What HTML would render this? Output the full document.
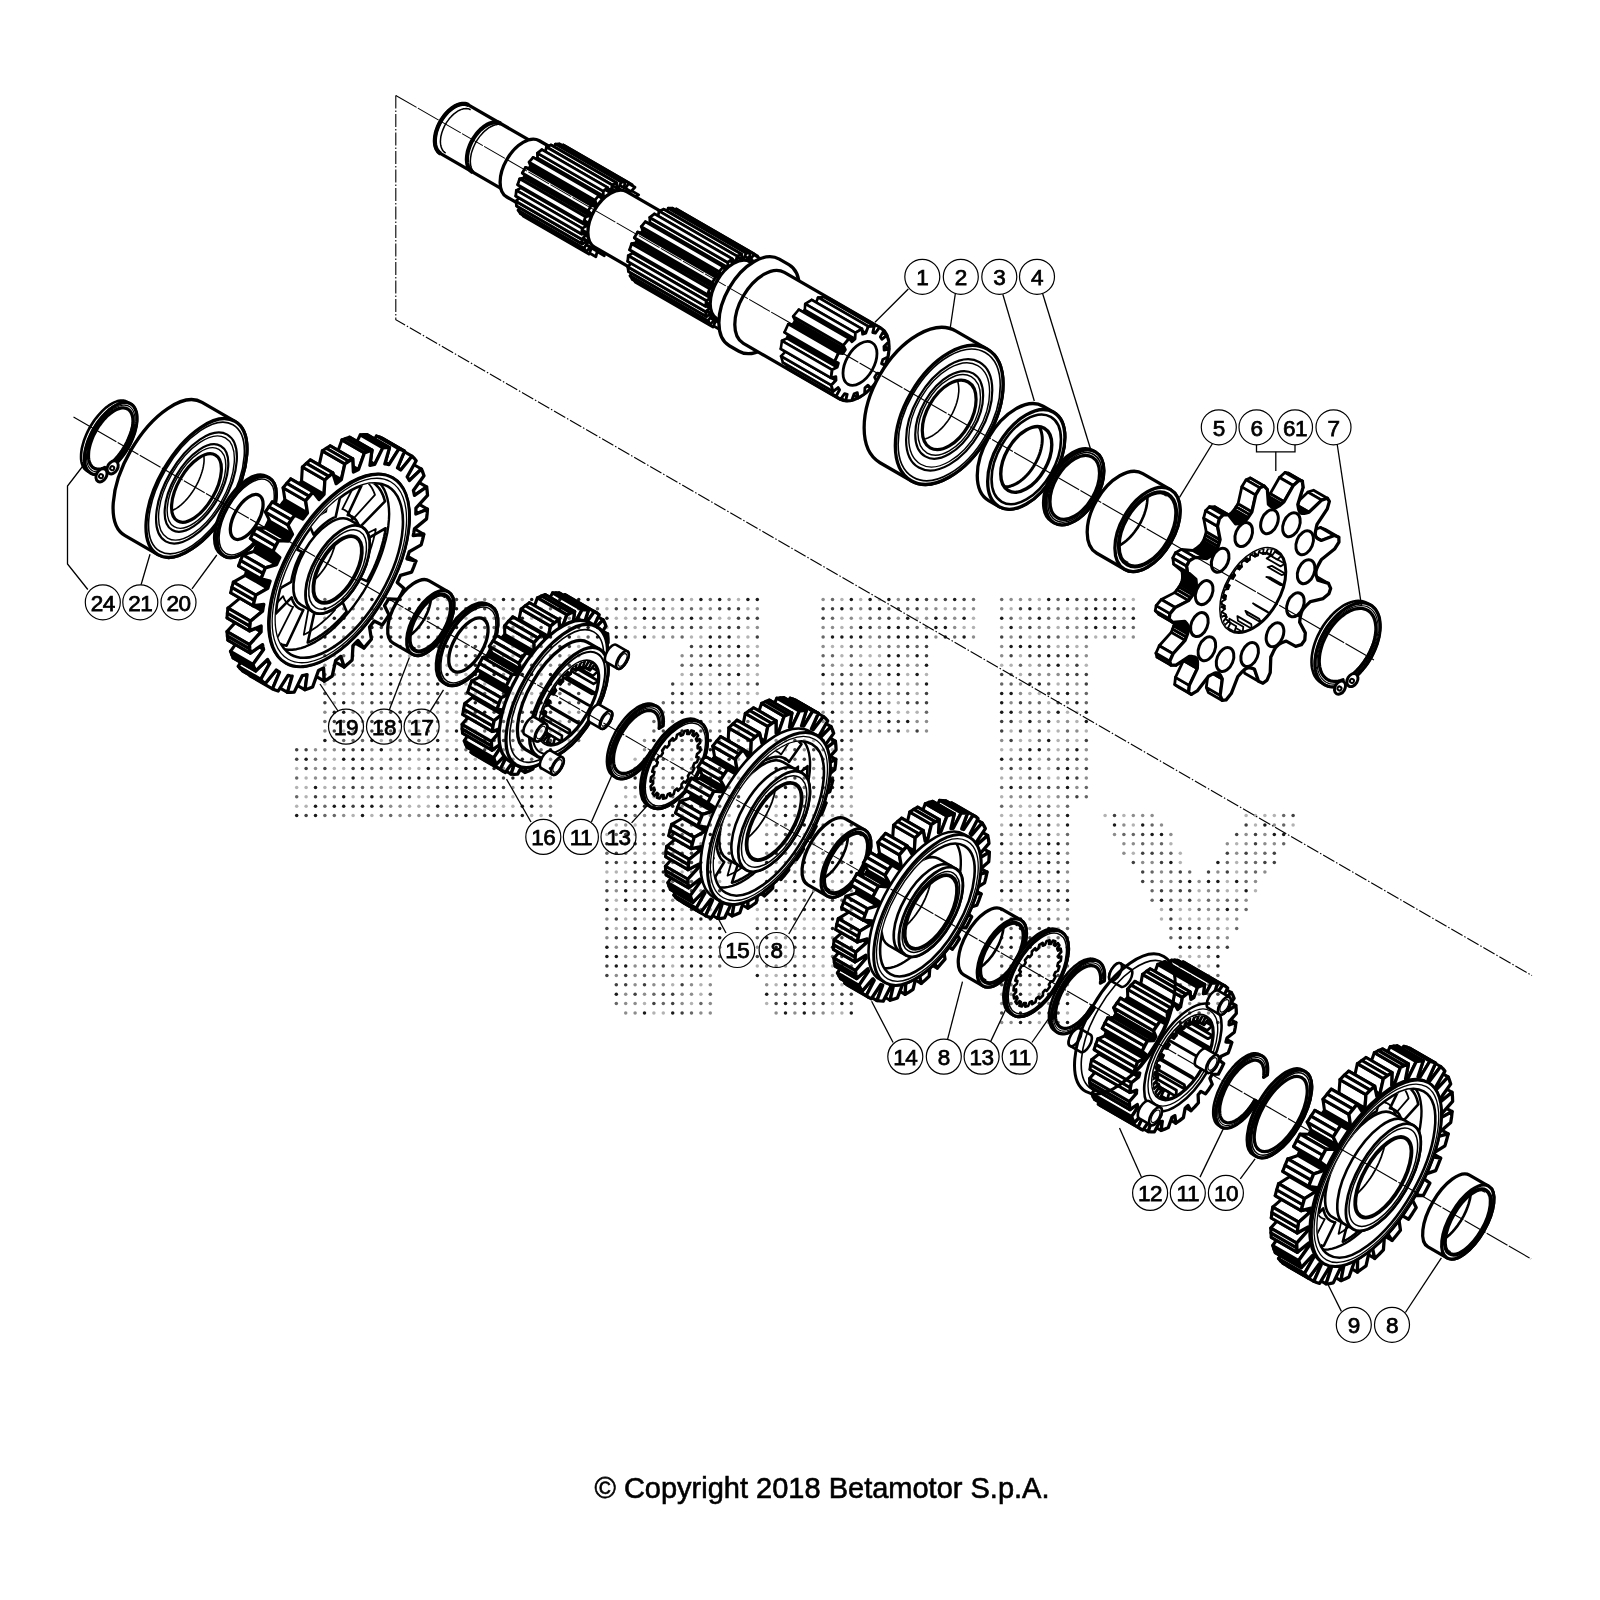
<!DOCTYPE html>
<html><head><meta charset="utf-8"><style>
html,body{margin:0;padding:0;background:#fff;}
svg{display:block;}
</style></head><body>
<svg width="1600" height="1600" viewBox="0 0 1600 1600" font-family="Liberation Sans, sans-serif">
<rect width="1600" height="1600" fill="#fff"/>
<path d="M395.8,95.4 L395.8,319.7 L1532,975.5" fill="none" stroke="#000" stroke-width="1.1" stroke-dasharray="13,2,1.5,2"/>
<g transform="translate(395.8,95.4) rotate(30)">
<path d="M68.0,-28.0 L147.0,-28.0 A16.2,28.0 0 0 1 147.0,28.0 L68.0,28.0 A16.2,28.0 0 0 1 68.0,-28.0 Z" fill="#fff" stroke="#000" stroke-width="3.3"/>
<path d="M68.0,28.0 L66.7,27.9 L65.5,27.7 L64.2,27.2 L63.0,26.6 L61.8,25.9 L60.6,24.9 L59.5,23.9 L58.5,22.7 L57.5,21.3 L56.5,19.8 L55.7,18.2 L54.9,16.5 L54.2,14.6 L53.5,12.7 L53.0,10.7 L52.6,8.7 L52.2,6.5 L52.0,4.4 L51.8,2.2 L51.8,0.0 L51.8,-2.2 L52.0,-4.4 L52.2,-6.5 L52.6,-8.7 L53.0,-10.7 L53.5,-12.7 L54.2,-14.6 L54.9,-16.5 L55.7,-18.2 L56.5,-19.8 L57.5,-21.3 L58.5,-22.7 L59.5,-23.9 L60.6,-24.9 L61.8,-25.9 L63.0,-26.6 L64.2,-27.2 L65.5,-27.7 L66.7,-27.9 L68.0,-28.0" fill="none" stroke="#000" stroke-width="4.2" stroke-linejoin="round"/>
<path d="M72.0,25.0 L70.9,24.9 L69.7,24.7 L68.6,24.3 L67.5,23.8 L66.5,23.1 L65.4,22.3 L64.4,21.3 L63.5,20.2 L62.6,19.0 L61.7,17.7 L61.0,16.2 L60.3,14.7 L59.6,13.1 L59.1,11.3 L58.6,9.6 L58.2,7.7 L57.9,5.8 L57.7,3.9 L57.5,2.0 L57.5,0.0 L57.5,-2.0 L57.7,-3.9 L57.9,-5.8 L58.2,-7.7 L58.6,-9.6 L59.1,-11.3 L59.6,-13.1 L60.3,-14.7 L61.0,-16.2 L61.7,-17.7 L62.6,-19.0 L63.5,-20.2 L64.4,-21.3 L65.4,-22.3 L66.5,-23.1 L67.5,-23.8 L68.6,-24.3 L69.7,-24.7 L70.9,-24.9 L72.0,-25.0" fill="none" stroke="#000" stroke-width="1.5" stroke-linejoin="round"/>
<path d="M105.0,28.0 L103.7,27.9 L102.5,27.7 L101.2,27.2 L100.0,26.6 L98.8,25.9 L97.6,24.9 L96.5,23.9 L95.5,22.7 L94.5,21.3 L93.5,19.8 L92.7,18.2 L91.9,16.5 L91.2,14.6 L90.5,12.7 L90.0,10.7 L89.6,8.7 L89.2,6.5 L89.0,4.4 L88.8,2.2 L88.8,0.0 L88.8,-2.2 L89.0,-4.4 L89.2,-6.5 L89.6,-8.7 L90.0,-10.7 L90.5,-12.7 L91.2,-14.6 L91.9,-16.5 L92.7,-18.2 L93.5,-19.8 L94.5,-21.3 L95.5,-22.7 L96.5,-23.9 L97.6,-24.9 L98.8,-25.9 L100.0,-26.6 L101.2,-27.2 L102.5,-27.7 L103.7,-27.9 L105.0,-28.0" fill="none" stroke="#000" stroke-width="4.2" stroke-linejoin="round"/>
<path d="M109.0,28.0 L107.7,27.9 L106.5,27.7 L105.2,27.2 L104.0,26.6 L102.8,25.9 L101.6,24.9 L100.5,23.9 L99.5,22.7 L98.5,21.3 L97.5,19.8 L96.7,18.2 L95.9,16.5 L95.2,14.6 L94.5,12.7 L94.0,10.7 L93.6,8.7 L93.2,6.5 L93.0,4.4 L92.8,2.2 L92.8,0.0 L92.8,-2.2 L93.0,-4.4 L93.2,-6.5 L93.6,-8.7 L94.0,-10.7 L94.5,-12.7 L95.2,-14.6 L95.9,-16.5 L96.7,-18.2 L97.5,-19.8 L98.5,-21.3 L99.5,-22.7 L100.5,-23.9 L101.6,-24.9 L102.8,-25.9 L104.0,-26.6 L105.2,-27.2 L106.5,-27.7 L107.7,-27.9 L109.0,-28.0" fill="none" stroke="#000" stroke-width="1.5" stroke-linejoin="round"/>
<path d="M147.0,-32.5 L180.0,-32.5 A18.8,32.5 0 0 1 180.0,32.5 L147.0,32.5 A18.8,32.5 0 0 1 147.0,-32.5 Z" fill="#fff" stroke="#000" stroke-width="3.3"/>
<path d="M194.1,15.0 L190.6,14.1 L266.6,14.1 L270.1,15.0 Z" fill="#fff" stroke="#000" stroke-width="2.8" stroke-linejoin="round"/>
<path d="M190.3,-15.2 L193.8,-16.4 L269.8,-16.4 L266.3,-15.2 Z" fill="#fff" stroke="#000" stroke-width="2.8" stroke-linejoin="round"/>
<path d="M190.4,26.1 L187.1,23.3 L263.1,23.3 L266.4,26.1 Z" fill="#fff" stroke="#000" stroke-width="2.8" stroke-linejoin="round"/>
<path d="M186.7,-24.2 L189.8,-27.2 L265.8,-27.2 L262.7,-24.2 Z" fill="#fff" stroke="#000" stroke-width="2.8" stroke-linejoin="round"/>
<path d="M184.8,34.6 L182.2,30.2 L258.2,30.2 L260.8,34.6 Z" fill="#fff" stroke="#000" stroke-width="2.8" stroke-linejoin="round"/>
<path d="M181.6,-30.8 L184.1,-35.3 L260.1,-35.3 L257.6,-30.8 Z" fill="#fff" stroke="#000" stroke-width="2.8" stroke-linejoin="round"/>
<path d="M178.0,39.7 L176.3,34.2 L252.3,34.2 L254.0,39.7 Z" fill="#fff" stroke="#000" stroke-width="2.8" stroke-linejoin="round"/>
<path d="M175.6,-34.4 L177.1,-40.0 L253.1,-40.0 L251.6,-34.4 Z" fill="#fff" stroke="#000" stroke-width="2.8" stroke-linejoin="round"/>
<path d="M169.7,-40.8 L173.4,-40.9 L249.4,-40.9 L245.7,-40.8 Z" fill="#fff" stroke="#000" stroke-width="2.8" stroke-linejoin="round"/>
<path d="M170.6,40.9 L170.0,34.8 L246.0,34.8 L246.6,40.9 Z" fill="#fff" stroke="#000" stroke-width="2.8" stroke-linejoin="round"/>
<path d="M169.3,-34.7 L169.7,-40.8 L245.7,-40.8 L245.3,-34.7 Z" fill="#fff" stroke="#000" stroke-width="2.8" stroke-linejoin="round"/>
<path d="M170.0,34.8 L168.4,34.4 L244.4,34.4 L246.0,34.8 Z" fill="#000" stroke="#000" stroke-width="2.8" stroke-linejoin="round"/>
<path d="M167.7,-34.2 L169.3,-34.7 L245.3,-34.7 L243.7,-34.2 Z" fill="#000" stroke="#000" stroke-width="2.8" stroke-linejoin="round"/>
<path d="M168.4,34.4 L166.9,40.0 L242.9,40.0 L244.4,34.4 Z" fill="#fff" stroke="#000" stroke-width="2.8" stroke-linejoin="round"/>
<path d="M166.0,-39.7 L167.7,-34.2 L243.7,-34.2 L242.0,-39.7 Z" fill="#fff" stroke="#000" stroke-width="2.8" stroke-linejoin="round"/>
<path d="M166.9,40.0 L163.3,38.2 L239.3,38.2 L242.9,40.0 Z" fill="#fff" stroke="#000" stroke-width="2.8" stroke-linejoin="round"/>
<path d="M162.5,-37.6 L166.0,-39.7 L242.0,-39.7 L238.5,-37.6 Z" fill="#fff" stroke="#000" stroke-width="2.8" stroke-linejoin="round"/>
<path d="M163.3,38.2 L163.8,32.0 L239.8,32.0 L239.3,38.2 Z" fill="#fff" stroke="#000" stroke-width="2.8" stroke-linejoin="round"/>
<path d="M163.8,32.0 L162.4,30.8 L238.4,30.8 L239.8,32.0 Z" fill="#000" stroke="#000" stroke-width="2.8" stroke-linejoin="round"/>
<path d="M163.2,-31.5 L162.5,-37.6 L238.5,-37.6 L239.2,-31.5 Z" fill="#fff" stroke="#000" stroke-width="2.8" stroke-linejoin="round"/>
<path d="M161.8,-30.2 L163.2,-31.5 L239.2,-31.5 L237.8,-30.2 Z" fill="#000" stroke="#000" stroke-width="2.8" stroke-linejoin="round"/>
<path d="M162.4,30.8 L159.9,35.3 L235.9,35.3 L238.4,30.8 Z" fill="#fff" stroke="#000" stroke-width="2.8" stroke-linejoin="round"/>
<path d="M159.2,-34.6 L161.8,-30.2 L237.8,-30.2 L235.2,-34.6 Z" fill="#fff" stroke="#000" stroke-width="2.8" stroke-linejoin="round"/>
<path d="M159.9,35.3 L156.9,31.6 L232.9,31.6 L235.9,35.3 Z" fill="#fff" stroke="#000" stroke-width="2.8" stroke-linejoin="round"/>
<path d="M158.5,26.1 L157.3,24.2 L233.3,24.2 L234.5,26.1 Z" fill="#000" stroke="#000" stroke-width="2.8" stroke-linejoin="round"/>
<path d="M156.2,-30.7 L159.2,-34.6 L235.2,-34.6 L232.2,-30.7 Z" fill="#fff" stroke="#000" stroke-width="2.8" stroke-linejoin="round"/>
<path d="M156.9,31.6 L158.5,26.1 L234.5,26.1 L232.9,31.6 Z" fill="#fff" stroke="#000" stroke-width="2.8" stroke-linejoin="round"/>
<path d="M156.9,-23.3 L158.0,-25.3 L234.0,-25.3 L232.9,-23.3 Z" fill="#000" stroke="#000" stroke-width="2.8" stroke-linejoin="round"/>
<path d="M158.0,-25.3 L156.2,-30.7 L232.2,-30.7 L234.0,-25.3 Z" fill="#fff" stroke="#000" stroke-width="2.8" stroke-linejoin="round"/>
<path d="M157.3,24.2 L154.2,27.2 L230.2,27.2 L233.3,24.2 Z" fill="#fff" stroke="#000" stroke-width="2.8" stroke-linejoin="round"/>
<path d="M153.6,-26.1 L156.9,-23.3 L232.9,-23.3 L229.6,-26.1 Z" fill="#fff" stroke="#000" stroke-width="2.8" stroke-linejoin="round"/>
<path d="M154.5,17.6 L153.7,15.2 L229.7,15.2 L230.5,17.6 Z" fill="#000" stroke="#000" stroke-width="2.8" stroke-linejoin="round"/>
<path d="M153.4,-14.1 L154.1,-16.6 L230.1,-16.6 L229.4,-14.1 Z" fill="#000" stroke="#000" stroke-width="2.8" stroke-linejoin="round"/>
<path d="M151.9,22.0 L154.5,17.6 L230.5,17.6 L227.9,22.0 Z" fill="#fff" stroke="#000" stroke-width="2.8" stroke-linejoin="round"/>
<path d="M154.2,27.2 L151.9,22.0 L227.9,22.0 L230.2,27.2 Z" fill="#fff" stroke="#000" stroke-width="2.8" stroke-linejoin="round"/>
<path d="M154.1,-16.6 L151.5,-20.8 L227.5,-20.8 L230.1,-16.6 Z" fill="#fff" stroke="#000" stroke-width="2.8" stroke-linejoin="round"/>
<path d="M151.5,-20.8 L153.6,-26.1 L229.6,-26.1 L227.5,-20.8 Z" fill="#fff" stroke="#000" stroke-width="2.8" stroke-linejoin="round"/>
<path d="M152.2,7.4 L151.9,4.7 L227.9,4.7 L228.2,7.4 Z" fill="#000" stroke="#000" stroke-width="2.8" stroke-linejoin="round"/>
<path d="M153.7,15.2 L150.2,16.4 L226.2,16.4 L229.7,15.2 Z" fill="#fff" stroke="#000" stroke-width="2.8" stroke-linejoin="round"/>
<path d="M151.8,-3.5 L152.0,-6.2 L228.0,-6.2 L227.8,-3.5 Z" fill="#000" stroke="#000" stroke-width="2.8" stroke-linejoin="round"/>
<path d="M149.9,-15.0 L153.4,-14.1 L229.4,-14.1 L225.9,-15.0 Z" fill="#fff" stroke="#000" stroke-width="2.8" stroke-linejoin="round"/>
<path d="M149.0,10.3 L152.2,7.4 L228.2,7.4 L225.0,10.3 Z" fill="#fff" stroke="#000" stroke-width="2.8" stroke-linejoin="round"/>
<path d="M152.0,-6.2 L148.8,-8.9 L224.8,-8.9 L228.0,-6.2 Z" fill="#fff" stroke="#000" stroke-width="2.8" stroke-linejoin="round"/>
<path d="M151.9,4.7 L148.3,3.9 L224.3,3.9 L227.9,4.7 Z" fill="#fff" stroke="#000" stroke-width="2.8" stroke-linejoin="round"/>
<path d="M148.3,-2.5 L151.8,-3.5 L227.8,-3.5 L224.3,-2.5 Z" fill="#fff" stroke="#000" stroke-width="2.8" stroke-linejoin="round"/>
<path d="M150.2,16.4 L149.0,10.3 L225.0,10.3 L226.2,16.4 Z" fill="#fff" stroke="#000" stroke-width="2.8" stroke-linejoin="round"/>
<path d="M148.8,-8.9 L149.9,-15.0 L225.9,-15.0 L224.8,-8.9 Z" fill="#fff" stroke="#000" stroke-width="2.8" stroke-linejoin="round"/>
<path d="M148.3,3.9 L148.3,-2.5 L224.3,-2.5 L224.3,3.9 Z" fill="#fff" stroke="#000" stroke-width="2.8" stroke-linejoin="round"/>
<path d="M248.0,-32.0 L305.0,-32.0 A18.6,32.0 0 0 1 305.0,32.0 L248.0,32.0 A18.6,32.0 0 0 1 248.0,-32.0 Z" fill="#fff" stroke="#000" stroke-width="3.3"/>
<path d="M324.7,15.4 L321.1,14.5 L411.1,14.5 L414.7,15.4 Z" fill="#fff" stroke="#000" stroke-width="2.8" stroke-linejoin="round"/>
<path d="M320.8,-15.7 L324.3,-16.8 L414.3,-16.8 L410.8,-15.7 Z" fill="#fff" stroke="#000" stroke-width="2.8" stroke-linejoin="round"/>
<path d="M320.8,26.7 L317.6,24.0 L407.6,24.0 L410.8,26.7 Z" fill="#fff" stroke="#000" stroke-width="2.8" stroke-linejoin="round"/>
<path d="M317.1,-24.9 L320.2,-27.8 L410.2,-27.8 L407.1,-24.9 Z" fill="#fff" stroke="#000" stroke-width="2.8" stroke-linejoin="round"/>
<path d="M315.1,35.4 L312.5,31.1 L402.5,31.1 L405.1,35.4 Z" fill="#fff" stroke="#000" stroke-width="2.8" stroke-linejoin="round"/>
<path d="M311.9,-31.7 L314.4,-36.2 L404.4,-36.2 L401.9,-31.7 Z" fill="#fff" stroke="#000" stroke-width="2.8" stroke-linejoin="round"/>
<path d="M308.1,40.7 L306.4,35.2 L396.4,35.2 L398.1,40.7 Z" fill="#fff" stroke="#000" stroke-width="2.8" stroke-linejoin="round"/>
<path d="M305.7,-35.4 L307.3,-41.0 L397.3,-41.0 L395.7,-35.4 Z" fill="#fff" stroke="#000" stroke-width="2.8" stroke-linejoin="round"/>
<path d="M299.7,-41.8 L303.5,-41.9 L393.5,-41.9 L389.7,-41.8 Z" fill="#fff" stroke="#000" stroke-width="2.8" stroke-linejoin="round"/>
<path d="M300.5,41.9 L299.9,35.8 L389.9,35.8 L390.5,41.9 Z" fill="#fff" stroke="#000" stroke-width="2.8" stroke-linejoin="round"/>
<path d="M299.2,-35.7 L299.7,-41.8 L389.7,-41.8 L389.2,-35.7 Z" fill="#fff" stroke="#000" stroke-width="2.8" stroke-linejoin="round"/>
<path d="M299.9,35.8 L298.3,35.4 L388.3,35.4 L389.9,35.8 Z" fill="#000" stroke="#000" stroke-width="2.8" stroke-linejoin="round"/>
<path d="M297.6,-35.2 L299.2,-35.7 L389.2,-35.7 L387.6,-35.2 Z" fill="#000" stroke="#000" stroke-width="2.8" stroke-linejoin="round"/>
<path d="M298.3,35.4 L296.7,41.0 L386.7,41.0 L388.3,35.4 Z" fill="#fff" stroke="#000" stroke-width="2.8" stroke-linejoin="round"/>
<path d="M295.9,-40.7 L297.6,-35.2 L387.6,-35.2 L385.9,-40.7 Z" fill="#fff" stroke="#000" stroke-width="2.8" stroke-linejoin="round"/>
<path d="M296.7,41.0 L293.1,39.1 L383.1,39.1 L386.7,41.0 Z" fill="#fff" stroke="#000" stroke-width="2.8" stroke-linejoin="round"/>
<path d="M292.3,-38.5 L295.9,-40.7 L385.9,-40.7 L382.3,-38.5 Z" fill="#fff" stroke="#000" stroke-width="2.8" stroke-linejoin="round"/>
<path d="M293.1,39.1 L293.6,33.0 L383.6,33.0 L383.1,39.1 Z" fill="#fff" stroke="#000" stroke-width="2.8" stroke-linejoin="round"/>
<path d="M293.6,33.0 L292.1,31.7 L382.1,31.7 L383.6,33.0 Z" fill="#000" stroke="#000" stroke-width="2.8" stroke-linejoin="round"/>
<path d="M292.9,-32.4 L292.3,-38.5 L382.3,-38.5 L382.9,-32.4 Z" fill="#fff" stroke="#000" stroke-width="2.8" stroke-linejoin="round"/>
<path d="M291.5,-31.1 L292.9,-32.4 L382.9,-32.4 L381.5,-31.1 Z" fill="#000" stroke="#000" stroke-width="2.8" stroke-linejoin="round"/>
<path d="M292.1,31.7 L289.6,36.2 L379.6,36.2 L382.1,31.7 Z" fill="#fff" stroke="#000" stroke-width="2.8" stroke-linejoin="round"/>
<path d="M288.9,-35.4 L291.5,-31.1 L381.5,-31.1 L378.9,-35.4 Z" fill="#fff" stroke="#000" stroke-width="2.8" stroke-linejoin="round"/>
<path d="M289.6,36.2 L286.5,32.4 L376.5,32.4 L379.6,36.2 Z" fill="#fff" stroke="#000" stroke-width="2.8" stroke-linejoin="round"/>
<path d="M288.1,26.9 L286.9,24.9 L376.9,24.9 L378.1,26.9 Z" fill="#000" stroke="#000" stroke-width="2.8" stroke-linejoin="round"/>
<path d="M285.9,-31.4 L288.9,-35.4 L378.9,-35.4 L375.9,-31.4 Z" fill="#fff" stroke="#000" stroke-width="2.8" stroke-linejoin="round"/>
<path d="M286.5,32.4 L288.1,26.9 L378.1,26.9 L376.5,32.4 Z" fill="#fff" stroke="#000" stroke-width="2.8" stroke-linejoin="round"/>
<path d="M286.4,-24.0 L287.6,-26.0 L377.6,-26.0 L376.4,-24.0 Z" fill="#000" stroke="#000" stroke-width="2.8" stroke-linejoin="round"/>
<path d="M287.6,-26.0 L285.9,-31.4 L375.9,-31.4 L377.6,-26.0 Z" fill="#fff" stroke="#000" stroke-width="2.8" stroke-linejoin="round"/>
<path d="M286.9,24.9 L283.8,27.8 L373.8,27.8 L376.9,24.9 Z" fill="#fff" stroke="#000" stroke-width="2.8" stroke-linejoin="round"/>
<path d="M283.2,-26.7 L286.4,-24.0 L376.4,-24.0 L373.2,-26.7 Z" fill="#fff" stroke="#000" stroke-width="2.8" stroke-linejoin="round"/>
<path d="M284.0,18.1 L283.2,15.7 L373.2,15.7 L374.0,18.1 Z" fill="#000" stroke="#000" stroke-width="2.8" stroke-linejoin="round"/>
<path d="M282.9,-14.5 L283.6,-17.0 L373.6,-17.0 L372.9,-14.5 Z" fill="#000" stroke="#000" stroke-width="2.8" stroke-linejoin="round"/>
<path d="M281.5,22.6 L284.0,18.1 L374.0,18.1 L371.5,22.6 Z" fill="#fff" stroke="#000" stroke-width="2.8" stroke-linejoin="round"/>
<path d="M283.8,27.8 L281.5,22.6 L371.5,22.6 L373.8,27.8 Z" fill="#fff" stroke="#000" stroke-width="2.8" stroke-linejoin="round"/>
<path d="M283.6,-17.0 L281.0,-21.3 L371.0,-21.3 L373.6,-17.0 Z" fill="#fff" stroke="#000" stroke-width="2.8" stroke-linejoin="round"/>
<path d="M281.0,-21.3 L283.2,-26.7 L373.2,-26.7 L371.0,-21.3 Z" fill="#fff" stroke="#000" stroke-width="2.8" stroke-linejoin="round"/>
<path d="M281.6,7.7 L281.3,4.9 L371.3,4.9 L371.6,7.7 Z" fill="#000" stroke="#000" stroke-width="2.8" stroke-linejoin="round"/>
<path d="M283.2,15.7 L279.7,16.8 L369.7,16.8 L373.2,15.7 Z" fill="#fff" stroke="#000" stroke-width="2.8" stroke-linejoin="round"/>
<path d="M281.2,-3.6 L281.5,-6.4 L371.5,-6.4 L371.2,-3.6 Z" fill="#000" stroke="#000" stroke-width="2.8" stroke-linejoin="round"/>
<path d="M279.3,-15.4 L282.9,-14.5 L372.9,-14.5 L369.3,-15.4 Z" fill="#fff" stroke="#000" stroke-width="2.8" stroke-linejoin="round"/>
<path d="M278.4,10.5 L281.6,7.7 L371.6,7.7 L368.4,10.5 Z" fill="#fff" stroke="#000" stroke-width="2.8" stroke-linejoin="round"/>
<path d="M281.5,-6.4 L278.2,-9.1 L368.2,-9.1 L371.5,-6.4 Z" fill="#fff" stroke="#000" stroke-width="2.8" stroke-linejoin="round"/>
<path d="M281.3,4.9 L277.8,4.0 L367.8,4.0 L371.3,4.9 Z" fill="#fff" stroke="#000" stroke-width="2.8" stroke-linejoin="round"/>
<path d="M277.7,-2.5 L281.2,-3.6 L371.2,-3.6 L367.7,-2.5 Z" fill="#fff" stroke="#000" stroke-width="2.8" stroke-linejoin="round"/>
<path d="M279.7,16.8 L278.4,10.5 L368.4,10.5 L369.7,16.8 Z" fill="#fff" stroke="#000" stroke-width="2.8" stroke-linejoin="round"/>
<path d="M278.2,-9.1 L279.3,-15.4 L369.3,-15.4 L368.2,-9.1 Z" fill="#fff" stroke="#000" stroke-width="2.8" stroke-linejoin="round"/>
<path d="M277.8,4.0 L277.7,-2.5 L367.7,-2.5 L367.8,4.0 Z" fill="#fff" stroke="#000" stroke-width="2.8" stroke-linejoin="round"/>
<path d="M390.0,-33.0 L418.0,-33.0 A19.1,33.0 0 0 1 418.0,33.0 L390.0,33.0 A19.1,33.0 0 0 1 390.0,-33.0 Z" fill="#fff" stroke="#000" stroke-width="3.3"/>
<path d="M414.0,-50.0 L425.0,-50.0 A29.0,50.0 0 0 1 425.0,50.0 L414.0,50.0 A29.0,50.0 0 0 1 414.0,-50.0 Z" fill="#fff" stroke="#000" stroke-width="3.3"/>
<path d="M425.0,-41.0 L536.0,-41.0 A23.8,41.0 0 0 1 536.0,41.0 L425.0,41.0 A23.8,41.0 0 0 1 425.0,-41.0 Z" fill="#fff" stroke="#000" stroke-width="3.3"/>
<path d="M496.8,-10.5 L500.9,-10.9 L558.9,-10.9 L554.8,-10.5 Z" fill="#fff" stroke="#000" stroke-width="2.6" stroke-linejoin="round"/>
<path d="M499.9,16.1 L495.8,14.8 L553.8,14.8 L557.9,16.1 Z" fill="#fff" stroke="#000" stroke-width="2.6" stroke-linejoin="round"/>
<path d="M492.3,-23.5 L495.9,-27.0 L553.9,-27.0 L550.3,-23.5 Z" fill="#fff" stroke="#000" stroke-width="2.6" stroke-linejoin="round"/>
<path d="M493.6,30.9 L490.3,26.6 L548.3,26.6 L551.6,30.9 Z" fill="#fff" stroke="#000" stroke-width="2.6" stroke-linejoin="round"/>
<path d="M484.9,-31.8 L487.3,-37.7 L545.3,-37.7 L542.9,-31.8 Z" fill="#fff" stroke="#000" stroke-width="2.6" stroke-linejoin="round"/>
<path d="M484.3,39.5 L482.4,33.1 L540.4,33.1 L542.3,39.5 Z" fill="#fff" stroke="#000" stroke-width="2.6" stroke-linejoin="round"/>
<path d="M476.2,-33.9 L476.9,-41.0 L534.9,-41.0 L534.2,-33.9 Z" fill="#fff" stroke="#000" stroke-width="2.6" stroke-linejoin="round"/>
<path d="M479.1,41.0 L473.8,40.3 L531.8,40.3 L537.1,41.0 Z" fill="#fff" stroke="#000" stroke-width="2.6" stroke-linejoin="round"/>
<path d="M473.6,-33.1 L476.2,-33.9 L534.2,-33.9 L531.6,-33.1 Z" fill="#000" stroke="#000" stroke-width="2.6" stroke-linejoin="round"/>
<path d="M473.8,40.3 L473.6,33.1 L531.6,33.1 L531.8,40.3 Z" fill="#fff" stroke="#000" stroke-width="2.6" stroke-linejoin="round"/>
<path d="M471.7,-39.5 L473.6,-33.1 L531.6,-33.1 L529.7,-39.5 Z" fill="#fff" stroke="#000" stroke-width="2.6" stroke-linejoin="round"/>
<path d="M473.6,33.1 L471.1,31.8 L529.1,31.8 L531.6,33.1 Z" fill="#000" stroke="#000" stroke-width="2.6" stroke-linejoin="round"/>
<path d="M471.1,31.8 L468.7,37.7 L526.7,37.7 L529.1,31.8 Z" fill="#fff" stroke="#000" stroke-width="2.6" stroke-linejoin="round"/>
<path d="M466.7,-36.1 L471.7,-39.5 L529.7,-39.5 L524.7,-36.1 Z" fill="#fff" stroke="#000" stroke-width="2.6" stroke-linejoin="round"/>
<path d="M467.9,-29.2 L466.7,-36.1 L524.7,-36.1 L525.9,-29.2 Z" fill="#fff" stroke="#000" stroke-width="2.6" stroke-linejoin="round"/>
<path d="M465.7,-26.6 L467.9,-29.2 L525.9,-29.2 L523.7,-26.6 Z" fill="#000" stroke="#000" stroke-width="2.6" stroke-linejoin="round"/>
<path d="M468.7,37.7 L464.0,33.2 L522.0,33.2 L526.7,37.7 Z" fill="#fff" stroke="#000" stroke-width="2.6" stroke-linejoin="round"/>
<path d="M464.0,33.2 L465.7,26.6 L523.7,26.6 L522.0,33.2 Z" fill="#fff" stroke="#000" stroke-width="2.6" stroke-linejoin="round"/>
<path d="M465.7,26.6 L463.7,23.5 L521.7,23.5 L523.7,26.6 Z" fill="#000" stroke="#000" stroke-width="2.6" stroke-linejoin="round"/>
<path d="M462.4,-30.9 L465.7,-26.6 L523.7,-26.6 L520.4,-30.9 Z" fill="#fff" stroke="#000" stroke-width="2.6" stroke-linejoin="round"/>
<path d="M463.7,23.5 L460.1,27.0 L518.1,27.0 L521.7,23.5 Z" fill="#fff" stroke="#000" stroke-width="2.6" stroke-linejoin="round"/>
<path d="M460.2,-14.8 L461.5,-18.7 L519.5,-18.7 L518.2,-14.8 Z" fill="#000" stroke="#000" stroke-width="2.6" stroke-linejoin="round"/>
<path d="M458.8,-24.1 L462.4,-30.9 L520.4,-30.9 L516.8,-24.1 Z" fill="#fff" stroke="#000" stroke-width="2.6" stroke-linejoin="round"/>
<path d="M461.5,-18.7 L458.8,-24.1 L516.8,-24.1 L519.5,-18.7 Z" fill="#fff" stroke="#000" stroke-width="2.6" stroke-linejoin="round"/>
<path d="M460.2,14.8 L459.2,10.5 L517.2,10.5 L518.2,14.8 Z" fill="#000" stroke="#000" stroke-width="2.6" stroke-linejoin="round"/>
<path d="M457.1,19.4 L460.2,14.8 L518.2,14.8 L515.1,19.4 Z" fill="#fff" stroke="#000" stroke-width="2.6" stroke-linejoin="round"/>
<path d="M460.1,27.0 L457.1,19.4 L515.1,19.4 L518.1,27.0 Z" fill="#fff" stroke="#000" stroke-width="2.6" stroke-linejoin="round"/>
<path d="M458.3,0.0 L458.5,-4.6 L516.5,-4.6 L516.3,0.0 Z" fill="#000" stroke="#000" stroke-width="2.6" stroke-linejoin="round"/>
<path d="M456.1,-16.1 L460.2,-14.8 L518.2,-14.8 L514.1,-16.1 Z" fill="#fff" stroke="#000" stroke-width="2.6" stroke-linejoin="round"/>
<path d="M459.2,10.5 L455.1,10.9 L513.1,10.9 L517.2,10.5 Z" fill="#fff" stroke="#000" stroke-width="2.6" stroke-linejoin="round"/>
<path d="M458.5,-4.6 L454.6,-7.3 L512.6,-7.3 L516.5,-4.6 Z" fill="#fff" stroke="#000" stroke-width="2.6" stroke-linejoin="round"/>
<path d="M454.2,1.8 L458.3,0.0 L516.3,0.0 L512.2,1.8 Z" fill="#fff" stroke="#000" stroke-width="2.6" stroke-linejoin="round"/>
<path d="M454.6,-7.3 L456.1,-16.1 L514.1,-16.1 L512.6,-7.3 Z" fill="#fff" stroke="#000" stroke-width="2.6" stroke-linejoin="round"/>
<path d="M455.1,10.9 L454.2,1.8 L512.2,1.8 L513.1,10.9 Z" fill="#fff" stroke="#000" stroke-width="2.6" stroke-linejoin="round"/>
<path d="M555.7,0.0 L555.5,4.6 L559.4,7.3 L557.9,16.1 L553.8,14.8 L552.5,18.7 L555.2,24.1 L551.6,30.9 L548.3,26.6 L546.1,29.2 L547.3,36.1 L542.3,39.5 L540.4,33.1 L537.8,33.9 L537.1,41.0 L531.8,40.3 L531.6,33.1 L529.1,31.8 L526.7,37.7 L522.0,33.2 L523.7,26.6 L521.7,23.5 L518.1,27.0 L515.1,19.4 L518.2,14.8 L517.2,10.5 L513.1,10.9 L512.2,1.8 L516.3,0.0 L516.5,-4.6 L512.6,-7.3 L514.1,-16.1 L518.2,-14.8 L519.5,-18.7 L516.8,-24.1 L520.4,-30.9 L523.7,-26.6 L525.9,-29.2 L524.7,-36.1 L529.7,-39.5 L531.6,-33.1 L534.2,-33.9 L534.9,-41.0 L540.2,-40.3 L540.4,-33.1 L542.9,-31.8 L545.3,-37.7 L550.0,-33.2 L548.3,-26.6 L550.3,-23.5 L553.9,-27.0 L556.9,-19.4 L553.8,-14.8 L554.8,-10.5 L558.9,-10.9 L559.8,-1.8 Z" fill="#fff" stroke="#000" stroke-width="2.8" stroke-linejoin="round"/>
<ellipse cx="536.0" cy="0.0" rx="13.9" ry="24.0" fill="#fff" stroke="#000" stroke-width="2.8"/>
<path d="M603.0,-76.0 L639.0,-76.0 A44.1,76.0 0 0 1 639.0,76.0 L603.0,76.0 A44.1,76.0 0 0 1 603.0,-76.0 Z" fill="#fff" stroke="#000" stroke-width="3.3"/>
<ellipse cx="639.0" cy="0.0" rx="44.1" ry="76.0" fill="#fff" stroke="#000" stroke-width="3.3"/>
<ellipse cx="639.0" cy="0.0" rx="41.8" ry="72.0" fill="none" stroke="#000" stroke-width="1.6"/>
<ellipse cx="639.0" cy="0.0" rx="35.3" ry="60.8" fill="none" stroke="#000" stroke-width="2.2"/>
<ellipse cx="639.0" cy="0.0" rx="33.1" ry="57.0" fill="none" stroke="#000" stroke-width="1.4"/>
<ellipse cx="639.0" cy="0.0" rx="27.8" ry="47.9" fill="none" stroke="#000" stroke-width="2.2"/>
<ellipse cx="639.0" cy="0.0" rx="25.6" ry="44.1" fill="none" stroke="#000" stroke-width="1.4"/>
<ellipse cx="639.0" cy="0.0" rx="22.0" ry="38.0" fill="#fff" stroke="#000" stroke-width="3.2"/>
<clipPath id="c1"><ellipse cx="639.0" cy="0" rx="22.0" ry="38.0"/></clipPath><g clip-path="url(#c1)"><path d="M619.0,-38.0 L620.7,-37.9 L622.4,-37.5 L624.1,-37.0 L625.8,-36.1 L627.4,-35.1 L629.0,-33.9 L630.5,-32.4 L632.0,-30.7 L633.3,-28.9 L634.6,-26.9 L635.8,-24.7 L636.8,-22.3 L637.8,-19.9 L638.6,-17.3 L639.4,-14.5 L640.0,-11.7 L640.4,-8.9 L640.8,-5.9 L641.0,-3.0 L641.0,0.0 L641.0,3.0 L640.8,5.9 L640.4,8.9 L640.0,11.7 L639.4,14.5 L638.6,17.3 L637.8,19.9 L636.8,22.3 L635.8,24.7 L634.6,26.9 L633.3,28.9 L632.0,30.7 L630.5,32.4 L629.0,33.9 L627.4,35.1 L625.8,36.1 L624.1,37.0 L622.4,37.5 L620.7,37.9 L619.0,38.0" fill="none" stroke="#000" stroke-width="1.6" stroke-linejoin="round"/></g>
<path d="M716.0,-54.5 L728.0,-54.5 A31.6,54.5 0 0 1 728.0,54.5 L716.0,54.5 A31.6,54.5 0 0 1 716.0,-54.5 Z" fill="#fff" stroke="#000" stroke-width="3.3"/>
<ellipse cx="728.0" cy="0.0" rx="31.6" ry="54.5" fill="#fff" stroke="#000" stroke-width="3.3"/>
<ellipse cx="728.0" cy="0.0" rx="28.4" ry="49.0" fill="none" stroke="#000" stroke-width="2.6"/>
<ellipse cx="728.0" cy="0.0" rx="20.9" ry="36.0" fill="#fff" stroke="#000" stroke-width="3.4"/>
<clipPath id="c2"><ellipse cx="728.0" cy="0" rx="20.9" ry="36.0"/></clipPath><g clip-path="url(#c2)"><path d="M717.0,-36.0 L718.6,-35.9 L720.3,-35.6 L721.9,-35.0 L723.5,-34.2 L725.0,-33.3 L726.5,-32.1 L727.9,-30.7 L729.3,-29.1 L730.6,-27.4 L731.8,-25.5 L732.9,-23.4 L733.9,-21.2 L734.8,-18.8 L735.6,-16.3 L736.3,-13.8 L736.9,-11.1 L737.3,-8.4 L737.6,-5.6 L737.8,-2.8 L737.9,0.0 L737.8,2.8 L737.6,5.6 L737.3,8.4 L736.9,11.1 L736.3,13.8 L735.6,16.3 L734.8,18.8 L733.9,21.2 L732.9,23.4 L731.8,25.5 L730.6,27.4 L729.3,29.1 L727.9,30.7 L726.5,32.1 L725.0,33.3 L723.5,34.2 L721.9,35.0 L720.3,35.6 L718.6,35.9 L717.0,36.0" fill="none" stroke="#000" stroke-width="3.0" stroke-linejoin="round"/></g>
<path d="M781.5,-41.0 L784.0,-41.0 A23.8,41.0 0 0 1 784.0,41.0 L781.5,41.0 A23.8,41.0 0 0 1 781.5,-41.0 Z" fill="#fff" stroke="#000" stroke-width="3.3"/>
<ellipse cx="784.0" cy="0.0" rx="23.8" ry="41.0" fill="#fff" stroke="#000" stroke-width="3.3"/>
<ellipse cx="784.0" cy="0.0" rx="22.0" ry="38.0" fill="none" stroke="#000" stroke-width="1.4849999999999999"/>
<ellipse cx="784.0" cy="0.0" rx="20.3" ry="35.0" fill="#fff" stroke="#000" stroke-width="3.3"/>
<path d="M836.0,-46.0 L868.0,-46.0 A26.7,46.0 0 0 1 868.0,46.0 L836.0,46.0 A26.7,46.0 0 0 1 836.0,-46.0 Z" fill="#fff" stroke="#000" stroke-width="3.3"/>
<ellipse cx="868.0" cy="0.0" rx="26.7" ry="46.0" fill="#fff" stroke="#000" stroke-width="3.3"/>
<ellipse cx="868.0" cy="0.0" rx="23.5" ry="40.5" fill="#fff" stroke="#000" stroke-width="3.9599999999999995"/>
<clipPath id="c3"><ellipse cx="868.0" cy="0" rx="22.6" ry="39.0"/></clipPath><g clip-path="url(#c3)"><path d="M836.0,-39.0 L837.8,-38.9 L839.5,-38.5 L841.3,-37.9 L843.0,-37.1 L844.7,-36.0 L846.3,-34.7 L847.8,-33.3 L849.3,-31.6 L850.7,-29.7 L852.0,-27.6 L853.2,-25.3 L854.3,-22.9 L855.3,-20.4 L856.2,-17.7 L856.9,-14.9 L857.5,-12.1 L858.0,-9.1 L858.3,-6.1 L858.6,-3.1 L858.6,0.0 L858.6,3.1 L858.3,6.1 L858.0,9.1 L857.5,12.1 L856.9,14.9 L856.2,17.7 L855.3,20.4 L854.3,22.9 L853.2,25.3 L852.0,27.6 L850.7,29.7 L849.3,31.6 L847.8,33.3 L846.3,34.7 L844.7,36.0 L843.0,37.1 L841.3,37.9 L839.5,38.5 L837.8,38.9 L836.0,39.0" fill="none" stroke="#000" stroke-width="2.64" stroke-linejoin="round"/><line x1="836.0" y1="-39.0" x2="868.0" y2="-39.0" stroke="#000" stroke-width="2.64"/><line x1="836.0" y1="39.0" x2="868.0" y2="39.0" stroke="#000" stroke-width="2.64"/></g>
<path d="M1024.9,-41.2 L1035.7,-43.7 L1051.7,-43.7 L1040.9,-41.2 Z" fill="#fff" stroke="#000" stroke-width="2.8" stroke-linejoin="round"/>
<path d="M1016.8,-88.1 L1021.6,-88.9 L1037.6,-88.9 L1032.8,-88.1 Z" fill="#fff" stroke="#000" stroke-width="2.8" stroke-linejoin="round"/>
<path d="M1024.1,76.0 L1014.4,67.5 L1030.4,67.5 L1040.1,76.0 Z" fill="#fff" stroke="#000" stroke-width="2.8" stroke-linejoin="round"/>
<path d="M1008.0,-77.3 L1016.8,-88.1 L1032.8,-88.1 L1024.0,-77.3 Z" fill="#fff" stroke="#000" stroke-width="2.8" stroke-linejoin="round"/>
<path d="M1005.9,-77.1 L1008.0,-77.3 L1024.0,-77.3 L1021.9,-77.1 Z" fill="#fff" stroke="#000" stroke-width="2.8" stroke-linejoin="round"/>
<path d="M1002.2,110.8 L997.9,107.4 L1013.9,107.4 L1018.2,110.8 Z" fill="#fff" stroke="#000" stroke-width="2.8" stroke-linejoin="round"/>
<path d="M997.9,107.4 L991.6,92.2 L1007.6,92.2 L1013.9,107.4 Z" fill="#fff" stroke="#000" stroke-width="2.8" stroke-linejoin="round"/>
<path d="M991.6,92.2 L989.6,90.8 L1005.6,90.8 L1007.6,92.2 Z" fill="#fff" stroke="#000" stroke-width="2.8" stroke-linejoin="round"/>
<path d="M988.2,-112.4 L992.2,-116.9 L1008.2,-116.9 L1004.2,-112.4 Z" fill="#fff" stroke="#000" stroke-width="2.8" stroke-linejoin="round"/>
<path d="M989.6,90.8 L987.7,89.7 L1003.7,89.7 L1005.6,90.8 Z" fill="#fff" stroke="#000" stroke-width="2.8" stroke-linejoin="round"/>
<path d="M987.7,89.7 L985.9,89.1 L1001.9,89.1 L1003.7,89.7 Z" fill="#fff" stroke="#000" stroke-width="2.8" stroke-linejoin="round"/>
<path d="M983.3,-95.7 L988.2,-112.4 L1004.2,-112.4 L999.3,-95.7 Z" fill="#fff" stroke="#000" stroke-width="2.8" stroke-linejoin="round"/>
<path d="M981.4,-93.8 L983.3,-95.7 L999.3,-95.7 L997.4,-93.8 Z" fill="#fff" stroke="#000" stroke-width="2.8" stroke-linejoin="round"/>
<path d="M979.7,-92.2 L981.4,-93.8 L997.4,-93.8 L995.7,-92.2 Z" fill="#fff" stroke="#000" stroke-width="2.8" stroke-linejoin="round"/>
<path d="M978.0,-91.2 L979.7,-92.2 L995.7,-92.2 L994.0,-91.2 Z" fill="#fff" stroke="#000" stroke-width="2.8" stroke-linejoin="round"/>
<path d="M976.4,-90.9 L978.0,-91.2 L994.0,-91.2 L992.4,-90.9 Z" fill="#000" stroke="#000" stroke-width="2.8" stroke-linejoin="round"/>
<path d="M973.2,-92.7 L974.8,-91.4 L990.8,-91.4 L989.2,-92.7 Z" fill="#fff" stroke="#000" stroke-width="2.8" stroke-linejoin="round"/>
<path d="M971.5,-94.6 L973.2,-92.7 L989.2,-92.7 L987.5,-94.6 Z" fill="#fff" stroke="#000" stroke-width="2.8" stroke-linejoin="round"/>
<path d="M972.5,121.0 L969.1,120.7 L985.1,120.7 L988.5,121.0 Z" fill="#fff" stroke="#000" stroke-width="2.8" stroke-linejoin="round"/>
<path d="M969.7,-96.7 L971.5,-94.6 L987.5,-94.6 L985.7,-96.7 Z" fill="#fff" stroke="#000" stroke-width="2.8" stroke-linejoin="round"/>
<path d="M965.7,-114.1 L969.7,-96.7 L985.7,-96.7 L981.7,-114.1 Z" fill="#fff" stroke="#000" stroke-width="2.8" stroke-linejoin="round"/>
<path d="M969.1,120.7 L966.2,114.2 L982.2,114.2 L985.1,120.7 Z" fill="#fff" stroke="#000" stroke-width="2.8" stroke-linejoin="round"/>
<path d="M966.2,114.2 L964.7,95.7 L980.7,95.7 L982.2,114.2 Z" fill="#fff" stroke="#000" stroke-width="2.8" stroke-linejoin="round"/>
<path d="M964.7,95.7 L963.3,92.9 L979.3,92.9 L980.7,95.7 Z" fill="#fff" stroke="#000" stroke-width="2.8" stroke-linejoin="round"/>
<path d="M962.0,-119.2 L965.7,-114.1 L981.7,-114.1 L978.0,-119.2 Z" fill="#fff" stroke="#000" stroke-width="2.8" stroke-linejoin="round"/>
<path d="M963.3,92.9 L961.9,90.4 L977.9,90.4 L979.3,92.9 Z" fill="#fff" stroke="#000" stroke-width="2.8" stroke-linejoin="round"/>
<path d="M961.9,90.4 L960.5,88.5 L976.5,88.5 L977.9,90.4 Z" fill="#fff" stroke="#000" stroke-width="2.8" stroke-linejoin="round"/>
<path d="M958.6,-118.1 L962.0,-119.2 L978.0,-119.2 L974.6,-118.1 Z" fill="#fff" stroke="#000" stroke-width="2.8" stroke-linejoin="round"/>
<path d="M960.5,88.5 L959.1,87.3 L975.1,87.3 L976.5,88.5 Z" fill="#000" stroke="#000" stroke-width="2.8" stroke-linejoin="round"/>
<path d="M959.1,87.3 L957.5,86.9 L973.5,86.9 L975.1,87.3 Z" fill="#000" stroke="#000" stroke-width="2.8" stroke-linejoin="round"/>
<path d="M956.3,-110.9 L958.6,-118.1 L974.6,-118.1 L972.3,-110.9 Z" fill="#fff" stroke="#000" stroke-width="2.8" stroke-linejoin="round"/>
<path d="M957.5,86.9 L955.7,87.2 L971.7,87.2 L973.5,86.9 Z" fill="#fff" stroke="#000" stroke-width="2.8" stroke-linejoin="round"/>
<path d="M956.4,-92.2 L956.3,-110.9 L972.3,-110.9 L972.4,-92.2 Z" fill="#fff" stroke="#000" stroke-width="2.8" stroke-linejoin="round"/>
<path d="M955.3,-89.0 L956.4,-92.2 L972.4,-92.2 L971.3,-89.0 Z" fill="#fff" stroke="#000" stroke-width="2.8" stroke-linejoin="round"/>
<path d="M955.7,87.2 L953.8,88.0 L969.8,88.0 L971.7,87.2 Z" fill="#fff" stroke="#000" stroke-width="2.8" stroke-linejoin="round"/>
<path d="M954.2,-86.2 L955.3,-89.0 L971.3,-89.0 L970.2,-86.2 Z" fill="#fff" stroke="#000" stroke-width="2.8" stroke-linejoin="round"/>
<path d="M952.9,-83.9 L954.2,-86.2 L970.2,-86.2 L968.9,-83.9 Z" fill="#fff" stroke="#000" stroke-width="2.8" stroke-linejoin="round"/>
<path d="M953.8,88.0 L951.7,89.1 L967.7,89.1 L969.8,88.0 Z" fill="#fff" stroke="#000" stroke-width="2.8" stroke-linejoin="round"/>
<path d="M951.6,-82.4 L952.9,-83.9 L968.9,-83.9 L967.6,-82.4 Z" fill="#000" stroke="#000" stroke-width="2.8" stroke-linejoin="round"/>
<path d="M950.0,-81.6 L951.6,-82.4 L967.6,-82.4 L966.0,-81.6 Z" fill="#000" stroke="#000" stroke-width="2.8" stroke-linejoin="round"/>
<path d="M948.3,-81.5 L950.0,-81.6 L966.0,-81.6 L964.3,-81.5 Z" fill="#fff" stroke="#000" stroke-width="2.8" stroke-linejoin="round"/>
<path d="M951.7,89.1 L944.6,103.3 L960.6,103.3 L967.7,89.1 Z" fill="#fff" stroke="#000" stroke-width="2.8" stroke-linejoin="round"/>
<path d="M946.3,-81.8 L948.3,-81.5 L964.3,-81.5 L962.3,-81.8 Z" fill="#fff" stroke="#000" stroke-width="2.8" stroke-linejoin="round"/>
<path d="M944.2,-82.2 L946.3,-81.8 L962.3,-81.8 L960.2,-82.2 Z" fill="#fff" stroke="#000" stroke-width="2.8" stroke-linejoin="round"/>
<path d="M944.6,103.3 L940.1,105.9 L956.1,105.9 L960.6,103.3 Z" fill="#fff" stroke="#000" stroke-width="2.8" stroke-linejoin="round"/>
<path d="M935.9,-94.4 L944.2,-82.2 L960.2,-82.2 L951.9,-94.4 Z" fill="#fff" stroke="#000" stroke-width="2.8" stroke-linejoin="round"/>
<path d="M940.0,77.3 L939.5,73.7 L955.5,73.7 L956.0,77.3 Z" fill="#fff" stroke="#000" stroke-width="2.8" stroke-linejoin="round"/>
<path d="M939.5,73.7 L938.9,70.4 L954.9,70.4 L955.5,73.7 Z" fill="#fff" stroke="#000" stroke-width="2.8" stroke-linejoin="round"/>
<path d="M940.1,105.9 L937.2,103.0 L953.2,103.0 L956.1,105.9 Z" fill="#fff" stroke="#000" stroke-width="2.8" stroke-linejoin="round"/>
<path d="M938.9,70.4 L938.2,67.6 L954.2,67.6 L954.9,70.4 Z" fill="#fff" stroke="#000" stroke-width="2.8" stroke-linejoin="round"/>
<path d="M936.3,94.9 L940.0,77.3 L956.0,77.3 L952.3,94.9 Z" fill="#fff" stroke="#000" stroke-width="2.8" stroke-linejoin="round"/>
<path d="M938.2,67.6 L937.3,65.3 L953.3,65.3 L954.2,67.6 Z" fill="#000" stroke="#000" stroke-width="2.8" stroke-linejoin="round"/>
<path d="M937.2,103.0 L936.3,94.9 L952.3,94.9 L953.2,103.0 Z" fill="#fff" stroke="#000" stroke-width="2.8" stroke-linejoin="round"/>
<path d="M937.3,65.3 L935.9,63.7 L951.9,63.7 L953.3,65.3 Z" fill="#000" stroke="#000" stroke-width="2.8" stroke-linejoin="round"/>
<path d="M935.9,63.7 L934.3,62.6 L950.3,62.6 L951.9,63.7 Z" fill="#fff" stroke="#000" stroke-width="2.8" stroke-linejoin="round"/>
<path d="M931.2,-95.9 L935.9,-94.4 L951.9,-94.4 L947.2,-95.9 Z" fill="#fff" stroke="#000" stroke-width="2.8" stroke-linejoin="round"/>
<path d="M933.4,-63.8 L933.6,-67.5 L949.6,-67.5 L949.4,-63.8 Z" fill="#fff" stroke="#000" stroke-width="2.8" stroke-linejoin="round"/>
<path d="M934.3,62.6 L932.4,61.7 L948.4,61.7 L950.3,62.6 Z" fill="#fff" stroke="#000" stroke-width="2.8" stroke-linejoin="round"/>
<path d="M933.2,-60.4 L933.4,-63.8 L949.4,-63.8 L949.2,-60.4 Z" fill="#fff" stroke="#000" stroke-width="2.8" stroke-linejoin="round"/>
<path d="M932.7,-57.5 L933.2,-60.4 L949.2,-60.4 L948.7,-57.5 Z" fill="#fff" stroke="#000" stroke-width="2.8" stroke-linejoin="round"/>
<path d="M932.0,-55.0 L932.7,-57.5 L948.7,-57.5 L948.0,-55.0 Z" fill="#000" stroke="#000" stroke-width="2.8" stroke-linejoin="round"/>
<path d="M930.8,-53.1 L932.0,-55.0 L948.0,-55.0 L946.8,-53.1 Z" fill="#000" stroke="#000" stroke-width="2.8" stroke-linejoin="round"/>
<path d="M932.4,61.7 L930.3,61.0 L946.3,61.0 L948.4,61.7 Z" fill="#fff" stroke="#000" stroke-width="2.8" stroke-linejoin="round"/>
<path d="M933.6,-67.5 L928.4,-84.0 L944.4,-84.0 L949.6,-67.5 Z" fill="#fff" stroke="#000" stroke-width="2.8" stroke-linejoin="round"/>
<path d="M929.3,-51.5 L930.8,-53.1 L946.8,-53.1 L945.3,-51.5 Z" fill="#fff" stroke="#000" stroke-width="2.8" stroke-linejoin="round"/>
<path d="M928.6,-92.2 L931.2,-95.9 L947.2,-95.9 L944.6,-92.2 Z" fill="#fff" stroke="#000" stroke-width="2.8" stroke-linejoin="round"/>
<path d="M928.4,-84.0 L928.6,-92.2 L944.6,-92.2 L944.4,-84.0 Z" fill="#fff" stroke="#000" stroke-width="2.8" stroke-linejoin="round"/>
<path d="M927.4,-50.2 L929.3,-51.5 L945.3,-51.5 L943.4,-50.2 Z" fill="#fff" stroke="#000" stroke-width="2.8" stroke-linejoin="round"/>
<path d="M925.4,-48.9 L927.4,-50.2 L943.4,-50.2 L941.4,-48.9 Z" fill="#fff" stroke="#000" stroke-width="2.8" stroke-linejoin="round"/>
<path d="M930.3,61.0 L920.2,67.9 L936.2,67.9 L946.3,61.0 Z" fill="#fff" stroke="#000" stroke-width="2.8" stroke-linejoin="round"/>
<path d="M924.0,34.2 L924.1,31.2 L940.1,31.2 L940.0,34.2 Z" fill="#fff" stroke="#000" stroke-width="2.8" stroke-linejoin="round"/>
<path d="M924.1,31.2 L923.9,28.4 L939.9,28.4 L940.1,31.2 Z" fill="#000" stroke="#000" stroke-width="2.8" stroke-linejoin="round"/>
<path d="M923.6,37.6 L924.0,34.2 L940.0,34.2 L939.6,37.6 Z" fill="#fff" stroke="#000" stroke-width="2.8" stroke-linejoin="round"/>
<path d="M923.9,28.4 L923.1,25.9 L939.1,25.9 L939.9,28.4 Z" fill="#000" stroke="#000" stroke-width="2.8" stroke-linejoin="round"/>
<path d="M923.1,41.2 L923.6,37.6 L939.6,37.6 L939.1,41.2 Z" fill="#fff" stroke="#000" stroke-width="2.8" stroke-linejoin="round"/>
<path d="M923.1,25.9 L922.0,23.6 L938.0,23.6 L939.1,25.9 Z" fill="#fff" stroke="#000" stroke-width="2.8" stroke-linejoin="round"/>
<path d="M921.9,-15.0 L922.0,-17.8 L938.0,-17.8 L937.9,-15.0 Z" fill="#000" stroke="#000" stroke-width="2.8" stroke-linejoin="round"/>
<path d="M922.0,-17.8 L921.6,-20.8 L937.6,-20.8 L938.0,-17.8 Z" fill="#fff" stroke="#000" stroke-width="2.8" stroke-linejoin="round"/>
<path d="M921.4,-12.4 L921.9,-15.0 L937.9,-15.0 L937.4,-12.4 Z" fill="#000" stroke="#000" stroke-width="2.8" stroke-linejoin="round"/>
<path d="M922.0,23.6 L920.5,21.3 L936.5,21.3 L938.0,23.6 Z" fill="#fff" stroke="#000" stroke-width="2.8" stroke-linejoin="round"/>
<path d="M921.6,-20.8 L920.9,-24.0 L936.9,-24.0 L937.6,-20.8 Z" fill="#fff" stroke="#000" stroke-width="2.8" stroke-linejoin="round"/>
<path d="M920.5,-9.8 L921.4,-12.4 L937.4,-12.4 L936.5,-9.8 Z" fill="#fff" stroke="#000" stroke-width="2.8" stroke-linejoin="round"/>
<path d="M920.9,-24.0 L920.0,-27.4 L936.0,-27.4 L936.9,-24.0 Z" fill="#fff" stroke="#000" stroke-width="2.8" stroke-linejoin="round"/>
<path d="M914.8,-53.1 L925.4,-48.9 L941.4,-48.9 L930.8,-53.1 Z" fill="#fff" stroke="#000" stroke-width="2.8" stroke-linejoin="round"/>
<path d="M919.2,-7.1 L920.5,-9.8 L936.5,-9.8 L935.2,-7.1 Z" fill="#fff" stroke="#000" stroke-width="2.8" stroke-linejoin="round"/>
<path d="M920.5,21.3 L918.8,19.0 L934.8,19.0 L936.5,21.3 Z" fill="#fff" stroke="#000" stroke-width="2.8" stroke-linejoin="round"/>
<path d="M915.0,53.8 L923.1,41.2 L939.1,41.2 L931.0,53.8 Z" fill="#fff" stroke="#000" stroke-width="2.8" stroke-linejoin="round"/>
<path d="M917.8,-4.4 L919.2,-7.1 L935.2,-7.1 L933.8,-4.4 Z" fill="#fff" stroke="#000" stroke-width="2.8" stroke-linejoin="round"/>
<path d="M920.2,67.9 L915.4,66.6 L931.4,66.6 L936.2,67.9 Z" fill="#fff" stroke="#000" stroke-width="2.8" stroke-linejoin="round"/>
<path d="M920.0,-27.4 L911.0,-37.8 L927.0,-37.8 L936.0,-27.4 Z" fill="#fff" stroke="#000" stroke-width="2.8" stroke-linejoin="round"/>
<path d="M915.4,66.6 L913.6,61.7 L929.6,61.7 L931.4,66.6 Z" fill="#fff" stroke="#000" stroke-width="2.8" stroke-linejoin="round"/>
<path d="M913.6,61.7 L915.0,53.8 L931.0,53.8 L929.6,61.7 Z" fill="#fff" stroke="#000" stroke-width="2.8" stroke-linejoin="round"/>
<path d="M918.8,19.0 L908.0,17.0 L924.0,17.0 L934.8,19.0 Z" fill="#fff" stroke="#000" stroke-width="2.8" stroke-linejoin="round"/>
<path d="M907.3,0.4 L917.8,-4.4 L933.8,-4.4 L923.3,0.4 Z" fill="#fff" stroke="#000" stroke-width="2.8" stroke-linejoin="round"/>
<path d="M910.3,-50.6 L914.8,-53.1 L930.8,-53.1 L926.3,-50.6 Z" fill="#fff" stroke="#000" stroke-width="2.8" stroke-linejoin="round"/>
<path d="M911.0,-37.8 L908.9,-45.3 L924.9,-45.3 L927.0,-37.8 Z" fill="#fff" stroke="#000" stroke-width="2.8" stroke-linejoin="round"/>
<path d="M908.9,-45.3 L910.3,-50.6 L926.3,-50.6 L924.9,-45.3 Z" fill="#fff" stroke="#000" stroke-width="2.8" stroke-linejoin="round"/>
<path d="M908.0,17.0 L904.2,12.1 L920.2,12.1 L924.0,17.0 Z" fill="#fff" stroke="#000" stroke-width="2.8" stroke-linejoin="round"/>
<path d="M903.9,6.2 L907.3,0.4 L923.3,0.4 L919.9,6.2 Z" fill="#fff" stroke="#000" stroke-width="2.8" stroke-linejoin="round"/>
<path d="M904.2,12.1 L903.9,6.2 L919.9,6.2 L920.2,12.1 Z" fill="#fff" stroke="#000" stroke-width="2.8" stroke-linejoin="round"/>
<path d="M1030.4,67.5 L1028.3,68.0 L1026.3,68.5 L1024.6,69.3 L1023.2,70.8 L1022.1,72.8 L1021.2,75.5 L1020.5,78.7 L1019.8,82.2 L1022.6,100.3 L1021.3,108.3 L1018.2,110.8 L1013.9,107.4 L1007.6,92.2 L1005.6,90.8 L1003.7,89.7 L1001.9,89.1 L1000.3,89.2 L998.8,90.2 L997.3,91.9 L995.8,94.2 L994.3,96.7 L991.8,115.0 L988.5,121.0 L985.1,120.7 L982.2,114.2 L980.7,95.7 L979.3,92.9 L977.9,90.4 L976.5,88.5 L975.1,87.3 L973.5,86.9 L971.7,87.2 L969.8,88.0 L967.7,89.1 L960.6,103.3 L956.1,105.9 L953.2,103.0 L952.3,94.9 L956.0,77.3 L955.5,73.7 L954.9,70.4 L954.2,67.6 L953.3,65.3 L951.9,63.7 L950.3,62.6 L948.4,61.7 L946.3,61.0 L936.2,67.9 L931.4,66.6 L929.6,61.7 L931.0,53.8 L939.1,41.2 L939.6,37.6 L940.0,34.2 L940.1,31.2 L939.9,28.4 L939.1,25.9 L938.0,23.6 L936.5,21.3 L934.8,19.0 L924.0,17.0 L920.2,12.1 L919.9,6.2 L923.3,0.4 L933.8,-4.4 L935.2,-7.1 L936.5,-9.8 L937.4,-12.4 L937.9,-15.0 L938.0,-17.8 L937.6,-20.8 L936.9,-24.0 L936.0,-27.4 L927.0,-37.8 L924.9,-45.3 L926.3,-50.6 L930.8,-53.1 L941.4,-48.9 L943.4,-50.2 L945.3,-51.5 L946.8,-53.1 L948.0,-55.0 L948.7,-57.5 L949.2,-60.4 L949.4,-63.8 L949.6,-67.5 L944.4,-84.0 L944.6,-92.2 L947.2,-95.9 L951.9,-94.4 L960.2,-82.2 L962.3,-81.8 L964.3,-81.5 L966.0,-81.6 L967.6,-82.4 L968.9,-83.9 L970.2,-86.2 L971.3,-89.0 L972.4,-92.2 L972.3,-110.9 L974.6,-118.1 L978.0,-119.2 L981.7,-114.1 L985.7,-96.7 L987.5,-94.6 L989.2,-92.7 L990.8,-91.4 L992.4,-90.9 L994.0,-91.2 L995.7,-92.2 L997.4,-93.8 L999.3,-95.7 L1004.2,-112.4 L1008.2,-116.9 L1011.5,-115.2 L1013.4,-107.7 L1012.3,-89.1 L1013.3,-85.8 L1014.3,-82.8 L1015.3,-80.3 L1016.6,-78.6 L1018.1,-77.6 L1019.9,-77.1 L1021.9,-77.1 L1024.0,-77.3 L1032.8,-88.1 L1037.6,-88.9 L1040.1,-84.8 L1039.8,-76.5 L1033.7,-61.0 L1033.7,-57.3 L1033.8,-53.9 L1034.1,-50.8 L1034.7,-48.3 L1035.8,-46.1 L1037.2,-44.4 L1039.0,-42.8 L1040.9,-41.2 L1051.7,-43.7 L1056.1,-40.5 L1057.2,-35.0 L1054.7,-27.9 L1045.2,-19.0 L1044.2,-15.7 L1043.3,-12.6 L1042.7,-9.7 L1042.6,-6.9 L1043.0,-4.2 L1043.8,-1.4 L1044.9,1.4 L1046.2,4.4 L1056.4,10.7 L1059.5,17.1 L1058.9,22.9 L1054.8,27.2 L1044.0,27.4 L1042.2,29.5 L1040.6,31.6 L1039.3,33.7 L1038.5,36.1 L1038.0,38.8 L1038.0,41.8 L1038.3,45.2 L1038.6,48.9 L1045.9,62.7 L1046.9,70.8 L1044.9,75.5 L1040.1,76.0 Z" fill="#fff" stroke="#000" stroke-width="3.3" stroke-linejoin="round"/>
<ellipse cx="1031.1" cy="27.5" rx="8.1" ry="12.5" fill="#fff" stroke="#000" stroke-width="3" transform="rotate(-8 1031.1 27.5)"/>
<ellipse cx="1019.0" cy="57.3" rx="8.1" ry="12.5" fill="#fff" stroke="#000" stroke-width="3" transform="rotate(-8 1019.0 57.3)"/>
<ellipse cx="1000.2" cy="73.9" rx="8.1" ry="12.5" fill="#fff" stroke="#000" stroke-width="3" transform="rotate(-8 1000.2 73.9)"/>
<ellipse cx="979.1" cy="73.7" rx="8.1" ry="12.5" fill="#fff" stroke="#000" stroke-width="3" transform="rotate(-8 979.1 73.7)"/>
<ellipse cx="960.5" cy="56.5" rx="8.1" ry="12.5" fill="#fff" stroke="#000" stroke-width="3" transform="rotate(-8 960.5 56.5)"/>
<ellipse cx="948.7" cy="26.4" rx="8.1" ry="12.5" fill="#fff" stroke="#000" stroke-width="3" transform="rotate(-8 948.7 26.4)"/>
<ellipse cx="946.3" cy="-9.7" rx="8.1" ry="12.5" fill="#fff" stroke="#000" stroke-width="3" transform="rotate(-8 946.3 -9.7)"/>
<ellipse cx="953.9" cy="-43.6" rx="8.1" ry="12.5" fill="#fff" stroke="#000" stroke-width="3" transform="rotate(-8 953.9 -43.6)"/>
<ellipse cx="969.8" cy="-67.6" rx="8.1" ry="12.5" fill="#fff" stroke="#000" stroke-width="3" transform="rotate(-8 969.8 -67.6)"/>
<ellipse cx="990.3" cy="-76.0" rx="8.1" ry="12.5" fill="#fff" stroke="#000" stroke-width="3" transform="rotate(-8 990.3 -76.0)"/>
<ellipse cx="1010.8" cy="-67.0" rx="8.1" ry="12.5" fill="#fff" stroke="#000" stroke-width="3" transform="rotate(-8 1010.8 -67.0)"/>
<ellipse cx="1026.5" cy="-42.7" rx="8.1" ry="12.5" fill="#fff" stroke="#000" stroke-width="3" transform="rotate(-8 1026.5 -42.7)"/>
<ellipse cx="1033.8" cy="-8.6" rx="8.1" ry="12.5" fill="#fff" stroke="#000" stroke-width="3" transform="rotate(-8 1033.8 -8.6)"/>
<ellipse cx="990.0" cy="0.0" rx="26.7" ry="46.0" fill="#fff" stroke="#000" stroke-width="3.0"/>
<clipPath id="c4"><ellipse cx="990.0" cy="0" rx="26.7" ry="46.0"/></clipPath><g clip-path="url(#c4)"><path d="M999.8,11.7 L996.3,11.3 L1012.3,11.3 L1015.8,11.7 Z" fill="#fff" stroke="#000" stroke-width="1.8" stroke-linejoin="round"/>
<path d="M994.7,-18.2 L998.1,-19.7 L1014.1,-19.7 L1010.7,-18.2 Z" fill="#fff" stroke="#000" stroke-width="1.8" stroke-linejoin="round"/>
<path d="M996.8,23.8 L993.5,21.6 L1009.5,21.6 L1012.8,23.8 Z" fill="#fff" stroke="#000" stroke-width="1.8" stroke-linejoin="round"/>
<path d="M990.9,-27.5 L993.9,-30.6 L1009.9,-30.6 L1006.9,-27.5 Z" fill="#fff" stroke="#000" stroke-width="1.8" stroke-linejoin="round"/>
<path d="M992.0,33.9 L989.2,30.2 L1005.2,30.2 L1008.0,33.9 Z" fill="#fff" stroke="#000" stroke-width="1.8" stroke-linejoin="round"/>
<path d="M985.7,-34.5 L988.1,-39.0 L1004.1,-39.0 L1001.7,-34.5 Z" fill="#fff" stroke="#000" stroke-width="1.8" stroke-linejoin="round"/>
<path d="M985.8,41.3 L983.6,36.4 L999.6,36.4 L1001.8,41.3 Z" fill="#fff" stroke="#000" stroke-width="1.8" stroke-linejoin="round"/>
<path d="M979.6,-38.8 L981.2,-44.3 L997.2,-44.3 L995.6,-38.8 Z" fill="#fff" stroke="#000" stroke-width="1.8" stroke-linejoin="round"/>
<path d="M978.5,45.3 L977.3,39.6 L993.3,39.6 L994.5,45.3 Z" fill="#fff" stroke="#000" stroke-width="1.8" stroke-linejoin="round"/>
<path d="M973.0,-40.0 L973.6,-46.0 L989.6,-46.0 L989.0,-40.0 Z" fill="#fff" stroke="#000" stroke-width="1.8" stroke-linejoin="round"/>
<path d="M974.4,46.0 L971.0,45.7 L987.0,45.7 L990.4,46.0 Z" fill="#fff" stroke="#000" stroke-width="1.8" stroke-linejoin="round"/>
<path d="M970.7,-39.6 L973.0,-40.0 L989.0,-40.0 L986.7,-39.6 Z" fill="#000" stroke="#000" stroke-width="1.8" stroke-linejoin="round"/>
<path d="M971.0,45.7 L970.7,39.6 L986.7,39.6 L987.0,45.7 Z" fill="#fff" stroke="#000" stroke-width="1.8" stroke-linejoin="round"/>
<path d="M969.5,-45.3 L970.7,-39.6 L986.7,-39.6 L985.5,-45.3 Z" fill="#fff" stroke="#000" stroke-width="1.8" stroke-linejoin="round"/>
<path d="M970.7,39.6 L968.4,38.8 L984.4,38.8 L986.7,39.6 Z" fill="#000" stroke="#000" stroke-width="1.8" stroke-linejoin="round"/>
<path d="M966.1,-43.9 L969.5,-45.3 L985.5,-45.3 L982.1,-43.9 Z" fill="#fff" stroke="#000" stroke-width="1.8" stroke-linejoin="round"/>
<path d="M968.4,38.8 L966.8,44.3 L982.8,44.3 L984.4,38.8 Z" fill="#fff" stroke="#000" stroke-width="1.8" stroke-linejoin="round"/>
<path d="M966.5,-37.9 L966.1,-43.9 L982.1,-43.9 L982.5,-37.9 Z" fill="#fff" stroke="#000" stroke-width="1.8" stroke-linejoin="round"/>
<path d="M964.4,-36.4 L966.5,-37.9 L982.5,-37.9 L980.4,-36.4 Z" fill="#000" stroke="#000" stroke-width="1.8" stroke-linejoin="round"/>
<path d="M966.8,44.3 L963.6,42.4 L979.6,42.4 L982.8,44.3 Z" fill="#fff" stroke="#000" stroke-width="1.8" stroke-linejoin="round"/>
<path d="M963.6,42.4 L964.4,36.4 L980.4,36.4 L979.6,42.4 Z" fill="#fff" stroke="#000" stroke-width="1.8" stroke-linejoin="round"/>
<path d="M964.4,36.4 L962.3,34.5 L978.3,34.5 L980.4,36.4 Z" fill="#000" stroke="#000" stroke-width="1.8" stroke-linejoin="round"/>
<path d="M962.2,-41.3 L964.4,-36.4 L980.4,-36.4 L978.2,-41.3 Z" fill="#fff" stroke="#000" stroke-width="1.8" stroke-linejoin="round"/>
<path d="M962.3,34.5 L959.9,39.0 L975.9,39.0 L978.3,34.5 Z" fill="#fff" stroke="#000" stroke-width="1.8" stroke-linejoin="round"/>
<path d="M959.3,-38.3 L962.2,-41.3 L978.2,-41.3 L975.3,-38.3 Z" fill="#fff" stroke="#000" stroke-width="1.8" stroke-linejoin="round"/>
<path d="M960.6,-32.7 L959.3,-38.3 L975.3,-38.3 L976.6,-32.7 Z" fill="#fff" stroke="#000" stroke-width="1.8" stroke-linejoin="round"/>
<path d="M958.8,-30.2 L960.6,-32.7 L976.6,-32.7 L974.8,-30.2 Z" fill="#000" stroke="#000" stroke-width="1.8" stroke-linejoin="round"/>
<path d="M959.9,39.0 L957.1,35.6 L973.1,35.6 L975.9,39.0 Z" fill="#fff" stroke="#000" stroke-width="1.8" stroke-linejoin="round"/>
<path d="M958.8,30.2 L957.1,27.5 L973.1,27.5 L974.8,30.2 Z" fill="#000" stroke="#000" stroke-width="1.8" stroke-linejoin="round"/>
<path d="M957.1,35.6 L958.8,30.2 L974.8,30.2 L973.1,35.6 Z" fill="#fff" stroke="#000" stroke-width="1.8" stroke-linejoin="round"/>
<path d="M956.0,-33.9 L958.8,-30.2 L974.8,-30.2 L972.0,-33.9 Z" fill="#fff" stroke="#000" stroke-width="1.8" stroke-linejoin="round"/>
<path d="M957.1,27.5 L954.1,30.6 L970.1,30.6 L973.1,27.5 Z" fill="#fff" stroke="#000" stroke-width="1.8" stroke-linejoin="round"/>
<path d="M954.5,-21.6 L955.8,-24.9 L971.8,-24.9 L970.5,-21.6 Z" fill="#000" stroke="#000" stroke-width="1.8" stroke-linejoin="round"/>
<path d="M953.6,-29.6 L956.0,-33.9 L972.0,-33.9 L969.6,-29.6 Z" fill="#fff" stroke="#000" stroke-width="1.8" stroke-linejoin="round"/>
<path d="M955.8,-24.9 L953.6,-29.6 L969.6,-29.6 L971.8,-24.9 Z" fill="#fff" stroke="#000" stroke-width="1.8" stroke-linejoin="round"/>
<path d="M954.5,21.6 L953.3,18.2 L969.3,18.2 L970.5,21.6 Z" fill="#000" stroke="#000" stroke-width="1.8" stroke-linejoin="round"/>
<path d="M952.0,26.0 L954.5,21.6 L970.5,21.6 L968.0,26.0 Z" fill="#fff" stroke="#000" stroke-width="1.8" stroke-linejoin="round"/>
<path d="M954.1,30.6 L952.0,26.0 L968.0,26.0 L970.1,30.6 Z" fill="#fff" stroke="#000" stroke-width="1.8" stroke-linejoin="round"/>
<path d="M951.2,-23.8 L954.5,-21.6 L970.5,-21.6 L967.2,-23.8 Z" fill="#fff" stroke="#000" stroke-width="1.8" stroke-linejoin="round"/>
<path d="M951.7,-11.3 L952.5,-15.0 L968.5,-15.0 L967.7,-11.3 Z" fill="#000" stroke="#000" stroke-width="1.8" stroke-linejoin="round"/>
<path d="M953.3,18.2 L949.9,19.7 L965.9,19.7 L969.3,18.2 Z" fill="#fff" stroke="#000" stroke-width="1.8" stroke-linejoin="round"/>
<path d="M951.7,11.3 L951.2,7.4 L967.2,7.4 L967.7,11.3 Z" fill="#000" stroke="#000" stroke-width="1.8" stroke-linejoin="round"/>
<path d="M952.5,-15.0 L949.6,-18.5 L965.6,-18.5 L968.5,-15.0 Z" fill="#fff" stroke="#000" stroke-width="1.8" stroke-linejoin="round"/>
<path d="M950.8,0.0 L950.9,-4.0 L966.9,-4.0 L966.8,0.0 Z" fill="#000" stroke="#000" stroke-width="1.8" stroke-linejoin="round"/>
<path d="M949.6,-18.5 L951.2,-23.8 L967.2,-23.8 L965.6,-18.5 Z" fill="#fff" stroke="#000" stroke-width="1.8" stroke-linejoin="round"/>
<path d="M948.6,14.2 L951.7,11.3 L967.7,11.3 L964.6,14.2 Z" fill="#fff" stroke="#000" stroke-width="1.8" stroke-linejoin="round"/>
<path d="M948.2,-11.7 L951.7,-11.3 L967.7,-11.3 L964.2,-11.7 Z" fill="#fff" stroke="#000" stroke-width="1.8" stroke-linejoin="round"/>
<path d="M951.2,7.4 L947.6,7.2 L963.6,7.2 L967.2,7.4 Z" fill="#fff" stroke="#000" stroke-width="1.8" stroke-linejoin="round"/>
<path d="M949.9,19.7 L948.6,14.2 L964.6,14.2 L965.9,19.7 Z" fill="#fff" stroke="#000" stroke-width="1.8" stroke-linejoin="round"/>
<path d="M950.9,-4.0 L947.5,-5.9 L963.5,-5.9 L966.9,-4.0 Z" fill="#fff" stroke="#000" stroke-width="1.8" stroke-linejoin="round"/>
<path d="M947.3,1.3 L950.8,0.0 L966.8,0.0 L963.3,1.3 Z" fill="#fff" stroke="#000" stroke-width="1.8" stroke-linejoin="round"/>
<path d="M947.5,-5.9 L948.2,-11.7 L964.2,-11.7 L963.5,-5.9 Z" fill="#fff" stroke="#000" stroke-width="1.8" stroke-linejoin="round"/>
<path d="M947.6,7.2 L947.3,1.3 L963.3,1.3 L963.6,7.2 Z" fill="#fff" stroke="#000" stroke-width="1.8" stroke-linejoin="round"/></g>
<path d="M1110.5,37.4 L1108.7,39.5 L1106.8,41.3 L1104.8,42.8 L1102.7,44.0 L1100.6,45.0 L1098.5,45.6 L1096.3,45.9 L1094.1,46.0 L1091.9,45.7 L1089.8,45.1 L1087.7,44.2 L1085.6,43.1 L1083.6,41.6 L1081.7,39.8 L1079.8,37.8 L1078.1,35.6 L1076.5,33.1 L1075.0,30.4 L1073.6,27.4 L1072.4,24.3 L1071.3,21.1 L1070.4,17.7 L1069.6,14.1 L1069.0,10.5 L1068.6,6.8 L1068.4,3.1 L1068.3,-0.7 L1068.4,-4.4 L1068.7,-8.1 L1069.2,-11.8 L1069.9,-15.4 L1070.7,-18.9 L1071.6,-22.2 L1072.8,-25.5 L1074.1,-28.5 L1075.5,-31.4 L1077.0,-34.0 L1078.7,-36.4 L1080.5,-38.6 L1082.4,-40.5 L1084.3,-42.1 L1086.3,-43.5 L1088.4,-44.6 L1090.6,-45.4 L1092.7,-45.8 L1094.9,-46.0 L1097.1,-45.9 L1099.2,-45.4 L1101.4,-44.7 L1103.5,-43.6 L1105.5,-42.3 L1107.5,-40.7 L1109.4,-38.8 L1111.1,-36.6 L1112.8,-34.2 L1114.4,-31.6 L1115.8,-28.8 L1117.1,-25.7 L1118.3,-22.5 L1119.2,-19.2 L1120.1,-15.7 L1120.7,-12.1 L1121.2,-8.5 L1121.5,-4.8 L1121.7,-1.0 L1121.6,2.7 L1121.4,6.5 L1121.0,10.2 L1120.4,13.8 L1119.7,17.3 L1118.8,20.8 L1117.7,24.0 L1121.7,24.0 L1122.8,20.8 L1123.7,17.3 L1124.4,13.8 L1125.0,10.2 L1125.4,6.5 L1125.6,2.7 L1125.7,-1.0 L1125.5,-4.8 L1125.2,-8.5 L1124.7,-12.1 L1124.1,-15.7 L1123.2,-19.2 L1122.3,-22.5 L1121.1,-25.7 L1119.8,-28.8 L1118.4,-31.6 L1116.8,-34.2 L1115.1,-36.6 L1113.4,-38.8 L1111.5,-40.7 L1109.5,-42.3 L1107.5,-43.6 L1105.4,-44.7 L1103.2,-45.4 L1101.1,-45.9 L1098.9,-46.0 L1096.7,-45.8 L1094.6,-45.4 L1092.4,-44.6 L1090.3,-43.5 L1088.3,-42.1 L1086.4,-40.5 L1084.5,-38.6 L1082.7,-36.4 L1081.0,-34.0 L1079.5,-31.4 L1078.1,-28.5 L1076.8,-25.5 L1075.6,-22.2 L1074.7,-18.9 L1073.9,-15.4 L1073.2,-11.8 L1072.7,-8.1 L1072.4,-4.4 L1072.3,-0.7 L1072.4,3.1 L1072.6,6.8 L1073.0,10.5 L1073.6,14.1 L1074.4,17.7 L1075.3,21.1 L1076.4,24.3 L1077.6,27.4 L1079.0,30.4 L1080.5,33.1 L1082.1,35.6 L1083.8,37.8 L1085.7,39.8 L1087.6,41.6 L1089.6,43.1 L1091.7,44.2 L1093.8,45.1 L1095.9,45.7 L1098.1,46.0 L1100.3,45.9 L1102.5,45.6 L1104.6,45.0 L1106.7,44.0 L1108.8,42.8 L1110.8,41.3 L1112.7,39.5 L1114.5,37.4 Z" fill="#fff" stroke="#000" stroke-width="2.64" stroke-linejoin="round"/>
<path d="M1114.5,37.4 L1112.7,39.5 L1110.8,41.3 L1108.8,42.8 L1106.7,44.0 L1104.6,45.0 L1102.5,45.6 L1100.3,45.9 L1098.1,46.0 L1095.9,45.7 L1093.8,45.1 L1091.7,44.2 L1089.6,43.1 L1087.6,41.6 L1085.7,39.8 L1083.8,37.8 L1082.1,35.6 L1080.5,33.1 L1079.0,30.4 L1077.6,27.4 L1076.4,24.3 L1075.3,21.1 L1074.4,17.7 L1073.6,14.1 L1073.0,10.5 L1072.6,6.8 L1072.4,3.1 L1072.3,-0.7 L1072.4,-4.4 L1072.7,-8.1 L1073.2,-11.8 L1073.9,-15.4 L1074.7,-18.9 L1075.6,-22.2 L1076.8,-25.5 L1078.1,-28.5 L1079.5,-31.4 L1081.0,-34.0 L1082.7,-36.4 L1084.5,-38.6 L1086.4,-40.5 L1088.3,-42.1 L1090.3,-43.5 L1092.4,-44.6 L1094.6,-45.4 L1096.7,-45.8 L1098.9,-46.0 L1101.1,-45.9 L1103.2,-45.4 L1105.4,-44.7 L1107.5,-43.6 L1109.5,-42.3 L1111.5,-40.7 L1113.4,-38.8 L1115.1,-36.6 L1116.8,-34.2 L1118.4,-31.6 L1119.8,-28.8 L1121.1,-25.7 L1122.3,-22.5 L1123.2,-19.2 L1124.1,-15.7 L1124.7,-12.1 L1125.2,-8.5 L1125.5,-4.8 L1125.7,-1.0 L1125.6,2.7 L1125.4,6.5 L1125.0,10.2 L1124.4,13.8 L1123.7,17.3 L1122.8,20.8 L1121.7,24.0 L1118.8,20.9 L1119.7,18.1 L1120.5,15.1 L1121.1,12.0 L1121.6,8.9 L1122.0,5.6 L1122.2,2.4 L1122.2,-0.9 L1122.1,-4.1 L1121.8,-7.4 L1121.4,-10.6 L1120.8,-13.7 L1120.1,-16.7 L1119.2,-19.6 L1118.2,-22.4 L1117.1,-25.0 L1115.9,-27.5 L1114.5,-29.8 L1113.0,-31.8 L1111.5,-33.7 L1109.8,-35.4 L1108.1,-36.8 L1106.4,-37.9 L1104.5,-38.8 L1102.7,-39.5 L1100.8,-39.9 L1098.9,-40.0 L1097.0,-39.9 L1095.1,-39.4 L1093.3,-38.8 L1091.5,-37.8 L1089.7,-36.6 L1088.0,-35.2 L1086.4,-33.6 L1084.8,-31.7 L1083.4,-29.6 L1082.0,-27.3 L1080.8,-24.8 L1079.7,-22.1 L1078.7,-19.3 L1077.8,-16.4 L1077.1,-13.4 L1076.6,-10.3 L1076.2,-7.1 L1075.9,-3.8 L1075.8,-0.6 L1075.9,2.7 L1076.1,5.9 L1076.4,9.1 L1076.9,12.3 L1077.6,15.4 L1078.4,18.3 L1079.3,21.2 L1080.4,23.9 L1081.6,26.4 L1082.9,28.8 L1084.3,30.9 L1085.8,32.9 L1087.4,34.6 L1089.1,36.2 L1090.8,37.4 L1092.6,38.5 L1094.5,39.2 L1096.3,39.7 L1098.2,40.0 L1100.1,40.0 L1102.0,39.7 L1103.9,39.1 L1105.7,38.3 L1107.5,37.2 L1109.2,35.9 L1110.9,34.3 L1112.5,32.5 Z" fill="#fff" stroke="#000" stroke-width="3.3" stroke-linejoin="round"/>
<path d="M1111.8,36.9 L1110.1,38.5 L1108.3,39.9 L1106.4,41.0 L1104.5,41.9 L1102.6,42.6 L1100.6,42.9 L1098.6,43.0 L1096.6,42.8 L1094.7,42.3 L1092.7,41.6 L1090.8,40.6 L1089.0,39.4 L1087.2,37.9 L1085.5,36.2 L1083.9,34.2 L1082.3,32.0 L1080.9,29.6 L1079.6,27.1 L1078.4,24.3 L1077.4,21.4 L1076.5,18.4 L1075.7,15.3 L1075.1,12.0 L1074.6,8.7 L1074.3,5.3 L1074.1,1.9 L1074.1,-1.5 L1074.2,-4.9 L1074.5,-8.3 L1075.0,-11.6 L1075.6,-14.8 L1076.4,-18.0 L1077.3,-21.0 L1078.3,-24.0 L1079.5,-26.7 L1080.8,-29.3 L1082.2,-31.7 L1083.7,-33.9 L1085.3,-35.9 L1087.0,-37.7 L1088.8,-39.2 L1090.6,-40.5 L1092.5,-41.5 L1094.4,-42.3 L1096.4,-42.8 L1098.4,-43.0 L1100.3,-42.9 L1102.3,-42.6 L1104.3,-42.0 L1106.2,-41.2 L1108.1,-40.1 L1109.9,-38.7 L1111.6,-37.1 L1113.3,-35.2 L1114.9,-33.2 L1116.3,-30.9 L1117.7,-28.4 L1119.0,-25.8 L1120.1,-23.0 L1121.1,-20.0 L1121.9,-16.9 L1122.6,-13.7 L1123.2,-10.4 L1123.6,-7.1 L1123.8,-3.7 L1123.9,-0.3 L1123.9,3.1 L1123.7,6.5 L1123.3,9.9 L1122.7,13.2 L1122.1,16.4 L1121.2,19.5" fill="none" stroke="#000" stroke-width="1.1549999999999998" stroke-linejoin="round"/>
<ellipse cx="1113.8" cy="40.8" rx="5" ry="7" fill="#fff" stroke="#000" stroke-width="2.9699999999999998"/>
<circle cx="1113.8" cy="41.8" r="2" fill="none" stroke="#000" stroke-width="1.9799999999999998"/>
<ellipse cx="1120.8" cy="28.0" rx="5" ry="7" fill="#fff" stroke="#000" stroke-width="2.9699999999999998"/>
<circle cx="1120.8" cy="29.0" r="2" fill="none" stroke="#000" stroke-width="1.9799999999999998"/>
</g>
<g transform="translate(73.5,417) rotate(30)">
<path d="M50.0,33.1 L48.6,34.8 L47.2,36.3 L45.8,37.5 L44.3,38.5 L42.7,39.3 L41.1,39.8 L39.6,40.0 L38.0,39.9 L36.4,39.6 L34.8,39.1 L33.3,38.3 L31.8,37.2 L30.3,35.9 L28.9,34.3 L27.6,32.6 L26.4,30.6 L25.2,28.4 L24.1,26.0 L23.1,23.5 L22.3,20.8 L21.5,17.9 L20.8,15.0 L20.3,11.9 L19.9,8.8 L19.6,5.6 L19.4,2.4 L19.4,-0.8 L19.5,-4.1 L19.7,-7.3 L20.1,-10.4 L20.6,-13.5 L21.2,-16.5 L21.9,-19.4 L22.7,-22.2 L23.6,-24.8 L24.7,-27.3 L25.8,-29.5 L27.0,-31.6 L28.3,-33.5 L29.7,-35.2 L31.1,-36.6 L32.6,-37.8 L34.1,-38.7 L35.6,-39.4 L37.2,-39.8 L38.8,-40.0 L40.4,-39.9 L42.0,-39.5 L43.5,-38.9 L45.0,-38.1 L46.5,-36.9 L48.0,-35.6 L49.4,-34.0 L50.7,-32.1 L51.9,-30.1 L53.1,-27.9 L54.1,-25.5 L55.1,-22.9 L55.9,-20.2 L56.7,-17.3 L57.3,-14.3 L57.8,-11.3 L58.2,-8.1 L58.5,-4.9 L58.6,-1.7 L58.6,1.6 L58.5,4.8 L58.2,8.0 L57.8,11.1 L57.3,14.2 L56.7,17.2 L56.0,20.0 L60.0,20.0 L60.7,17.2 L61.3,14.2 L61.8,11.1 L62.2,8.0 L62.5,4.8 L62.6,1.6 L62.6,-1.7 L62.5,-4.9 L62.2,-8.1 L61.8,-11.3 L61.3,-14.3 L60.7,-17.3 L59.9,-20.2 L59.1,-22.9 L58.1,-25.5 L57.1,-27.9 L55.9,-30.1 L54.7,-32.1 L53.4,-34.0 L52.0,-35.6 L50.5,-36.9 L49.0,-38.1 L47.5,-38.9 L46.0,-39.5 L44.4,-39.9 L42.8,-40.0 L41.2,-39.8 L39.6,-39.4 L38.1,-38.7 L36.6,-37.8 L35.1,-36.6 L33.7,-35.2 L32.3,-33.5 L31.0,-31.6 L29.8,-29.5 L28.7,-27.3 L27.6,-24.8 L26.7,-22.2 L25.9,-19.4 L25.2,-16.5 L24.6,-13.5 L24.1,-10.4 L23.7,-7.3 L23.5,-4.1 L23.4,-0.8 L23.4,2.4 L23.6,5.6 L23.9,8.8 L24.3,11.9 L24.8,15.0 L25.5,17.9 L26.3,20.8 L27.1,23.5 L28.1,26.0 L29.2,28.4 L30.4,30.6 L31.6,32.6 L32.9,34.3 L34.3,35.9 L35.8,37.2 L37.3,38.3 L38.8,39.1 L40.4,39.6 L42.0,39.9 L43.6,40.0 L45.1,39.8 L46.7,39.3 L48.3,38.5 L49.8,37.5 L51.2,36.3 L52.6,34.8 L54.0,33.1 Z" fill="#fff" stroke="#000" stroke-width="2.64" stroke-linejoin="round"/>
<path d="M54.0,33.1 L52.6,34.8 L51.2,36.3 L49.8,37.5 L48.3,38.5 L46.7,39.3 L45.1,39.8 L43.6,40.0 L42.0,39.9 L40.4,39.6 L38.8,39.1 L37.3,38.3 L35.8,37.2 L34.3,35.9 L32.9,34.3 L31.6,32.6 L30.4,30.6 L29.2,28.4 L28.1,26.0 L27.1,23.5 L26.3,20.8 L25.5,17.9 L24.8,15.0 L24.3,11.9 L23.9,8.8 L23.6,5.6 L23.4,2.4 L23.4,-0.8 L23.5,-4.1 L23.7,-7.3 L24.1,-10.4 L24.6,-13.5 L25.2,-16.5 L25.9,-19.4 L26.7,-22.2 L27.6,-24.8 L28.7,-27.3 L29.8,-29.5 L31.0,-31.6 L32.3,-33.5 L33.7,-35.2 L35.1,-36.6 L36.6,-37.8 L38.1,-38.7 L39.6,-39.4 L41.2,-39.8 L42.8,-40.0 L44.4,-39.9 L46.0,-39.5 L47.5,-38.9 L49.0,-38.1 L50.5,-36.9 L52.0,-35.6 L53.4,-34.0 L54.7,-32.1 L55.9,-30.1 L57.1,-27.9 L58.1,-25.5 L59.1,-22.9 L59.9,-20.2 L60.7,-17.3 L61.3,-14.3 L61.8,-11.3 L62.2,-8.1 L62.5,-4.9 L62.6,-1.7 L62.6,1.6 L62.5,4.8 L62.2,8.0 L61.8,11.1 L61.3,14.2 L60.7,17.2 L60.0,20.0 L57.4,17.0 L58.0,14.6 L58.6,12.1 L59.0,9.5 L59.3,6.8 L59.5,4.1 L59.6,1.3 L59.6,-1.4 L59.5,-4.2 L59.3,-6.9 L59.0,-9.6 L58.6,-12.2 L58.0,-14.7 L57.4,-17.1 L56.7,-19.5 L55.8,-21.6 L54.9,-23.7 L54.0,-25.6 L52.9,-27.3 L51.8,-28.9 L50.6,-30.2 L49.4,-31.4 L48.1,-32.3 L46.8,-33.1 L45.5,-33.6 L44.2,-33.9 L42.8,-34.0 L41.5,-33.9 L40.1,-33.5 L38.8,-32.9 L37.5,-32.1 L36.3,-31.1 L35.1,-29.9 L33.9,-28.5 L32.8,-26.9 L31.8,-25.1 L30.8,-23.2 L29.9,-21.1 L29.1,-18.9 L28.4,-16.5 L27.8,-14.0 L27.3,-11.5 L26.9,-8.9 L26.6,-6.2 L26.4,-3.5 L26.3,-0.7 L26.4,2.0 L26.5,4.8 L26.7,7.5 L27.1,10.2 L27.6,12.7 L28.1,15.3 L28.8,17.7 L29.5,20.0 L30.3,22.1 L31.3,24.1 L32.3,26.0 L33.3,27.7 L34.5,29.2 L35.6,30.5 L36.9,31.6 L38.2,32.5 L39.5,33.2 L40.8,33.7 L42.1,34.0 L43.5,34.0 L44.8,33.8 L46.2,33.4 L47.5,32.8 L48.8,31.9 L50.0,30.9 L51.2,29.6 L52.3,28.1 Z" fill="#fff" stroke="#000" stroke-width="3.3" stroke-linejoin="round"/>
<path d="M51.9,32.2 L50.7,33.5 L49.4,34.7 L48.0,35.6 L46.6,36.3 L45.2,36.7 L43.8,37.0 L42.4,37.0 L40.9,36.8 L39.5,36.3 L38.1,35.6 L36.8,34.7 L35.4,33.6 L34.2,32.3 L33.0,30.8 L31.8,29.1 L30.7,27.2 L29.7,25.1 L28.8,22.9 L27.9,20.6 L27.2,18.1 L26.5,15.5 L26.0,12.8 L25.5,10.0 L25.2,7.2 L25.0,4.3 L24.9,1.4 L24.9,-1.5 L25.0,-4.4 L25.2,-7.3 L25.6,-10.1 L26.0,-12.9 L26.6,-15.6 L27.2,-18.2 L28.0,-20.7 L28.8,-23.0 L29.7,-25.2 L30.7,-27.3 L31.8,-29.2 L33.0,-30.9 L34.2,-32.4 L35.5,-33.7 L36.8,-34.8 L38.2,-35.7 L39.6,-36.3 L41.0,-36.8 L42.4,-37.0 L43.8,-37.0 L45.3,-36.7 L46.7,-36.2 L48.1,-35.5 L49.4,-34.6 L50.7,-33.5 L52.0,-32.1 L53.2,-30.6 L54.3,-28.9 L55.4,-26.9 L56.4,-24.9 L57.3,-22.6 L58.2,-20.3 L58.9,-17.8 L59.5,-15.1 L60.1,-12.4 L60.5,-9.7 L60.8,-6.8 L61.0,-3.9 L61.1,-1.0 L61.1,1.9 L61.0,4.8 L60.7,7.7 L60.4,10.5 L59.9,13.2 L59.4,15.9" fill="none" stroke="#000" stroke-width="1.1549999999999998" stroke-linejoin="round"/>
<ellipse cx="53.4" cy="36.5" rx="5" ry="7" fill="#fff" stroke="#000" stroke-width="2.9699999999999998"/>
<circle cx="53.4" cy="37.5" r="2" fill="none" stroke="#000" stroke-width="1.9799999999999998"/>
<ellipse cx="59.1" cy="24.0" rx="5" ry="7" fill="#fff" stroke="#000" stroke-width="2.9699999999999998"/>
<circle cx="59.1" cy="25.0" r="2" fill="none" stroke="#000" stroke-width="1.9799999999999998"/>
<path d="M104.0,-77.0 L142.0,-77.0 A37.7,77.0 0 0 1 142.0,77.0 L104.0,77.0 A37.7,77.0 0 0 1 104.0,-77.0 Z" fill="#fff" stroke="#000" stroke-width="3.3"/>
<ellipse cx="142.0" cy="0.0" rx="37.7" ry="77.0" fill="#fff" stroke="#000" stroke-width="3.3"/>
<ellipse cx="142.0" cy="0.0" rx="35.8" ry="73.0" fill="none" stroke="#000" stroke-width="1.6"/>
<ellipse cx="142.0" cy="0.0" rx="30.2" ry="61.6" fill="none" stroke="#000" stroke-width="2.2"/>
<ellipse cx="142.0" cy="0.0" rx="28.3" ry="57.8" fill="none" stroke="#000" stroke-width="1.4"/>
<ellipse cx="142.0" cy="0.0" rx="23.8" ry="48.5" fill="none" stroke="#000" stroke-width="2.2"/>
<ellipse cx="142.0" cy="0.0" rx="21.9" ry="44.7" fill="none" stroke="#000" stroke-width="1.4"/>
<ellipse cx="142.0" cy="0.0" rx="18.6" ry="38.0" fill="#fff" stroke="#000" stroke-width="3.2"/>
<clipPath id="c5"><ellipse cx="142.0" cy="0" rx="18.6" ry="38.0"/></clipPath><g clip-path="url(#c5)"><path d="M122.0,-38.0 L123.5,-37.9 L124.9,-37.5 L126.3,-37.0 L127.8,-36.1 L129.1,-35.1 L130.5,-33.9 L131.7,-32.4 L132.9,-30.7 L134.1,-28.9 L135.2,-26.9 L136.2,-24.7 L137.1,-22.3 L137.9,-19.9 L138.6,-17.3 L139.2,-14.5 L139.7,-11.7 L140.1,-8.9 L140.4,-5.9 L140.6,-3.0 L140.6,0.0 L140.6,3.0 L140.4,5.9 L140.1,8.9 L139.7,11.7 L139.2,14.5 L138.6,17.3 L137.9,19.9 L137.1,22.3 L136.2,24.7 L135.2,26.9 L134.1,28.9 L132.9,30.7 L131.7,32.4 L130.5,33.9 L129.1,35.1 L127.8,36.1 L126.3,37.0 L124.9,37.5 L123.5,37.9 L122.0,38.0" fill="none" stroke="#000" stroke-width="1.6" stroke-linejoin="round"/></g>
<path d="M197.0,-45.0 L200.0,-45.0 A22.1,45.0 0 0 1 200.0,45.0 L197.0,45.0 A22.1,45.0 0 0 1 197.0,-45.0 Z" fill="#fff" stroke="#000" stroke-width="3.3"/>
<ellipse cx="200.0" cy="0.0" rx="22.1" ry="45.0" fill="#fff" stroke="#000" stroke-width="3.3"/>
<ellipse cx="200.0" cy="0.0" rx="20.6" ry="42.0" fill="none" stroke="#000" stroke-width="1.4849999999999999"/>
<ellipse cx="200.0" cy="0.0" rx="12.2" ry="25.0" fill="#fff" stroke="#000" stroke-width="3.3"/>
<path d="M333.7,-43.9 L342.6,-46.4 L368.6,-46.4 L359.7,-43.9 Z" fill="#fff" stroke="#000" stroke-width="3.1" stroke-linejoin="round"/>
<path d="M341.0,54.9 L332.1,51.2 L358.1,51.2 L367.0,54.9 Z" fill="#fff" stroke="#000" stroke-width="3.1" stroke-linejoin="round"/>
<path d="M327.5,-67.2 L336.0,-73.6 L362.0,-73.6 L353.5,-67.2 Z" fill="#fff" stroke="#000" stroke-width="3.1" stroke-linejoin="round"/>
<path d="M333.5,81.2 L325.2,73.6 L351.2,73.6 L359.5,81.2 Z" fill="#fff" stroke="#000" stroke-width="3.1" stroke-linejoin="round"/>
<path d="M319.0,-87.1 L326.6,-97.2 L352.6,-97.2 L345.0,-87.1 Z" fill="#fff" stroke="#000" stroke-width="3.1" stroke-linejoin="round"/>
<path d="M323.3,103.4 L316.1,92.3 L342.1,92.3 L349.3,103.4 Z" fill="#fff" stroke="#000" stroke-width="3.1" stroke-linejoin="round"/>
<path d="M308.5,-102.6 L314.8,-116.0 L340.8,-116.0 L334.5,-102.6 Z" fill="#fff" stroke="#000" stroke-width="3.1" stroke-linejoin="round"/>
<path d="M310.9,120.5 L305.1,106.3 L331.1,106.3 L336.9,120.5 Z" fill="#fff" stroke="#000" stroke-width="3.1" stroke-linejoin="round"/>
<path d="M296.6,-113.0 L301.3,-128.9 L327.3,-128.9 L322.6,-113.0 Z" fill="#fff" stroke="#000" stroke-width="3.1" stroke-linejoin="round"/>
<path d="M297.0,131.5 L292.9,115.0 L318.9,115.0 L323.0,131.5 Z" fill="#fff" stroke="#000" stroke-width="3.1" stroke-linejoin="round"/>
<path d="M283.9,-117.7 L286.7,-135.3 L312.7,-135.3 L309.9,-117.7 Z" fill="#fff" stroke="#000" stroke-width="3.1" stroke-linejoin="round"/>
<path d="M282.2,135.9 L280.0,118.0 L306.0,118.0 L308.2,135.9 Z" fill="#fff" stroke="#000" stroke-width="3.1" stroke-linejoin="round"/>
<path d="M280.0,118.0 L278.1,117.9 L304.1,117.9 L306.0,118.0 Z" fill="#000" stroke="#000" stroke-width="3.1" stroke-linejoin="round"/>
<path d="M277.8,-135.9 L280.0,-118.0 L306.0,-118.0 L303.8,-135.9 Z" fill="#fff" stroke="#000" stroke-width="3.1" stroke-linejoin="round"/>
<path d="M278.1,117.9 L276.1,117.7 L302.1,117.7 L304.1,117.9 Z" fill="#000" stroke="#000" stroke-width="3.1" stroke-linejoin="round"/>
<path d="M274.8,-135.6 L277.8,-135.9 L303.8,-135.9 L300.8,-135.6 Z" fill="#fff" stroke="#000" stroke-width="3.1" stroke-linejoin="round"/>
<path d="M276.1,117.7 L273.3,135.3 L299.3,135.3 L302.1,117.7 Z" fill="#fff" stroke="#000" stroke-width="3.1" stroke-linejoin="round"/>
<path d="M271.8,-135.0 L274.8,-135.6 L300.8,-135.6 L297.8,-135.0 Z" fill="#fff" stroke="#000" stroke-width="3.1" stroke-linejoin="round"/>
<path d="M273.3,135.3 L270.3,134.6 L296.3,134.6 L299.3,135.3 Z" fill="#fff" stroke="#000" stroke-width="3.1" stroke-linejoin="round"/>
<path d="M271.0,-116.5 L271.8,-135.0 L297.8,-135.0 L297.0,-116.5 Z" fill="#fff" stroke="#000" stroke-width="3.1" stroke-linejoin="round"/>
<path d="M269.0,-115.9 L271.0,-116.5 L297.0,-116.5 L295.0,-115.9 Z" fill="#000" stroke="#000" stroke-width="3.1" stroke-linejoin="round"/>
<path d="M270.3,134.6 L267.4,133.5 L293.4,133.5 L296.3,134.6 Z" fill="#fff" stroke="#000" stroke-width="3.1" stroke-linejoin="round"/>
<path d="M267.1,-115.0 L269.0,-115.9 L295.0,-115.9 L293.1,-115.0 Z" fill="#000" stroke="#000" stroke-width="3.1" stroke-linejoin="round"/>
<path d="M267.4,133.5 L267.1,115.0 L293.1,115.0 L293.4,133.5 Z" fill="#fff" stroke="#000" stroke-width="3.1" stroke-linejoin="round"/>
<path d="M267.1,115.0 L265.2,114.1 L291.2,114.1 L293.1,115.0 Z" fill="#000" stroke="#000" stroke-width="3.1" stroke-linejoin="round"/>
<path d="M263.0,-131.5 L267.1,-115.0 L293.1,-115.0 L289.0,-131.5 Z" fill="#fff" stroke="#000" stroke-width="3.1" stroke-linejoin="round"/>
<path d="M265.2,114.1 L263.4,113.0 L289.4,113.0 L291.2,114.1 Z" fill="#000" stroke="#000" stroke-width="3.1" stroke-linejoin="round"/>
<path d="M260.1,-129.8 L263.0,-131.5 L289.0,-131.5 L286.1,-129.8 Z" fill="#fff" stroke="#000" stroke-width="3.1" stroke-linejoin="round"/>
<path d="M263.4,113.0 L258.7,128.9 L284.7,128.9 L289.4,113.0 Z" fill="#fff" stroke="#000" stroke-width="3.1" stroke-linejoin="round"/>
<path d="M257.3,-127.9 L260.1,-129.8 L286.1,-129.8 L283.3,-127.9 Z" fill="#fff" stroke="#000" stroke-width="3.1" stroke-linejoin="round"/>
<path d="M258.5,-109.5 L257.3,-127.9 L283.3,-127.9 L284.5,-109.5 Z" fill="#fff" stroke="#000" stroke-width="3.1" stroke-linejoin="round"/>
<path d="M256.7,-108.0 L258.5,-109.5 L284.5,-109.5 L282.7,-108.0 Z" fill="#000" stroke="#000" stroke-width="3.1" stroke-linejoin="round"/>
<path d="M258.7,128.9 L255.9,126.8 L281.9,126.8 L284.7,128.9 Z" fill="#fff" stroke="#000" stroke-width="3.1" stroke-linejoin="round"/>
<path d="M254.9,-106.3 L256.7,-108.0 L282.7,-108.0 L280.9,-106.3 Z" fill="#000" stroke="#000" stroke-width="3.1" stroke-linejoin="round"/>
<path d="M255.9,126.8 L253.1,124.4 L279.1,124.4 L281.9,126.8 Z" fill="#fff" stroke="#000" stroke-width="3.1" stroke-linejoin="round"/>
<path d="M254.9,106.3 L253.2,104.5 L279.2,104.5 L280.9,106.3 Z" fill="#000" stroke="#000" stroke-width="3.1" stroke-linejoin="round"/>
<path d="M253.1,124.4 L254.9,106.3 L280.9,106.3 L279.1,124.4 Z" fill="#fff" stroke="#000" stroke-width="3.1" stroke-linejoin="round"/>
<path d="M253.2,104.5 L251.5,102.6 L277.5,102.6 L279.2,104.5 Z" fill="#000" stroke="#000" stroke-width="3.1" stroke-linejoin="round"/>
<path d="M249.1,-120.5 L254.9,-106.3 L280.9,-106.3 L275.1,-120.5 Z" fill="#fff" stroke="#000" stroke-width="3.1" stroke-linejoin="round"/>
<path d="M251.5,102.6 L245.2,116.0 L271.2,116.0 L277.5,102.6 Z" fill="#fff" stroke="#000" stroke-width="3.1" stroke-linejoin="round"/>
<path d="M246.5,-117.5 L249.1,-120.5 L275.1,-120.5 L272.5,-117.5 Z" fill="#fff" stroke="#000" stroke-width="3.1" stroke-linejoin="round"/>
<path d="M245.5,-94.7 L247.1,-97.0 L273.1,-97.0 L271.5,-94.7 Z" fill="#000" stroke="#000" stroke-width="3.1" stroke-linejoin="round"/>
<path d="M247.1,-97.0 L243.9,-114.3 L269.9,-114.3 L273.1,-97.0 Z" fill="#fff" stroke="#000" stroke-width="3.1" stroke-linejoin="round"/>
<path d="M243.9,-114.3 L246.5,-117.5 L272.5,-117.5 L269.9,-114.3 Z" fill="#fff" stroke="#000" stroke-width="3.1" stroke-linejoin="round"/>
<path d="M243.9,-92.3 L245.5,-94.7 L271.5,-94.7 L269.9,-92.3 Z" fill="#000" stroke="#000" stroke-width="3.1" stroke-linejoin="round"/>
<path d="M245.2,116.0 L242.7,112.7 L268.7,112.7 L271.2,116.0 Z" fill="#fff" stroke="#000" stroke-width="3.1" stroke-linejoin="round"/>
<path d="M243.9,92.3 L242.4,89.7 L268.4,89.7 L269.9,92.3 Z" fill="#000" stroke="#000" stroke-width="3.1" stroke-linejoin="round"/>
<path d="M240.2,109.1 L243.9,92.3 L269.9,92.3 L266.2,109.1 Z" fill="#fff" stroke="#000" stroke-width="3.1" stroke-linejoin="round"/>
<path d="M242.4,89.7 L241.0,87.1 L267.0,87.1 L268.4,89.7 Z" fill="#000" stroke="#000" stroke-width="3.1" stroke-linejoin="round"/>
<path d="M242.7,112.7 L240.2,109.1 L266.2,109.1 L268.7,112.7 Z" fill="#fff" stroke="#000" stroke-width="3.1" stroke-linejoin="round"/>
<path d="M236.7,-103.4 L243.9,-92.3 L269.9,-92.3 L262.7,-103.4 Z" fill="#fff" stroke="#000" stroke-width="3.1" stroke-linejoin="round"/>
<path d="M241.0,87.1 L233.4,97.2 L259.4,97.2 L267.0,87.1 Z" fill="#fff" stroke="#000" stroke-width="3.1" stroke-linejoin="round"/>
<path d="M236.0,-76.6 L237.3,-79.6 L263.3,-79.6 L262.0,-76.6 Z" fill="#000" stroke="#000" stroke-width="3.1" stroke-linejoin="round"/>
<path d="M234.5,-99.3 L236.7,-103.4 L262.7,-103.4 L260.5,-99.3 Z" fill="#fff" stroke="#000" stroke-width="3.1" stroke-linejoin="round"/>
<path d="M234.8,-73.6 L236.0,-76.6 L262.0,-76.6 L260.8,-73.6 Z" fill="#000" stroke="#000" stroke-width="3.1" stroke-linejoin="round"/>
<path d="M237.3,-79.6 L232.4,-95.1 L258.4,-95.1 L263.3,-79.6 Z" fill="#fff" stroke="#000" stroke-width="3.1" stroke-linejoin="round"/>
<path d="M234.8,73.6 L233.6,70.4 L259.6,70.4 L260.8,73.6 Z" fill="#000" stroke="#000" stroke-width="3.1" stroke-linejoin="round"/>
<path d="M232.4,-95.1 L234.5,-99.3 L260.5,-99.3 L258.4,-95.1 Z" fill="#fff" stroke="#000" stroke-width="3.1" stroke-linejoin="round"/>
<path d="M233.6,70.4 L232.5,67.2 L258.5,67.2 L259.6,70.4 Z" fill="#000" stroke="#000" stroke-width="3.1" stroke-linejoin="round"/>
<path d="M233.4,97.2 L231.3,92.9 L257.3,92.9 L259.4,97.2 Z" fill="#fff" stroke="#000" stroke-width="3.1" stroke-linejoin="round"/>
<path d="M229.3,88.3 L234.8,73.6 L260.8,73.6 L255.3,88.3 Z" fill="#fff" stroke="#000" stroke-width="3.1" stroke-linejoin="round"/>
<path d="M226.5,-81.2 L234.8,-73.6 L260.8,-73.6 L252.5,-81.2 Z" fill="#fff" stroke="#000" stroke-width="3.1" stroke-linejoin="round"/>
<path d="M231.3,92.9 L229.3,88.3 L255.3,88.3 L257.3,92.9 Z" fill="#fff" stroke="#000" stroke-width="3.1" stroke-linejoin="round"/>
<path d="M228.8,-54.7 L229.7,-58.2 L255.7,-58.2 L254.8,-54.7 Z" fill="#000" stroke="#000" stroke-width="3.1" stroke-linejoin="round"/>
<path d="M227.9,-51.2 L228.8,-54.7 L254.8,-54.7 L253.9,-51.2 Z" fill="#000" stroke="#000" stroke-width="3.1" stroke-linejoin="round"/>
<path d="M232.5,67.2 L224.0,73.6 L250.0,73.6 L258.5,67.2 Z" fill="#fff" stroke="#000" stroke-width="3.1" stroke-linejoin="round"/>
<path d="M227.9,51.2 L227.1,47.6 L253.1,47.6 L253.9,51.2 Z" fill="#000" stroke="#000" stroke-width="3.1" stroke-linejoin="round"/>
<path d="M227.1,47.6 L226.3,43.9 L252.3,43.9 L253.1,47.6 Z" fill="#000" stroke="#000" stroke-width="3.1" stroke-linejoin="round"/>
<path d="M229.7,-58.2 L223.2,-71.1 L249.2,-71.1 L255.7,-58.2 Z" fill="#fff" stroke="#000" stroke-width="3.1" stroke-linejoin="round"/>
<path d="M224.8,-76.2 L226.5,-81.2 L252.5,-81.2 L250.8,-76.2 Z" fill="#fff" stroke="#000" stroke-width="3.1" stroke-linejoin="round"/>
<path d="M221.0,63.1 L227.9,51.2 L253.9,51.2 L247.0,63.1 Z" fill="#fff" stroke="#000" stroke-width="3.1" stroke-linejoin="round"/>
<path d="M224.1,-30.1 L224.6,-33.9 L250.6,-33.9 L250.1,-30.1 Z" fill="#000" stroke="#000" stroke-width="3.1" stroke-linejoin="round"/>
<path d="M223.2,-71.1 L224.8,-76.2 L250.8,-76.2 L249.2,-71.1 Z" fill="#fff" stroke="#000" stroke-width="3.1" stroke-linejoin="round"/>
<path d="M223.6,-26.3 L224.1,-30.1 L250.1,-30.1 L249.6,-26.3 Z" fill="#000" stroke="#000" stroke-width="3.1" stroke-linejoin="round"/>
<path d="M219.0,-54.9 L227.9,-51.2 L253.9,-51.2 L245.0,-54.9 Z" fill="#fff" stroke="#000" stroke-width="3.1" stroke-linejoin="round"/>
<path d="M223.6,26.3 L223.2,22.4 L249.2,22.4 L249.6,26.3 Z" fill="#000" stroke="#000" stroke-width="3.1" stroke-linejoin="round"/>
<path d="M224.0,73.6 L222.4,68.4 L248.4,68.4 L250.0,73.6 Z" fill="#fff" stroke="#000" stroke-width="3.1" stroke-linejoin="round"/>
<path d="M223.2,22.4 L222.9,18.5 L248.9,18.5 L249.2,22.4 Z" fill="#000" stroke="#000" stroke-width="3.1" stroke-linejoin="round"/>
<path d="M222.2,-4.0 L222.3,-7.9 L248.3,-7.9 L248.2,-4.0 Z" fill="#000" stroke="#000" stroke-width="3.1" stroke-linejoin="round"/>
<path d="M222.2,0.0 L222.2,-4.0 L248.2,-4.0 L248.2,0.0 Z" fill="#000" stroke="#000" stroke-width="3.1" stroke-linejoin="round"/>
<path d="M226.3,43.9 L217.4,46.4 L243.4,46.4 L252.3,43.9 Z" fill="#fff" stroke="#000" stroke-width="3.1" stroke-linejoin="round"/>
<path d="M222.4,68.4 L221.0,63.1 L247.0,63.1 L248.4,68.4 Z" fill="#fff" stroke="#000" stroke-width="3.1" stroke-linejoin="round"/>
<path d="M224.6,-33.9 L216.9,-43.5 L242.9,-43.5 L250.6,-33.9 Z" fill="#fff" stroke="#000" stroke-width="3.1" stroke-linejoin="round"/>
<path d="M215.6,34.7 L223.6,26.3 L249.6,26.3 L241.6,34.7 Z" fill="#fff" stroke="#000" stroke-width="3.1" stroke-linejoin="round"/>
<path d="M214.6,-25.8 L223.6,-26.3 L249.6,-26.3 L240.6,-25.8 Z" fill="#fff" stroke="#000" stroke-width="3.1" stroke-linejoin="round"/>
<path d="M217.9,-49.2 L219.0,-54.9 L245.0,-54.9 L243.9,-49.2 Z" fill="#fff" stroke="#000" stroke-width="3.1" stroke-linejoin="round"/>
<path d="M222.9,18.5 L213.9,16.7 L239.9,16.7 L248.9,18.5 Z" fill="#fff" stroke="#000" stroke-width="3.1" stroke-linejoin="round"/>
<path d="M222.3,-7.9 L213.7,-13.7 L239.7,-13.7 L248.3,-7.9 Z" fill="#fff" stroke="#000" stroke-width="3.1" stroke-linejoin="round"/>
<path d="M213.4,4.6 L222.2,0.0 L248.2,0.0 L239.4,4.6 Z" fill="#fff" stroke="#000" stroke-width="3.1" stroke-linejoin="round"/>
<path d="M216.9,-43.5 L217.9,-49.2 L243.9,-49.2 L242.9,-43.5 Z" fill="#fff" stroke="#000" stroke-width="3.1" stroke-linejoin="round"/>
<path d="M217.4,46.4 L216.4,40.6 L242.4,40.6 L243.4,46.4 Z" fill="#fff" stroke="#000" stroke-width="3.1" stroke-linejoin="round"/>
<path d="M216.4,40.6 L215.6,34.7 L241.6,34.7 L242.4,40.6 Z" fill="#fff" stroke="#000" stroke-width="3.1" stroke-linejoin="round"/>
<path d="M214.1,-19.8 L214.6,-25.8 L240.6,-25.8 L240.1,-19.8 Z" fill="#fff" stroke="#000" stroke-width="3.1" stroke-linejoin="round"/>
<path d="M213.7,-13.7 L214.1,-19.8 L240.1,-19.8 L239.7,-13.7 Z" fill="#fff" stroke="#000" stroke-width="3.1" stroke-linejoin="round"/>
<path d="M213.9,16.7 L213.6,10.7 L239.6,10.7 L239.9,16.7 Z" fill="#fff" stroke="#000" stroke-width="3.1" stroke-linejoin="round"/>
<path d="M213.6,10.7 L213.4,4.6 L239.4,4.6 L239.6,10.7 Z" fill="#fff" stroke="#000" stroke-width="3.1" stroke-linejoin="round"/>
<path d="M363.8,0.0 L363.8,4.0 L363.7,7.9 L372.3,13.7 L371.9,19.8 L371.4,25.8 L362.4,26.3 L361.9,30.1 L361.4,33.9 L369.1,43.5 L368.1,49.2 L367.0,54.9 L358.1,51.2 L357.2,54.7 L356.3,58.2 L362.8,71.1 L361.2,76.2 L359.5,81.2 L351.2,73.6 L350.0,76.6 L348.7,79.6 L353.6,95.1 L351.5,99.3 L349.3,103.4 L342.1,92.3 L340.5,94.7 L338.9,97.0 L342.1,114.3 L339.5,117.5 L336.9,120.5 L331.1,106.3 L329.3,108.0 L327.5,109.5 L328.7,127.9 L325.9,129.8 L323.0,131.5 L318.9,115.0 L317.0,115.9 L315.0,116.5 L314.2,135.0 L311.2,135.6 L308.2,135.9 L306.0,118.0 L304.1,117.9 L302.1,117.7 L299.3,135.3 L296.3,134.6 L293.4,133.5 L293.1,115.0 L291.2,114.1 L289.4,113.0 L284.7,128.9 L281.9,126.8 L279.1,124.4 L280.9,106.3 L279.2,104.5 L277.5,102.6 L271.2,116.0 L268.7,112.7 L266.2,109.1 L269.9,92.3 L268.4,89.7 L267.0,87.1 L259.4,97.2 L257.3,92.9 L255.3,88.3 L260.8,73.6 L259.6,70.4 L258.5,67.2 L250.0,73.6 L248.4,68.4 L247.0,63.1 L253.9,51.2 L253.1,47.6 L252.3,43.9 L243.4,46.4 L242.4,40.6 L241.6,34.7 L249.6,26.3 L249.2,22.4 L248.9,18.5 L239.9,16.7 L239.6,10.7 L239.4,4.6 L248.2,0.0 L248.2,-4.0 L248.3,-7.9 L239.7,-13.7 L240.1,-19.8 L240.6,-25.8 L249.6,-26.3 L250.1,-30.1 L250.6,-33.9 L242.9,-43.5 L243.9,-49.2 L245.0,-54.9 L253.9,-51.2 L254.8,-54.7 L255.7,-58.2 L249.2,-71.1 L250.8,-76.2 L252.5,-81.2 L260.8,-73.6 L262.0,-76.6 L263.3,-79.6 L258.4,-95.1 L260.5,-99.3 L262.7,-103.4 L269.9,-92.3 L271.5,-94.7 L273.1,-97.0 L269.9,-114.3 L272.5,-117.5 L275.1,-120.5 L280.9,-106.3 L282.7,-108.0 L284.5,-109.5 L283.3,-127.9 L286.1,-129.8 L289.0,-131.5 L293.1,-115.0 L295.0,-115.9 L297.0,-116.5 L297.8,-135.0 L300.8,-135.6 L303.8,-135.9 L306.0,-118.0 L307.9,-117.9 L309.9,-117.7 L312.7,-135.3 L315.7,-134.6 L318.6,-133.5 L318.9,-115.0 L320.8,-114.1 L322.6,-113.0 L327.3,-128.9 L330.1,-126.8 L332.9,-124.4 L331.1,-106.3 L332.8,-104.5 L334.5,-102.6 L340.8,-116.0 L343.3,-112.7 L345.8,-109.1 L342.1,-92.3 L343.6,-89.7 L345.0,-87.1 L352.6,-97.2 L354.7,-92.9 L356.7,-88.3 L351.2,-73.6 L352.4,-70.4 L353.5,-67.2 L362.0,-73.6 L363.6,-68.4 L365.0,-63.1 L358.1,-51.2 L358.9,-47.6 L359.7,-43.9 L368.6,-46.4 L369.6,-40.6 L370.4,-34.7 L362.4,-26.3 L362.8,-22.4 L363.1,-18.5 L372.1,-16.7 L372.4,-10.7 L372.6,-4.6 Z" fill="#fff" stroke="#000" stroke-width="3.3" stroke-linejoin="round"/>
<path d="M306.0,-107.0 L307.0,-107.0 A52.4,107.0 0 0 1 307.0,107.0 L306.0,107.0 A52.4,107.0 0 0 1 306.0,-107.0 Z" fill="#fff" stroke="#000" stroke-width="2.6"/>
<ellipse cx="307.0" cy="0.0" rx="52.4" ry="107.0" fill="#fff" stroke="#000" stroke-width="3.0"/>
<ellipse cx="307.0" cy="0.0" rx="50.2" ry="102.5" fill="none" stroke="#000" stroke-width="1.3"/>
<ellipse cx="307.0" cy="0.0" rx="47.5" ry="97.0" fill="#fff" stroke="#000" stroke-width="2.6"/>
<clipPath id="c6"><ellipse cx="307.0" cy="0" rx="47.5" ry="97.0"/></clipPath><g clip-path="url(#c6)"><path d="M291.0,-97.0 L294.7,-96.7 L298.4,-95.8 L302.1,-94.3 L305.7,-92.3 L309.2,-89.6 L312.6,-86.4 L315.8,-82.7 L318.9,-78.5 L321.9,-73.8 L324.6,-68.6 L327.1,-63.0 L329.5,-57.0 L331.5,-50.7 L333.3,-44.0 L334.9,-37.1 L336.2,-30.0 L337.2,-22.6 L337.9,-15.2 L338.4,-7.6 L338.5,0.0 L338.4,7.6 L337.9,15.2 L337.2,22.6 L336.2,30.0 L334.9,37.1 L333.3,44.0 L331.5,50.7 L329.5,57.0 L327.1,63.0 L324.6,68.6 L321.9,73.8 L318.9,78.5 L315.8,82.7 L312.6,86.4 L309.2,89.6 L305.7,92.3 L302.1,94.3 L298.4,95.8 L294.7,96.7 L291.0,97.0" fill="none" stroke="#000" stroke-width="2.4" stroke-linejoin="round"/><path d="M333.8,31.9 L332.9,36.6 L331.9,41.1 L330.7,45.6 L329.5,49.9 L328.1,54.1 L326.6,58.1 L325.0,61.9 L323.3,65.6 L321.5,69.1 L319.6,72.3 L317.7,75.4 L315.6,78.2 L305.0,44.6 L306.2,43.0 L307.3,41.2 L308.4,39.4 L309.4,37.4 L310.4,35.3 L311.3,33.1 L312.1,30.8 L312.9,28.4 L313.6,26.0 L314.3,23.4 L314.9,20.8 L315.4,18.2 Z" fill="#fff" stroke="#000" stroke-width="2.6" stroke-linejoin="round"/><path d="M322.9,36.3 L322.1,39.9 L321.2,43.5 L320.2,47.0 L319.1,50.4 L318.0,53.7 L316.8,56.8 L315.6,59.9 L314.2,62.9 L312.8,65.7 L311.4,68.4 L309.9,71.0 L308.3,73.4 L297.9,44.4 L298.9,42.9 L299.8,41.4 L300.6,39.7 L301.5,38.0 L302.3,36.2 L303.0,34.4 L303.8,32.4 L304.4,30.4 L305.1,28.4 L305.7,26.3 L306.2,24.1 L306.7,21.9 Z" fill="none" stroke="#000" stroke-width="1.8" stroke-linejoin="round"/><path d="M298.9,91.6 L296.4,92.3 L294.0,92.8 L291.5,93.0 L289.0,92.9 L286.6,92.6 L284.1,91.9 L281.7,91.1 L279.3,89.9 L277.0,88.5 L274.6,86.8 L272.4,84.9 L270.1,82.7 L279.1,47.1 L280.4,48.4 L281.7,49.5 L283.0,50.4 L284.3,51.2 L285.7,51.9 L287.1,52.4 L288.5,52.8 L289.9,53.0 L291.3,53.0 L292.7,52.9 L294.1,52.6 L295.5,52.2 Z" fill="#fff" stroke="#000" stroke-width="2.6" stroke-linejoin="round"/><path d="M287.1,90.4 L285.1,90.8 L283.1,91.0 L281.2,91.0 L279.2,90.8 L277.2,90.5 L275.3,90.0 L273.4,89.3 L271.4,88.4 L269.5,87.4 L267.7,86.2 L265.8,84.8 L264.0,83.3 L271.1,50.3 L272.2,51.2 L273.3,52.1 L274.5,52.8 L275.6,53.4 L276.8,54.0 L277.9,54.4 L279.1,54.7 L280.3,54.9 L281.5,55.0 L282.7,55.0 L283.9,54.9 L285.1,54.6 Z" fill="none" stroke="#000" stroke-width="1.8" stroke-linejoin="round"/><path d="M256.1,59.7 L254.5,55.8 L253.1,51.7 L251.8,47.4 L250.6,43.0 L249.5,38.5 L248.6,33.9 L247.7,29.1 L247.0,24.3 L246.4,19.4 L246.0,14.5 L245.7,9.5 L245.5,4.5 L265.1,2.5 L265.2,5.4 L265.3,8.2 L265.6,11.1 L265.9,13.8 L266.3,16.6 L266.8,19.3 L267.4,21.9 L268.0,24.5 L268.7,27.0 L269.4,29.4 L270.2,31.8 L271.1,34.0 Z" fill="#fff" stroke="#000" stroke-width="2.6" stroke-linejoin="round"/><path d="M246.2,54.1 L245.0,50.9 L244.0,47.5 L243.0,44.0 L242.1,40.5 L241.2,36.8 L240.5,33.1 L239.8,29.4 L239.2,25.5 L238.7,21.7 L238.3,17.7 L237.9,13.8 L237.7,9.8 L255.2,5.9 L255.4,8.3 L255.6,10.7 L255.8,13.1 L256.1,15.4 L256.5,17.7 L256.9,20.0 L257.4,22.3 L257.9,24.5 L258.4,26.6 L259.0,28.7 L259.7,30.7 L260.3,32.7 Z" fill="none" stroke="#000" stroke-width="1.8" stroke-linejoin="round"/><path d="M248.2,-31.9 L249.1,-36.6 L250.1,-41.1 L251.3,-45.6 L252.5,-49.9 L253.9,-54.1 L255.4,-58.1 L257.0,-61.9 L258.7,-65.6 L260.5,-69.1 L262.4,-72.3 L264.3,-75.4 L266.4,-78.2 L277.0,-44.6 L275.8,-43.0 L274.7,-41.2 L273.6,-39.4 L272.6,-37.4 L271.6,-35.3 L270.7,-33.1 L269.9,-30.8 L269.1,-28.4 L268.4,-26.0 L267.7,-23.4 L267.1,-20.8 L266.6,-18.2 Z" fill="#fff" stroke="#000" stroke-width="2.6" stroke-linejoin="round"/><path d="M241.1,-36.3 L241.9,-39.9 L242.8,-43.5 L243.8,-47.0 L244.9,-50.4 L246.0,-53.7 L247.2,-56.8 L248.4,-59.9 L249.8,-62.9 L251.2,-65.7 L252.6,-68.4 L254.1,-71.0 L255.7,-73.4 L266.1,-44.4 L265.1,-42.9 L264.2,-41.4 L263.4,-39.7 L262.5,-38.0 L261.7,-36.2 L261.0,-34.4 L260.2,-32.4 L259.6,-30.4 L258.9,-28.4 L258.3,-26.3 L257.8,-24.1 L257.3,-21.9 Z" fill="none" stroke="#000" stroke-width="1.8" stroke-linejoin="round"/><path d="M283.1,-91.6 L285.6,-92.3 L288.0,-92.8 L290.5,-93.0 L293.0,-92.9 L295.4,-92.6 L297.9,-91.9 L300.3,-91.1 L302.7,-89.9 L305.0,-88.5 L307.4,-86.8 L309.6,-84.9 L311.9,-82.7 L302.9,-47.1 L301.6,-48.4 L300.3,-49.5 L299.0,-50.4 L297.7,-51.2 L296.3,-51.9 L294.9,-52.4 L293.5,-52.8 L292.1,-53.0 L290.7,-53.0 L289.3,-52.9 L287.9,-52.6 L286.5,-52.2 Z" fill="#fff" stroke="#000" stroke-width="2.6" stroke-linejoin="round"/><path d="M276.9,-90.4 L278.9,-90.8 L280.9,-91.0 L282.8,-91.0 L284.8,-90.8 L286.8,-90.5 L288.7,-90.0 L290.6,-89.3 L292.6,-88.4 L294.5,-87.4 L296.3,-86.2 L298.2,-84.8 L300.0,-83.3 L292.9,-50.3 L291.8,-51.2 L290.7,-52.1 L289.5,-52.8 L288.4,-53.4 L287.2,-54.0 L286.1,-54.4 L284.9,-54.7 L283.7,-54.9 L282.5,-55.0 L281.3,-55.0 L280.1,-54.9 L278.9,-54.6 Z" fill="none" stroke="#000" stroke-width="1.8" stroke-linejoin="round"/><path d="M325.9,-59.7 L327.5,-55.8 L328.9,-51.7 L330.2,-47.4 L331.4,-43.0 L332.5,-38.5 L333.4,-33.9 L334.3,-29.1 L335.0,-24.3 L335.6,-19.4 L336.0,-14.5 L336.3,-9.5 L336.5,-4.5 L316.9,-2.5 L316.8,-5.4 L316.7,-8.2 L316.4,-11.1 L316.1,-13.8 L315.7,-16.6 L315.2,-19.3 L314.6,-21.9 L314.0,-24.5 L313.3,-27.0 L312.6,-29.4 L311.8,-31.8 L310.9,-34.0 Z" fill="#fff" stroke="#000" stroke-width="2.6" stroke-linejoin="round"/><path d="M317.8,-54.1 L319.0,-50.9 L320.0,-47.5 L321.0,-44.0 L321.9,-40.5 L322.8,-36.8 L323.5,-33.1 L324.2,-29.4 L324.8,-25.5 L325.3,-21.7 L325.7,-17.7 L326.1,-13.8 L326.3,-9.8 L308.8,-5.9 L308.6,-8.3 L308.4,-10.7 L308.2,-13.1 L307.9,-15.4 L307.5,-17.7 L307.1,-20.0 L306.6,-22.3 L306.1,-24.5 L305.6,-26.6 L305.0,-28.7 L304.3,-30.7 L303.7,-32.7 Z" fill="none" stroke="#000" stroke-width="1.8" stroke-linejoin="round"/><path d="M291.0,-49.0 L305.0,-49.0 A24.0,49.0 0 0 1 305.0,49.0 L291.0,49.0 A24.0,49.0 0 0 1 291.0,-49.0 Z" fill="#fff" stroke="#000" stroke-width="2.6"/></g>
<ellipse cx="305.0" cy="0.0" rx="24.0" ry="49.0" fill="#fff" stroke="#000" stroke-width="2.8"/>
<ellipse cx="305.0" cy="0.0" rx="21.6" ry="44.0" fill="none" stroke="#000" stroke-width="1.5"/>
<ellipse cx="305.0" cy="0.0" rx="18.1" ry="37.0" fill="#fff" stroke="#000" stroke-width="3.8"/>
<clipPath id="c7"><ellipse cx="305.0" cy="0" rx="18.1" ry="37.0"/></clipPath><g clip-path="url(#c7)"><path d="M275.0,-37.0 L276.4,-36.9 L277.8,-36.5 L279.2,-36.0 L280.6,-35.2 L281.9,-34.2 L283.2,-33.0 L284.5,-31.5 L285.7,-29.9 L286.8,-28.1 L287.8,-26.2 L288.8,-24.0 L289.7,-21.7 L290.5,-19.3 L291.2,-16.8 L291.7,-14.2 L292.2,-11.4 L292.6,-8.6 L292.9,-5.8 L293.1,-2.9 L293.1,0.0 L293.1,2.9 L292.9,5.8 L292.6,8.6 L292.2,11.4 L291.7,14.2 L291.2,16.8 L290.5,19.3 L289.7,21.7 L288.8,24.0 L287.8,26.2 L286.8,28.1 L285.7,29.9 L284.5,31.5 L283.2,33.0 L281.9,34.2 L280.6,35.2 L279.2,36.0 L277.8,36.5 L276.4,36.9 L275.0,37.0" fill="none" stroke="#000" stroke-width="1.8" stroke-linejoin="round"/></g>
<path d="M390.0,-36.0 L412.0,-36.0 A17.6,36.0 0 0 1 412.0,36.0 L390.0,36.0 A17.6,36.0 0 0 1 390.0,-36.0 Z" fill="#fff" stroke="#000" stroke-width="3.3"/>
<ellipse cx="412.0" cy="0.0" rx="17.6" ry="36.0" fill="#fff" stroke="#000" stroke-width="3.3"/>
<ellipse cx="412.0" cy="0.0" rx="15.4" ry="31.5" fill="#fff" stroke="#000" stroke-width="3.9599999999999995"/>
<clipPath id="c8"><ellipse cx="412.0" cy="0" rx="14.7" ry="30.0"/></clipPath><g clip-path="url(#c8)"><path d="M390.0,-30.0 L391.2,-29.9 L392.3,-29.6 L393.4,-29.2 L394.5,-28.5 L395.6,-27.7 L396.7,-26.7 L397.7,-25.6 L398.6,-24.3 L399.5,-22.8 L400.4,-21.2 L401.2,-19.5 L401.9,-17.6 L402.5,-15.7 L403.1,-13.6 L403.6,-11.5 L404.0,-9.3 L404.3,-7.0 L404.5,-4.7 L404.7,-2.4 L404.7,0.0 L404.7,2.4 L404.5,4.7 L404.3,7.0 L404.0,9.3 L403.6,11.5 L403.1,13.6 L402.5,15.7 L401.9,17.6 L401.2,19.5 L400.4,21.2 L399.5,22.8 L398.6,24.3 L397.7,25.6 L396.7,26.7 L395.6,27.7 L394.5,28.5 L393.4,29.2 L392.3,29.6 L391.2,29.9 L390.0,30.0" fill="none" stroke="#000" stroke-width="2.64" stroke-linejoin="round"/><line x1="390.0" y1="-30.0" x2="412.0" y2="-30.0" stroke="#000" stroke-width="2.64"/><line x1="390.0" y1="30.0" x2="412.0" y2="30.0" stroke="#000" stroke-width="2.64"/></g>
<path d="M453.0,-45.0 L456.0,-45.0 A22.1,45.0 0 0 1 456.0,45.0 L453.0,45.0 A22.1,45.0 0 0 1 453.0,-45.0 Z" fill="#fff" stroke="#000" stroke-width="3.3"/>
<ellipse cx="456.0" cy="0.0" rx="22.1" ry="45.0" fill="#fff" stroke="#000" stroke-width="3.3"/>
<ellipse cx="456.0" cy="0.0" rx="20.6" ry="42.0" fill="none" stroke="#000" stroke-width="1.4849999999999999"/>
<ellipse cx="456.0" cy="0.0" rx="14.7" ry="30.0" fill="#fff" stroke="#000" stroke-width="3.3"/>
<path d="M547.4,-38.9 L552.9,-41.5 L586.9,-41.5 L581.4,-38.9 Z" fill="#fff" stroke="#000" stroke-width="3.1" stroke-linejoin="round"/>
<path d="M551.7,46.6 L546.3,43.3 L580.3,43.3 L585.7,46.6 Z" fill="#fff" stroke="#000" stroke-width="3.1" stroke-linejoin="round"/>
<path d="M541.2,-57.1 L546.2,-63.0 L580.2,-63.0 L575.2,-57.1 Z" fill="#fff" stroke="#000" stroke-width="3.1" stroke-linejoin="round"/>
<path d="M544.3,67.1 L539.6,60.5 L573.6,60.5 L578.3,67.1 Z" fill="#fff" stroke="#000" stroke-width="3.1" stroke-linejoin="round"/>
<path d="M533.0,-70.5 L537.0,-79.3 L571.0,-79.3 L567.0,-70.5 Z" fill="#fff" stroke="#000" stroke-width="3.1" stroke-linejoin="round"/>
<path d="M534.7,82.1 L531.0,72.8 L565.0,72.8 L568.7,82.1 Z" fill="#fff" stroke="#000" stroke-width="3.1" stroke-linejoin="round"/>
<path d="M523.4,-78.3 L526.1,-89.2 L560.1,-89.2 L557.4,-78.3 Z" fill="#fff" stroke="#000" stroke-width="3.1" stroke-linejoin="round"/>
<path d="M523.5,90.5 L521.1,79.2 L555.1,79.2 L557.5,90.5 Z" fill="#fff" stroke="#000" stroke-width="3.1" stroke-linejoin="round"/>
<path d="M514.3,-91.9 L517.3,-92.0 L551.3,-92.0 L548.3,-91.9 Z" fill="#fff" stroke="#000" stroke-width="3.1" stroke-linejoin="round"/>
<path d="M513.1,-79.7 L514.3,-91.9 L548.3,-91.9 L547.1,-79.7 Z" fill="#fff" stroke="#000" stroke-width="3.1" stroke-linejoin="round"/>
<path d="M514.7,92.0 L511.8,91.5 L545.8,91.5 L548.7,92.0 Z" fill="#fff" stroke="#000" stroke-width="3.1" stroke-linejoin="round"/>
<path d="M512.0,-79.5 L513.1,-79.7 L547.1,-79.7 L546.0,-79.5 Z" fill="#000" stroke="#000" stroke-width="3.1" stroke-linejoin="round"/>
<path d="M510.9,-79.2 L512.0,-79.5 L546.0,-79.5 L544.9,-79.2 Z" fill="#000" stroke="#000" stroke-width="3.1" stroke-linejoin="round"/>
<path d="M511.8,91.5 L510.9,79.2 L544.9,79.2 L545.8,91.5 Z" fill="#fff" stroke="#000" stroke-width="3.1" stroke-linejoin="round"/>
<path d="M510.9,79.2 L509.8,78.8 L543.8,78.8 L544.9,79.2 Z" fill="#000" stroke="#000" stroke-width="3.1" stroke-linejoin="round"/>
<path d="M508.5,-90.5 L510.9,-79.2 L544.9,-79.2 L542.5,-90.5 Z" fill="#fff" stroke="#000" stroke-width="3.1" stroke-linejoin="round"/>
<path d="M509.8,78.8 L508.6,78.3 L542.6,78.3 L543.8,78.8 Z" fill="#000" stroke="#000" stroke-width="3.1" stroke-linejoin="round"/>
<path d="M508.6,78.3 L505.9,89.2 L539.9,89.2 L542.6,78.3 Z" fill="#fff" stroke="#000" stroke-width="3.1" stroke-linejoin="round"/>
<path d="M505.6,-89.0 L508.5,-90.5 L542.5,-90.5 L539.6,-89.0 Z" fill="#fff" stroke="#000" stroke-width="3.1" stroke-linejoin="round"/>
<path d="M505.9,89.2 L503.1,87.4 L537.1,87.4 L539.9,89.2 Z" fill="#fff" stroke="#000" stroke-width="3.1" stroke-linejoin="round"/>
<path d="M502.8,-87.2 L505.6,-89.0 L539.6,-89.0 L536.8,-87.2 Z" fill="#fff" stroke="#000" stroke-width="3.1" stroke-linejoin="round"/>
<path d="M503.1,-74.7 L502.8,-87.2 L536.8,-87.2 L537.1,-74.7 Z" fill="#fff" stroke="#000" stroke-width="3.1" stroke-linejoin="round"/>
<path d="M502.1,-73.8 L503.1,-74.7 L537.1,-74.7 L536.1,-73.8 Z" fill="#000" stroke="#000" stroke-width="3.1" stroke-linejoin="round"/>
<path d="M503.1,87.4 L500.3,85.1 L534.3,85.1 L537.1,87.4 Z" fill="#fff" stroke="#000" stroke-width="3.1" stroke-linejoin="round"/>
<path d="M501.0,-72.8 L502.1,-73.8 L536.1,-73.8 L535.0,-72.8 Z" fill="#000" stroke="#000" stroke-width="3.1" stroke-linejoin="round"/>
<path d="M500.3,85.1 L501.0,72.8 L535.0,72.8 L534.3,85.1 Z" fill="#fff" stroke="#000" stroke-width="3.1" stroke-linejoin="round"/>
<path d="M501.0,72.8 L500.0,71.7 L534.0,71.7 L535.0,72.8 Z" fill="#000" stroke="#000" stroke-width="3.1" stroke-linejoin="round"/>
<path d="M500.0,71.7 L499.0,70.5 L533.0,70.5 L534.0,71.7 Z" fill="#000" stroke="#000" stroke-width="3.1" stroke-linejoin="round"/>
<path d="M497.3,-82.1 L501.0,-72.8 L535.0,-72.8 L531.3,-82.1 Z" fill="#fff" stroke="#000" stroke-width="3.1" stroke-linejoin="round"/>
<path d="M499.0,70.5 L495.0,79.3 L529.0,79.3 L533.0,70.5 Z" fill="#fff" stroke="#000" stroke-width="3.1" stroke-linejoin="round"/>
<path d="M494.7,-78.9 L497.3,-82.1 L531.3,-82.1 L528.7,-78.9 Z" fill="#fff" stroke="#000" stroke-width="3.1" stroke-linejoin="round"/>
<path d="M495.0,79.3 L492.5,75.8 L526.5,75.8 L529.0,79.3 Z" fill="#fff" stroke="#000" stroke-width="3.1" stroke-linejoin="round"/>
<path d="M493.3,-62.1 L494.2,-63.6 L528.2,-63.6 L527.3,-62.1 Z" fill="#000" stroke="#000" stroke-width="3.1" stroke-linejoin="round"/>
<path d="M492.2,-75.3 L494.7,-78.9 L528.7,-78.9 L526.2,-75.3 Z" fill="#fff" stroke="#000" stroke-width="3.1" stroke-linejoin="round"/>
<path d="M494.2,-63.6 L492.2,-75.3 L526.2,-75.3 L528.2,-63.6 Z" fill="#fff" stroke="#000" stroke-width="3.1" stroke-linejoin="round"/>
<path d="M492.4,-60.5 L493.3,-62.1 L527.3,-62.1 L526.4,-60.5 Z" fill="#000" stroke="#000" stroke-width="3.1" stroke-linejoin="round"/>
<path d="M492.4,60.5 L491.6,58.8 L525.6,58.8 L526.4,60.5 Z" fill="#000" stroke="#000" stroke-width="3.1" stroke-linejoin="round"/>
<path d="M492.5,75.8 L490.2,71.9 L524.2,71.9 L526.5,75.8 Z" fill="#fff" stroke="#000" stroke-width="3.1" stroke-linejoin="round"/>
<path d="M490.2,71.9 L492.4,60.5 L526.4,60.5 L524.2,71.9 Z" fill="#fff" stroke="#000" stroke-width="3.1" stroke-linejoin="round"/>
<path d="M491.6,58.8 L490.8,57.1 L524.8,57.1 L525.6,58.8 Z" fill="#000" stroke="#000" stroke-width="3.1" stroke-linejoin="round"/>
<path d="M487.7,-67.1 L492.4,-60.5 L526.4,-60.5 L521.7,-67.1 Z" fill="#fff" stroke="#000" stroke-width="3.1" stroke-linejoin="round"/>
<path d="M490.8,57.1 L485.8,63.0 L519.8,63.0 L524.8,57.1 Z" fill="#fff" stroke="#000" stroke-width="3.1" stroke-linejoin="round"/>
<path d="M486.3,-45.3 L487.0,-47.4 L521.0,-47.4 L520.3,-45.3 Z" fill="#000" stroke="#000" stroke-width="3.1" stroke-linejoin="round"/>
<path d="M485.6,-62.4 L487.7,-67.1 L521.7,-67.1 L519.6,-62.4 Z" fill="#fff" stroke="#000" stroke-width="3.1" stroke-linejoin="round"/>
<path d="M485.7,-43.3 L486.3,-45.3 L520.3,-45.3 L519.7,-43.3 Z" fill="#000" stroke="#000" stroke-width="3.1" stroke-linejoin="round"/>
<path d="M485.7,43.3 L485.1,41.1 L519.1,41.1 L519.7,43.3 Z" fill="#000" stroke="#000" stroke-width="3.1" stroke-linejoin="round"/>
<path d="M487.0,-47.4 L483.7,-57.4 L517.7,-57.4 L521.0,-47.4 Z" fill="#fff" stroke="#000" stroke-width="3.1" stroke-linejoin="round"/>
<path d="M485.8,63.0 L483.9,58.0 L517.9,58.0 L519.8,63.0 Z" fill="#fff" stroke="#000" stroke-width="3.1" stroke-linejoin="round"/>
<path d="M485.1,41.1 L484.6,38.9 L518.6,38.9 L519.1,41.1 Z" fill="#000" stroke="#000" stroke-width="3.1" stroke-linejoin="round"/>
<path d="M483.7,-57.4 L485.6,-62.4 L519.6,-62.4 L517.7,-57.4 Z" fill="#fff" stroke="#000" stroke-width="3.1" stroke-linejoin="round"/>
<path d="M482.1,52.8 L485.7,43.3 L519.7,43.3 L516.1,52.8 Z" fill="#fff" stroke="#000" stroke-width="3.1" stroke-linejoin="round"/>
<path d="M480.3,-46.6 L485.7,-43.3 L519.7,-43.3 L514.3,-46.6 Z" fill="#fff" stroke="#000" stroke-width="3.1" stroke-linejoin="round"/>
<path d="M483.9,58.0 L482.1,52.8 L516.1,52.8 L517.9,58.0 Z" fill="#fff" stroke="#000" stroke-width="3.1" stroke-linejoin="round"/>
<path d="M481.8,-24.9 L482.2,-27.3 L516.2,-27.3 L515.8,-24.9 Z" fill="#000" stroke="#000" stroke-width="3.1" stroke-linejoin="round"/>
<path d="M484.6,38.9 L479.1,41.5 L513.1,41.5 L518.6,38.9 Z" fill="#fff" stroke="#000" stroke-width="3.1" stroke-linejoin="round"/>
<path d="M481.5,-22.5 L481.8,-24.9 L515.8,-24.9 L515.5,-22.5 Z" fill="#000" stroke="#000" stroke-width="3.1" stroke-linejoin="round"/>
<path d="M481.5,22.5 L481.2,20.1 L515.2,20.1 L515.5,22.5 Z" fill="#000" stroke="#000" stroke-width="3.1" stroke-linejoin="round"/>
<path d="M481.2,20.1 L480.9,17.7 L514.9,17.7 L515.2,20.1 Z" fill="#000" stroke="#000" stroke-width="3.1" stroke-linejoin="round"/>
<path d="M480.0,-2.5 L480.1,-5.0 L514.1,-5.0 L514.0,-2.5 Z" fill="#000" stroke="#000" stroke-width="3.1" stroke-linejoin="round"/>
<path d="M480.0,0.0 L480.0,-2.5 L514.0,-2.5 L514.0,0.0 Z" fill="#000" stroke="#000" stroke-width="3.1" stroke-linejoin="round"/>
<path d="M482.2,-27.3 L477.7,-34.8 L511.7,-34.8 L516.2,-27.3 Z" fill="#fff" stroke="#000" stroke-width="3.1" stroke-linejoin="round"/>
<path d="M478.9,-40.8 L480.3,-46.6 L514.3,-46.6 L512.9,-40.8 Z" fill="#fff" stroke="#000" stroke-width="3.1" stroke-linejoin="round"/>
<path d="M476.8,29.4 L481.5,22.5 L515.5,22.5 L510.8,29.4 Z" fill="#fff" stroke="#000" stroke-width="3.1" stroke-linejoin="round"/>
<path d="M475.8,-22.4 L481.5,-22.5 L515.5,-22.5 L509.8,-22.4 Z" fill="#fff" stroke="#000" stroke-width="3.1" stroke-linejoin="round"/>
<path d="M479.1,41.5 L477.8,35.6 L511.8,35.6 L513.1,41.5 Z" fill="#fff" stroke="#000" stroke-width="3.1" stroke-linejoin="round"/>
<path d="M477.7,-34.8 L478.9,-40.8 L512.9,-40.8 L511.7,-34.8 Z" fill="#fff" stroke="#000" stroke-width="3.1" stroke-linejoin="round"/>
<path d="M480.9,17.7 L475.3,16.7 L509.3,16.7 L514.9,17.7 Z" fill="#fff" stroke="#000" stroke-width="3.1" stroke-linejoin="round"/>
<path d="M480.1,-5.0 L474.8,-9.4 L508.8,-9.4 L514.1,-5.0 Z" fill="#fff" stroke="#000" stroke-width="3.1" stroke-linejoin="round"/>
<path d="M474.6,3.7 L480.0,0.0 L514.0,0.0 L508.6,3.7 Z" fill="#fff" stroke="#000" stroke-width="3.1" stroke-linejoin="round"/>
<path d="M477.8,35.6 L476.8,29.4 L510.8,29.4 L511.8,35.6 Z" fill="#fff" stroke="#000" stroke-width="3.1" stroke-linejoin="round"/>
<path d="M475.2,-15.9 L475.8,-22.4 L509.8,-22.4 L509.2,-15.9 Z" fill="#fff" stroke="#000" stroke-width="3.1" stroke-linejoin="round"/>
<path d="M475.3,16.7 L474.9,10.2 L508.9,10.2 L509.3,16.7 Z" fill="#fff" stroke="#000" stroke-width="3.1" stroke-linejoin="round"/>
<path d="M474.8,-9.4 L475.2,-15.9 L509.2,-15.9 L508.8,-9.4 Z" fill="#fff" stroke="#000" stroke-width="3.1" stroke-linejoin="round"/>
<path d="M474.9,10.2 L474.6,3.7 L508.6,3.7 L508.9,10.2 Z" fill="#fff" stroke="#000" stroke-width="3.1" stroke-linejoin="round"/>
<path d="M586.0,0.0 L586.0,2.5 L585.9,5.0 L591.2,9.4 L590.8,15.9 L590.2,22.4 L584.5,22.5 L584.2,24.9 L583.8,27.3 L588.3,34.8 L587.1,40.8 L585.7,46.6 L580.3,43.3 L579.7,45.3 L579.0,47.4 L582.3,57.4 L580.4,62.4 L578.3,67.1 L573.6,60.5 L572.7,62.1 L571.8,63.6 L573.8,75.3 L571.3,78.9 L568.7,82.1 L565.0,72.8 L563.9,73.8 L562.9,74.7 L563.2,87.2 L560.4,89.0 L557.5,90.5 L555.1,79.2 L554.0,79.5 L552.9,79.7 L551.7,91.9 L548.7,92.0 L545.8,91.5 L544.9,79.2 L543.8,78.8 L542.6,78.3 L539.9,89.2 L537.1,87.4 L534.3,85.1 L535.0,72.8 L534.0,71.7 L533.0,70.5 L529.0,79.3 L526.5,75.8 L524.2,71.9 L526.4,60.5 L525.6,58.8 L524.8,57.1 L519.8,63.0 L517.9,58.0 L516.1,52.8 L519.7,43.3 L519.1,41.1 L518.6,38.9 L513.1,41.5 L511.8,35.6 L510.8,29.4 L515.5,22.5 L515.2,20.1 L514.9,17.7 L509.3,16.7 L508.9,10.2 L508.6,3.7 L514.0,0.0 L514.0,-2.5 L514.1,-5.0 L508.8,-9.4 L509.2,-15.9 L509.8,-22.4 L515.5,-22.5 L515.8,-24.9 L516.2,-27.3 L511.7,-34.8 L512.9,-40.8 L514.3,-46.6 L519.7,-43.3 L520.3,-45.3 L521.0,-47.4 L517.7,-57.4 L519.6,-62.4 L521.7,-67.1 L526.4,-60.5 L527.3,-62.1 L528.2,-63.6 L526.2,-75.3 L528.7,-78.9 L531.3,-82.1 L535.0,-72.8 L536.1,-73.8 L537.1,-74.7 L536.8,-87.2 L539.6,-89.0 L542.5,-90.5 L544.9,-79.2 L546.0,-79.5 L547.1,-79.7 L548.3,-91.9 L551.3,-92.0 L554.2,-91.5 L555.1,-79.2 L556.2,-78.8 L557.4,-78.3 L560.1,-89.2 L562.9,-87.4 L565.7,-85.1 L565.0,-72.8 L566.0,-71.7 L567.0,-70.5 L571.0,-79.3 L573.5,-75.8 L575.8,-71.9 L573.6,-60.5 L574.4,-58.8 L575.2,-57.1 L580.2,-63.0 L582.1,-58.0 L583.9,-52.8 L580.3,-43.3 L580.9,-41.1 L581.4,-38.9 L586.9,-41.5 L588.2,-35.6 L589.2,-29.4 L584.5,-22.5 L584.8,-20.1 L585.1,-17.7 L590.7,-16.7 L591.1,-10.2 L591.4,-3.7 Z" fill="#fff" stroke="#000" stroke-width="3.3" stroke-linejoin="round"/>
<path d="M550.0,-80.0 L558.0,-80.0 A36.0,80.0 0 0 1 558.0,80.0 L550.0,80.0 A36.0,80.0 0 0 1 550.0,-80.0 Z" fill="#fff" stroke="#000" stroke-width="3.3"/>
<ellipse cx="558.0" cy="0.0" rx="36.0" ry="80.0" fill="#fff" stroke="#000" stroke-width="3.3"/>
<ellipse cx="558.0" cy="0.0" rx="33.3" ry="74.0" fill="none" stroke="#000" stroke-width="1.6"/>
<path d="M558.0,-62.0 L572.0,-62.0 A27.9,62.0 0 0 1 572.0,62.0 L558.0,62.0 A27.9,62.0 0 0 1 558.0,-62.0 Z" fill="#fff" stroke="#000" stroke-width="3.3"/>
<ellipse cx="572.0" cy="0.0" rx="27.9" ry="62.0" fill="#fff" stroke="#000" stroke-width="3.3"/>
<ellipse cx="572.0" cy="0.0" rx="25.7" ry="57.0" fill="none" stroke="#000" stroke-width="2.0"/>
<ellipse cx="572.0" cy="0.0" rx="21.2" ry="47.0" fill="#fff" stroke="#000" stroke-width="3.2"/>
<clipPath id="c9"><ellipse cx="572.0" cy="0" rx="21.2" ry="47.0"/></clipPath><g clip-path="url(#c9)"><path d="M557.2,-7.9 L560.8,-8.1 L592.8,-8.1 L589.2,-7.9 Z" fill="#fff" stroke="#000" stroke-width="2.6" stroke-linejoin="round"/>
<path d="M560.3,13.1 L556.7,12.1 L588.7,12.1 L592.3,13.1 Z" fill="#fff" stroke="#000" stroke-width="2.6" stroke-linejoin="round"/>
<path d="M555.2,-19.3 L558.7,-22.0 L590.7,-22.0 L587.2,-19.3 Z" fill="#fff" stroke="#000" stroke-width="2.6" stroke-linejoin="round"/>
<path d="M557.5,26.4 L554.2,22.9 L586.2,22.9 L589.5,26.4 Z" fill="#fff" stroke="#000" stroke-width="2.6" stroke-linejoin="round"/>
<path d="M551.8,-28.8 L554.7,-33.8 L586.7,-33.8 L583.8,-28.8 Z" fill="#fff" stroke="#000" stroke-width="2.6" stroke-linejoin="round"/>
<path d="M553.0,37.1 L550.3,31.6 L582.3,31.6 L585.0,37.1 Z" fill="#fff" stroke="#000" stroke-width="2.6" stroke-linejoin="round"/>
<path d="M547.2,-35.5 L549.3,-42.2 L581.3,-42.2 L579.2,-35.5 Z" fill="#fff" stroke="#000" stroke-width="2.6" stroke-linejoin="round"/>
<path d="M547.2,44.2 L545.4,37.1 L577.4,37.1 L579.2,44.2 Z" fill="#fff" stroke="#000" stroke-width="2.6" stroke-linejoin="round"/>
<path d="M541.9,-38.8 L543.0,-46.5 L575.0,-46.5 L573.9,-38.8 Z" fill="#fff" stroke="#000" stroke-width="2.6" stroke-linejoin="round"/>
<path d="M540.7,47.0 L540.0,39.0 L572.0,39.0 L572.7,47.0 Z" fill="#fff" stroke="#000" stroke-width="2.6" stroke-linejoin="round"/>
<path d="M539.3,-47.0 L540.0,-39.0 L572.0,-39.0 L571.3,-47.0 Z" fill="#fff" stroke="#000" stroke-width="2.6" stroke-linejoin="round"/>
<path d="M540.0,39.0 L538.1,38.8 L570.1,38.8 L572.0,39.0 Z" fill="#000" stroke="#000" stroke-width="2.6" stroke-linejoin="round"/>
<path d="M536.4,-46.3 L539.3,-47.0 L571.3,-47.0 L568.4,-46.3 Z" fill="#fff" stroke="#000" stroke-width="2.6" stroke-linejoin="round"/>
<path d="M538.1,38.8 L537.0,46.5 L569.0,46.5 L570.1,38.8 Z" fill="#fff" stroke="#000" stroke-width="2.6" stroke-linejoin="round"/>
<path d="M536.4,-38.2 L536.4,-46.3 L568.4,-46.3 L568.4,-38.2 Z" fill="#fff" stroke="#000" stroke-width="2.6" stroke-linejoin="round"/>
<path d="M537.0,46.5 L534.1,45.1 L566.1,45.1 L569.0,46.5 Z" fill="#fff" stroke="#000" stroke-width="2.6" stroke-linejoin="round"/>
<path d="M534.6,-37.1 L536.4,-38.2 L568.4,-38.2 L566.6,-37.1 Z" fill="#000" stroke="#000" stroke-width="2.6" stroke-linejoin="round"/>
<path d="M534.1,45.1 L534.6,37.1 L566.6,37.1 L566.1,45.1 Z" fill="#fff" stroke="#000" stroke-width="2.6" stroke-linejoin="round"/>
<path d="M532.8,-44.2 L534.6,-37.1 L566.6,-37.1 L564.8,-44.2 Z" fill="#fff" stroke="#000" stroke-width="2.6" stroke-linejoin="round"/>
<path d="M534.6,37.1 L532.8,35.5 L564.8,35.5 L566.6,37.1 Z" fill="#000" stroke="#000" stroke-width="2.6" stroke-linejoin="round"/>
<path d="M532.8,35.5 L530.7,42.2 L562.7,42.2 L564.8,35.5 Z" fill="#fff" stroke="#000" stroke-width="2.6" stroke-linejoin="round"/>
<path d="M530.1,-41.5 L532.8,-44.2 L564.8,-44.2 L562.1,-41.5 Z" fill="#fff" stroke="#000" stroke-width="2.6" stroke-linejoin="round"/>
<path d="M531.3,-33.9 L530.1,-41.5 L562.1,-41.5 L563.3,-33.9 Z" fill="#fff" stroke="#000" stroke-width="2.6" stroke-linejoin="round"/>
<path d="M529.7,-31.6 L531.3,-33.9 L563.3,-33.9 L561.7,-31.6 Z" fill="#000" stroke="#000" stroke-width="2.6" stroke-linejoin="round"/>
<path d="M530.7,42.2 L528.1,38.9 L560.1,38.9 L562.7,42.2 Z" fill="#fff" stroke="#000" stroke-width="2.6" stroke-linejoin="round"/>
<path d="M529.7,31.6 L528.2,28.8 L560.2,28.8 L561.7,31.6 Z" fill="#000" stroke="#000" stroke-width="2.6" stroke-linejoin="round"/>
<path d="M528.1,38.9 L529.7,31.6 L561.7,31.6 L560.1,38.9 Z" fill="#fff" stroke="#000" stroke-width="2.6" stroke-linejoin="round"/>
<path d="M527.0,-37.1 L529.7,-31.6 L561.7,-31.6 L559.0,-37.1 Z" fill="#fff" stroke="#000" stroke-width="2.6" stroke-linejoin="round"/>
<path d="M528.2,28.8 L525.3,33.8 L557.3,33.8 L560.2,28.8 Z" fill="#fff" stroke="#000" stroke-width="2.6" stroke-linejoin="round"/>
<path d="M525.8,-22.9 L527.0,-26.2 L559.0,-26.2 L557.8,-22.9 Z" fill="#000" stroke="#000" stroke-width="2.6" stroke-linejoin="round"/>
<path d="M524.8,-32.7 L527.0,-37.1 L559.0,-37.1 L556.8,-32.7 Z" fill="#fff" stroke="#000" stroke-width="2.6" stroke-linejoin="round"/>
<path d="M527.0,-26.2 L524.8,-32.7 L556.8,-32.7 L559.0,-26.2 Z" fill="#fff" stroke="#000" stroke-width="2.6" stroke-linejoin="round"/>
<path d="M525.8,22.9 L524.8,19.3 L556.8,19.3 L557.8,22.9 Z" fill="#000" stroke="#000" stroke-width="2.6" stroke-linejoin="round"/>
<path d="M523.3,28.8 L525.8,22.9 L557.8,22.9 L555.3,28.8 Z" fill="#fff" stroke="#000" stroke-width="2.6" stroke-linejoin="round"/>
<path d="M525.3,33.8 L523.3,28.8 L555.3,28.8 L557.3,33.8 Z" fill="#fff" stroke="#000" stroke-width="2.6" stroke-linejoin="round"/>
<path d="M522.5,-26.4 L525.8,-22.9 L557.8,-22.9 L554.5,-26.4 Z" fill="#fff" stroke="#000" stroke-width="2.6" stroke-linejoin="round"/>
<path d="M523.3,-12.1 L524.0,-16.0 L556.0,-16.0 L555.3,-12.1 Z" fill="#000" stroke="#000" stroke-width="2.6" stroke-linejoin="round"/>
<path d="M523.3,12.1 L522.8,7.9 L554.8,7.9 L555.3,12.1 Z" fill="#000" stroke="#000" stroke-width="2.6" stroke-linejoin="round"/>
<path d="M524.8,19.3 L521.3,22.0 L553.3,22.0 L556.8,19.3 Z" fill="#fff" stroke="#000" stroke-width="2.6" stroke-linejoin="round"/>
<path d="M524.0,-16.0 L521.0,-20.7 L553.0,-20.7 L556.0,-16.0 Z" fill="#fff" stroke="#000" stroke-width="2.6" stroke-linejoin="round"/>
<path d="M522.5,0.0 L522.6,-4.3 L554.6,-4.3 L554.5,0.0 Z" fill="#000" stroke="#000" stroke-width="2.6" stroke-linejoin="round"/>
<path d="M521.0,-20.7 L522.5,-26.4 L554.5,-26.4 L553.0,-20.7 Z" fill="#fff" stroke="#000" stroke-width="2.6" stroke-linejoin="round"/>
<path d="M520.1,15.9 L523.3,12.1 L555.3,12.1 L552.1,15.9 Z" fill="#fff" stroke="#000" stroke-width="2.6" stroke-linejoin="round"/>
<path d="M519.7,-13.1 L523.3,-12.1 L555.3,-12.1 L551.7,-13.1 Z" fill="#fff" stroke="#000" stroke-width="2.6" stroke-linejoin="round"/>
<path d="M522.8,7.9 L519.2,8.1 L551.2,8.1 L554.8,7.9 Z" fill="#fff" stroke="#000" stroke-width="2.6" stroke-linejoin="round"/>
<path d="M522.6,-4.3 L519.1,-6.6 L551.1,-6.6 L554.6,-4.3 Z" fill="#fff" stroke="#000" stroke-width="2.6" stroke-linejoin="round"/>
<path d="M521.3,22.0 L520.1,15.9 L552.1,15.9 L553.3,22.0 Z" fill="#fff" stroke="#000" stroke-width="2.6" stroke-linejoin="round"/>
<path d="M518.9,1.5 L522.5,0.0 L554.5,0.0 L550.9,1.5 Z" fill="#fff" stroke="#000" stroke-width="2.6" stroke-linejoin="round"/>
<path d="M519.1,-6.6 L519.7,-13.1 L551.7,-13.1 L551.1,-6.6 Z" fill="#fff" stroke="#000" stroke-width="2.6" stroke-linejoin="round"/>
<path d="M519.2,8.1 L518.9,1.5 L550.9,1.5 L551.2,8.1 Z" fill="#fff" stroke="#000" stroke-width="2.6" stroke-linejoin="round"/></g>
<path d="M583.9,-74.1 L596.9,-74.1 A4.5,10.0 0 0 1 596.9,-54.1 L583.9,-54.1 A4.5,10.0 0 0 1 583.9,-74.1 Z" fill="#fff" stroke="#000" stroke-width="2.6"/><ellipse cx="596.9" cy="-64.1" rx="4.5" ry="10.0" fill="#fff" stroke="#000" stroke-width="2.6"/><ellipse cx="596.9" cy="-64.1" rx="3.1" ry="7.0" fill="none" stroke="#000" stroke-width="1.2"/>
<path d="M599.6,-13.9 L612.6,-13.9 A4.5,10.0 0 0 1 612.6,6.1 L599.6,6.1 A4.5,10.0 0 0 1 599.6,-13.9 Z" fill="#fff" stroke="#000" stroke-width="2.6"/><ellipse cx="612.6" cy="-3.9" rx="4.5" ry="10.0" fill="#fff" stroke="#000" stroke-width="2.6"/><ellipse cx="612.6" cy="-3.9" rx="3.1" ry="7.0" fill="none" stroke="#000" stroke-width="1.2"/>
<path d="M580.6,50.2 L593.6,50.2 A4.5,10.0 0 0 1 593.6,70.2 L580.6,70.2 A4.5,10.0 0 0 1 580.6,50.2 Z" fill="#fff" stroke="#000" stroke-width="2.6"/><ellipse cx="593.6" cy="60.2" rx="4.5" ry="10.0" fill="#fff" stroke="#000" stroke-width="2.6"/><ellipse cx="593.6" cy="60.2" rx="3.1" ry="7.0" fill="none" stroke="#000" stroke-width="1.2"/>
<path d="M549.6,29.5 L562.6,29.5 A4.5,10.0 0 0 1 562.6,49.5 L549.6,49.5 A4.5,10.0 0 0 1 549.6,29.5 Z" fill="#fff" stroke="#000" stroke-width="2.6"/><ellipse cx="562.6" cy="39.5" rx="4.5" ry="10.0" fill="#fff" stroke="#000" stroke-width="2.6"/><ellipse cx="562.6" cy="39.5" rx="3.1" ry="7.0" fill="none" stroke="#000" stroke-width="1.2"/>
<path d="M667.1,1.0 L667.0,4.2 L666.8,7.3 L666.4,10.4 L666.0,13.4 L665.4,16.3 L664.8,19.2 L664.0,21.9 L663.1,24.5 L662.1,26.9 L661.1,29.2 L659.9,31.3 L658.7,33.3 L657.4,35.0 L656.1,36.6 L654.7,37.9 L653.2,39.0 L651.8,39.8 L650.3,40.5 L648.7,40.8 L647.2,41.0 L645.6,40.9 L644.1,40.6 L642.6,40.0 L641.1,39.2 L639.6,38.1 L638.2,36.9 L636.9,35.4 L635.6,33.7 L634.3,31.8 L633.2,29.7 L632.1,27.5 L631.1,25.1 L630.2,22.5 L629.4,19.8 L628.7,17.0 L628.1,14.1 L627.7,11.1 L627.3,8.0 L627.1,4.9 L626.9,1.7 L626.9,-1.4 L627.0,-4.5 L627.3,-7.7 L627.6,-10.7 L628.1,-13.7 L628.6,-16.7 L629.3,-19.5 L630.1,-22.2 L631.0,-24.8 L632.0,-27.2 L633.0,-29.5 L634.2,-31.6 L635.4,-33.5 L636.7,-35.2 L638.1,-36.7 L639.5,-38.0 L640.9,-39.1 L642.4,-39.9 L643.9,-40.5 L645.5,-40.9 L647.0,-41.0 L648.6,-40.9 L650.1,-40.5 L651.6,-39.9 L653.1,-39.1 L654.5,-38.0 L655.9,-36.7 L657.3,-35.2 L658.6,-33.5 L659.8,-31.6 L661.0,-29.5 L662.0,-27.2 L665.0,-27.2 L664.0,-29.5 L662.8,-31.6 L661.6,-33.5 L660.3,-35.2 L658.9,-36.7 L657.5,-38.0 L656.1,-39.1 L654.6,-39.9 L653.1,-40.5 L651.6,-40.9 L650.0,-41.0 L648.5,-40.9 L646.9,-40.5 L645.4,-39.9 L643.9,-39.1 L642.5,-38.0 L641.1,-36.7 L639.7,-35.2 L638.4,-33.5 L637.2,-31.6 L636.0,-29.5 L635.0,-27.2 L634.0,-24.8 L633.1,-22.2 L632.3,-19.5 L631.6,-16.7 L631.1,-13.7 L630.6,-10.7 L630.3,-7.7 L630.0,-4.5 L629.9,-1.4 L629.9,1.7 L630.1,4.9 L630.3,8.0 L630.7,11.1 L631.1,14.1 L631.7,17.0 L632.4,19.8 L633.2,22.5 L634.1,25.1 L635.1,27.5 L636.2,29.7 L637.3,31.8 L638.6,33.7 L639.9,35.4 L641.2,36.9 L642.6,38.1 L644.1,39.2 L645.6,40.0 L647.1,40.6 L648.6,40.9 L650.2,41.0 L651.7,40.8 L653.3,40.5 L654.8,39.8 L656.2,39.0 L657.7,37.9 L659.1,36.6 L660.4,35.0 L661.7,33.3 L662.9,31.3 L664.1,29.2 L665.1,26.9 L666.1,24.5 L667.0,21.9 L667.8,19.2 L668.4,16.3 L669.0,13.4 L669.4,10.4 L669.8,7.3 L670.0,4.2 L670.1,1.0 Z" fill="#fff" stroke="#000" stroke-width="2.64" stroke-linejoin="round"/>
<path d="M670.1,1.0 L670.0,4.2 L669.8,7.3 L669.4,10.4 L669.0,13.4 L668.4,16.3 L667.8,19.2 L667.0,21.9 L666.1,24.5 L665.1,26.9 L664.1,29.2 L662.9,31.3 L661.7,33.3 L660.4,35.0 L659.1,36.6 L657.7,37.9 L656.2,39.0 L654.8,39.8 L653.3,40.5 L651.7,40.8 L650.2,41.0 L648.6,40.9 L647.1,40.6 L645.6,40.0 L644.1,39.2 L642.6,38.1 L641.2,36.9 L639.9,35.4 L638.6,33.7 L637.3,31.8 L636.2,29.7 L635.1,27.5 L634.1,25.1 L633.2,22.5 L632.4,19.8 L631.7,17.0 L631.1,14.1 L630.7,11.1 L630.3,8.0 L630.1,4.9 L629.9,1.7 L629.9,-1.4 L630.0,-4.5 L630.3,-7.7 L630.6,-10.7 L631.1,-13.7 L631.6,-16.7 L632.3,-19.5 L633.1,-22.2 L634.0,-24.8 L635.0,-27.2 L636.0,-29.5 L637.2,-31.6 L638.4,-33.5 L639.7,-35.2 L641.1,-36.7 L642.5,-38.0 L643.9,-39.1 L645.4,-39.9 L646.9,-40.5 L648.5,-40.9 L650.0,-41.0 L651.6,-40.9 L653.1,-40.5 L654.6,-39.9 L656.1,-39.1 L657.5,-38.0 L658.9,-36.7 L660.3,-35.2 L661.6,-33.5 L662.8,-31.6 L664.0,-29.5 L665.0,-27.2 L662.8,-23.2 L661.9,-25.2 L660.9,-26.9 L659.9,-28.6 L658.8,-30.0 L657.6,-31.3 L656.4,-32.4 L655.2,-33.4 L653.9,-34.1 L652.6,-34.6 L651.3,-34.9 L650.0,-35.0 L648.7,-34.9 L647.4,-34.6 L646.1,-34.1 L644.8,-33.4 L643.6,-32.5 L642.4,-31.4 L641.2,-30.1 L640.1,-28.6 L639.1,-27.0 L638.1,-25.2 L637.2,-23.2 L636.3,-21.2 L635.6,-19.0 L634.9,-16.6 L634.3,-14.2 L633.8,-11.7 L633.4,-9.2 L633.2,-6.5 L633.0,-3.9 L632.9,-1.2 L632.9,1.5 L633.0,4.2 L633.2,6.8 L633.5,9.4 L633.9,12.0 L634.4,14.5 L635.0,16.9 L635.7,19.2 L636.4,21.4 L637.3,23.5 L638.2,25.4 L639.2,27.2 L640.2,28.8 L641.3,30.2 L642.5,31.5 L643.7,32.6 L645.0,33.5 L646.2,34.1 L647.5,34.6 L648.8,34.9 L650.2,35.0 L651.5,34.9 L652.8,34.5 L654.1,34.0 L655.3,33.3 L656.6,32.3 L657.8,31.2 L658.9,29.9 L660.0,28.4 L661.1,26.8 L662.0,24.9 L662.9,23.0 L663.8,20.9 L664.5,18.7 L665.2,16.4 L665.7,13.9 L666.2,11.4 L666.6,8.8 L666.9,6.2 L667.1,3.6 L667.1,0.9 Z" fill="#fff" stroke="#000" stroke-width="3.3" stroke-linejoin="round"/>
<path d="M668.5,4.0 L668.3,6.8 L668.0,9.6 L667.6,12.3 L667.1,14.9 L666.5,17.5 L665.8,20.0 L665.1,22.3 L664.2,24.5 L663.3,26.6 L662.3,28.6 L661.2,30.4 L660.1,32.0 L658.9,33.4 L657.6,34.7 L656.3,35.7 L655.0,36.6 L653.6,37.3 L652.3,37.7 L650.9,38.0 L649.5,38.0 L648.1,37.8 L646.7,37.4 L645.4,36.8 L644.0,36.0 L642.8,35.0 L641.5,33.8 L640.3,32.4 L639.1,30.8 L638.0,29.1 L637.0,27.2 L636.0,25.1 L635.2,23.0 L634.4,20.6 L633.7,18.2 L633.0,15.7 L632.5,13.0 L632.1,10.3 L631.8,7.6 L631.5,4.8 L631.4,2.0 L631.4,-0.9 L631.5,-3.7 L631.7,-6.5 L631.9,-9.3 L632.3,-12.0 L632.8,-14.7 L633.4,-17.2 L634.1,-19.7 L634.8,-22.1 L635.7,-24.3 L636.6,-26.4 L637.6,-28.4 L638.7,-30.2 L639.8,-31.8 L641.0,-33.3 L642.3,-34.6 L643.6,-35.6 L644.9,-36.5 L646.2,-37.2 L647.6,-37.7 L649.0,-37.9 L650.4,-38.0 L651.8,-37.8 L653.1,-37.5 L654.5,-36.9 L655.8,-36.1 L657.1,-35.1 L658.4,-33.9 L659.6,-32.6 L660.8,-31.0 L661.9,-29.3 L662.9,-27.4" fill="none" stroke="#000" stroke-width="1.1549999999999998" stroke-linejoin="round"/>
<path d="M692.0,-49.0 L695.0,-49.0 A24.0,49.0 0 0 1 695.0,49.0 L692.0,49.0 A24.0,49.0 0 0 1 692.0,-49.0 Z" fill="#fff" stroke="#000" stroke-width="3.3"/>
<ellipse cx="695.0" cy="0.0" rx="24.0" ry="49.0" fill="#fff" stroke="#000" stroke-width="3.3"/>
<ellipse cx="695.0" cy="0.0" rx="22.5" ry="46.0" fill="none" stroke="#000" stroke-width="1.4849999999999999"/>
<path d="M711.7,0.0 L711.6,3.7 L713.4,5.4 L712.9,10.6 L710.8,10.5 L710.2,14.0 L711.7,16.7 L710.4,21.4 L708.5,20.0 L707.3,22.9 L708.4,26.4 L706.4,30.0 L704.8,27.5 L703.3,29.5 L703.7,33.6 L701.3,35.8 L700.1,32.3 L698.4,33.3 L698.2,37.4 L695.6,38.0 L695.0,34.0 L693.2,33.8 L692.4,37.6 L689.8,36.5 L689.9,32.3 L688.1,31.0 L686.8,34.1 L684.5,31.4 L685.2,27.5 L683.8,25.1 L682.0,27.3 L680.3,23.3 L681.5,20.0 L680.5,16.8 L678.5,17.8 L677.5,12.9 L679.2,10.5 L678.7,6.9 L676.7,6.5 L676.4,1.2 L678.3,0.0 L678.4,-3.7 L676.6,-5.4 L677.1,-10.6 L679.2,-10.5 L679.8,-14.0 L678.3,-16.7 L679.6,-21.4 L681.5,-20.0 L682.7,-22.9 L681.6,-26.4 L683.6,-30.0 L685.2,-27.5 L686.7,-29.5 L686.3,-33.6 L688.7,-35.8 L689.9,-32.3 L691.6,-33.3 L691.8,-37.4 L694.4,-38.0 L695.0,-34.0 L696.8,-33.8 L697.6,-37.6 L700.2,-36.5 L700.1,-32.3 L701.9,-31.0 L703.2,-34.1 L705.5,-31.4 L704.8,-27.5 L706.2,-25.1 L708.0,-27.3 L709.7,-23.3 L708.5,-20.0 L709.5,-16.8 L711.5,-17.8 L712.5,-12.9 L710.8,-10.5 L711.3,-6.9 L713.3,-6.5 L713.6,-1.2 Z" fill="#fff" stroke="#000" stroke-width="2.64" stroke-linejoin="round"/>
<path d="M810.9,-38.9 L818.7,-42.0 L844.7,-42.0 L836.9,-38.9 Z" fill="#fff" stroke="#000" stroke-width="3.1" stroke-linejoin="round"/>
<path d="M817.8,46.8 L810.0,43.0 L836.0,43.0 L843.8,46.8 Z" fill="#fff" stroke="#000" stroke-width="3.1" stroke-linejoin="round"/>
<path d="M805.8,-58.2 L813.2,-65.0 L839.2,-65.0 L831.8,-58.2 Z" fill="#fff" stroke="#000" stroke-width="3.1" stroke-linejoin="round"/>
<path d="M811.8,69.2 L804.6,61.7 L830.6,61.7 L837.8,69.2 Z" fill="#fff" stroke="#000" stroke-width="3.1" stroke-linejoin="round"/>
<path d="M799.0,-74.6 L805.4,-84.7 L831.4,-84.7 L825.0,-74.6 Z" fill="#fff" stroke="#000" stroke-width="3.1" stroke-linejoin="round"/>
<path d="M803.7,88.2 L797.4,77.4 L823.4,77.4 L829.7,88.2 Z" fill="#fff" stroke="#000" stroke-width="3.1" stroke-linejoin="round"/>
<path d="M790.6,-87.2 L795.9,-100.2 L821.9,-100.2 L816.6,-87.2 Z" fill="#fff" stroke="#000" stroke-width="3.1" stroke-linejoin="round"/>
<path d="M793.8,102.8 L788.8,89.2 L814.8,89.2 L819.8,102.8 Z" fill="#fff" stroke="#000" stroke-width="3.1" stroke-linejoin="round"/>
<path d="M781.1,-95.4 L784.9,-110.7 L810.9,-110.7 L807.1,-95.4 Z" fill="#fff" stroke="#000" stroke-width="3.1" stroke-linejoin="round"/>
<path d="M782.6,112.2 L779.1,96.5 L805.1,96.5 L808.6,112.2 Z" fill="#fff" stroke="#000" stroke-width="3.1" stroke-linejoin="round"/>
<path d="M771.0,-98.9 L773.2,-115.6 L799.2,-115.6 L797.0,-98.9 Z" fill="#fff" stroke="#000" stroke-width="3.1" stroke-linejoin="round"/>
<path d="M770.8,115.9 L769.0,99.0 L795.0,99.0 L796.8,115.9 Z" fill="#fff" stroke="#000" stroke-width="3.1" stroke-linejoin="round"/>
<path d="M769.0,99.0 L768.0,99.0 L794.0,99.0 L795.0,99.0 Z" fill="#000" stroke="#000" stroke-width="3.1" stroke-linejoin="round"/>
<path d="M767.2,-115.9 L769.0,-99.0 L795.0,-99.0 L793.2,-115.9 Z" fill="#fff" stroke="#000" stroke-width="3.1" stroke-linejoin="round"/>
<path d="M768.0,99.0 L767.0,98.9 L793.0,98.9 L794.0,99.0 Z" fill="#000" stroke="#000" stroke-width="3.1" stroke-linejoin="round"/>
<path d="M767.0,98.9 L764.8,115.6 L790.8,115.6 L793.0,98.9 Z" fill="#fff" stroke="#000" stroke-width="3.1" stroke-linejoin="round"/>
<path d="M764.2,-115.5 L767.2,-115.9 L793.2,-115.9 L790.2,-115.5 Z" fill="#fff" stroke="#000" stroke-width="3.1" stroke-linejoin="round"/>
<path d="M764.8,115.6 L761.8,115.0 L787.8,115.0 L790.8,115.6 Z" fill="#fff" stroke="#000" stroke-width="3.1" stroke-linejoin="round"/>
<path d="M761.2,-114.8 L764.2,-115.5 L790.2,-115.5 L787.2,-114.8 Z" fill="#fff" stroke="#000" stroke-width="3.1" stroke-linejoin="round"/>
<path d="M760.9,-97.4 L761.2,-114.8 L787.2,-114.8 L786.9,-97.4 Z" fill="#fff" stroke="#000" stroke-width="3.1" stroke-linejoin="round"/>
<path d="M759.9,-97.0 L760.9,-97.4 L786.9,-97.4 L785.9,-97.0 Z" fill="#000" stroke="#000" stroke-width="3.1" stroke-linejoin="round"/>
<path d="M761.8,115.0 L758.9,113.9 L784.9,113.9 L787.8,115.0 Z" fill="#fff" stroke="#000" stroke-width="3.1" stroke-linejoin="round"/>
<path d="M758.9,-96.5 L759.9,-97.0 L785.9,-97.0 L784.9,-96.5 Z" fill="#000" stroke="#000" stroke-width="3.1" stroke-linejoin="round"/>
<path d="M758.9,113.9 L758.9,96.5 L784.9,96.5 L784.9,113.9 Z" fill="#fff" stroke="#000" stroke-width="3.1" stroke-linejoin="round"/>
<path d="M758.9,96.5 L757.9,96.0 L783.9,96.0 L784.9,96.5 Z" fill="#000" stroke="#000" stroke-width="3.1" stroke-linejoin="round"/>
<path d="M757.9,96.0 L756.9,95.4 L782.9,95.4 L783.9,96.0 Z" fill="#000" stroke="#000" stroke-width="3.1" stroke-linejoin="round"/>
<path d="M755.4,-112.2 L758.9,-96.5 L784.9,-96.5 L781.4,-112.2 Z" fill="#fff" stroke="#000" stroke-width="3.1" stroke-linejoin="round"/>
<path d="M756.9,95.4 L753.1,110.7 L779.1,110.7 L782.9,95.4 Z" fill="#fff" stroke="#000" stroke-width="3.1" stroke-linejoin="round"/>
<path d="M752.5,-110.3 L755.4,-112.2 L781.4,-112.2 L778.5,-110.3 Z" fill="#fff" stroke="#000" stroke-width="3.1" stroke-linejoin="round"/>
<path d="M753.1,110.7 L750.3,108.6 L776.3,108.6 L779.1,110.7 Z" fill="#fff" stroke="#000" stroke-width="3.1" stroke-linejoin="round"/>
<path d="M749.7,-108.1 L752.5,-110.3 L778.5,-110.3 L775.7,-108.1 Z" fill="#fff" stroke="#000" stroke-width="3.1" stroke-linejoin="round"/>
<path d="M750.2,-90.1 L751.1,-91.0 L777.1,-91.0 L776.2,-90.1 Z" fill="#000" stroke="#000" stroke-width="3.1" stroke-linejoin="round"/>
<path d="M751.1,-91.0 L749.7,-108.1 L775.7,-108.1 L777.1,-91.0 Z" fill="#fff" stroke="#000" stroke-width="3.1" stroke-linejoin="round"/>
<path d="M749.2,-89.2 L750.2,-90.1 L776.2,-90.1 L775.2,-89.2 Z" fill="#000" stroke="#000" stroke-width="3.1" stroke-linejoin="round"/>
<path d="M750.3,108.6 L747.5,106.1 L773.5,106.1 L776.3,108.6 Z" fill="#fff" stroke="#000" stroke-width="3.1" stroke-linejoin="round"/>
<path d="M749.2,89.2 L748.3,88.2 L774.3,88.2 L775.2,89.2 Z" fill="#000" stroke="#000" stroke-width="3.1" stroke-linejoin="round"/>
<path d="M747.5,106.1 L749.2,89.2 L775.2,89.2 L773.5,106.1 Z" fill="#fff" stroke="#000" stroke-width="3.1" stroke-linejoin="round"/>
<path d="M748.3,88.2 L747.4,87.2 L773.4,87.2 L774.3,88.2 Z" fill="#000" stroke="#000" stroke-width="3.1" stroke-linejoin="round"/>
<path d="M744.2,-102.8 L749.2,-89.2 L775.2,-89.2 L770.2,-102.8 Z" fill="#fff" stroke="#000" stroke-width="3.1" stroke-linejoin="round"/>
<path d="M747.4,87.2 L742.1,100.2 L768.1,100.2 L773.4,87.2 Z" fill="#fff" stroke="#000" stroke-width="3.1" stroke-linejoin="round"/>
<path d="M741.6,-99.6 L744.2,-102.8 L770.2,-102.8 L767.6,-99.6 Z" fill="#fff" stroke="#000" stroke-width="3.1" stroke-linejoin="round"/>
<path d="M741.4,-78.8 L742.2,-80.1 L768.2,-80.1 L767.4,-78.8 Z" fill="#000" stroke="#000" stroke-width="3.1" stroke-linejoin="round"/>
<path d="M740.6,-77.4 L741.4,-78.8 L767.4,-78.8 L766.6,-77.4 Z" fill="#000" stroke="#000" stroke-width="3.1" stroke-linejoin="round"/>
<path d="M742.1,100.2 L739.6,96.8 L765.6,96.8 L768.1,100.2 Z" fill="#fff" stroke="#000" stroke-width="3.1" stroke-linejoin="round"/>
<path d="M742.2,-80.1 L739.1,-96.1 L765.1,-96.1 L768.2,-80.1 Z" fill="#fff" stroke="#000" stroke-width="3.1" stroke-linejoin="round"/>
<path d="M739.1,-96.1 L741.6,-99.6 L767.6,-99.6 L765.1,-96.1 Z" fill="#fff" stroke="#000" stroke-width="3.1" stroke-linejoin="round"/>
<path d="M740.6,77.4 L739.8,76.0 L765.8,76.0 L766.6,77.4 Z" fill="#000" stroke="#000" stroke-width="3.1" stroke-linejoin="round"/>
<path d="M739.8,76.0 L739.0,74.6 L765.0,74.6 L765.8,76.0 Z" fill="#000" stroke="#000" stroke-width="3.1" stroke-linejoin="round"/>
<path d="M737.2,93.1 L740.6,77.4 L766.6,77.4 L763.2,93.1 Z" fill="#fff" stroke="#000" stroke-width="3.1" stroke-linejoin="round"/>
<path d="M739.6,96.8 L737.2,93.1 L763.2,93.1 L765.6,96.8 Z" fill="#fff" stroke="#000" stroke-width="3.1" stroke-linejoin="round"/>
<path d="M734.3,-88.2 L740.6,-77.4 L766.6,-77.4 L760.3,-88.2 Z" fill="#fff" stroke="#000" stroke-width="3.1" stroke-linejoin="round"/>
<path d="M739.0,74.6 L732.6,84.7 L758.6,84.7 L765.0,74.6 Z" fill="#fff" stroke="#000" stroke-width="3.1" stroke-linejoin="round"/>
<path d="M734.0,-63.4 L734.7,-65.1 L760.7,-65.1 L760.0,-63.4 Z" fill="#000" stroke="#000" stroke-width="3.1" stroke-linejoin="round"/>
<path d="M733.4,-61.7 L734.0,-63.4 L760.0,-63.4 L759.4,-61.7 Z" fill="#000" stroke="#000" stroke-width="3.1" stroke-linejoin="round"/>
<path d="M732.1,-83.8 L734.3,-88.2 L760.3,-88.2 L758.1,-83.8 Z" fill="#fff" stroke="#000" stroke-width="3.1" stroke-linejoin="round"/>
<path d="M733.4,61.7 L732.8,60.0 L758.8,60.0 L759.4,61.7 Z" fill="#000" stroke="#000" stroke-width="3.1" stroke-linejoin="round"/>
<path d="M732.8,60.0 L732.2,58.2 L758.2,58.2 L758.8,60.0 Z" fill="#000" stroke="#000" stroke-width="3.1" stroke-linejoin="round"/>
<path d="M734.7,-65.1 L730.0,-79.2 L756.0,-79.2 L760.7,-65.1 Z" fill="#fff" stroke="#000" stroke-width="3.1" stroke-linejoin="round"/>
<path d="M732.6,84.7 L730.4,80.2 L756.4,80.2 L758.6,84.7 Z" fill="#fff" stroke="#000" stroke-width="3.1" stroke-linejoin="round"/>
<path d="M730.0,-79.2 L732.1,-83.8 L758.1,-83.8 L756.0,-79.2 Z" fill="#fff" stroke="#000" stroke-width="3.1" stroke-linejoin="round"/>
<path d="M728.4,75.3 L733.4,61.7 L759.4,61.7 L754.4,75.3 Z" fill="#fff" stroke="#000" stroke-width="3.1" stroke-linejoin="round"/>
<path d="M726.2,-69.2 L733.4,-61.7 L759.4,-61.7 L752.2,-69.2 Z" fill="#fff" stroke="#000" stroke-width="3.1" stroke-linejoin="round"/>
<path d="M730.4,80.2 L728.4,75.3 L754.4,75.3 L756.4,80.2 Z" fill="#fff" stroke="#000" stroke-width="3.1" stroke-linejoin="round"/>
<path d="M728.4,-44.9 L728.9,-46.9 L754.9,-46.9 L754.4,-44.9 Z" fill="#000" stroke="#000" stroke-width="3.1" stroke-linejoin="round"/>
<path d="M732.2,58.2 L724.8,65.0 L750.8,65.0 L758.2,58.2 Z" fill="#fff" stroke="#000" stroke-width="3.1" stroke-linejoin="round"/>
<path d="M728.0,-43.0 L728.4,-44.9 L754.4,-44.9 L754.0,-43.0 Z" fill="#000" stroke="#000" stroke-width="3.1" stroke-linejoin="round"/>
<path d="M728.0,43.0 L727.5,40.9 L753.5,40.9 L754.0,43.0 Z" fill="#000" stroke="#000" stroke-width="3.1" stroke-linejoin="round"/>
<path d="M727.5,40.9 L727.1,38.9 L753.1,38.9 L753.5,40.9 Z" fill="#000" stroke="#000" stroke-width="3.1" stroke-linejoin="round"/>
<path d="M728.9,-46.9 L722.9,-58.4 L748.9,-58.4 L754.9,-46.9 Z" fill="#fff" stroke="#000" stroke-width="3.1" stroke-linejoin="round"/>
<path d="M724.5,-63.9 L726.2,-69.2 L752.2,-69.2 L750.5,-63.9 Z" fill="#fff" stroke="#000" stroke-width="3.1" stroke-linejoin="round"/>
<path d="M724.8,-24.2 L725.1,-26.3 L751.1,-26.3 L750.8,-24.2 Z" fill="#000" stroke="#000" stroke-width="3.1" stroke-linejoin="round"/>
<path d="M721.7,53.8 L728.0,43.0 L754.0,43.0 L747.7,53.8 Z" fill="#fff" stroke="#000" stroke-width="3.1" stroke-linejoin="round"/>
<path d="M724.6,-22.0 L724.8,-24.2 L750.8,-24.2 L750.6,-22.0 Z" fill="#000" stroke="#000" stroke-width="3.1" stroke-linejoin="round"/>
<path d="M724.6,22.0 L724.4,19.9 L750.4,19.9 L750.6,22.0 Z" fill="#000" stroke="#000" stroke-width="3.1" stroke-linejoin="round"/>
<path d="M724.4,19.9 L724.2,17.7 L750.2,17.7 L750.4,19.9 Z" fill="#000" stroke="#000" stroke-width="3.1" stroke-linejoin="round"/>
<path d="M720.2,-46.8 L728.0,-43.0 L754.0,-43.0 L746.2,-46.8 Z" fill="#fff" stroke="#000" stroke-width="3.1" stroke-linejoin="round"/>
<path d="M724.8,65.0 L723.2,59.5 L749.2,59.5 L750.8,65.0 Z" fill="#fff" stroke="#000" stroke-width="3.1" stroke-linejoin="round"/>
<path d="M722.9,-58.4 L724.5,-63.9 L750.5,-63.9 L748.9,-58.4 Z" fill="#fff" stroke="#000" stroke-width="3.1" stroke-linejoin="round"/>
<path d="M723.5,-2.2 L723.5,-4.4 L749.5,-4.4 L749.5,-2.2 Z" fill="#000" stroke="#000" stroke-width="3.1" stroke-linejoin="round"/>
<path d="M723.5,0.0 L723.5,-2.2 L749.5,-2.2 L749.5,0.0 Z" fill="#000" stroke="#000" stroke-width="3.1" stroke-linejoin="round"/>
<path d="M727.1,38.9 L719.3,42.0 L745.3,42.0 L753.1,38.9 Z" fill="#fff" stroke="#000" stroke-width="3.1" stroke-linejoin="round"/>
<path d="M723.2,59.5 L721.7,53.8 L747.7,53.8 L749.2,59.5 Z" fill="#fff" stroke="#000" stroke-width="3.1" stroke-linejoin="round"/>
<path d="M725.1,-26.3 L718.1,-34.6 L744.1,-34.6 L751.1,-26.3 Z" fill="#fff" stroke="#000" stroke-width="3.1" stroke-linejoin="round"/>
<path d="M717.4,29.6 L724.6,22.0 L750.6,22.0 L743.4,29.6 Z" fill="#fff" stroke="#000" stroke-width="3.1" stroke-linejoin="round"/>
<path d="M716.6,-22.0 L724.6,-22.0 L750.6,-22.0 L742.6,-22.0 Z" fill="#fff" stroke="#000" stroke-width="3.1" stroke-linejoin="round"/>
<path d="M724.2,17.7 L716.2,16.9 L742.2,16.9 L750.2,17.7 Z" fill="#fff" stroke="#000" stroke-width="3.1" stroke-linejoin="round"/>
<path d="M723.5,-4.4 L715.8,-9.1 L741.8,-9.1 L749.5,-4.4 Z" fill="#fff" stroke="#000" stroke-width="3.1" stroke-linejoin="round"/>
<path d="M719.0,-40.8 L720.2,-46.8 L746.2,-46.8 L745.0,-40.8 Z" fill="#fff" stroke="#000" stroke-width="3.1" stroke-linejoin="round"/>
<path d="M715.7,3.9 L723.5,0.0 L749.5,0.0 L741.7,3.9 Z" fill="#fff" stroke="#000" stroke-width="3.1" stroke-linejoin="round"/>
<path d="M719.3,42.0 L718.3,35.8 L744.3,35.8 L745.3,42.0 Z" fill="#fff" stroke="#000" stroke-width="3.1" stroke-linejoin="round"/>
<path d="M718.1,-34.6 L719.0,-40.8 L745.0,-40.8 L744.1,-34.6 Z" fill="#fff" stroke="#000" stroke-width="3.1" stroke-linejoin="round"/>
<path d="M718.3,35.8 L717.4,29.6 L743.4,29.6 L744.3,35.8 Z" fill="#fff" stroke="#000" stroke-width="3.1" stroke-linejoin="round"/>
<path d="M716.1,-15.6 L716.6,-22.0 L742.6,-22.0 L742.1,-15.6 Z" fill="#fff" stroke="#000" stroke-width="3.1" stroke-linejoin="round"/>
<path d="M716.2,16.9 L715.9,10.4 L741.9,10.4 L742.2,16.9 Z" fill="#fff" stroke="#000" stroke-width="3.1" stroke-linejoin="round"/>
<path d="M715.8,-9.1 L716.1,-15.6 L742.1,-15.6 L741.8,-9.1 Z" fill="#fff" stroke="#000" stroke-width="3.1" stroke-linejoin="round"/>
<path d="M715.9,10.4 L715.7,3.9 L741.7,3.9 L741.9,10.4 Z" fill="#fff" stroke="#000" stroke-width="3.1" stroke-linejoin="round"/>
<path d="M840.5,0.0 L840.5,2.2 L840.5,4.4 L848.2,9.1 L847.9,15.6 L847.4,22.0 L839.4,22.0 L839.2,24.2 L838.9,26.3 L845.9,34.6 L845.0,40.8 L843.8,46.8 L836.0,43.0 L835.6,44.9 L835.1,46.9 L841.1,58.4 L839.5,63.9 L837.8,69.2 L830.6,61.7 L830.0,63.4 L829.3,65.1 L834.0,79.2 L831.9,83.8 L829.7,88.2 L823.4,77.4 L822.6,78.8 L821.8,80.1 L824.9,96.1 L822.4,99.6 L819.8,102.8 L814.8,89.2 L813.8,90.1 L812.9,91.0 L814.3,108.1 L811.5,110.3 L808.6,112.2 L805.1,96.5 L804.1,97.0 L803.1,97.4 L802.8,114.8 L799.8,115.5 L796.8,115.9 L795.0,99.0 L794.0,99.0 L793.0,98.9 L790.8,115.6 L787.8,115.0 L784.9,113.9 L784.9,96.5 L783.9,96.0 L782.9,95.4 L779.1,110.7 L776.3,108.6 L773.5,106.1 L775.2,89.2 L774.3,88.2 L773.4,87.2 L768.1,100.2 L765.6,96.8 L763.2,93.1 L766.6,77.4 L765.8,76.0 L765.0,74.6 L758.6,84.7 L756.4,80.2 L754.4,75.3 L759.4,61.7 L758.8,60.0 L758.2,58.2 L750.8,65.0 L749.2,59.5 L747.7,53.8 L754.0,43.0 L753.5,40.9 L753.1,38.9 L745.3,42.0 L744.3,35.8 L743.4,29.6 L750.6,22.0 L750.4,19.9 L750.2,17.7 L742.2,16.9 L741.9,10.4 L741.7,3.9 L749.5,0.0 L749.5,-2.2 L749.5,-4.4 L741.8,-9.1 L742.1,-15.6 L742.6,-22.0 L750.6,-22.0 L750.8,-24.2 L751.1,-26.3 L744.1,-34.6 L745.0,-40.8 L746.2,-46.8 L754.0,-43.0 L754.4,-44.9 L754.9,-46.9 L748.9,-58.4 L750.5,-63.9 L752.2,-69.2 L759.4,-61.7 L760.0,-63.4 L760.7,-65.1 L756.0,-79.2 L758.1,-83.8 L760.3,-88.2 L766.6,-77.4 L767.4,-78.8 L768.2,-80.1 L765.1,-96.1 L767.6,-99.6 L770.2,-102.8 L775.2,-89.2 L776.2,-90.1 L777.1,-91.0 L775.7,-108.1 L778.5,-110.3 L781.4,-112.2 L784.9,-96.5 L785.9,-97.0 L786.9,-97.4 L787.2,-114.8 L790.2,-115.5 L793.2,-115.9 L795.0,-99.0 L796.0,-99.0 L797.0,-98.9 L799.2,-115.6 L802.2,-115.0 L805.1,-113.9 L805.1,-96.5 L806.1,-96.0 L807.1,-95.4 L810.9,-110.7 L813.7,-108.6 L816.5,-106.1 L814.8,-89.2 L815.7,-88.2 L816.6,-87.2 L821.9,-100.2 L824.4,-96.8 L826.8,-93.1 L823.4,-77.4 L824.2,-76.0 L825.0,-74.6 L831.4,-84.7 L833.6,-80.2 L835.6,-75.3 L830.6,-61.7 L831.2,-60.0 L831.8,-58.2 L839.2,-65.0 L840.8,-59.5 L842.3,-53.8 L836.0,-43.0 L836.5,-40.9 L836.9,-38.9 L844.7,-42.0 L845.7,-35.8 L846.6,-29.6 L839.4,-22.0 L839.6,-19.9 L839.8,-17.7 L847.8,-16.9 L848.1,-10.4 L848.3,-3.9 Z" fill="#fff" stroke="#000" stroke-width="3.3" stroke-linejoin="round"/>
<path d="M795.0,-96.0 L803.0,-96.0 A44.2,96.0 0 0 1 803.0,96.0 L795.0,96.0 A44.2,96.0 0 0 1 795.0,-96.0 Z" fill="#fff" stroke="#000" stroke-width="2.6"/>
<ellipse cx="803.0" cy="0.0" rx="44.2" ry="96.0" fill="#fff" stroke="#000" stroke-width="3.0"/>
<ellipse cx="803.0" cy="0.0" rx="42.1" ry="91.5" fill="none" stroke="#000" stroke-width="1.3"/>
<ellipse cx="803.0" cy="0.0" rx="39.6" ry="86.0" fill="#fff" stroke="#000" stroke-width="2.6"/>
<clipPath id="c10"><ellipse cx="803.0" cy="0" rx="39.6" ry="86.0"/></clipPath><g clip-path="url(#c10)"><path d="M787.0,-86.0 L790.1,-85.7 L793.2,-84.9 L796.2,-83.6 L799.2,-81.8 L802.1,-79.5 L805.0,-76.6 L807.7,-73.3 L810.3,-69.6 L812.7,-65.4 L815.0,-60.8 L817.1,-55.9 L819.0,-50.5 L820.7,-44.9 L822.2,-39.0 L823.5,-32.9 L824.6,-26.6 L825.5,-20.1 L826.1,-13.5 L826.4,-6.7 L826.6,0.0 L826.4,6.7 L826.1,13.5 L825.5,20.1 L824.6,26.6 L823.5,32.9 L822.2,39.0 L820.7,44.9 L819.0,50.5 L817.1,55.9 L815.0,60.8 L812.7,65.4 L810.3,69.6 L807.7,73.3 L805.0,76.6 L802.1,79.5 L799.2,81.8 L796.2,83.6 L793.2,84.9 L790.1,85.7 L787.0,86.0" fill="none" stroke="#000" stroke-width="2.4" stroke-linejoin="round"/><path d="M822.4,28.1 L821.5,33.1 L820.5,37.9 L819.3,42.5 L817.9,47.0 L816.5,51.2 L814.9,55.3 L813.2,59.1 L811.3,62.6 L809.4,65.9 L807.4,69.0 L805.3,71.7 L803.1,74.1 L798.8,54.2 L800.4,52.5 L801.9,50.5 L803.4,48.3 L804.8,45.8 L806.1,43.2 L807.4,40.4 L808.6,37.5 L809.6,34.4 L810.6,31.1 L811.5,27.7 L812.3,24.2 L812.9,20.6 Z" fill="#fff" stroke="#000" stroke-width="2.6" stroke-linejoin="round"/><path d="M811.8,31.9 L810.9,35.9 L809.9,39.7 L808.9,43.5 L807.7,47.1 L806.5,50.6 L805.2,53.9 L803.8,57.1 L802.3,60.1 L800.8,62.9 L799.1,65.5 L797.4,67.9 L795.7,70.1 L791.7,54.4 L793.1,52.6 L794.4,50.8 L795.6,48.7 L796.8,46.6 L798.0,44.2 L799.1,41.8 L800.1,39.2 L801.0,36.5 L801.9,33.7 L802.8,30.8 L803.5,27.8 L804.2,24.7 Z" fill="none" stroke="#000" stroke-width="1.8" stroke-linejoin="round"/><path d="M785.6,81.9 L783.2,81.6 L780.8,80.9 L778.4,79.8 L776.0,78.4 L773.7,76.7 L771.4,74.7 L769.2,72.3 L767.1,69.7 L765.1,66.7 L763.1,63.5 L761.3,60.0 L759.6,56.2 L766.9,41.2 L768.2,43.9 L769.5,46.5 L771.0,48.8 L772.5,51.0 L774.0,52.9 L775.6,54.7 L777.3,56.1 L779.0,57.4 L780.7,58.4 L782.4,59.2 L784.2,59.7 L786.0,60.0 Z" fill="#fff" stroke="#000" stroke-width="2.6" stroke-linejoin="round"/><path d="M774.5,79.6 L772.5,79.1 L770.5,78.3 L768.5,77.3 L766.6,76.1 L764.7,74.6 L762.8,72.9 L761.0,70.9 L759.2,68.8 L757.5,66.5 L755.9,63.9 L754.3,61.2 L752.8,58.3 L758.5,45.2 L759.6,47.4 L760.9,49.5 L762.1,51.5 L763.5,53.3 L764.8,55.0 L766.2,56.5 L767.7,57.8 L769.1,58.9 L770.7,59.9 L772.2,60.7 L773.7,61.3 L775.3,61.7 Z" fill="none" stroke="#000" stroke-width="1.8" stroke-linejoin="round"/><path d="M750.7,22.5 L750.1,17.4 L749.7,12.1 L749.4,6.8 L749.3,1.5 L749.3,-3.8 L749.5,-9.1 L749.9,-14.4 L750.4,-19.6 L751.0,-24.7 L751.8,-29.7 L752.8,-34.6 L753.9,-39.4 L762.8,-28.8 L762.0,-25.3 L761.3,-21.7 L760.7,-18.1 L760.2,-14.3 L759.8,-10.5 L759.6,-6.7 L759.4,-2.8 L759.4,1.1 L759.5,5.0 L759.7,8.9 L760.0,12.7 L760.5,16.5 Z" fill="#fff" stroke="#000" stroke-width="2.6" stroke-linejoin="round"/><path d="M742.1,17.3 L741.7,13.0 L741.4,8.7 L741.3,4.3 L741.2,-0.1 L741.3,-4.5 L741.4,-8.9 L741.7,-13.2 L742.1,-17.5 L742.6,-21.8 L743.2,-26.0 L743.9,-30.1 L744.7,-34.1 L752.2,-26.5 L751.6,-23.3 L751.0,-20.1 L750.6,-16.9 L750.2,-13.6 L749.9,-10.3 L749.7,-6.9 L749.5,-3.5 L749.5,-0.1 L749.5,3.3 L749.6,6.7 L749.9,10.1 L750.2,13.4 Z" fill="none" stroke="#000" stroke-width="1.8" stroke-linejoin="round"/><path d="M765.9,-68.0 L768.0,-70.9 L770.2,-73.4 L772.4,-75.6 L774.7,-77.5 L777.0,-79.1 L779.4,-80.3 L781.8,-81.2 L784.2,-81.8 L786.7,-82.0 L789.1,-81.9 L791.6,-81.4 L794.0,-80.6 L792.1,-59.0 L790.4,-59.6 L788.6,-59.9 L786.8,-60.0 L785.0,-59.8 L783.2,-59.4 L781.4,-58.8 L779.7,-57.9 L778.0,-56.7 L776.3,-55.3 L774.7,-53.7 L773.1,-51.8 L771.6,-49.8 Z" fill="#fff" stroke="#000" stroke-width="2.6" stroke-linejoin="round"/><path d="M759.3,-68.9 L761.1,-71.0 L762.9,-73.0 L764.8,-74.7 L766.7,-76.1 L768.6,-77.4 L770.6,-78.4 L772.6,-79.1 L774.6,-79.7 L776.6,-79.9 L778.6,-80.0 L780.6,-79.8 L782.6,-79.4 L781.6,-61.5 L780.0,-61.8 L778.5,-62.0 L776.9,-62.0 L775.3,-61.7 L773.8,-61.3 L772.3,-60.7 L770.7,-60.0 L769.2,-59.0 L767.7,-57.9 L766.3,-56.5 L764.9,-55.1 L763.5,-53.4 Z" fill="none" stroke="#000" stroke-width="1.8" stroke-linejoin="round"/><path d="M810.3,-64.6 L812.1,-61.2 L813.9,-57.5 L815.6,-53.6 L817.1,-49.4 L818.5,-45.1 L819.8,-40.5 L820.9,-35.8 L821.9,-31.0 L822.8,-26.0 L823.5,-20.9 L824.0,-15.7 L824.4,-10.4 L814.4,-7.6 L814.1,-11.5 L813.7,-15.3 L813.2,-19.0 L812.6,-22.7 L811.8,-26.2 L811.0,-29.7 L810.1,-33.0 L809.0,-36.2 L807.9,-39.2 L806.7,-42.1 L805.4,-44.7 L804.0,-47.2 Z" fill="#fff" stroke="#000" stroke-width="2.6" stroke-linejoin="round"/><path d="M802.4,-59.9 L803.9,-56.9 L805.3,-53.8 L806.6,-50.4 L807.8,-46.9 L808.9,-43.3 L810.0,-39.5 L810.9,-35.7 L811.8,-31.7 L812.5,-27.6 L813.2,-23.4 L813.7,-19.2 L814.2,-14.9 L806.0,-11.6 L805.7,-14.9 L805.3,-18.2 L804.8,-21.4 L804.2,-24.6 L803.5,-27.6 L802.8,-30.6 L802.0,-33.6 L801.1,-36.4 L800.1,-39.1 L799.1,-41.7 L798.0,-44.1 L796.9,-46.4 Z" fill="none" stroke="#000" stroke-width="1.8" stroke-linejoin="round"/><path d="M787.0,-56.0 L801.0,-56.0 A25.8,56.0 0 0 1 801.0,56.0 L787.0,56.0 A25.8,56.0 0 0 1 787.0,-56.0 Z" fill="#fff" stroke="#000" stroke-width="2.6"/></g>
<path d="M801.0,-56.0 L809.0,-56.0 A25.8,56.0 0 0 1 809.0,56.0 L801.0,56.0 A25.8,56.0 0 0 1 801.0,-56.0 Z" fill="#fff" stroke="#000" stroke-width="2.6"/>
<ellipse cx="809.0" cy="0.0" rx="25.8" ry="56.0" fill="#fff" stroke="#000" stroke-width="2.8"/>
<ellipse cx="809.0" cy="0.0" rx="23.5" ry="51.0" fill="none" stroke="#000" stroke-width="1.5"/>
<ellipse cx="809.0" cy="0.0" rx="19.8" ry="43.0" fill="#fff" stroke="#000" stroke-width="3.8"/>
<clipPath id="c11"><ellipse cx="809.0" cy="0" rx="19.8" ry="43.0"/></clipPath><g clip-path="url(#c11)"><path d="M779.0,-43.0 L780.6,-42.9 L782.1,-42.5 L783.6,-41.8 L785.1,-40.9 L786.6,-39.7 L788.0,-38.3 L789.3,-36.7 L790.6,-34.8 L791.8,-32.7 L793.0,-30.4 L794.0,-27.9 L795.0,-25.3 L795.9,-22.5 L796.6,-19.5 L797.3,-16.5 L797.8,-13.3 L798.2,-10.0 L798.5,-6.7 L798.7,-3.4 L798.8,0.0 L798.7,3.4 L798.5,6.7 L798.2,10.0 L797.8,13.3 L797.3,16.5 L796.6,19.5 L795.9,22.5 L795.0,25.3 L794.0,27.9 L793.0,30.4 L791.8,32.7 L790.6,34.8 L789.3,36.7 L788.0,38.3 L786.6,39.7 L785.1,40.9 L783.6,41.8 L782.1,42.5 L780.6,42.9 L779.0,43.0" fill="none" stroke="#000" stroke-width="1.8" stroke-linejoin="round"/></g>
<path d="M870.0,-38.0 L892.0,-38.0 A18.6,38.0 0 0 1 892.0,38.0 L870.0,38.0 A18.6,38.0 0 0 1 870.0,-38.0 Z" fill="#fff" stroke="#000" stroke-width="3.3"/>
<ellipse cx="892.0" cy="0.0" rx="18.6" ry="38.0" fill="#fff" stroke="#000" stroke-width="3.3"/>
<ellipse cx="892.0" cy="0.0" rx="16.4" ry="33.5" fill="#fff" stroke="#000" stroke-width="3.9599999999999995"/>
<clipPath id="c12"><ellipse cx="892.0" cy="0" rx="15.7" ry="32.0"/></clipPath><g clip-path="url(#c12)"><path d="M870.0,-32.0 L871.2,-31.9 L872.5,-31.6 L873.7,-31.1 L874.8,-30.4 L876.0,-29.6 L877.1,-28.5 L878.2,-27.3 L879.2,-25.9 L880.2,-24.3 L881.1,-22.6 L881.9,-20.8 L882.7,-18.8 L883.4,-16.7 L884.0,-14.5 L884.5,-12.2 L884.9,-9.9 L885.2,-7.5 L885.5,-5.0 L885.6,-2.5 L885.7,0.0 L885.6,2.5 L885.5,5.0 L885.2,7.5 L884.9,9.9 L884.5,12.2 L884.0,14.5 L883.4,16.7 L882.7,18.8 L881.9,20.8 L881.1,22.6 L880.2,24.3 L879.2,25.9 L878.2,27.3 L877.1,28.5 L876.0,29.6 L874.8,30.4 L873.7,31.1 L872.5,31.6 L871.2,31.9 L870.0,32.0" fill="none" stroke="#000" stroke-width="2.64" stroke-linejoin="round"/><line x1="870.0" y1="-32.0" x2="892.0" y2="-32.0" stroke="#000" stroke-width="2.64"/><line x1="870.0" y1="32.0" x2="892.0" y2="32.0" stroke="#000" stroke-width="2.64"/></g>
<path d="M1002.3,21.4 L994.3,21.1 L1019.3,21.1 L1027.3,21.4 Z" fill="#fff" stroke="#000" stroke-width="3.1" stroke-linejoin="round"/>
<path d="M991.7,-37.1 L999.5,-40.8 L1024.5,-40.8 L1016.7,-37.1 Z" fill="#fff" stroke="#000" stroke-width="3.1" stroke-linejoin="round"/>
<path d="M998.6,45.4 L990.8,40.9 L1015.8,40.9 L1023.6,45.4 Z" fill="#fff" stroke="#000" stroke-width="3.1" stroke-linejoin="round"/>
<path d="M986.6,-55.1 L993.7,-62.7 L1018.7,-62.7 L1011.6,-55.1 Z" fill="#fff" stroke="#000" stroke-width="3.1" stroke-linejoin="round"/>
<path d="M992.3,66.7 L985.3,58.4 L1010.3,58.4 L1017.3,66.7 Z" fill="#fff" stroke="#000" stroke-width="3.1" stroke-linejoin="round"/>
<path d="M979.6,-69.9 L985.7,-81.1 L1010.7,-81.1 L1004.6,-69.9 Z" fill="#fff" stroke="#000" stroke-width="3.1" stroke-linejoin="round"/>
<path d="M983.9,84.2 L978.0,72.4 L1003.0,72.4 L1008.9,84.2 Z" fill="#fff" stroke="#000" stroke-width="3.1" stroke-linejoin="round"/>
<path d="M971.2,-80.7 L975.9,-94.7 L1000.9,-94.7 L996.2,-80.7 Z" fill="#fff" stroke="#000" stroke-width="3.1" stroke-linejoin="round"/>
<path d="M973.8,96.8 L969.4,82.3 L994.4,82.3 L998.8,96.8 Z" fill="#fff" stroke="#000" stroke-width="3.1" stroke-linejoin="round"/>
<path d="M961.8,-86.7 L964.9,-102.8 L989.9,-102.8 L986.8,-86.7 Z" fill="#fff" stroke="#000" stroke-width="3.1" stroke-linejoin="round"/>
<path d="M962.6,103.7 L959.9,87.4 L984.9,87.4 L987.6,103.7 Z" fill="#fff" stroke="#000" stroke-width="3.1" stroke-linejoin="round"/>
<path d="M953.2,-104.9 L956.2,-105.0 L981.2,-105.0 L978.2,-104.9 Z" fill="#fff" stroke="#000" stroke-width="3.1" stroke-linejoin="round"/>
<path d="M952.1,-87.8 L953.2,-104.9 L978.2,-104.9 L977.1,-87.8 Z" fill="#fff" stroke="#000" stroke-width="3.1" stroke-linejoin="round"/>
<path d="M953.8,105.0 L950.9,104.6 L975.9,104.6 L978.8,105.0 Z" fill="#fff" stroke="#000" stroke-width="3.1" stroke-linejoin="round"/>
<path d="M951.1,-87.6 L952.1,-87.8 L977.1,-87.8 L976.1,-87.6 Z" fill="#000" stroke="#000" stroke-width="3.1" stroke-linejoin="round"/>
<path d="M950.1,-87.4 L951.1,-87.6 L976.1,-87.6 L975.1,-87.4 Z" fill="#000" stroke="#000" stroke-width="3.1" stroke-linejoin="round"/>
<path d="M950.9,104.6 L950.1,87.4 L975.1,87.4 L975.9,104.6 Z" fill="#fff" stroke="#000" stroke-width="3.1" stroke-linejoin="round"/>
<path d="M950.1,87.4 L949.2,87.1 L974.2,87.1 L975.1,87.4 Z" fill="#000" stroke="#000" stroke-width="3.1" stroke-linejoin="round"/>
<path d="M947.4,-103.7 L950.1,-87.4 L975.1,-87.4 L972.4,-103.7 Z" fill="#fff" stroke="#000" stroke-width="3.1" stroke-linejoin="round"/>
<path d="M949.2,87.1 L948.2,86.7 L973.2,86.7 L974.2,87.1 Z" fill="#000" stroke="#000" stroke-width="3.1" stroke-linejoin="round"/>
<path d="M948.2,86.7 L945.1,102.8 L970.1,102.8 L973.2,86.7 Z" fill="#fff" stroke="#000" stroke-width="3.1" stroke-linejoin="round"/>
<path d="M944.6,-102.5 L947.4,-103.7 L972.4,-103.7 L969.6,-102.5 Z" fill="#fff" stroke="#000" stroke-width="3.1" stroke-linejoin="round"/>
<path d="M945.1,102.8 L942.3,101.3 L967.3,101.3 L970.1,102.8 Z" fill="#fff" stroke="#000" stroke-width="3.1" stroke-linejoin="round"/>
<path d="M941.7,-101.0 L944.6,-102.5 L969.6,-102.5 L966.7,-101.0 Z" fill="#fff" stroke="#000" stroke-width="3.1" stroke-linejoin="round"/>
<path d="M942.5,-83.7 L941.7,-101.0 L966.7,-101.0 L967.5,-83.7 Z" fill="#fff" stroke="#000" stroke-width="3.1" stroke-linejoin="round"/>
<path d="M941.6,-83.0 L942.5,-83.7 L967.5,-83.7 L966.6,-83.0 Z" fill="#000" stroke="#000" stroke-width="3.1" stroke-linejoin="round"/>
<path d="M940.6,-82.3 L941.6,-83.0 L966.6,-83.0 L965.6,-82.3 Z" fill="#000" stroke="#000" stroke-width="3.1" stroke-linejoin="round"/>
<path d="M942.3,101.3 L939.5,99.5 L964.5,99.5 L967.3,101.3 Z" fill="#fff" stroke="#000" stroke-width="3.1" stroke-linejoin="round"/>
<path d="M940.6,82.3 L939.7,81.5 L964.7,81.5 L965.6,82.3 Z" fill="#000" stroke="#000" stroke-width="3.1" stroke-linejoin="round"/>
<path d="M939.5,99.5 L940.6,82.3 L965.6,82.3 L964.5,99.5 Z" fill="#fff" stroke="#000" stroke-width="3.1" stroke-linejoin="round"/>
<path d="M939.7,81.5 L938.8,80.7 L963.8,80.7 L964.7,81.5 Z" fill="#000" stroke="#000" stroke-width="3.1" stroke-linejoin="round"/>
<path d="M936.2,-96.8 L940.6,-82.3 L965.6,-82.3 L961.2,-96.8 Z" fill="#fff" stroke="#000" stroke-width="3.1" stroke-linejoin="round"/>
<path d="M938.8,80.7 L934.1,94.7 L959.1,94.7 L963.8,80.7 Z" fill="#fff" stroke="#000" stroke-width="3.1" stroke-linejoin="round"/>
<path d="M933.6,-94.1 L936.2,-96.8 L961.2,-96.8 L958.6,-94.1 Z" fill="#fff" stroke="#000" stroke-width="3.1" stroke-linejoin="round"/>
<path d="M932.8,-73.6 L933.6,-74.8 L958.6,-74.8 L957.8,-73.6 Z" fill="#000" stroke="#000" stroke-width="3.1" stroke-linejoin="round"/>
<path d="M934.1,94.7 L931.5,91.8 L956.5,91.8 L959.1,94.7 Z" fill="#fff" stroke="#000" stroke-width="3.1" stroke-linejoin="round"/>
<path d="M932.0,-72.4 L932.8,-73.6 L957.8,-73.6 L957.0,-72.4 Z" fill="#000" stroke="#000" stroke-width="3.1" stroke-linejoin="round"/>
<path d="M933.6,-74.8 L931.0,-91.1 L956.0,-91.1 L958.6,-74.8 Z" fill="#fff" stroke="#000" stroke-width="3.1" stroke-linejoin="round"/>
<path d="M931.0,-91.1 L933.6,-94.1 L958.6,-94.1 L956.0,-91.1 Z" fill="#fff" stroke="#000" stroke-width="3.1" stroke-linejoin="round"/>
<path d="M932.0,72.4 L931.2,71.2 L956.2,71.2 L957.0,72.4 Z" fill="#000" stroke="#000" stroke-width="3.1" stroke-linejoin="round"/>
<path d="M931.2,71.2 L930.4,69.9 L955.4,69.9 L956.2,71.2 Z" fill="#000" stroke="#000" stroke-width="3.1" stroke-linejoin="round"/>
<path d="M929.0,88.5 L932.0,72.4 L957.0,72.4 L954.0,88.5 Z" fill="#fff" stroke="#000" stroke-width="3.1" stroke-linejoin="round"/>
<path d="M931.5,91.8 L929.0,88.5 L954.0,88.5 L956.5,91.8 Z" fill="#fff" stroke="#000" stroke-width="3.1" stroke-linejoin="round"/>
<path d="M926.1,-84.2 L932.0,-72.4 L957.0,-72.4 L951.1,-84.2 Z" fill="#fff" stroke="#000" stroke-width="3.1" stroke-linejoin="round"/>
<path d="M930.4,69.9 L924.3,81.1 L949.3,81.1 L955.4,69.9 Z" fill="#fff" stroke="#000" stroke-width="3.1" stroke-linejoin="round"/>
<path d="M925.4,-59.9 L926.0,-61.5 L951.0,-61.5 L950.4,-59.9 Z" fill="#000" stroke="#000" stroke-width="3.1" stroke-linejoin="round"/>
<path d="M924.7,-58.4 L925.4,-59.9 L950.4,-59.9 L949.7,-58.4 Z" fill="#000" stroke="#000" stroke-width="3.1" stroke-linejoin="round"/>
<path d="M923.9,-80.3 L926.1,-84.2 L951.1,-84.2 L948.9,-80.3 Z" fill="#fff" stroke="#000" stroke-width="3.1" stroke-linejoin="round"/>
<path d="M924.7,58.4 L924.1,56.7 L949.1,56.7 L949.7,58.4 Z" fill="#000" stroke="#000" stroke-width="3.1" stroke-linejoin="round"/>
<path d="M926.0,-61.5 L921.7,-76.0 L946.7,-76.0 L951.0,-61.5 Z" fill="#fff" stroke="#000" stroke-width="3.1" stroke-linejoin="round"/>
<path d="M924.1,56.7 L923.4,55.1 L948.4,55.1 L949.1,56.7 Z" fill="#000" stroke="#000" stroke-width="3.1" stroke-linejoin="round"/>
<path d="M924.3,81.1 L922.1,76.9 L947.1,76.9 L949.3,81.1 Z" fill="#fff" stroke="#000" stroke-width="3.1" stroke-linejoin="round"/>
<path d="M921.7,-76.0 L923.9,-80.3 L948.9,-80.3 L946.7,-76.0 Z" fill="#fff" stroke="#000" stroke-width="3.1" stroke-linejoin="round"/>
<path d="M920.0,72.4 L924.7,58.4 L949.7,58.4 L945.0,72.4 Z" fill="#fff" stroke="#000" stroke-width="3.1" stroke-linejoin="round"/>
<path d="M917.7,-66.7 L924.7,-58.4 L949.7,-58.4 L942.7,-66.7 Z" fill="#fff" stroke="#000" stroke-width="3.1" stroke-linejoin="round"/>
<path d="M922.1,76.9 L920.0,72.4 L945.0,72.4 L947.1,76.9 Z" fill="#fff" stroke="#000" stroke-width="3.1" stroke-linejoin="round"/>
<path d="M919.6,-42.8 L920.1,-44.6 L945.1,-44.6 L944.6,-42.8 Z" fill="#000" stroke="#000" stroke-width="3.1" stroke-linejoin="round"/>
<path d="M923.4,55.1 L916.3,62.7 L941.3,62.7 L948.4,55.1 Z" fill="#fff" stroke="#000" stroke-width="3.1" stroke-linejoin="round"/>
<path d="M919.2,-40.9 L919.6,-42.8 L944.6,-42.8 L944.2,-40.9 Z" fill="#000" stroke="#000" stroke-width="3.1" stroke-linejoin="round"/>
<path d="M919.2,40.9 L918.7,39.0 L943.7,39.0 L944.2,40.9 Z" fill="#000" stroke="#000" stroke-width="3.1" stroke-linejoin="round"/>
<path d="M918.7,39.0 L918.3,37.1 L943.3,37.1 L943.7,39.0 Z" fill="#000" stroke="#000" stroke-width="3.1" stroke-linejoin="round"/>
<path d="M920.1,-44.6 L914.3,-56.5 L939.3,-56.5 L945.1,-44.6 Z" fill="#fff" stroke="#000" stroke-width="3.1" stroke-linejoin="round"/>
<path d="M915.9,-61.7 L917.7,-66.7 L942.7,-66.7 L940.9,-61.7 Z" fill="#fff" stroke="#000" stroke-width="3.1" stroke-linejoin="round"/>
<path d="M913.1,52.1 L919.2,40.9 L944.2,40.9 L938.1,52.1 Z" fill="#fff" stroke="#000" stroke-width="3.1" stroke-linejoin="round"/>
<path d="M915.9,-23.1 L916.2,-25.2 L941.2,-25.2 L940.9,-23.1 Z" fill="#000" stroke="#000" stroke-width="3.1" stroke-linejoin="round"/>
<path d="M915.7,-21.1 L915.9,-23.1 L940.9,-23.1 L940.7,-21.1 Z" fill="#000" stroke="#000" stroke-width="3.1" stroke-linejoin="round"/>
<path d="M915.7,21.1 L915.5,19.0 L940.5,19.0 L940.7,21.1 Z" fill="#000" stroke="#000" stroke-width="3.1" stroke-linejoin="round"/>
<path d="M916.3,62.7 L914.6,57.5 L939.6,57.5 L941.3,62.7 Z" fill="#fff" stroke="#000" stroke-width="3.1" stroke-linejoin="round"/>
<path d="M915.5,19.0 L915.3,16.9 L940.3,16.9 L940.5,19.0 Z" fill="#000" stroke="#000" stroke-width="3.1" stroke-linejoin="round"/>
<path d="M911.4,-45.4 L919.2,-40.9 L944.2,-40.9 L936.4,-45.4 Z" fill="#fff" stroke="#000" stroke-width="3.1" stroke-linejoin="round"/>
<path d="M914.3,-56.5 L915.9,-61.7 L940.9,-61.7 L939.3,-56.5 Z" fill="#fff" stroke="#000" stroke-width="3.1" stroke-linejoin="round"/>
<path d="M914.5,-2.1 L914.6,-4.3 L939.6,-4.3 L939.5,-2.1 Z" fill="#000" stroke="#000" stroke-width="3.1" stroke-linejoin="round"/>
<path d="M914.5,0.0 L914.5,-2.1 L939.5,-2.1 L939.5,0.0 Z" fill="#000" stroke="#000" stroke-width="3.1" stroke-linejoin="round"/>
<path d="M918.3,37.1 L910.5,40.8 L935.5,40.8 L943.3,37.1 Z" fill="#fff" stroke="#000" stroke-width="3.1" stroke-linejoin="round"/>
<path d="M914.6,57.5 L913.1,52.1 L938.1,52.1 L939.6,57.5 Z" fill="#fff" stroke="#000" stroke-width="3.1" stroke-linejoin="round"/>
<path d="M916.2,-25.2 L909.2,-33.7 L934.2,-33.7 L941.2,-25.2 Z" fill="#fff" stroke="#000" stroke-width="3.1" stroke-linejoin="round"/>
<path d="M908.6,28.8 L915.7,21.1 L940.7,21.1 L933.6,28.8 Z" fill="#fff" stroke="#000" stroke-width="3.1" stroke-linejoin="round"/>
<path d="M907.7,-21.4 L915.7,-21.1 L940.7,-21.1 L932.7,-21.4 Z" fill="#fff" stroke="#000" stroke-width="3.1" stroke-linejoin="round"/>
<path d="M915.3,16.9 L907.3,16.4 L932.3,16.4 L940.3,16.9 Z" fill="#fff" stroke="#000" stroke-width="3.1" stroke-linejoin="round"/>
<path d="M910.3,-39.6 L911.4,-45.4 L936.4,-45.4 L935.3,-39.6 Z" fill="#fff" stroke="#000" stroke-width="3.1" stroke-linejoin="round"/>
<path d="M914.6,-4.3 L906.9,-8.9 L931.9,-8.9 L939.6,-4.3 Z" fill="#fff" stroke="#000" stroke-width="3.1" stroke-linejoin="round"/>
<path d="M906.7,3.8 L914.5,0.0 L939.5,0.0 L931.7,3.8 Z" fill="#fff" stroke="#000" stroke-width="3.1" stroke-linejoin="round"/>
<path d="M910.5,40.8 L909.4,34.9 L934.4,34.9 L935.5,40.8 Z" fill="#fff" stroke="#000" stroke-width="3.1" stroke-linejoin="round"/>
<path d="M909.2,-33.7 L910.3,-39.6 L935.3,-39.6 L934.2,-33.7 Z" fill="#fff" stroke="#000" stroke-width="3.1" stroke-linejoin="round"/>
<path d="M909.4,34.9 L908.6,28.8 L933.6,28.8 L934.4,34.9 Z" fill="#fff" stroke="#000" stroke-width="3.1" stroke-linejoin="round"/>
<path d="M907.2,-15.2 L907.7,-21.4 L932.7,-21.4 L932.2,-15.2 Z" fill="#fff" stroke="#000" stroke-width="3.1" stroke-linejoin="round"/>
<path d="M907.3,16.4 L906.9,10.1 L931.9,10.1 L932.3,16.4 Z" fill="#fff" stroke="#000" stroke-width="3.1" stroke-linejoin="round"/>
<path d="M906.9,-8.9 L907.2,-15.2 L932.2,-15.2 L931.9,-8.9 Z" fill="#fff" stroke="#000" stroke-width="3.1" stroke-linejoin="round"/>
<path d="M906.9,10.1 L906.7,3.8 L931.7,3.8 L931.9,10.1 Z" fill="#fff" stroke="#000" stroke-width="3.1" stroke-linejoin="round"/>
<path d="M1020.5,0.0 L1020.5,2.1 L1020.4,4.3 L1028.1,8.9 L1027.8,15.2 L1027.3,21.4 L1019.3,21.1 L1019.1,23.1 L1018.8,25.2 L1025.8,33.7 L1024.7,39.6 L1023.6,45.4 L1015.8,40.9 L1015.4,42.8 L1014.9,44.6 L1020.7,56.5 L1019.1,61.7 L1017.3,66.7 L1010.3,58.4 L1009.6,59.9 L1009.0,61.5 L1013.3,76.0 L1011.1,80.3 L1008.9,84.2 L1003.0,72.4 L1002.2,73.6 L1001.4,74.8 L1004.0,91.1 L1001.4,94.1 L998.8,96.8 L994.4,82.3 L993.4,83.0 L992.5,83.7 L993.3,101.0 L990.4,102.5 L987.6,103.7 L984.9,87.4 L983.9,87.6 L982.9,87.8 L981.8,104.9 L978.8,105.0 L975.9,104.6 L975.1,87.4 L974.2,87.1 L973.2,86.7 L970.1,102.8 L967.3,101.3 L964.5,99.5 L965.6,82.3 L964.7,81.5 L963.8,80.7 L959.1,94.7 L956.5,91.8 L954.0,88.5 L957.0,72.4 L956.2,71.2 L955.4,69.9 L949.3,81.1 L947.1,76.9 L945.0,72.4 L949.7,58.4 L949.1,56.7 L948.4,55.1 L941.3,62.7 L939.6,57.5 L938.1,52.1 L944.2,40.9 L943.7,39.0 L943.3,37.1 L935.5,40.8 L934.4,34.9 L933.6,28.8 L940.7,21.1 L940.5,19.0 L940.3,16.9 L932.3,16.4 L931.9,10.1 L931.7,3.8 L939.5,0.0 L939.5,-2.1 L939.6,-4.3 L931.9,-8.9 L932.2,-15.2 L932.7,-21.4 L940.7,-21.1 L940.9,-23.1 L941.2,-25.2 L934.2,-33.7 L935.3,-39.6 L936.4,-45.4 L944.2,-40.9 L944.6,-42.8 L945.1,-44.6 L939.3,-56.5 L940.9,-61.7 L942.7,-66.7 L949.7,-58.4 L950.4,-59.9 L951.0,-61.5 L946.7,-76.0 L948.9,-80.3 L951.1,-84.2 L957.0,-72.4 L957.8,-73.6 L958.6,-74.8 L956.0,-91.1 L958.6,-94.1 L961.2,-96.8 L965.6,-82.3 L966.6,-83.0 L967.5,-83.7 L966.7,-101.0 L969.6,-102.5 L972.4,-103.7 L975.1,-87.4 L976.1,-87.6 L977.1,-87.8 L978.2,-104.9 L981.2,-105.0 L984.1,-104.6 L984.9,-87.4 L985.8,-87.1 L986.8,-86.7 L989.9,-102.8 L992.7,-101.3 L995.5,-99.5 L994.4,-82.3 L995.3,-81.5 L996.2,-80.7 L1000.9,-94.7 L1003.5,-91.8 L1006.0,-88.5 L1003.0,-72.4 L1003.8,-71.2 L1004.6,-69.9 L1010.7,-81.1 L1012.9,-76.9 L1015.0,-72.4 L1010.3,-58.4 L1010.9,-56.7 L1011.6,-55.1 L1018.7,-62.7 L1020.4,-57.5 L1021.9,-52.1 L1015.8,-40.9 L1016.3,-39.0 L1016.7,-37.1 L1024.5,-40.8 L1025.6,-34.9 L1026.4,-28.8 L1019.3,-21.1 L1019.5,-19.0 L1019.7,-16.9 L1027.7,-16.4 L1028.1,-10.1 L1028.3,-3.8 Z" fill="#fff" stroke="#000" stroke-width="3.3" stroke-linejoin="round"/>
<path d="M980.0,-84.0 L986.0,-84.0 A38.6,84.0 0 0 1 986.0,84.0 L980.0,84.0 A38.6,84.0 0 0 1 980.0,-84.0 Z" fill="#fff" stroke="#000" stroke-width="2.6"/>
<ellipse cx="986.0" cy="0.0" rx="38.6" ry="84.0" fill="#fff" stroke="#000" stroke-width="3.0"/>
<ellipse cx="986.0" cy="0.0" rx="36.6" ry="79.5" fill="none" stroke="#000" stroke-width="1.3"/>
<ellipse cx="986.0" cy="0.0" rx="34.0" ry="74.0" fill="#fff" stroke="#000" stroke-width="2.6"/>
<clipPath id="c13"><ellipse cx="986.0" cy="0" rx="34.0" ry="74.0"/></clipPath><g clip-path="url(#c13)"><path d="M970.0,-74.0 L972.7,-73.8 L975.3,-73.1 L977.9,-72.0 L980.5,-70.4 L983.0,-68.4 L985.5,-65.9 L987.8,-63.1 L990.0,-59.9 L992.1,-56.3 L994.1,-52.3 L995.9,-48.1 L997.5,-43.5 L999.0,-38.7 L1000.3,-33.6 L1001.4,-28.3 L1002.4,-22.9 L1003.1,-17.3 L1003.6,-11.6 L1003.9,-5.8 L1004.0,0.0 L1003.9,5.8 L1003.6,11.6 L1003.1,17.3 L1002.4,22.9 L1001.4,28.3 L1000.3,33.6 L999.0,38.7 L997.5,43.5 L995.9,48.1 L994.1,52.3 L992.1,56.3 L990.0,59.9 L987.8,63.1 L985.5,65.9 L983.0,68.4 L980.5,70.4 L977.9,72.0 L975.3,73.1 L972.7,73.8 L970.0,74.0" fill="none" stroke="#000" stroke-width="2.4" stroke-linejoin="round"/><path d="M970.0,-50.0 L984.0,-50.0 A23.0,50.0 0 0 1 984.0,50.0 L970.0,50.0 A23.0,50.0 0 0 1 970.0,-50.0 Z" fill="#fff" stroke="#000" stroke-width="2.6"/></g>
<path d="M984.0,-50.0 L990.0,-50.0 A23.0,50.0 0 0 1 990.0,50.0 L984.0,50.0 A23.0,50.0 0 0 1 984.0,-50.0 Z" fill="#fff" stroke="#000" stroke-width="2.6"/>
<ellipse cx="990.0" cy="0.0" rx="23.0" ry="50.0" fill="#fff" stroke="#000" stroke-width="2.8"/>
<ellipse cx="990.0" cy="0.0" rx="20.7" ry="45.0" fill="none" stroke="#000" stroke-width="1.5"/>
<ellipse cx="990.0" cy="0.0" rx="18.9" ry="41.0" fill="#fff" stroke="#000" stroke-width="3.8"/>
<clipPath id="c14"><ellipse cx="990.0" cy="0" rx="18.9" ry="41.0"/></clipPath><g clip-path="url(#c14)"><path d="M960.0,-41.0 L961.5,-40.9 L963.0,-40.5 L964.4,-39.9 L965.8,-39.0 L967.2,-37.9 L968.6,-36.5 L969.9,-35.0 L971.1,-33.2 L972.2,-31.2 L973.3,-29.0 L974.3,-26.6 L975.3,-24.1 L976.1,-21.4 L976.8,-18.6 L977.4,-15.7 L977.9,-12.7 L978.3,-9.6 L978.6,-6.4 L978.8,-3.2 L978.9,0.0 L978.8,3.2 L978.6,6.4 L978.3,9.6 L977.9,12.7 L977.4,15.7 L976.8,18.6 L976.1,21.4 L975.3,24.1 L974.3,26.6 L973.3,29.0 L972.2,31.2 L971.1,33.2 L969.9,35.0 L968.6,36.5 L967.2,37.9 L965.8,39.0 L964.4,39.9 L963.0,40.5 L961.5,40.9 L960.0,41.0" fill="none" stroke="#000" stroke-width="1.8" stroke-linejoin="round"/></g>
<path d="M1050.0,-38.0 L1072.0,-38.0 A18.0,38.0 0 0 1 1072.0,38.0 L1050.0,38.0 A18.0,38.0 0 0 1 1050.0,-38.0 Z" fill="#fff" stroke="#000" stroke-width="3.3"/>
<ellipse cx="1072.0" cy="0.0" rx="18.0" ry="38.0" fill="#fff" stroke="#000" stroke-width="3.3"/>
<ellipse cx="1072.0" cy="0.0" rx="15.9" ry="33.5" fill="#fff" stroke="#000" stroke-width="3.9599999999999995"/>
<clipPath id="c15"><ellipse cx="1072.0" cy="0" rx="15.2" ry="32.0"/></clipPath><g clip-path="url(#c15)"><path d="M1050.0,-32.0 L1051.2,-31.9 L1052.4,-31.6 L1053.5,-31.1 L1054.7,-30.4 L1055.8,-29.6 L1056.9,-28.5 L1057.9,-27.3 L1058.9,-25.9 L1059.9,-24.3 L1060.7,-22.6 L1061.5,-20.8 L1062.3,-18.8 L1062.9,-16.7 L1063.5,-14.5 L1064.0,-12.2 L1064.4,-9.9 L1064.8,-7.5 L1065.0,-5.0 L1065.1,-2.5 L1065.2,0.0 L1065.1,2.5 L1065.0,5.0 L1064.8,7.5 L1064.4,9.9 L1064.0,12.2 L1063.5,14.5 L1062.9,16.7 L1062.3,18.8 L1061.5,20.8 L1060.7,22.6 L1059.9,24.3 L1058.9,25.9 L1057.9,27.3 L1056.9,28.5 L1055.8,29.6 L1054.7,30.4 L1053.5,31.1 L1052.4,31.6 L1051.2,31.9 L1050.0,32.0" fill="none" stroke="#000" stroke-width="2.64" stroke-linejoin="round"/><line x1="1050.0" y1="-32.0" x2="1072.0" y2="-32.0" stroke="#000" stroke-width="2.64"/><line x1="1050.0" y1="32.0" x2="1072.0" y2="32.0" stroke="#000" stroke-width="2.64"/></g>
<path d="M1110.0,-48.0 L1113.0,-48.0 A22.8,48.0 0 0 1 1113.0,48.0 L1110.0,48.0 A22.8,48.0 0 0 1 1110.0,-48.0 Z" fill="#fff" stroke="#000" stroke-width="3.3"/>
<ellipse cx="1113.0" cy="0.0" rx="22.8" ry="48.0" fill="#fff" stroke="#000" stroke-width="3.3"/>
<ellipse cx="1113.0" cy="0.0" rx="21.3" ry="45.0" fill="none" stroke="#000" stroke-width="1.4849999999999999"/>
<path d="M1128.6,0.0 L1128.6,3.6 L1130.4,5.2 L1129.8,10.3 L1127.9,10.2 L1127.3,13.6 L1128.8,16.3 L1127.5,20.8 L1125.7,19.4 L1124.6,22.2 L1125.6,25.7 L1123.8,29.2 L1122.2,26.7 L1120.8,28.7 L1121.2,32.7 L1118.9,34.8 L1117.8,31.4 L1116.2,32.3 L1116.0,36.4 L1113.6,37.0 L1113.0,33.0 L1111.3,32.8 L1110.5,36.6 L1108.1,35.5 L1108.2,31.4 L1106.6,30.1 L1105.3,33.2 L1103.1,30.6 L1103.8,26.7 L1102.5,24.4 L1100.8,26.6 L1099.1,22.7 L1100.3,19.4 L1099.4,16.4 L1097.5,17.3 L1096.5,12.5 L1098.1,10.2 L1097.7,6.7 L1095.7,6.4 L1095.5,1.2 L1097.4,0.0 L1097.4,-3.6 L1095.6,-5.2 L1096.2,-10.3 L1098.1,-10.2 L1098.7,-13.6 L1097.2,-16.3 L1098.5,-20.8 L1100.3,-19.4 L1101.4,-22.2 L1100.4,-25.7 L1102.2,-29.2 L1103.8,-26.7 L1105.2,-28.7 L1104.8,-32.7 L1107.1,-34.8 L1108.2,-31.4 L1109.8,-32.3 L1110.0,-36.4 L1112.4,-37.0 L1113.0,-33.0 L1114.7,-32.8 L1115.5,-36.6 L1117.9,-35.5 L1117.8,-31.4 L1119.4,-30.1 L1120.7,-33.2 L1122.9,-30.6 L1122.2,-26.7 L1123.5,-24.4 L1125.2,-26.6 L1126.9,-22.7 L1125.7,-19.4 L1126.6,-16.4 L1128.5,-17.3 L1129.5,-12.5 L1127.9,-10.2 L1128.3,-6.7 L1130.3,-6.4 L1130.5,-1.2 Z" fill="#fff" stroke="#000" stroke-width="2.64" stroke-linejoin="round"/>
<path d="M1176.4,1.0 L1176.3,4.2 L1176.1,7.3 L1175.8,10.4 L1175.4,13.4 L1174.8,16.3 L1174.2,19.2 L1173.4,21.9 L1172.6,24.5 L1171.7,26.9 L1170.6,29.2 L1169.5,31.3 L1168.4,33.3 L1167.1,35.0 L1165.8,36.6 L1164.4,37.9 L1163.0,39.0 L1161.6,39.8 L1160.1,40.5 L1158.7,40.8 L1157.2,41.0 L1155.7,40.9 L1154.2,40.6 L1152.7,40.0 L1151.3,39.2 L1149.9,38.1 L1148.5,36.9 L1147.2,35.4 L1145.9,33.7 L1144.7,31.8 L1143.6,29.7 L1142.6,27.5 L1141.6,25.1 L1140.7,22.5 L1140.0,19.8 L1139.3,17.0 L1138.7,14.1 L1138.3,11.1 L1137.9,8.0 L1137.7,4.9 L1137.6,1.7 L1137.6,-1.4 L1137.7,-4.5 L1137.9,-7.7 L1138.2,-10.7 L1138.7,-13.7 L1139.2,-16.7 L1139.9,-19.5 L1140.7,-22.2 L1141.5,-24.8 L1142.5,-27.2 L1143.5,-29.5 L1144.6,-31.6 L1145.8,-33.5 L1147.0,-35.2 L1148.4,-36.7 L1149.7,-38.0 L1151.1,-39.1 L1152.6,-39.9 L1154.0,-40.5 L1155.5,-40.9 L1157.0,-41.0 L1158.5,-40.9 L1160.0,-40.5 L1161.5,-39.9 L1162.9,-39.1 L1164.3,-38.0 L1165.7,-36.7 L1167.0,-35.2 L1168.2,-33.5 L1169.4,-31.6 L1170.5,-29.5 L1171.6,-27.2 L1174.6,-27.2 L1173.5,-29.5 L1172.4,-31.6 L1171.2,-33.5 L1170.0,-35.2 L1168.7,-36.7 L1167.3,-38.0 L1165.9,-39.1 L1164.5,-39.9 L1163.0,-40.5 L1161.5,-40.9 L1160.0,-41.0 L1158.5,-40.9 L1157.0,-40.5 L1155.6,-39.9 L1154.1,-39.1 L1152.7,-38.0 L1151.4,-36.7 L1150.0,-35.2 L1148.8,-33.5 L1147.6,-31.6 L1146.5,-29.5 L1145.5,-27.2 L1144.5,-24.8 L1143.7,-22.2 L1142.9,-19.5 L1142.2,-16.7 L1141.7,-13.7 L1141.2,-10.7 L1140.9,-7.7 L1140.7,-4.5 L1140.6,-1.4 L1140.6,1.7 L1140.7,4.9 L1140.9,8.0 L1141.3,11.1 L1141.7,14.1 L1142.3,17.0 L1143.0,19.8 L1143.7,22.5 L1144.6,25.1 L1145.6,27.5 L1146.6,29.7 L1147.7,31.8 L1148.9,33.7 L1150.2,35.4 L1151.5,36.9 L1152.9,38.1 L1154.3,39.2 L1155.7,40.0 L1157.2,40.6 L1158.7,40.9 L1160.2,41.0 L1161.7,40.8 L1163.1,40.5 L1164.6,39.8 L1166.0,39.0 L1167.4,37.9 L1168.8,36.6 L1170.1,35.0 L1171.4,33.3 L1172.5,31.3 L1173.6,29.2 L1174.7,26.9 L1175.6,24.5 L1176.4,21.9 L1177.2,19.2 L1177.8,16.3 L1178.4,13.4 L1178.8,10.4 L1179.1,7.3 L1179.3,4.2 L1179.4,1.0 Z" fill="#fff" stroke="#000" stroke-width="2.64" stroke-linejoin="round"/>
<path d="M1179.4,1.0 L1179.3,4.2 L1179.1,7.3 L1178.8,10.4 L1178.4,13.4 L1177.8,16.3 L1177.2,19.2 L1176.4,21.9 L1175.6,24.5 L1174.7,26.9 L1173.6,29.2 L1172.5,31.3 L1171.4,33.3 L1170.1,35.0 L1168.8,36.6 L1167.4,37.9 L1166.0,39.0 L1164.6,39.8 L1163.1,40.5 L1161.7,40.8 L1160.2,41.0 L1158.7,40.9 L1157.2,40.6 L1155.7,40.0 L1154.3,39.2 L1152.9,38.1 L1151.5,36.9 L1150.2,35.4 L1148.9,33.7 L1147.7,31.8 L1146.6,29.7 L1145.6,27.5 L1144.6,25.1 L1143.7,22.5 L1143.0,19.8 L1142.3,17.0 L1141.7,14.1 L1141.3,11.1 L1140.9,8.0 L1140.7,4.9 L1140.6,1.7 L1140.6,-1.4 L1140.7,-4.5 L1140.9,-7.7 L1141.2,-10.7 L1141.7,-13.7 L1142.2,-16.7 L1142.9,-19.5 L1143.7,-22.2 L1144.5,-24.8 L1145.5,-27.2 L1146.5,-29.5 L1147.6,-31.6 L1148.8,-33.5 L1150.0,-35.2 L1151.4,-36.7 L1152.7,-38.0 L1154.1,-39.1 L1155.6,-39.9 L1157.0,-40.5 L1158.5,-40.9 L1160.0,-41.0 L1161.5,-40.9 L1163.0,-40.5 L1164.5,-39.9 L1165.9,-39.1 L1167.3,-38.0 L1168.7,-36.7 L1170.0,-35.2 L1171.2,-33.5 L1172.4,-31.6 L1173.5,-29.5 L1174.6,-27.2 L1172.4,-23.2 L1171.5,-25.2 L1170.6,-26.9 L1169.6,-28.6 L1168.5,-30.0 L1167.4,-31.3 L1166.2,-32.4 L1165.0,-33.4 L1163.8,-34.1 L1162.5,-34.6 L1161.3,-34.9 L1160.0,-35.0 L1158.7,-34.9 L1157.5,-34.6 L1156.2,-34.1 L1155.0,-33.4 L1153.8,-32.5 L1152.6,-31.4 L1151.5,-30.1 L1150.4,-28.6 L1149.4,-27.0 L1148.5,-25.2 L1147.6,-23.2 L1146.8,-21.2 L1146.0,-19.0 L1145.4,-16.6 L1144.8,-14.2 L1144.4,-11.7 L1144.0,-9.2 L1143.7,-6.5 L1143.5,-3.9 L1143.4,-1.2 L1143.4,1.5 L1143.5,4.2 L1143.7,6.8 L1144.0,9.4 L1144.4,12.0 L1144.9,14.5 L1145.5,16.9 L1146.1,19.2 L1146.9,21.4 L1147.7,23.5 L1148.6,25.4 L1149.5,27.2 L1150.5,28.8 L1151.6,30.2 L1152.7,31.5 L1153.9,32.6 L1155.1,33.5 L1156.4,34.1 L1157.6,34.6 L1158.9,34.9 L1160.1,35.0 L1161.4,34.9 L1162.7,34.5 L1163.9,34.0 L1165.2,33.3 L1166.4,32.3 L1167.5,31.2 L1168.6,29.9 L1169.7,28.4 L1170.7,26.8 L1171.6,24.9 L1172.5,23.0 L1173.3,20.9 L1174.0,18.7 L1174.7,16.4 L1175.2,13.9 L1175.7,11.4 L1176.1,8.8 L1176.3,6.2 L1176.5,3.6 L1176.6,0.9 Z" fill="#fff" stroke="#000" stroke-width="3.3" stroke-linejoin="round"/>
<path d="M1177.9,4.0 L1177.7,6.8 L1177.4,9.6 L1177.1,12.3 L1176.6,14.9 L1176.0,17.5 L1175.3,20.0 L1174.6,22.3 L1173.8,24.5 L1172.9,26.6 L1171.9,28.6 L1170.8,30.4 L1169.7,32.0 L1168.6,33.4 L1167.4,34.7 L1166.1,35.7 L1164.8,36.6 L1163.5,37.3 L1162.2,37.7 L1160.9,38.0 L1159.5,38.0 L1158.2,37.8 L1156.8,37.4 L1155.5,36.8 L1154.2,36.0 L1153.0,35.0 L1151.8,33.8 L1150.6,32.4 L1149.5,30.8 L1148.4,29.1 L1147.4,27.2 L1146.5,25.1 L1145.6,23.0 L1144.9,20.6 L1144.2,18.2 L1143.6,15.7 L1143.1,13.0 L1142.7,10.3 L1142.3,7.6 L1142.1,4.8 L1142.0,2.0 L1142.0,-0.9 L1142.1,-3.7 L1142.3,-6.5 L1142.5,-9.3 L1142.9,-12.0 L1143.4,-14.7 L1143.9,-17.2 L1144.6,-19.7 L1145.3,-22.1 L1146.2,-24.3 L1147.1,-26.4 L1148.0,-28.4 L1149.1,-30.2 L1150.2,-31.8 L1151.3,-33.3 L1152.5,-34.6 L1153.8,-35.6 L1155.0,-36.5 L1156.3,-37.2 L1157.7,-37.7 L1159.0,-37.9 L1160.4,-38.0 L1161.7,-37.8 L1163.0,-37.5 L1164.3,-36.9 L1165.6,-36.1 L1166.9,-35.1 L1168.1,-33.9 L1169.3,-32.6 L1170.4,-31.0 L1171.5,-29.3 L1172.5,-27.4" fill="none" stroke="#000" stroke-width="1.1549999999999998" stroke-linejoin="round"/>
<path d="M1179.9,-50.4 L1191.9,-50.4 A4.7,10.0 0 0 1 1191.9,-30.4 L1179.9,-30.4 A4.7,10.0 0 0 1 1179.9,-50.4 Z" fill="#fff" stroke="#000" stroke-width="2.6"/><ellipse cx="1179.9" cy="-40.4" rx="4.7" ry="10.0" fill="#fff" stroke="#000" stroke-width="2.6"/>
<path d="M1177.5,26.4 L1189.5,26.4 A4.7,10.0 0 0 1 1189.5,46.4 L1177.5,46.4 A4.7,10.0 0 0 1 1177.5,26.4 Z" fill="#fff" stroke="#000" stroke-width="2.6"/><ellipse cx="1177.5" cy="36.4" rx="4.7" ry="10.0" fill="#fff" stroke="#000" stroke-width="2.6"/>
<path d="M1264.6,-35.0 L1269.8,-37.5 L1315.8,-37.5 L1310.6,-35.0 Z" fill="#fff" stroke="#000" stroke-width="3.1" stroke-linejoin="round"/>
<path d="M1268.6,42.0 L1263.5,38.9 L1309.5,38.9 L1314.6,42.0 Z" fill="#fff" stroke="#000" stroke-width="3.1" stroke-linejoin="round"/>
<path d="M1258.7,-51.3 L1263.4,-56.8 L1309.4,-56.8 L1304.7,-51.3 Z" fill="#fff" stroke="#000" stroke-width="3.1" stroke-linejoin="round"/>
<path d="M1261.7,60.5 L1257.2,54.4 L1303.2,54.4 L1307.7,60.5 Z" fill="#fff" stroke="#000" stroke-width="3.1" stroke-linejoin="round"/>
<path d="M1251.0,-63.5 L1254.8,-71.6 L1300.8,-71.6 L1297.0,-63.5 Z" fill="#fff" stroke="#000" stroke-width="3.1" stroke-linejoin="round"/>
<path d="M1252.6,74.1 L1249.1,65.5 L1295.1,65.5 L1298.6,74.1 Z" fill="#fff" stroke="#000" stroke-width="3.1" stroke-linejoin="round"/>
<path d="M1241.9,-70.5 L1244.5,-80.5 L1290.5,-80.5 L1287.9,-70.5 Z" fill="#fff" stroke="#000" stroke-width="3.1" stroke-linejoin="round"/>
<path d="M1242.1,81.6 L1239.8,71.3 L1285.8,71.3 L1288.1,81.6 Z" fill="#fff" stroke="#000" stroke-width="3.1" stroke-linejoin="round"/>
<path d="M1233.4,-82.9 L1236.2,-83.0 L1282.2,-83.0 L1279.4,-82.9 Z" fill="#fff" stroke="#000" stroke-width="3.1" stroke-linejoin="round"/>
<path d="M1232.3,-71.8 L1233.4,-82.9 L1279.4,-82.9 L1278.3,-71.8 Z" fill="#fff" stroke="#000" stroke-width="3.1" stroke-linejoin="round"/>
<path d="M1233.8,83.0 L1231.0,82.6 L1277.0,82.6 L1279.8,83.0 Z" fill="#fff" stroke="#000" stroke-width="3.1" stroke-linejoin="round"/>
<path d="M1231.2,-71.6 L1232.3,-71.8 L1278.3,-71.8 L1277.2,-71.6 Z" fill="#000" stroke="#000" stroke-width="3.1" stroke-linejoin="round"/>
<path d="M1230.2,-71.3 L1231.2,-71.6 L1277.2,-71.6 L1276.2,-71.3 Z" fill="#000" stroke="#000" stroke-width="3.1" stroke-linejoin="round"/>
<path d="M1231.0,82.6 L1230.2,71.3 L1276.2,71.3 L1277.0,82.6 Z" fill="#fff" stroke="#000" stroke-width="3.1" stroke-linejoin="round"/>
<path d="M1230.2,71.3 L1229.1,70.9 L1275.1,70.9 L1276.2,71.3 Z" fill="#000" stroke="#000" stroke-width="3.1" stroke-linejoin="round"/>
<path d="M1227.9,-81.6 L1230.2,-71.3 L1276.2,-71.3 L1273.9,-81.6 Z" fill="#fff" stroke="#000" stroke-width="3.1" stroke-linejoin="round"/>
<path d="M1229.1,70.9 L1228.1,70.5 L1274.1,70.5 L1275.1,70.9 Z" fill="#000" stroke="#000" stroke-width="3.1" stroke-linejoin="round"/>
<path d="M1228.1,70.5 L1225.5,80.5 L1271.5,80.5 L1274.1,70.5 Z" fill="#fff" stroke="#000" stroke-width="3.1" stroke-linejoin="round"/>
<path d="M1225.2,-80.3 L1227.9,-81.6 L1273.9,-81.6 L1271.2,-80.3 Z" fill="#fff" stroke="#000" stroke-width="3.1" stroke-linejoin="round"/>
<path d="M1225.5,80.5 L1222.8,78.9 L1268.8,78.9 L1271.5,80.5 Z" fill="#fff" stroke="#000" stroke-width="3.1" stroke-linejoin="round"/>
<path d="M1222.5,-78.6 L1225.2,-80.3 L1271.2,-80.3 L1268.5,-78.6 Z" fill="#fff" stroke="#000" stroke-width="3.1" stroke-linejoin="round"/>
<path d="M1222.9,-67.2 L1222.5,-78.6 L1268.5,-78.6 L1268.9,-67.2 Z" fill="#fff" stroke="#000" stroke-width="3.1" stroke-linejoin="round"/>
<path d="M1221.9,-66.4 L1222.9,-67.2 L1268.9,-67.2 L1267.9,-66.4 Z" fill="#000" stroke="#000" stroke-width="3.1" stroke-linejoin="round"/>
<path d="M1222.8,78.9 L1220.2,76.8 L1266.2,76.8 L1268.8,78.9 Z" fill="#fff" stroke="#000" stroke-width="3.1" stroke-linejoin="round"/>
<path d="M1220.9,-65.5 L1221.9,-66.4 L1267.9,-66.4 L1266.9,-65.5 Z" fill="#000" stroke="#000" stroke-width="3.1" stroke-linejoin="round"/>
<path d="M1220.2,76.8 L1220.9,65.5 L1266.9,65.5 L1266.2,76.8 Z" fill="#fff" stroke="#000" stroke-width="3.1" stroke-linejoin="round"/>
<path d="M1220.9,65.5 L1220.0,64.5 L1266.0,64.5 L1266.9,65.5 Z" fill="#000" stroke="#000" stroke-width="3.1" stroke-linejoin="round"/>
<path d="M1220.0,64.5 L1219.0,63.5 L1265.0,63.5 L1266.0,64.5 Z" fill="#000" stroke="#000" stroke-width="3.1" stroke-linejoin="round"/>
<path d="M1217.4,-74.1 L1220.9,-65.5 L1266.9,-65.5 L1263.4,-74.1 Z" fill="#fff" stroke="#000" stroke-width="3.1" stroke-linejoin="round"/>
<path d="M1219.0,63.5 L1215.2,71.6 L1261.2,71.6 L1265.0,63.5 Z" fill="#fff" stroke="#000" stroke-width="3.1" stroke-linejoin="round"/>
<path d="M1215.0,-71.2 L1217.4,-74.1 L1263.4,-74.1 L1261.0,-71.2 Z" fill="#fff" stroke="#000" stroke-width="3.1" stroke-linejoin="round"/>
<path d="M1213.7,-55.9 L1214.5,-57.3 L1260.5,-57.3 L1259.7,-55.9 Z" fill="#000" stroke="#000" stroke-width="3.1" stroke-linejoin="round"/>
<path d="M1215.2,71.6 L1212.9,68.4 L1258.9,68.4 L1261.2,71.6 Z" fill="#fff" stroke="#000" stroke-width="3.1" stroke-linejoin="round"/>
<path d="M1212.6,-68.0 L1215.0,-71.2 L1261.0,-71.2 L1258.6,-68.0 Z" fill="#fff" stroke="#000" stroke-width="3.1" stroke-linejoin="round"/>
<path d="M1214.5,-57.3 L1212.6,-68.0 L1258.6,-68.0 L1260.5,-57.3 Z" fill="#fff" stroke="#000" stroke-width="3.1" stroke-linejoin="round"/>
<path d="M1212.8,-54.4 L1213.7,-55.9 L1259.7,-55.9 L1258.8,-54.4 Z" fill="#000" stroke="#000" stroke-width="3.1" stroke-linejoin="round"/>
<path d="M1212.8,54.4 L1212.0,52.9 L1258.0,52.9 L1258.8,54.4 Z" fill="#000" stroke="#000" stroke-width="3.1" stroke-linejoin="round"/>
<path d="M1212.9,68.4 L1210.7,64.8 L1256.7,64.8 L1258.9,68.4 Z" fill="#fff" stroke="#000" stroke-width="3.1" stroke-linejoin="round"/>
<path d="M1210.7,64.8 L1212.8,54.4 L1258.8,54.4 L1256.7,64.8 Z" fill="#fff" stroke="#000" stroke-width="3.1" stroke-linejoin="round"/>
<path d="M1212.0,52.9 L1211.3,51.3 L1257.3,51.3 L1258.0,52.9 Z" fill="#000" stroke="#000" stroke-width="3.1" stroke-linejoin="round"/>
<path d="M1208.3,-60.5 L1212.8,-54.4 L1258.8,-54.4 L1254.3,-60.5 Z" fill="#fff" stroke="#000" stroke-width="3.1" stroke-linejoin="round"/>
<path d="M1211.3,51.3 L1206.6,56.8 L1252.6,56.8 L1257.3,51.3 Z" fill="#fff" stroke="#000" stroke-width="3.1" stroke-linejoin="round"/>
<path d="M1207.1,-40.8 L1207.7,-42.7 L1253.7,-42.7 L1253.1,-40.8 Z" fill="#000" stroke="#000" stroke-width="3.1" stroke-linejoin="round"/>
<path d="M1206.3,-56.3 L1208.3,-60.5 L1254.3,-60.5 L1252.3,-56.3 Z" fill="#fff" stroke="#000" stroke-width="3.1" stroke-linejoin="round"/>
<path d="M1206.5,-38.9 L1207.1,-40.8 L1253.1,-40.8 L1252.5,-38.9 Z" fill="#000" stroke="#000" stroke-width="3.1" stroke-linejoin="round"/>
<path d="M1206.5,38.9 L1206.0,37.0 L1252.0,37.0 L1252.5,38.9 Z" fill="#000" stroke="#000" stroke-width="3.1" stroke-linejoin="round"/>
<path d="M1207.7,-42.7 L1204.5,-51.8 L1250.5,-51.8 L1253.7,-42.7 Z" fill="#fff" stroke="#000" stroke-width="3.1" stroke-linejoin="round"/>
<path d="M1206.0,37.0 L1205.4,35.0 L1251.4,35.0 L1252.0,37.0 Z" fill="#000" stroke="#000" stroke-width="3.1" stroke-linejoin="round"/>
<path d="M1206.6,56.8 L1204.7,52.4 L1250.7,52.4 L1252.6,56.8 Z" fill="#fff" stroke="#000" stroke-width="3.1" stroke-linejoin="round"/>
<path d="M1204.5,-51.8 L1206.3,-56.3 L1252.3,-56.3 L1250.5,-51.8 Z" fill="#fff" stroke="#000" stroke-width="3.1" stroke-linejoin="round"/>
<path d="M1203.1,47.6 L1206.5,38.9 L1252.5,38.9 L1249.1,47.6 Z" fill="#fff" stroke="#000" stroke-width="3.1" stroke-linejoin="round"/>
<path d="M1201.4,-42.0 L1206.5,-38.9 L1252.5,-38.9 L1247.4,-42.0 Z" fill="#fff" stroke="#000" stroke-width="3.1" stroke-linejoin="round"/>
<path d="M1204.7,52.4 L1203.1,47.6 L1249.1,47.6 L1250.7,52.4 Z" fill="#fff" stroke="#000" stroke-width="3.1" stroke-linejoin="round"/>
<path d="M1202.8,-22.4 L1203.2,-24.6 L1249.2,-24.6 L1248.8,-22.4 Z" fill="#000" stroke="#000" stroke-width="3.1" stroke-linejoin="round"/>
<path d="M1205.4,35.0 L1200.2,37.5 L1246.2,37.5 L1251.4,35.0 Z" fill="#fff" stroke="#000" stroke-width="3.1" stroke-linejoin="round"/>
<path d="M1202.5,-20.3 L1202.8,-22.4 L1248.8,-22.4 L1248.5,-20.3 Z" fill="#000" stroke="#000" stroke-width="3.1" stroke-linejoin="round"/>
<path d="M1202.5,20.3 L1202.2,18.1 L1248.2,18.1 L1248.5,20.3 Z" fill="#000" stroke="#000" stroke-width="3.1" stroke-linejoin="round"/>
<path d="M1202.2,18.1 L1202.0,15.9 L1248.0,15.9 L1248.2,18.1 Z" fill="#000" stroke="#000" stroke-width="3.1" stroke-linejoin="round"/>
<path d="M1201.2,-2.3 L1201.2,-4.5 L1247.2,-4.5 L1247.2,-2.3 Z" fill="#000" stroke="#000" stroke-width="3.1" stroke-linejoin="round"/>
<path d="M1201.2,0.0 L1201.2,-2.3 L1247.2,-2.3 L1247.2,0.0 Z" fill="#000" stroke="#000" stroke-width="3.1" stroke-linejoin="round"/>
<path d="M1203.2,-24.6 L1198.9,-31.4 L1244.9,-31.4 L1249.2,-24.6 Z" fill="#fff" stroke="#000" stroke-width="3.1" stroke-linejoin="round"/>
<path d="M1200.0,-36.8 L1201.4,-42.0 L1247.4,-42.0 L1246.0,-36.8 Z" fill="#fff" stroke="#000" stroke-width="3.1" stroke-linejoin="round"/>
<path d="M1198.0,26.5 L1202.5,20.3 L1248.5,20.3 L1244.0,26.5 Z" fill="#fff" stroke="#000" stroke-width="3.1" stroke-linejoin="round"/>
<path d="M1197.2,-20.2 L1202.5,-20.3 L1248.5,-20.3 L1243.2,-20.2 Z" fill="#fff" stroke="#000" stroke-width="3.1" stroke-linejoin="round"/>
<path d="M1200.2,37.5 L1199.0,32.1 L1245.0,32.1 L1246.2,37.5 Z" fill="#fff" stroke="#000" stroke-width="3.1" stroke-linejoin="round"/>
<path d="M1198.9,-31.4 L1200.0,-36.8 L1246.0,-36.8 L1244.9,-31.4 Z" fill="#fff" stroke="#000" stroke-width="3.1" stroke-linejoin="round"/>
<path d="M1202.0,15.9 L1196.6,15.1 L1242.6,15.1 L1248.0,15.9 Z" fill="#fff" stroke="#000" stroke-width="3.1" stroke-linejoin="round"/>
<path d="M1201.2,-4.5 L1196.2,-8.5 L1242.2,-8.5 L1247.2,-4.5 Z" fill="#fff" stroke="#000" stroke-width="3.1" stroke-linejoin="round"/>
<path d="M1196.0,3.3 L1201.2,0.0 L1247.2,0.0 L1242.0,3.3 Z" fill="#fff" stroke="#000" stroke-width="3.1" stroke-linejoin="round"/>
<path d="M1199.0,32.1 L1198.0,26.5 L1244.0,26.5 L1245.0,32.1 Z" fill="#fff" stroke="#000" stroke-width="3.1" stroke-linejoin="round"/>
<path d="M1196.6,-14.4 L1197.2,-20.2 L1243.2,-20.2 L1242.6,-14.4 Z" fill="#fff" stroke="#000" stroke-width="3.1" stroke-linejoin="round"/>
<path d="M1196.6,15.1 L1196.2,9.2 L1242.2,9.2 L1242.6,15.1 Z" fill="#fff" stroke="#000" stroke-width="3.1" stroke-linejoin="round"/>
<path d="M1196.2,-8.5 L1196.6,-14.4 L1242.6,-14.4 L1242.2,-8.5 Z" fill="#fff" stroke="#000" stroke-width="3.1" stroke-linejoin="round"/>
<path d="M1196.2,9.2 L1196.0,3.3 L1242.0,3.3 L1242.2,9.2 Z" fill="#fff" stroke="#000" stroke-width="3.1" stroke-linejoin="round"/>
<path d="M1314.8,0.0 L1314.8,2.3 L1314.8,4.5 L1319.8,8.5 L1319.4,14.4 L1318.8,20.2 L1313.5,20.3 L1313.2,22.4 L1312.8,24.6 L1317.1,31.4 L1316.0,36.8 L1314.6,42.0 L1309.5,38.9 L1308.9,40.8 L1308.3,42.7 L1311.5,51.8 L1309.7,56.3 L1307.7,60.5 L1303.2,54.4 L1302.3,55.9 L1301.5,57.3 L1303.4,68.0 L1301.0,71.2 L1298.6,74.1 L1295.1,65.5 L1294.1,66.4 L1293.1,67.2 L1293.5,78.6 L1290.8,80.3 L1288.1,81.6 L1285.8,71.3 L1284.8,71.6 L1283.7,71.8 L1282.6,82.9 L1279.8,83.0 L1277.0,82.6 L1276.2,71.3 L1275.1,70.9 L1274.1,70.5 L1271.5,80.5 L1268.8,78.9 L1266.2,76.8 L1266.9,65.5 L1266.0,64.5 L1265.0,63.5 L1261.2,71.6 L1258.9,68.4 L1256.7,64.8 L1258.8,54.4 L1258.0,52.9 L1257.3,51.3 L1252.6,56.8 L1250.7,52.4 L1249.1,47.6 L1252.5,38.9 L1252.0,37.0 L1251.4,35.0 L1246.2,37.5 L1245.0,32.1 L1244.0,26.5 L1248.5,20.3 L1248.2,18.1 L1248.0,15.9 L1242.6,15.1 L1242.2,9.2 L1242.0,3.3 L1247.2,0.0 L1247.2,-2.3 L1247.2,-4.5 L1242.2,-8.5 L1242.6,-14.4 L1243.2,-20.2 L1248.5,-20.3 L1248.8,-22.4 L1249.2,-24.6 L1244.9,-31.4 L1246.0,-36.8 L1247.4,-42.0 L1252.5,-38.9 L1253.1,-40.8 L1253.7,-42.7 L1250.5,-51.8 L1252.3,-56.3 L1254.3,-60.5 L1258.8,-54.4 L1259.7,-55.9 L1260.5,-57.3 L1258.6,-68.0 L1261.0,-71.2 L1263.4,-74.1 L1266.9,-65.5 L1267.9,-66.4 L1268.9,-67.2 L1268.5,-78.6 L1271.2,-80.3 L1273.9,-81.6 L1276.2,-71.3 L1277.2,-71.6 L1278.3,-71.8 L1279.4,-82.9 L1282.2,-83.0 L1285.0,-82.6 L1285.8,-71.3 L1286.9,-70.9 L1287.9,-70.5 L1290.5,-80.5 L1293.2,-78.9 L1295.8,-76.8 L1295.1,-65.5 L1296.0,-64.5 L1297.0,-63.5 L1300.8,-71.6 L1303.1,-68.4 L1305.3,-64.8 L1303.2,-54.4 L1304.0,-52.9 L1304.7,-51.3 L1309.4,-56.8 L1311.3,-52.4 L1312.9,-47.6 L1309.5,-38.9 L1310.0,-37.0 L1310.6,-35.0 L1315.8,-37.5 L1317.0,-32.1 L1318.0,-26.5 L1313.5,-20.3 L1313.8,-18.1 L1314.0,-15.9 L1319.4,-15.1 L1319.8,-9.2 L1320.0,-3.3 Z" fill="#fff" stroke="#000" stroke-width="3.3" stroke-linejoin="round"/>
<ellipse cx="1281.0" cy="0.0" rx="28.2" ry="60.0" fill="#fff" stroke="#000" stroke-width="2.6"/>
<ellipse cx="1281.0" cy="0.0" rx="25.4" ry="54.0" fill="none" stroke="#000" stroke-width="1.4"/>
<ellipse cx="1281.0" cy="0.0" rx="22.1" ry="47.0" fill="#fff" stroke="#000" stroke-width="3.2"/>
<clipPath id="c16"><ellipse cx="1281.0" cy="0" rx="22.1" ry="47.0"/></clipPath><g clip-path="url(#c16)"><path d="M1242.9,-7.9 L1246.8,-8.1 L1302.8,-8.1 L1298.9,-7.9 Z" fill="#fff" stroke="#000" stroke-width="2.8" stroke-linejoin="round"/>
<path d="M1246.2,13.1 L1242.4,12.1 L1298.4,12.1 L1302.2,13.1 Z" fill="#fff" stroke="#000" stroke-width="2.8" stroke-linejoin="round"/>
<path d="M1240.9,-19.3 L1244.5,-22.0 L1300.5,-22.0 L1296.9,-19.3 Z" fill="#fff" stroke="#000" stroke-width="2.8" stroke-linejoin="round"/>
<path d="M1243.3,26.4 L1239.8,22.9 L1295.8,22.9 L1299.3,26.4 Z" fill="#fff" stroke="#000" stroke-width="2.8" stroke-linejoin="round"/>
<path d="M1237.3,-28.8 L1240.4,-33.8 L1296.4,-33.8 L1293.3,-28.8 Z" fill="#fff" stroke="#000" stroke-width="2.8" stroke-linejoin="round"/>
<path d="M1238.5,37.1 L1235.8,31.6 L1291.8,31.6 L1294.5,37.1 Z" fill="#fff" stroke="#000" stroke-width="2.8" stroke-linejoin="round"/>
<path d="M1232.5,-35.5 L1234.7,-42.2 L1290.7,-42.2 L1288.5,-35.5 Z" fill="#fff" stroke="#000" stroke-width="2.8" stroke-linejoin="round"/>
<path d="M1232.5,44.2 L1230.7,37.1 L1286.7,37.1 L1288.5,44.2 Z" fill="#fff" stroke="#000" stroke-width="2.8" stroke-linejoin="round"/>
<path d="M1227.0,-38.8 L1228.1,-46.5 L1284.1,-46.5 L1283.0,-38.8 Z" fill="#fff" stroke="#000" stroke-width="2.8" stroke-linejoin="round"/>
<path d="M1225.7,47.0 L1225.0,39.0 L1281.0,39.0 L1281.7,47.0 Z" fill="#fff" stroke="#000" stroke-width="2.8" stroke-linejoin="round"/>
<path d="M1224.3,-47.0 L1225.0,-39.0 L1281.0,-39.0 L1280.3,-47.0 Z" fill="#fff" stroke="#000" stroke-width="2.8" stroke-linejoin="round"/>
<path d="M1225.0,39.0 L1223.0,38.8 L1279.0,38.8 L1281.0,39.0 Z" fill="#000" stroke="#000" stroke-width="2.8" stroke-linejoin="round"/>
<path d="M1221.2,-46.3 L1224.3,-47.0 L1280.3,-47.0 L1277.2,-46.3 Z" fill="#fff" stroke="#000" stroke-width="2.8" stroke-linejoin="round"/>
<path d="M1223.0,38.8 L1221.9,46.5 L1277.9,46.5 L1279.0,38.8 Z" fill="#fff" stroke="#000" stroke-width="2.8" stroke-linejoin="round"/>
<path d="M1221.3,-38.2 L1221.2,-46.3 L1277.2,-46.3 L1277.3,-38.2 Z" fill="#fff" stroke="#000" stroke-width="2.8" stroke-linejoin="round"/>
<path d="M1221.9,46.5 L1218.8,45.1 L1274.8,45.1 L1277.9,46.5 Z" fill="#fff" stroke="#000" stroke-width="2.8" stroke-linejoin="round"/>
<path d="M1219.3,-37.1 L1221.3,-38.2 L1277.3,-38.2 L1275.3,-37.1 Z" fill="#000" stroke="#000" stroke-width="2.8" stroke-linejoin="round"/>
<path d="M1218.8,45.1 L1219.3,37.1 L1275.3,37.1 L1274.8,45.1 Z" fill="#fff" stroke="#000" stroke-width="2.8" stroke-linejoin="round"/>
<path d="M1217.5,-44.2 L1219.3,-37.1 L1275.3,-37.1 L1273.5,-44.2 Z" fill="#fff" stroke="#000" stroke-width="2.8" stroke-linejoin="round"/>
<path d="M1219.3,37.1 L1217.5,35.5 L1273.5,35.5 L1275.3,37.1 Z" fill="#000" stroke="#000" stroke-width="2.8" stroke-linejoin="round"/>
<path d="M1217.5,35.5 L1215.3,42.2 L1271.3,42.2 L1273.5,35.5 Z" fill="#fff" stroke="#000" stroke-width="2.8" stroke-linejoin="round"/>
<path d="M1214.7,-41.5 L1217.5,-44.2 L1273.5,-44.2 L1270.7,-41.5 Z" fill="#fff" stroke="#000" stroke-width="2.8" stroke-linejoin="round"/>
<path d="M1215.9,-33.9 L1214.7,-41.5 L1270.7,-41.5 L1271.9,-33.9 Z" fill="#fff" stroke="#000" stroke-width="2.8" stroke-linejoin="round"/>
<path d="M1214.2,-31.6 L1215.9,-33.9 L1271.9,-33.9 L1270.2,-31.6 Z" fill="#000" stroke="#000" stroke-width="2.8" stroke-linejoin="round"/>
<path d="M1215.3,42.2 L1212.6,38.9 L1268.6,38.9 L1271.3,42.2 Z" fill="#fff" stroke="#000" stroke-width="2.8" stroke-linejoin="round"/>
<path d="M1214.2,31.6 L1212.7,28.8 L1268.7,28.8 L1270.2,31.6 Z" fill="#000" stroke="#000" stroke-width="2.8" stroke-linejoin="round"/>
<path d="M1212.6,38.9 L1214.2,31.6 L1270.2,31.6 L1268.6,38.9 Z" fill="#fff" stroke="#000" stroke-width="2.8" stroke-linejoin="round"/>
<path d="M1211.5,-37.1 L1214.2,-31.6 L1270.2,-31.6 L1267.5,-37.1 Z" fill="#fff" stroke="#000" stroke-width="2.8" stroke-linejoin="round"/>
<path d="M1212.7,28.8 L1209.6,33.8 L1265.6,33.8 L1268.7,28.8 Z" fill="#fff" stroke="#000" stroke-width="2.8" stroke-linejoin="round"/>
<path d="M1210.2,-22.9 L1211.4,-26.2 L1267.4,-26.2 L1266.2,-22.9 Z" fill="#000" stroke="#000" stroke-width="2.8" stroke-linejoin="round"/>
<path d="M1209.1,-32.7 L1211.5,-37.1 L1267.5,-37.1 L1265.1,-32.7 Z" fill="#fff" stroke="#000" stroke-width="2.8" stroke-linejoin="round"/>
<path d="M1211.4,-26.2 L1209.1,-32.7 L1265.1,-32.7 L1267.4,-26.2 Z" fill="#fff" stroke="#000" stroke-width="2.8" stroke-linejoin="round"/>
<path d="M1210.2,22.9 L1209.1,19.3 L1265.1,19.3 L1266.2,22.9 Z" fill="#000" stroke="#000" stroke-width="2.8" stroke-linejoin="round"/>
<path d="M1207.5,28.8 L1210.2,22.9 L1266.2,22.9 L1263.5,28.8 Z" fill="#fff" stroke="#000" stroke-width="2.8" stroke-linejoin="round"/>
<path d="M1209.6,33.8 L1207.5,28.8 L1263.5,28.8 L1265.6,33.8 Z" fill="#fff" stroke="#000" stroke-width="2.8" stroke-linejoin="round"/>
<path d="M1206.7,-26.4 L1210.2,-22.9 L1266.2,-22.9 L1262.7,-26.4 Z" fill="#fff" stroke="#000" stroke-width="2.8" stroke-linejoin="round"/>
<path d="M1207.6,-12.1 L1208.3,-16.0 L1264.3,-16.0 L1263.6,-12.1 Z" fill="#000" stroke="#000" stroke-width="2.8" stroke-linejoin="round"/>
<path d="M1207.6,12.1 L1207.1,7.9 L1263.1,7.9 L1263.6,12.1 Z" fill="#000" stroke="#000" stroke-width="2.8" stroke-linejoin="round"/>
<path d="M1209.1,19.3 L1205.5,22.0 L1261.5,22.0 L1265.1,19.3 Z" fill="#fff" stroke="#000" stroke-width="2.8" stroke-linejoin="round"/>
<path d="M1208.3,-16.0 L1205.2,-20.7 L1261.2,-20.7 L1264.3,-16.0 Z" fill="#fff" stroke="#000" stroke-width="2.8" stroke-linejoin="round"/>
<path d="M1206.7,0.0 L1206.8,-4.3 L1262.8,-4.3 L1262.7,0.0 Z" fill="#000" stroke="#000" stroke-width="2.8" stroke-linejoin="round"/>
<path d="M1205.2,-20.7 L1206.7,-26.4 L1262.7,-26.4 L1261.2,-20.7 Z" fill="#fff" stroke="#000" stroke-width="2.8" stroke-linejoin="round"/>
<path d="M1204.2,15.9 L1207.6,12.1 L1263.6,12.1 L1260.2,15.9 Z" fill="#fff" stroke="#000" stroke-width="2.8" stroke-linejoin="round"/>
<path d="M1203.8,-13.1 L1207.6,-12.1 L1263.6,-12.1 L1259.8,-13.1 Z" fill="#fff" stroke="#000" stroke-width="2.8" stroke-linejoin="round"/>
<path d="M1207.1,7.9 L1203.2,8.1 L1259.2,8.1 L1263.1,7.9 Z" fill="#fff" stroke="#000" stroke-width="2.8" stroke-linejoin="round"/>
<path d="M1206.8,-4.3 L1203.1,-6.6 L1259.1,-6.6 L1262.8,-4.3 Z" fill="#fff" stroke="#000" stroke-width="2.8" stroke-linejoin="round"/>
<path d="M1205.5,22.0 L1204.2,15.9 L1260.2,15.9 L1261.5,22.0 Z" fill="#fff" stroke="#000" stroke-width="2.8" stroke-linejoin="round"/>
<path d="M1202.9,1.5 L1206.7,0.0 L1262.7,0.0 L1258.9,1.5 Z" fill="#fff" stroke="#000" stroke-width="2.8" stroke-linejoin="round"/>
<path d="M1203.1,-6.6 L1203.8,-13.1 L1259.8,-13.1 L1259.1,-6.6 Z" fill="#fff" stroke="#000" stroke-width="2.8" stroke-linejoin="round"/>
<path d="M1203.2,8.1 L1202.9,1.5 L1258.9,1.5 L1259.2,8.1 Z" fill="#fff" stroke="#000" stroke-width="2.8" stroke-linejoin="round"/></g>
<ellipse cx="1214.0" cy="0.0" rx="36.7" ry="78.0" fill="none" stroke="#000" stroke-width="3.0"/>
<ellipse cx="1218.0" cy="0.0" rx="34.3" ry="73.0" fill="none" stroke="#000" stroke-width="1.6"/>
<path d="M1296.9,-19.2 L1309.9,-19.2 A4.7,10.0 0 0 1 1309.9,0.8 L1296.9,0.8 A4.7,10.0 0 0 1 1296.9,-19.2 Z" fill="#fff" stroke="#000" stroke-width="2.6"/><ellipse cx="1309.9" cy="-9.2" rx="4.7" ry="10.0" fill="#fff" stroke="#000" stroke-width="2.6"/><ellipse cx="1309.9" cy="-9.2" rx="3.3" ry="7.0" fill="none" stroke="#000" stroke-width="1.2"/>
<path d="M1273.7,54.6 L1286.7,54.6 A4.7,10.0 0 0 1 1286.7,74.6 L1273.7,74.6 A4.7,10.0 0 0 1 1273.7,54.6 Z" fill="#fff" stroke="#000" stroke-width="2.6"/><ellipse cx="1286.7" cy="64.6" rx="4.7" ry="10.0" fill="#fff" stroke="#000" stroke-width="2.6"/><ellipse cx="1286.7" cy="64.6" rx="3.3" ry="7.0" fill="none" stroke="#000" stroke-width="1.2"/>
<path d="M1278.1,-75.5 L1291.1,-75.5 A4.7,10.0 0 0 1 1291.1,-55.5 L1278.1,-55.5 A4.7,10.0 0 0 1 1278.1,-75.5 Z" fill="#fff" stroke="#000" stroke-width="2.6"/><ellipse cx="1291.1" cy="-65.5" rx="4.7" ry="10.0" fill="#fff" stroke="#000" stroke-width="2.6"/><ellipse cx="1291.1" cy="-65.5" rx="3.3" ry="7.0" fill="none" stroke="#000" stroke-width="1.2"/>
<path d="M1364.4,1.0 L1364.3,4.2 L1364.1,7.3 L1363.8,10.4 L1363.4,13.4 L1362.9,16.3 L1362.3,19.2 L1361.6,21.9 L1360.8,24.5 L1359.9,26.9 L1358.9,29.2 L1357.9,31.3 L1356.7,33.3 L1355.6,35.0 L1354.3,36.6 L1353.0,37.9 L1351.7,39.0 L1350.4,39.8 L1349.0,40.5 L1347.6,40.8 L1346.2,41.0 L1344.7,40.9 L1343.3,40.6 L1342.0,40.0 L1340.6,39.2 L1339.3,38.1 L1338.0,36.9 L1336.7,35.4 L1335.5,33.7 L1334.4,31.8 L1333.3,29.7 L1332.3,27.5 L1331.4,25.1 L1330.6,22.5 L1329.9,19.8 L1329.3,17.0 L1328.7,14.1 L1328.3,11.1 L1328.0,8.0 L1327.7,4.9 L1327.6,1.7 L1327.6,-1.4 L1327.7,-4.5 L1327.9,-7.7 L1328.3,-10.7 L1328.7,-13.7 L1329.2,-16.7 L1329.8,-19.5 L1330.5,-22.2 L1331.3,-24.8 L1332.2,-27.2 L1333.2,-29.5 L1334.3,-31.6 L1335.4,-33.5 L1336.6,-35.2 L1337.8,-36.7 L1339.1,-38.0 L1340.4,-39.1 L1341.8,-39.9 L1343.2,-40.5 L1344.6,-40.9 L1346.0,-41.0 L1347.4,-40.9 L1348.8,-40.5 L1350.2,-39.9 L1351.6,-39.1 L1352.9,-38.0 L1354.2,-36.7 L1355.4,-35.2 L1356.6,-33.5 L1357.7,-31.6 L1358.8,-29.5 L1359.8,-27.2 L1362.8,-27.2 L1361.8,-29.5 L1360.7,-31.6 L1359.6,-33.5 L1358.4,-35.2 L1357.2,-36.7 L1355.9,-38.0 L1354.6,-39.1 L1353.2,-39.9 L1351.8,-40.5 L1350.4,-40.9 L1349.0,-41.0 L1347.6,-40.9 L1346.2,-40.5 L1344.8,-39.9 L1343.4,-39.1 L1342.1,-38.0 L1340.8,-36.7 L1339.6,-35.2 L1338.4,-33.5 L1337.3,-31.6 L1336.2,-29.5 L1335.2,-27.2 L1334.3,-24.8 L1333.5,-22.2 L1332.8,-19.5 L1332.2,-16.7 L1331.7,-13.7 L1331.3,-10.7 L1330.9,-7.7 L1330.7,-4.5 L1330.6,-1.4 L1330.6,1.7 L1330.7,4.9 L1331.0,8.0 L1331.3,11.1 L1331.7,14.1 L1332.3,17.0 L1332.9,19.8 L1333.6,22.5 L1334.4,25.1 L1335.3,27.5 L1336.3,29.7 L1337.4,31.8 L1338.5,33.7 L1339.7,35.4 L1341.0,36.9 L1342.3,38.1 L1343.6,39.2 L1345.0,40.0 L1346.3,40.6 L1347.7,40.9 L1349.2,41.0 L1350.6,40.8 L1352.0,40.5 L1353.4,39.8 L1354.7,39.0 L1356.0,37.9 L1357.3,36.6 L1358.6,35.0 L1359.7,33.3 L1360.9,31.3 L1361.9,29.2 L1362.9,26.9 L1363.8,24.5 L1364.6,21.9 L1365.3,19.2 L1365.9,16.3 L1366.4,13.4 L1366.8,10.4 L1367.1,7.3 L1367.3,4.2 L1367.4,1.0 Z" fill="#fff" stroke="#000" stroke-width="2.64" stroke-linejoin="round"/>
<path d="M1367.4,1.0 L1367.3,4.2 L1367.1,7.3 L1366.8,10.4 L1366.4,13.4 L1365.9,16.3 L1365.3,19.2 L1364.6,21.9 L1363.8,24.5 L1362.9,26.9 L1361.9,29.2 L1360.9,31.3 L1359.7,33.3 L1358.6,35.0 L1357.3,36.6 L1356.0,37.9 L1354.7,39.0 L1353.4,39.8 L1352.0,40.5 L1350.6,40.8 L1349.2,41.0 L1347.7,40.9 L1346.3,40.6 L1345.0,40.0 L1343.6,39.2 L1342.3,38.1 L1341.0,36.9 L1339.7,35.4 L1338.5,33.7 L1337.4,31.8 L1336.3,29.7 L1335.3,27.5 L1334.4,25.1 L1333.6,22.5 L1332.9,19.8 L1332.3,17.0 L1331.7,14.1 L1331.3,11.1 L1331.0,8.0 L1330.7,4.9 L1330.6,1.7 L1330.6,-1.4 L1330.7,-4.5 L1330.9,-7.7 L1331.3,-10.7 L1331.7,-13.7 L1332.2,-16.7 L1332.8,-19.5 L1333.5,-22.2 L1334.3,-24.8 L1335.2,-27.2 L1336.2,-29.5 L1337.3,-31.6 L1338.4,-33.5 L1339.6,-35.2 L1340.8,-36.7 L1342.1,-38.0 L1343.4,-39.1 L1344.8,-39.9 L1346.2,-40.5 L1347.6,-40.9 L1349.0,-41.0 L1350.4,-40.9 L1351.8,-40.5 L1353.2,-39.9 L1354.6,-39.1 L1355.9,-38.0 L1357.2,-36.7 L1358.4,-35.2 L1359.6,-33.5 L1360.7,-31.6 L1361.8,-29.5 L1362.8,-27.2 L1360.8,-23.2 L1359.9,-25.2 L1359.0,-26.9 L1358.1,-28.6 L1357.1,-30.0 L1356.0,-31.3 L1354.9,-32.4 L1353.8,-33.4 L1352.6,-34.1 L1351.4,-34.6 L1350.2,-34.9 L1349.0,-35.0 L1347.8,-34.9 L1346.6,-34.6 L1345.4,-34.1 L1344.3,-33.4 L1343.1,-32.5 L1342.0,-31.4 L1341.0,-30.1 L1340.0,-28.6 L1339.0,-27.0 L1338.1,-25.2 L1337.3,-23.2 L1336.5,-21.2 L1335.8,-19.0 L1335.2,-16.6 L1334.7,-14.2 L1334.2,-11.7 L1333.8,-9.2 L1333.6,-6.5 L1333.4,-3.9 L1333.3,-1.2 L1333.3,1.5 L1333.4,4.2 L1333.6,6.8 L1333.9,9.4 L1334.3,12.0 L1334.7,14.5 L1335.3,16.9 L1335.9,19.2 L1336.6,21.4 L1337.3,23.5 L1338.2,25.4 L1339.1,27.2 L1340.1,28.8 L1341.1,30.2 L1342.1,31.5 L1343.2,32.6 L1344.4,33.5 L1345.5,34.1 L1346.7,34.6 L1347.9,34.9 L1349.1,35.0 L1350.3,34.9 L1351.5,34.5 L1352.7,34.0 L1353.9,33.3 L1355.0,32.3 L1356.1,31.2 L1357.2,29.9 L1358.2,28.4 L1359.1,26.8 L1360.0,24.9 L1360.8,23.0 L1361.6,20.9 L1362.3,18.7 L1362.9,16.4 L1363.4,13.9 L1363.8,11.4 L1364.2,8.8 L1364.4,6.2 L1364.6,3.6 L1364.7,0.9 Z" fill="#fff" stroke="#000" stroke-width="3.3" stroke-linejoin="round"/>
<path d="M1366.0,4.0 L1365.8,6.8 L1365.5,9.6 L1365.1,12.3 L1364.7,14.9 L1364.1,17.5 L1363.5,20.0 L1362.8,22.3 L1362.0,24.5 L1361.2,26.6 L1360.2,28.6 L1359.2,30.4 L1358.2,32.0 L1357.1,33.4 L1356.0,34.7 L1354.8,35.7 L1353.6,36.6 L1352.3,37.3 L1351.1,37.7 L1349.8,38.0 L1348.5,38.0 L1347.3,37.8 L1346.0,37.4 L1344.8,36.8 L1343.6,36.0 L1342.4,35.0 L1341.2,33.8 L1340.1,32.4 L1339.0,30.8 L1338.0,29.1 L1337.1,27.2 L1336.2,25.1 L1335.4,23.0 L1334.7,20.6 L1334.0,18.2 L1333.5,15.7 L1333.0,13.0 L1332.6,10.3 L1332.3,7.6 L1332.1,4.8 L1332.0,2.0 L1332.0,-0.9 L1332.0,-3.7 L1332.2,-6.5 L1332.5,-9.3 L1332.8,-12.0 L1333.3,-14.7 L1333.8,-17.2 L1334.4,-19.7 L1335.1,-22.1 L1335.9,-24.3 L1336.8,-26.4 L1337.7,-28.4 L1338.7,-30.2 L1339.7,-31.8 L1340.8,-33.3 L1341.9,-34.6 L1343.1,-35.6 L1344.3,-36.5 L1345.5,-37.2 L1346.8,-37.7 L1348.1,-37.9 L1349.3,-38.0 L1350.6,-37.8 L1351.9,-37.5 L1353.1,-36.9 L1354.3,-36.1 L1355.5,-35.1 L1356.7,-33.9 L1357.8,-32.6 L1358.9,-31.0 L1359.9,-29.3 L1360.8,-27.4" fill="none" stroke="#000" stroke-width="1.1549999999999998" stroke-linejoin="round"/>
<path d="M1391.0,-49.0 L1394.0,-49.0 A21.8,49.0 0 0 1 1394.0,49.0 L1391.0,49.0 A21.8,49.0 0 0 1 1391.0,-49.0 Z" fill="#fff" stroke="#000" stroke-width="3.3"/>
<ellipse cx="1394.0" cy="0.0" rx="21.8" ry="49.0" fill="#fff" stroke="#000" stroke-width="3.3"/>
<ellipse cx="1394.0" cy="0.0" rx="20.4" ry="46.0" fill="none" stroke="#000" stroke-width="1.4849999999999999"/>
<ellipse cx="1394.0" cy="0.0" rx="18.7" ry="42.0" fill="#fff" stroke="#000" stroke-width="3.3"/>
<g transform="translate(1.5,3.5)">
<path d="M1515.3,-42.1 L1523.1,-45.2 L1553.1,-45.2 L1545.3,-42.1 Z" fill="#fff" stroke="#000" stroke-width="3.1" stroke-linejoin="round"/>
<path d="M1522.2,50.4 L1514.5,46.4 L1544.5,46.4 L1552.2,50.4 Z" fill="#fff" stroke="#000" stroke-width="3.1" stroke-linejoin="round"/>
<path d="M1510.2,-62.9 L1517.5,-70.0 L1547.5,-70.0 L1540.2,-62.9 Z" fill="#fff" stroke="#000" stroke-width="3.1" stroke-linejoin="round"/>
<path d="M1516.1,74.6 L1509.0,66.7 L1539.0,66.7 L1546.1,74.6 Z" fill="#fff" stroke="#000" stroke-width="3.1" stroke-linejoin="round"/>
<path d="M1503.3,-80.6 L1509.7,-91.3 L1539.7,-91.3 L1533.3,-80.6 Z" fill="#fff" stroke="#000" stroke-width="3.1" stroke-linejoin="round"/>
<path d="M1507.9,95.1 L1501.7,83.7 L1531.7,83.7 L1537.9,95.1 Z" fill="#fff" stroke="#000" stroke-width="3.1" stroke-linejoin="round"/>
<path d="M1494.8,-94.2 L1500.0,-108.0 L1530.0,-108.0 L1524.8,-94.2 Z" fill="#fff" stroke="#000" stroke-width="3.1" stroke-linejoin="round"/>
<path d="M1497.9,110.7 L1493.0,96.4 L1523.0,96.4 L1527.9,110.7 Z" fill="#fff" stroke="#000" stroke-width="3.1" stroke-linejoin="round"/>
<path d="M1485.2,-103.1 L1489.0,-119.3 L1519.0,-119.3 L1515.2,-103.1 Z" fill="#fff" stroke="#000" stroke-width="3.1" stroke-linejoin="round"/>
<path d="M1486.7,120.9 L1483.2,104.3 L1513.2,104.3 L1516.7,120.9 Z" fill="#fff" stroke="#000" stroke-width="3.1" stroke-linejoin="round"/>
<path d="M1475.1,-106.9 L1477.2,-124.6 L1507.2,-124.6 L1505.1,-106.9 Z" fill="#fff" stroke="#000" stroke-width="3.1" stroke-linejoin="round"/>
<path d="M1474.8,124.9 L1473.0,107.0 L1503.0,107.0 L1504.8,124.9 Z" fill="#fff" stroke="#000" stroke-width="3.1" stroke-linejoin="round"/>
<path d="M1473.0,107.0 L1472.0,107.0 L1502.0,107.0 L1503.0,107.0 Z" fill="#000" stroke="#000" stroke-width="3.1" stroke-linejoin="round"/>
<path d="M1471.2,-124.9 L1473.0,-107.0 L1503.0,-107.0 L1501.2,-124.9 Z" fill="#fff" stroke="#000" stroke-width="3.1" stroke-linejoin="round"/>
<path d="M1472.0,107.0 L1470.9,106.9 L1500.9,106.9 L1502.0,107.0 Z" fill="#000" stroke="#000" stroke-width="3.1" stroke-linejoin="round"/>
<path d="M1470.9,106.9 L1468.8,124.6 L1498.8,124.6 L1500.9,106.9 Z" fill="#fff" stroke="#000" stroke-width="3.1" stroke-linejoin="round"/>
<path d="M1468.2,-124.5 L1471.2,-124.9 L1501.2,-124.9 L1498.2,-124.5 Z" fill="#fff" stroke="#000" stroke-width="3.1" stroke-linejoin="round"/>
<path d="M1468.8,124.6 L1465.8,123.9 L1495.8,123.9 L1498.8,124.6 Z" fill="#fff" stroke="#000" stroke-width="3.1" stroke-linejoin="round"/>
<path d="M1465.2,-123.7 L1468.2,-124.5 L1498.2,-124.5 L1495.2,-123.7 Z" fill="#fff" stroke="#000" stroke-width="3.1" stroke-linejoin="round"/>
<path d="M1464.8,-105.3 L1465.2,-123.7 L1495.2,-123.7 L1494.8,-105.3 Z" fill="#fff" stroke="#000" stroke-width="3.1" stroke-linejoin="round"/>
<path d="M1465.8,123.9 L1462.8,122.7 L1492.8,122.7 L1495.8,123.9 Z" fill="#fff" stroke="#000" stroke-width="3.1" stroke-linejoin="round"/>
<path d="M1463.8,-104.8 L1464.8,-105.3 L1494.8,-105.3 L1493.8,-104.8 Z" fill="#000" stroke="#000" stroke-width="3.1" stroke-linejoin="round"/>
<path d="M1462.8,-104.3 L1463.8,-104.8 L1493.8,-104.8 L1492.8,-104.3 Z" fill="#000" stroke="#000" stroke-width="3.1" stroke-linejoin="round"/>
<path d="M1462.8,122.7 L1462.8,104.3 L1492.8,104.3 L1492.8,122.7 Z" fill="#fff" stroke="#000" stroke-width="3.1" stroke-linejoin="round"/>
<path d="M1462.8,104.3 L1461.8,103.8 L1491.8,103.8 L1492.8,104.3 Z" fill="#000" stroke="#000" stroke-width="3.1" stroke-linejoin="round"/>
<path d="M1461.8,103.8 L1460.8,103.1 L1490.8,103.1 L1491.8,103.8 Z" fill="#000" stroke="#000" stroke-width="3.1" stroke-linejoin="round"/>
<path d="M1459.3,-120.9 L1462.8,-104.3 L1492.8,-104.3 L1489.3,-120.9 Z" fill="#fff" stroke="#000" stroke-width="3.1" stroke-linejoin="round"/>
<path d="M1460.8,103.1 L1457.0,119.3 L1487.0,119.3 L1490.8,103.1 Z" fill="#fff" stroke="#000" stroke-width="3.1" stroke-linejoin="round"/>
<path d="M1456.4,-118.9 L1459.3,-120.9 L1489.3,-120.9 L1486.4,-118.9 Z" fill="#fff" stroke="#000" stroke-width="3.1" stroke-linejoin="round"/>
<path d="M1457.0,119.3 L1454.1,117.0 L1484.1,117.0 L1487.0,119.3 Z" fill="#fff" stroke="#000" stroke-width="3.1" stroke-linejoin="round"/>
<path d="M1453.6,-116.5 L1456.4,-118.9 L1486.4,-118.9 L1483.6,-116.5 Z" fill="#fff" stroke="#000" stroke-width="3.1" stroke-linejoin="round"/>
<path d="M1454.0,-97.4 L1454.9,-98.4 L1484.9,-98.4 L1484.0,-97.4 Z" fill="#000" stroke="#000" stroke-width="3.1" stroke-linejoin="round"/>
<path d="M1454.9,-98.4 L1453.6,-116.5 L1483.6,-116.5 L1484.9,-98.4 Z" fill="#fff" stroke="#000" stroke-width="3.1" stroke-linejoin="round"/>
<path d="M1453.0,-96.4 L1454.0,-97.4 L1484.0,-97.4 L1483.0,-96.4 Z" fill="#000" stroke="#000" stroke-width="3.1" stroke-linejoin="round"/>
<path d="M1454.1,117.0 L1451.3,114.4 L1481.3,114.4 L1484.1,117.0 Z" fill="#fff" stroke="#000" stroke-width="3.1" stroke-linejoin="round"/>
<path d="M1453.0,96.4 L1452.1,95.3 L1482.1,95.3 L1483.0,96.4 Z" fill="#000" stroke="#000" stroke-width="3.1" stroke-linejoin="round"/>
<path d="M1451.3,114.4 L1453.0,96.4 L1483.0,96.4 L1481.3,114.4 Z" fill="#fff" stroke="#000" stroke-width="3.1" stroke-linejoin="round"/>
<path d="M1452.1,95.3 L1451.2,94.2 L1481.2,94.2 L1482.1,95.3 Z" fill="#000" stroke="#000" stroke-width="3.1" stroke-linejoin="round"/>
<path d="M1448.1,-110.7 L1453.0,-96.4 L1483.0,-96.4 L1478.1,-110.7 Z" fill="#fff" stroke="#000" stroke-width="3.1" stroke-linejoin="round"/>
<path d="M1451.2,94.2 L1446.0,108.0 L1476.0,108.0 L1481.2,94.2 Z" fill="#fff" stroke="#000" stroke-width="3.1" stroke-linejoin="round"/>
<path d="M1445.4,-107.3 L1448.1,-110.7 L1478.1,-110.7 L1475.4,-107.3 Z" fill="#fff" stroke="#000" stroke-width="3.1" stroke-linejoin="round"/>
<path d="M1445.1,-85.1 L1446.0,-86.6 L1476.0,-86.6 L1475.1,-85.1 Z" fill="#000" stroke="#000" stroke-width="3.1" stroke-linejoin="round"/>
<path d="M1444.3,-83.7 L1445.1,-85.1 L1475.1,-85.1 L1474.3,-83.7 Z" fill="#000" stroke="#000" stroke-width="3.1" stroke-linejoin="round"/>
<path d="M1446.0,108.0 L1443.4,104.3 L1473.4,104.3 L1476.0,108.0 Z" fill="#fff" stroke="#000" stroke-width="3.1" stroke-linejoin="round"/>
<path d="M1446.0,-86.6 L1442.9,-103.5 L1472.9,-103.5 L1476.0,-86.6 Z" fill="#fff" stroke="#000" stroke-width="3.1" stroke-linejoin="round"/>
<path d="M1442.9,-103.5 L1445.4,-107.3 L1475.4,-107.3 L1472.9,-103.5 Z" fill="#fff" stroke="#000" stroke-width="3.1" stroke-linejoin="round"/>
<path d="M1444.3,83.7 L1443.5,82.1 L1473.5,82.1 L1474.3,83.7 Z" fill="#000" stroke="#000" stroke-width="3.1" stroke-linejoin="round"/>
<path d="M1443.5,82.1 L1442.7,80.6 L1472.7,80.6 L1473.5,82.1 Z" fill="#000" stroke="#000" stroke-width="3.1" stroke-linejoin="round"/>
<path d="M1440.9,100.3 L1444.3,83.7 L1474.3,83.7 L1470.9,100.3 Z" fill="#fff" stroke="#000" stroke-width="3.1" stroke-linejoin="round"/>
<path d="M1443.4,104.3 L1440.9,100.3 L1470.9,100.3 L1473.4,104.3 Z" fill="#fff" stroke="#000" stroke-width="3.1" stroke-linejoin="round"/>
<path d="M1438.1,-95.1 L1444.3,-83.7 L1474.3,-83.7 L1468.1,-95.1 Z" fill="#fff" stroke="#000" stroke-width="3.1" stroke-linejoin="round"/>
<path d="M1442.7,80.6 L1436.3,91.3 L1466.3,91.3 L1472.7,80.6 Z" fill="#fff" stroke="#000" stroke-width="3.1" stroke-linejoin="round"/>
<path d="M1437.7,-68.6 L1438.4,-70.4 L1468.4,-70.4 L1467.7,-68.6 Z" fill="#000" stroke="#000" stroke-width="3.1" stroke-linejoin="round"/>
<path d="M1437.0,-66.7 L1437.7,-68.6 L1467.7,-68.6 L1467.0,-66.7 Z" fill="#000" stroke="#000" stroke-width="3.1" stroke-linejoin="round"/>
<path d="M1435.9,-90.3 L1438.1,-95.1 L1468.1,-95.1 L1465.9,-90.3 Z" fill="#fff" stroke="#000" stroke-width="3.1" stroke-linejoin="round"/>
<path d="M1437.0,66.7 L1436.4,64.8 L1466.4,64.8 L1467.0,66.7 Z" fill="#000" stroke="#000" stroke-width="3.1" stroke-linejoin="round"/>
<path d="M1436.4,64.8 L1435.8,62.9 L1465.8,62.9 L1466.4,64.8 Z" fill="#000" stroke="#000" stroke-width="3.1" stroke-linejoin="round"/>
<path d="M1438.4,-70.4 L1433.7,-85.4 L1463.7,-85.4 L1468.4,-70.4 Z" fill="#fff" stroke="#000" stroke-width="3.1" stroke-linejoin="round"/>
<path d="M1436.3,91.3 L1434.1,86.4 L1464.1,86.4 L1466.3,91.3 Z" fill="#fff" stroke="#000" stroke-width="3.1" stroke-linejoin="round"/>
<path d="M1433.7,-85.4 L1435.9,-90.3 L1465.9,-90.3 L1463.7,-85.4 Z" fill="#fff" stroke="#000" stroke-width="3.1" stroke-linejoin="round"/>
<path d="M1432.1,81.2 L1437.0,66.7 L1467.0,66.7 L1462.1,81.2 Z" fill="#fff" stroke="#000" stroke-width="3.1" stroke-linejoin="round"/>
<path d="M1429.9,-74.6 L1437.0,-66.7 L1467.0,-66.7 L1459.9,-74.6 Z" fill="#fff" stroke="#000" stroke-width="3.1" stroke-linejoin="round"/>
<path d="M1434.1,86.4 L1432.1,81.2 L1462.1,81.2 L1464.1,86.4 Z" fill="#fff" stroke="#000" stroke-width="3.1" stroke-linejoin="round"/>
<path d="M1432.0,-48.6 L1432.5,-50.7 L1462.5,-50.7 L1462.0,-48.6 Z" fill="#000" stroke="#000" stroke-width="3.1" stroke-linejoin="round"/>
<path d="M1435.8,62.9 L1428.5,70.0 L1458.5,70.0 L1465.8,62.9 Z" fill="#fff" stroke="#000" stroke-width="3.1" stroke-linejoin="round"/>
<path d="M1431.5,-46.4 L1432.0,-48.6 L1462.0,-48.6 L1461.5,-46.4 Z" fill="#000" stroke="#000" stroke-width="3.1" stroke-linejoin="round"/>
<path d="M1431.5,46.4 L1431.1,44.3 L1461.1,44.3 L1461.5,46.4 Z" fill="#000" stroke="#000" stroke-width="3.1" stroke-linejoin="round"/>
<path d="M1431.1,44.3 L1430.7,42.1 L1460.7,42.1 L1461.1,44.3 Z" fill="#000" stroke="#000" stroke-width="3.1" stroke-linejoin="round"/>
<path d="M1432.5,-50.7 L1426.6,-62.9 L1456.6,-62.9 L1462.5,-50.7 Z" fill="#fff" stroke="#000" stroke-width="3.1" stroke-linejoin="round"/>
<path d="M1428.1,-68.9 L1429.9,-74.6 L1459.9,-74.6 L1458.1,-68.9 Z" fill="#fff" stroke="#000" stroke-width="3.1" stroke-linejoin="round"/>
<path d="M1428.4,-26.1 L1428.6,-28.5 L1458.6,-28.5 L1458.4,-26.1 Z" fill="#000" stroke="#000" stroke-width="3.1" stroke-linejoin="round"/>
<path d="M1425.4,58.0 L1431.5,46.4 L1461.5,46.4 L1455.4,58.0 Z" fill="#fff" stroke="#000" stroke-width="3.1" stroke-linejoin="round"/>
<path d="M1428.1,-23.8 L1428.4,-26.1 L1458.4,-26.1 L1458.1,-23.8 Z" fill="#000" stroke="#000" stroke-width="3.1" stroke-linejoin="round"/>
<path d="M1428.1,23.8 L1427.9,21.5 L1457.9,21.5 L1458.1,23.8 Z" fill="#000" stroke="#000" stroke-width="3.1" stroke-linejoin="round"/>
<path d="M1427.9,21.5 L1427.7,19.1 L1457.7,19.1 L1457.9,21.5 Z" fill="#000" stroke="#000" stroke-width="3.1" stroke-linejoin="round"/>
<path d="M1423.8,-50.4 L1431.5,-46.4 L1461.5,-46.4 L1453.8,-50.4 Z" fill="#fff" stroke="#000" stroke-width="3.1" stroke-linejoin="round"/>
<path d="M1428.5,70.0 L1426.9,64.1 L1456.9,64.1 L1458.5,70.0 Z" fill="#fff" stroke="#000" stroke-width="3.1" stroke-linejoin="round"/>
<path d="M1426.6,-62.9 L1428.1,-68.9 L1458.1,-68.9 L1456.6,-62.9 Z" fill="#fff" stroke="#000" stroke-width="3.1" stroke-linejoin="round"/>
<path d="M1427.0,-2.4 L1427.0,-4.8 L1457.0,-4.8 L1457.0,-2.4 Z" fill="#000" stroke="#000" stroke-width="3.1" stroke-linejoin="round"/>
<path d="M1427.0,0.0 L1427.0,-2.4 L1457.0,-2.4 L1457.0,0.0 Z" fill="#000" stroke="#000" stroke-width="3.1" stroke-linejoin="round"/>
<path d="M1430.7,42.1 L1422.9,45.2 L1452.9,45.2 L1460.7,42.1 Z" fill="#fff" stroke="#000" stroke-width="3.1" stroke-linejoin="round"/>
<path d="M1426.9,64.1 L1425.4,58.0 L1455.4,58.0 L1456.9,64.1 Z" fill="#fff" stroke="#000" stroke-width="3.1" stroke-linejoin="round"/>
<path d="M1428.6,-28.5 L1421.7,-37.3 L1451.7,-37.3 L1458.6,-28.5 Z" fill="#fff" stroke="#000" stroke-width="3.1" stroke-linejoin="round"/>
<path d="M1421.0,31.9 L1428.1,23.8 L1458.1,23.8 L1451.0,31.9 Z" fill="#fff" stroke="#000" stroke-width="3.1" stroke-linejoin="round"/>
<path d="M1420.2,-23.7 L1428.1,-23.8 L1458.1,-23.8 L1450.2,-23.7 Z" fill="#fff" stroke="#000" stroke-width="3.1" stroke-linejoin="round"/>
<path d="M1427.7,19.1 L1419.8,18.2 L1449.8,18.2 L1457.7,19.1 Z" fill="#fff" stroke="#000" stroke-width="3.1" stroke-linejoin="round"/>
<path d="M1422.7,-43.9 L1423.8,-50.4 L1453.8,-50.4 L1452.7,-43.9 Z" fill="#fff" stroke="#000" stroke-width="3.1" stroke-linejoin="round"/>
<path d="M1427.0,-4.8 L1419.4,-9.8 L1449.4,-9.8 L1457.0,-4.8 Z" fill="#fff" stroke="#000" stroke-width="3.1" stroke-linejoin="round"/>
<path d="M1419.3,4.2 L1427.0,0.0 L1457.0,0.0 L1449.3,4.2 Z" fill="#fff" stroke="#000" stroke-width="3.1" stroke-linejoin="round"/>
<path d="M1422.9,45.2 L1421.9,38.6 L1451.9,38.6 L1452.9,45.2 Z" fill="#fff" stroke="#000" stroke-width="3.1" stroke-linejoin="round"/>
<path d="M1421.7,-37.3 L1422.7,-43.9 L1452.7,-43.9 L1451.7,-37.3 Z" fill="#fff" stroke="#000" stroke-width="3.1" stroke-linejoin="round"/>
<path d="M1421.9,38.6 L1421.0,31.9 L1451.0,31.9 L1451.9,38.6 Z" fill="#fff" stroke="#000" stroke-width="3.1" stroke-linejoin="round"/>
<path d="M1419.7,-16.8 L1420.2,-23.7 L1450.2,-23.7 L1449.7,-16.8 Z" fill="#fff" stroke="#000" stroke-width="3.1" stroke-linejoin="round"/>
<path d="M1419.8,18.2 L1419.5,11.2 L1449.5,11.2 L1449.8,18.2 Z" fill="#fff" stroke="#000" stroke-width="3.1" stroke-linejoin="round"/>
<path d="M1419.4,-9.8 L1419.7,-16.8 L1449.7,-16.8 L1449.4,-9.8 Z" fill="#fff" stroke="#000" stroke-width="3.1" stroke-linejoin="round"/>
<path d="M1419.5,11.2 L1419.3,4.2 L1449.3,4.2 L1449.5,11.2 Z" fill="#fff" stroke="#000" stroke-width="3.1" stroke-linejoin="round"/>
<path d="M1549.0,0.0 L1549.0,2.4 L1549.0,4.8 L1556.6,9.8 L1556.3,16.8 L1555.8,23.7 L1547.9,23.8 L1547.6,26.1 L1547.4,28.5 L1554.3,37.3 L1553.3,43.9 L1552.2,50.4 L1544.5,46.4 L1544.0,48.6 L1543.5,50.7 L1549.4,62.9 L1547.9,68.9 L1546.1,74.6 L1539.0,66.7 L1538.3,68.6 L1537.6,70.4 L1542.3,85.4 L1540.1,90.3 L1537.9,95.1 L1531.7,83.7 L1530.9,85.1 L1530.0,86.6 L1533.1,103.5 L1530.6,107.3 L1527.9,110.7 L1523.0,96.4 L1522.0,97.4 L1521.1,98.4 L1522.4,116.5 L1519.6,118.9 L1516.7,120.9 L1513.2,104.3 L1512.2,104.8 L1511.2,105.3 L1510.8,123.7 L1507.8,124.5 L1504.8,124.9 L1503.0,107.0 L1502.0,107.0 L1500.9,106.9 L1498.8,124.6 L1495.8,123.9 L1492.8,122.7 L1492.8,104.3 L1491.8,103.8 L1490.8,103.1 L1487.0,119.3 L1484.1,117.0 L1481.3,114.4 L1483.0,96.4 L1482.1,95.3 L1481.2,94.2 L1476.0,108.0 L1473.4,104.3 L1470.9,100.3 L1474.3,83.7 L1473.5,82.1 L1472.7,80.6 L1466.3,91.3 L1464.1,86.4 L1462.1,81.2 L1467.0,66.7 L1466.4,64.8 L1465.8,62.9 L1458.5,70.0 L1456.9,64.1 L1455.4,58.0 L1461.5,46.4 L1461.1,44.3 L1460.7,42.1 L1452.9,45.2 L1451.9,38.6 L1451.0,31.9 L1458.1,23.8 L1457.9,21.5 L1457.7,19.1 L1449.8,18.2 L1449.5,11.2 L1449.3,4.2 L1457.0,0.0 L1457.0,-2.4 L1457.0,-4.8 L1449.4,-9.8 L1449.7,-16.8 L1450.2,-23.7 L1458.1,-23.8 L1458.4,-26.1 L1458.6,-28.5 L1451.7,-37.3 L1452.7,-43.9 L1453.8,-50.4 L1461.5,-46.4 L1462.0,-48.6 L1462.5,-50.7 L1456.6,-62.9 L1458.1,-68.9 L1459.9,-74.6 L1467.0,-66.7 L1467.7,-68.6 L1468.4,-70.4 L1463.7,-85.4 L1465.9,-90.3 L1468.1,-95.1 L1474.3,-83.7 L1475.1,-85.1 L1476.0,-86.6 L1472.9,-103.5 L1475.4,-107.3 L1478.1,-110.7 L1483.0,-96.4 L1484.0,-97.4 L1484.9,-98.4 L1483.6,-116.5 L1486.4,-118.9 L1489.3,-120.9 L1492.8,-104.3 L1493.8,-104.8 L1494.8,-105.3 L1495.2,-123.7 L1498.2,-124.5 L1501.2,-124.9 L1503.0,-107.0 L1504.0,-107.0 L1505.1,-106.9 L1507.2,-124.6 L1510.2,-123.9 L1513.2,-122.7 L1513.2,-104.3 L1514.2,-103.8 L1515.2,-103.1 L1519.0,-119.3 L1521.9,-117.0 L1524.7,-114.4 L1523.0,-96.4 L1523.9,-95.3 L1524.8,-94.2 L1530.0,-108.0 L1532.6,-104.3 L1535.1,-100.3 L1531.7,-83.7 L1532.5,-82.1 L1533.3,-80.6 L1539.7,-91.3 L1541.9,-86.4 L1543.9,-81.2 L1539.0,-66.7 L1539.6,-64.8 L1540.2,-62.9 L1547.5,-70.0 L1549.1,-64.1 L1550.6,-58.0 L1544.5,-46.4 L1544.9,-44.3 L1545.3,-42.1 L1553.1,-45.2 L1554.1,-38.6 L1555.0,-31.9 L1547.9,-23.8 L1548.1,-21.5 L1548.3,-19.1 L1556.2,-18.2 L1556.5,-11.2 L1556.7,-4.2 Z" fill="#fff" stroke="#000" stroke-width="3.3" stroke-linejoin="round"/>
<path d="M1503.0,-104.5 L1505.0,-104.5 A44.9,104.5 0 0 1 1505.0,104.5 L1503.0,104.5 A44.9,104.5 0 0 1 1503.0,-104.5 Z" fill="#fff" stroke="#000" stroke-width="2.6"/>
<ellipse cx="1505.0" cy="0.0" rx="44.9" ry="104.5" fill="#fff" stroke="#000" stroke-width="3.0"/>
<ellipse cx="1505.0" cy="0.0" rx="43.0" ry="100.0" fill="none" stroke="#000" stroke-width="1.3"/>
<ellipse cx="1505.0" cy="0.0" rx="40.6" ry="94.5" fill="#fff" stroke="#000" stroke-width="2.6"/>
<clipPath id="c17"><ellipse cx="1505.0" cy="0" rx="40.6" ry="94.5"/></clipPath><g clip-path="url(#c17)"><path d="M1489.0,-94.5 L1492.2,-94.2 L1495.4,-93.3 L1498.5,-91.9 L1501.6,-89.9 L1504.6,-87.3 L1507.4,-84.2 L1510.2,-80.6 L1512.9,-76.5 L1515.4,-71.9 L1517.7,-66.8 L1519.9,-61.4 L1521.9,-55.5 L1523.6,-49.4 L1525.2,-42.9 L1526.5,-36.2 L1527.6,-29.2 L1528.5,-22.1 L1529.1,-14.8 L1529.5,-7.4 L1529.6,0.0 L1529.5,7.4 L1529.1,14.8 L1528.5,22.1 L1527.6,29.2 L1526.5,36.2 L1525.2,42.9 L1523.6,49.4 L1521.9,55.5 L1519.9,61.4 L1517.7,66.8 L1515.4,71.9 L1512.9,76.5 L1510.2,80.6 L1507.4,84.2 L1504.6,87.3 L1501.6,89.9 L1498.5,91.9 L1495.4,93.3 L1492.2,94.2 L1489.0,94.5" fill="none" stroke="#000" stroke-width="2.4" stroke-linejoin="round"/><path d="M1525.6,31.0 L1524.8,35.6 L1523.9,40.0 L1522.9,44.4 L1521.8,48.6 L1520.7,52.6 L1519.4,56.5 L1518.0,60.3 L1516.6,63.8 L1515.1,67.2 L1513.5,70.4 L1511.8,73.4 L1510.1,76.1 L1503.9,53.8 L1505.1,51.9 L1506.3,49.8 L1507.4,47.5 L1508.5,45.1 L1509.5,42.6 L1510.5,40.0 L1511.4,37.2 L1512.2,34.3 L1513.0,31.4 L1513.7,28.3 L1514.3,25.2 L1514.9,21.9 Z" fill="#fff" stroke="#000" stroke-width="2.6" stroke-linejoin="round"/><path d="M1514.9,35.3 L1514.2,38.8 L1513.4,42.3 L1512.6,45.7 L1511.7,49.0 L1510.7,52.2 L1509.7,55.3 L1508.6,58.3 L1507.5,61.2 L1506.3,63.9 L1505.1,66.5 L1503.8,69.1 L1502.5,71.4 L1496.8,53.3 L1497.7,51.5 L1498.7,49.6 L1499.6,47.7 L1500.5,45.6 L1501.4,43.5 L1502.2,41.2 L1502.9,38.9 L1503.6,36.5 L1504.3,34.1 L1504.9,31.5 L1505.5,29.0 L1506.0,26.3 Z" fill="none" stroke="#000" stroke-width="1.8" stroke-linejoin="round"/><path d="M1495.7,89.1 L1493.6,89.9 L1491.5,90.3 L1489.4,90.5 L1487.3,90.4 L1485.2,90.1 L1483.1,89.5 L1481.1,88.6 L1479.0,87.5 L1477.0,86.1 L1475.0,84.5 L1473.1,82.6 L1471.2,80.5 L1476.4,56.9 L1477.7,58.4 L1479.1,59.7 L1480.5,60.9 L1481.9,61.9 L1483.4,62.7 L1484.9,63.3 L1486.3,63.7 L1487.8,63.9 L1489.3,64.0 L1490.8,63.9 L1492.3,63.5 L1493.8,63.0 Z" fill="#fff" stroke="#000" stroke-width="2.6" stroke-linejoin="round"/><path d="M1484.3,87.9 L1482.6,88.3 L1481.0,88.5 L1479.3,88.5 L1477.6,88.3 L1475.9,88.0 L1474.3,87.5 L1472.6,86.8 L1471.0,86.0 L1469.4,85.0 L1467.8,83.8 L1466.2,82.5 L1464.6,81.0 L1468.5,60.4 L1469.7,61.5 L1470.9,62.5 L1472.1,63.4 L1473.3,64.1 L1474.5,64.7 L1475.7,65.2 L1477.0,65.6 L1478.2,65.9 L1479.5,66.0 L1480.7,66.0 L1482.0,65.8 L1483.2,65.6 Z" fill="none" stroke="#000" stroke-width="1.8" stroke-linejoin="round"/><path d="M1459.2,58.1 L1457.9,54.3 L1456.6,50.3 L1455.5,46.1 L1454.5,41.9 L1453.6,37.5 L1452.8,32.9 L1452.0,28.3 L1451.4,23.6 L1450.9,18.9 L1450.6,14.1 L1450.3,9.2 L1450.1,4.3 L1461.5,3.1 L1461.6,6.5 L1461.8,10.0 L1462.1,13.4 L1462.4,16.7 L1462.9,20.0 L1463.4,23.3 L1463.9,26.5 L1464.6,29.6 L1465.3,32.6 L1466.1,35.6 L1467.0,38.4 L1467.9,41.1 Z" fill="#fff" stroke="#000" stroke-width="2.6" stroke-linejoin="round"/><path d="M1449.4,52.7 L1448.4,49.5 L1447.5,46.2 L1446.7,42.8 L1445.9,39.4 L1445.2,35.8 L1444.6,32.2 L1444.0,28.5 L1443.5,24.8 L1443.0,21.1 L1442.7,17.2 L1442.4,13.4 L1442.2,9.5 L1451.8,7.1 L1451.9,10.0 L1452.2,12.9 L1452.4,15.7 L1452.8,18.5 L1453.1,21.3 L1453.6,24.0 L1454.0,26.7 L1454.6,29.3 L1455.2,31.9 L1455.8,34.4 L1456.5,36.9 L1457.2,39.3 Z" fill="none" stroke="#000" stroke-width="1.8" stroke-linejoin="round"/><path d="M1452.4,-31.0 L1453.2,-35.6 L1454.1,-40.0 L1455.1,-44.4 L1456.2,-48.6 L1457.3,-52.6 L1458.6,-56.5 L1460.0,-60.3 L1461.4,-63.8 L1462.9,-67.2 L1464.5,-70.4 L1466.2,-73.4 L1467.9,-76.1 L1474.1,-53.8 L1472.9,-51.9 L1471.7,-49.8 L1470.6,-47.5 L1469.5,-45.1 L1468.5,-42.6 L1467.5,-40.0 L1466.6,-37.2 L1465.8,-34.3 L1465.0,-31.4 L1464.3,-28.3 L1463.7,-25.2 L1463.1,-21.9 Z" fill="#fff" stroke="#000" stroke-width="2.6" stroke-linejoin="round"/><path d="M1445.1,-35.3 L1445.8,-38.8 L1446.6,-42.3 L1447.4,-45.7 L1448.3,-49.0 L1449.3,-52.2 L1450.3,-55.3 L1451.4,-58.3 L1452.5,-61.2 L1453.7,-63.9 L1454.9,-66.5 L1456.2,-69.1 L1457.5,-71.4 L1463.2,-53.3 L1462.3,-51.5 L1461.3,-49.6 L1460.4,-47.7 L1459.5,-45.6 L1458.6,-43.5 L1457.8,-41.2 L1457.1,-38.9 L1456.4,-36.5 L1455.7,-34.1 L1455.1,-31.5 L1454.5,-29.0 L1454.0,-26.3 Z" fill="none" stroke="#000" stroke-width="1.8" stroke-linejoin="round"/><path d="M1482.3,-89.1 L1484.4,-89.9 L1486.5,-90.3 L1488.6,-90.5 L1490.7,-90.4 L1492.8,-90.1 L1494.9,-89.5 L1496.9,-88.6 L1499.0,-87.5 L1501.0,-86.1 L1503.0,-84.5 L1504.9,-82.6 L1506.8,-80.5 L1501.6,-56.9 L1500.3,-58.4 L1498.9,-59.7 L1497.5,-60.9 L1496.1,-61.9 L1494.6,-62.7 L1493.1,-63.3 L1491.7,-63.7 L1490.2,-63.9 L1488.7,-64.0 L1487.2,-63.9 L1485.7,-63.5 L1484.2,-63.0 Z" fill="#fff" stroke="#000" stroke-width="2.6" stroke-linejoin="round"/><path d="M1475.7,-87.9 L1477.4,-88.3 L1479.0,-88.5 L1480.7,-88.5 L1482.4,-88.3 L1484.1,-88.0 L1485.7,-87.5 L1487.4,-86.8 L1489.0,-86.0 L1490.6,-85.0 L1492.2,-83.8 L1493.8,-82.5 L1495.4,-81.0 L1491.5,-60.4 L1490.3,-61.5 L1489.1,-62.5 L1487.9,-63.4 L1486.7,-64.1 L1485.5,-64.7 L1484.3,-65.2 L1483.0,-65.6 L1481.8,-65.9 L1480.5,-66.0 L1479.3,-66.0 L1478.0,-65.8 L1476.8,-65.6 Z" fill="none" stroke="#000" stroke-width="1.8" stroke-linejoin="round"/><path d="M1518.8,-58.1 L1520.1,-54.3 L1521.4,-50.3 L1522.5,-46.1 L1523.5,-41.9 L1524.4,-37.5 L1525.2,-32.9 L1526.0,-28.3 L1526.6,-23.6 L1527.1,-18.9 L1527.4,-14.1 L1527.7,-9.2 L1527.9,-4.3 L1516.5,-3.1 L1516.4,-6.5 L1516.2,-10.0 L1515.9,-13.4 L1515.6,-16.7 L1515.1,-20.0 L1514.6,-23.3 L1514.1,-26.5 L1513.4,-29.6 L1512.7,-32.6 L1511.9,-35.6 L1511.0,-38.4 L1510.1,-41.1 Z" fill="#fff" stroke="#000" stroke-width="2.6" stroke-linejoin="round"/><path d="M1510.6,-52.7 L1511.6,-49.5 L1512.5,-46.2 L1513.3,-42.8 L1514.1,-39.4 L1514.8,-35.8 L1515.4,-32.2 L1516.0,-28.5 L1516.5,-24.8 L1517.0,-21.1 L1517.3,-17.2 L1517.6,-13.4 L1517.8,-9.5 L1508.2,-7.1 L1508.1,-10.0 L1507.8,-12.9 L1507.6,-15.7 L1507.2,-18.5 L1506.9,-21.3 L1506.4,-24.0 L1506.0,-26.7 L1505.4,-29.3 L1504.8,-31.9 L1504.2,-34.4 L1503.5,-36.9 L1502.8,-39.3 Z" fill="none" stroke="#000" stroke-width="1.8" stroke-linejoin="round"/><path d="M1489.0,-60.0 L1503.0,-60.0 A25.8,60.0 0 0 1 1503.0,60.0 L1489.0,60.0 A25.8,60.0 0 0 1 1489.0,-60.0 Z" fill="#fff" stroke="#000" stroke-width="2.6"/></g>
<path d="M1503.0,-60.0 L1513.0,-60.0 A25.8,60.0 0 0 1 1513.0,60.0 L1503.0,60.0 A25.8,60.0 0 0 1 1503.0,-60.0 Z" fill="#fff" stroke="#000" stroke-width="2.6"/>
<ellipse cx="1513.0" cy="0.0" rx="25.8" ry="60.0" fill="#fff" stroke="#000" stroke-width="2.8"/>
<ellipse cx="1513.0" cy="0.0" rx="23.6" ry="55.0" fill="none" stroke="#000" stroke-width="1.5"/>
<ellipse cx="1513.0" cy="0.0" rx="19.4" ry="45.0" fill="#fff" stroke="#000" stroke-width="3.8"/>
<clipPath id="c18"><ellipse cx="1513.0" cy="0" rx="19.4" ry="45.0"/></clipPath><g clip-path="url(#c18)"><path d="M1483.0,-45.0 L1484.5,-44.9 L1486.0,-44.4 L1487.5,-43.8 L1489.0,-42.8 L1490.4,-41.6 L1491.8,-40.1 L1493.1,-38.4 L1494.4,-36.4 L1495.6,-34.2 L1496.7,-31.8 L1497.7,-29.2 L1498.7,-26.5 L1499.5,-23.5 L1500.2,-20.4 L1500.9,-17.2 L1501.4,-13.9 L1501.8,-10.5 L1502.1,-7.0 L1502.3,-3.5 L1502.3,0.0 L1502.3,3.5 L1502.1,7.0 L1501.8,10.5 L1501.4,13.9 L1500.9,17.2 L1500.2,20.4 L1499.5,23.5 L1498.7,26.5 L1497.7,29.2 L1496.7,31.8 L1495.6,34.2 L1494.4,36.4 L1493.1,38.4 L1491.8,40.1 L1490.4,41.6 L1489.0,42.8 L1487.5,43.8 L1486.0,44.4 L1484.5,44.9 L1483.0,45.0" fill="none" stroke="#000" stroke-width="1.8" stroke-linejoin="round"/></g>
</g>
<path d="M1588.0,-41.5 L1610.0,-41.5 A18.3,41.5 0 0 1 1610.0,41.5 L1588.0,41.5 A18.3,41.5 0 0 1 1588.0,-41.5 Z" fill="#fff" stroke="#000" stroke-width="3.3"/>
<ellipse cx="1610.0" cy="0.0" rx="18.3" ry="41.5" fill="#fff" stroke="#000" stroke-width="3.3"/>
<ellipse cx="1610.0" cy="0.0" rx="16.1" ry="36.5" fill="#fff" stroke="#000" stroke-width="3.9599999999999995"/>
<clipPath id="c19"><ellipse cx="1610.0" cy="0" rx="15.4" ry="35.0"/></clipPath><g clip-path="url(#c19)"><path d="M1588.0,-35.0 L1589.2,-34.9 L1590.4,-34.6 L1591.6,-34.0 L1592.8,-33.3 L1593.9,-32.3 L1595.0,-31.2 L1596.0,-29.8 L1597.1,-28.3 L1598.0,-26.6 L1598.9,-24.7 L1599.7,-22.7 L1600.5,-20.6 L1601.1,-18.3 L1601.7,-15.9 L1602.2,-13.4 L1602.6,-10.8 L1603.0,-8.2 L1603.2,-5.5 L1603.4,-2.7 L1603.4,0.0 L1603.4,2.7 L1603.2,5.5 L1603.0,8.2 L1602.6,10.8 L1602.2,13.4 L1601.7,15.9 L1601.1,18.3 L1600.5,20.6 L1599.7,22.7 L1598.9,24.7 L1598.0,26.6 L1597.1,28.3 L1596.0,29.8 L1595.0,31.2 L1593.9,32.3 L1592.8,33.3 L1591.6,34.0 L1590.4,34.6 L1589.2,34.9 L1588.0,35.0" fill="none" stroke="#000" stroke-width="2.64" stroke-linejoin="round"/><line x1="1588.0" y1="-35.0" x2="1610.0" y2="-35.0" stroke="#000" stroke-width="2.64"/><line x1="1588.0" y1="35.0" x2="1610.0" y2="35.0" stroke="#000" stroke-width="2.64"/></g>
</g>
<path d="M395.8,95.4 L1374,660" fill="none" stroke="#000" stroke-width="1.1" stroke-dasharray="24,1.5"/>
<path d="M73.5,417 L1531.1,1258.9" fill="none" stroke="#000" stroke-width="1.1" stroke-dasharray="24,1.5"/>
<path d="M908.3,289.0 L875.0,322.3" fill="none" stroke="#000" stroke-width="1.3"/>
<path d="M955.5,292.5 L950.3,327.5" fill="none" stroke="#000" stroke-width="1.3"/>
<path d="M1002.8,294.3 L1034.3,401.0" fill="none" stroke="#000" stroke-width="1.3"/>
<path d="M1042.3,292.5 L1090.3,448.3" fill="none" stroke="#000" stroke-width="1.3"/>
<path d="M1212.8,443.0 L1179.5,497.3" fill="none" stroke="#000" stroke-width="1.3"/>
<path d="M1256.5,443.0 L1256.5,451.8 L1295.0,451.8 L1295.0,443.0" fill="none" stroke="#000" stroke-width="1.3"/>
<path d="M1275.8,451.8 L1275.8,471.0" fill="none" stroke="#000" stroke-width="1.3"/>
<path d="M1337.0,443.0 L1361.5,605.8" fill="none" stroke="#000" stroke-width="1.3"/>
<path d="M87.8,589.5 L67.5,564.0 L67.5,486.0 L84.8,463.5" fill="none" stroke="#000" stroke-width="1.3"/>
<path d="M141.0,585.0 L150.0,554.3" fill="none" stroke="#000" stroke-width="1.3"/>
<path d="M192.0,588.8 L216.8,555.0" fill="none" stroke="#000" stroke-width="1.3"/>
<path d="M338.0,711.0 L320.0,684.0" fill="none" stroke="#000" stroke-width="1.3"/>
<path d="M389.3,710.0 L409.4,657.5" fill="none" stroke="#000" stroke-width="1.3"/>
<path d="M430.4,710.9 L443.5,689.9" fill="none" stroke="#000" stroke-width="1.3"/>
<path d="M531.0,822.0 L506.5,779.1" fill="none" stroke="#000" stroke-width="1.3"/>
<path d="M591.4,822.0 L612.4,773.9" fill="none" stroke="#000" stroke-width="1.3"/>
<path d="M631.6,822.9 L648.3,804.5" fill="none" stroke="#000" stroke-width="1.3"/>
<path d="M726.0,933.0 L717.5,917.2" fill="none" stroke="#000" stroke-width="1.3"/>
<path d="M788.8,934.0 L813.1,891.9" fill="none" stroke="#000" stroke-width="1.3"/>
<path d="M893.1,1042.5 L871.6,1001.3" fill="none" stroke="#000" stroke-width="1.3"/>
<path d="M947.5,1039.7 L962.5,981.6" fill="none" stroke="#000" stroke-width="1.3"/>
<path d="M990.6,1041.6 L1005.6,1009.7" fill="none" stroke="#000" stroke-width="1.3"/>
<path d="M1031.9,1042.5 L1049.7,1017.2" fill="none" stroke="#000" stroke-width="1.3"/>
<path d="M1141.4,1177.1 L1119.5,1128.1" fill="none" stroke="#000" stroke-width="1.3"/>
<path d="M1200.0,1177.1 L1223.6,1128.1" fill="none" stroke="#000" stroke-width="1.3"/>
<path d="M1240.3,1178.9 L1255.1,1158.8" fill="none" stroke="#000" stroke-width="1.3"/>
<path d="M1341.4,1311.4 L1326.0,1280.5" fill="none" stroke="#000" stroke-width="1.3"/>
<path d="M1405.4,1312.5 L1441.4,1257.8" fill="none" stroke="#000" stroke-width="1.3"/>
<circle cx="922.3" cy="276.8" r="17.5" fill="#fff" stroke="#000" stroke-width="1.2"/>
<text x="922.3" y="285.1" text-anchor="middle" font-size="22.5" letter-spacing="-0.5" stroke="#000" stroke-width="0.75" font-family="Liberation Sans, sans-serif">1</text>
<circle cx="960.8" cy="276.8" r="17.5" fill="#fff" stroke="#000" stroke-width="1.2"/>
<text x="960.8" y="285.1" text-anchor="middle" font-size="22.5" letter-spacing="-0.5" stroke="#000" stroke-width="0.75" font-family="Liberation Sans, sans-serif">2</text>
<circle cx="999.3" cy="276.8" r="17.5" fill="#fff" stroke="#000" stroke-width="1.2"/>
<text x="999.3" y="285.1" text-anchor="middle" font-size="22.5" letter-spacing="-0.5" stroke="#000" stroke-width="0.75" font-family="Liberation Sans, sans-serif">3</text>
<circle cx="1037.0" cy="276.8" r="17.5" fill="#fff" stroke="#000" stroke-width="1.2"/>
<text x="1037.0" y="285.1" text-anchor="middle" font-size="22.5" letter-spacing="-0.5" stroke="#000" stroke-width="0.75" font-family="Liberation Sans, sans-serif">4</text>
<circle cx="1218.8" cy="427.3" r="17.5" fill="#fff" stroke="#000" stroke-width="1.2"/>
<text x="1218.8" y="435.6" text-anchor="middle" font-size="22.5" letter-spacing="-0.5" stroke="#000" stroke-width="0.75" font-family="Liberation Sans, sans-serif">5</text>
<circle cx="1256.5" cy="427.3" r="17.5" fill="#fff" stroke="#000" stroke-width="1.2"/>
<text x="1256.5" y="435.6" text-anchor="middle" font-size="22.5" letter-spacing="-0.5" stroke="#000" stroke-width="0.75" font-family="Liberation Sans, sans-serif">6</text>
<circle cx="1295.0" cy="427.3" r="17.5" fill="#fff" stroke="#000" stroke-width="1.2"/>
<text x="1295.0" y="435.6" text-anchor="middle" font-size="22.5" letter-spacing="-0.5" stroke="#000" stroke-width="0.75" font-family="Liberation Sans, sans-serif">61</text>
<circle cx="1333.5" cy="427.3" r="17.5" fill="#fff" stroke="#000" stroke-width="1.2"/>
<text x="1333.5" y="435.6" text-anchor="middle" font-size="22.5" letter-spacing="-0.5" stroke="#000" stroke-width="0.75" font-family="Liberation Sans, sans-serif">7</text>
<circle cx="102.8" cy="602.3" r="17.5" fill="#fff" stroke="#000" stroke-width="1.2"/>
<text x="102.8" y="610.6" text-anchor="middle" font-size="22.5" letter-spacing="-0.5" stroke="#000" stroke-width="0.75" font-family="Liberation Sans, sans-serif">24</text>
<circle cx="140.3" cy="602.3" r="17.5" fill="#fff" stroke="#000" stroke-width="1.2"/>
<text x="140.3" y="610.6" text-anchor="middle" font-size="22.5" letter-spacing="-0.5" stroke="#000" stroke-width="0.75" font-family="Liberation Sans, sans-serif">21</text>
<circle cx="178.5" cy="602.3" r="17.5" fill="#fff" stroke="#000" stroke-width="1.2"/>
<text x="178.5" y="610.6" text-anchor="middle" font-size="22.5" letter-spacing="-0.5" stroke="#000" stroke-width="0.75" font-family="Liberation Sans, sans-serif">20</text>
<circle cx="346.0" cy="726.6" r="17.5" fill="#fff" stroke="#000" stroke-width="1.2"/>
<text x="346.0" y="734.9" text-anchor="middle" font-size="22.5" letter-spacing="-0.5" stroke="#000" stroke-width="0.75" font-family="Liberation Sans, sans-serif">19</text>
<circle cx="384.0" cy="726.6" r="17.5" fill="#fff" stroke="#000" stroke-width="1.2"/>
<text x="384.0" y="734.9" text-anchor="middle" font-size="22.5" letter-spacing="-0.5" stroke="#000" stroke-width="0.75" font-family="Liberation Sans, sans-serif">18</text>
<circle cx="421.6" cy="726.6" r="17.5" fill="#fff" stroke="#000" stroke-width="1.2"/>
<text x="421.6" y="734.9" text-anchor="middle" font-size="22.5" letter-spacing="-0.5" stroke="#000" stroke-width="0.75" font-family="Liberation Sans, sans-serif">17</text>
<circle cx="543.3" cy="836.9" r="17.5" fill="#fff" stroke="#000" stroke-width="1.2"/>
<text x="543.3" y="845.2" text-anchor="middle" font-size="22.5" letter-spacing="-0.5" stroke="#000" stroke-width="0.75" font-family="Liberation Sans, sans-serif">16</text>
<circle cx="580.9" cy="836.9" r="17.5" fill="#fff" stroke="#000" stroke-width="1.2"/>
<text x="580.9" y="845.2" text-anchor="middle" font-size="22.5" letter-spacing="-0.5" stroke="#000" stroke-width="0.75" font-family="Liberation Sans, sans-serif">11</text>
<circle cx="618.5" cy="836.9" r="17.5" fill="#fff" stroke="#000" stroke-width="1.2"/>
<text x="618.5" y="845.2" text-anchor="middle" font-size="22.5" letter-spacing="-0.5" stroke="#000" stroke-width="0.75" font-family="Liberation Sans, sans-serif">13</text>
<circle cx="737.2" cy="950.0" r="17.5" fill="#fff" stroke="#000" stroke-width="1.2"/>
<text x="737.2" y="958.3" text-anchor="middle" font-size="22.5" letter-spacing="-0.5" stroke="#000" stroke-width="0.75" font-family="Liberation Sans, sans-serif">15</text>
<circle cx="776.6" cy="950.0" r="17.5" fill="#fff" stroke="#000" stroke-width="1.2"/>
<text x="776.6" y="958.3" text-anchor="middle" font-size="22.5" letter-spacing="-0.5" stroke="#000" stroke-width="0.75" font-family="Liberation Sans, sans-serif">8</text>
<circle cx="905.3" cy="1056.6" r="17.5" fill="#fff" stroke="#000" stroke-width="1.2"/>
<text x="905.3" y="1064.9" text-anchor="middle" font-size="22.5" letter-spacing="-0.5" stroke="#000" stroke-width="0.75" font-family="Liberation Sans, sans-serif">14</text>
<circle cx="943.8" cy="1056.6" r="17.5" fill="#fff" stroke="#000" stroke-width="1.2"/>
<text x="943.8" y="1064.9" text-anchor="middle" font-size="22.5" letter-spacing="-0.5" stroke="#000" stroke-width="0.75" font-family="Liberation Sans, sans-serif">8</text>
<circle cx="981.6" cy="1056.6" r="17.5" fill="#fff" stroke="#000" stroke-width="1.2"/>
<text x="981.6" y="1064.9" text-anchor="middle" font-size="22.5" letter-spacing="-0.5" stroke="#000" stroke-width="0.75" font-family="Liberation Sans, sans-serif">13</text>
<circle cx="1019.7" cy="1056.6" r="17.5" fill="#fff" stroke="#000" stroke-width="1.2"/>
<text x="1019.7" y="1064.9" text-anchor="middle" font-size="22.5" letter-spacing="-0.5" stroke="#000" stroke-width="0.75" font-family="Liberation Sans, sans-serif">11</text>
<circle cx="1150.1" cy="1192.9" r="17.5" fill="#fff" stroke="#000" stroke-width="1.2"/>
<text x="1150.1" y="1201.2" text-anchor="middle" font-size="22.5" letter-spacing="-0.5" stroke="#000" stroke-width="0.75" font-family="Liberation Sans, sans-serif">12</text>
<circle cx="1187.8" cy="1192.9" r="17.5" fill="#fff" stroke="#000" stroke-width="1.2"/>
<text x="1187.8" y="1201.2" text-anchor="middle" font-size="22.5" letter-spacing="-0.5" stroke="#000" stroke-width="0.75" font-family="Liberation Sans, sans-serif">11</text>
<circle cx="1225.9" cy="1192.9" r="17.5" fill="#fff" stroke="#000" stroke-width="1.2"/>
<text x="1225.9" y="1201.2" text-anchor="middle" font-size="22.5" letter-spacing="-0.5" stroke="#000" stroke-width="0.75" font-family="Liberation Sans, sans-serif">10</text>
<circle cx="1353.8" cy="1324.8" r="17.5" fill="#fff" stroke="#000" stroke-width="1.2"/>
<text x="1353.8" y="1333.1" text-anchor="middle" font-size="22.5" letter-spacing="-0.5" stroke="#000" stroke-width="0.75" font-family="Liberation Sans, sans-serif">9</text>
<circle cx="1392.0" cy="1324.8" r="17.5" fill="#fff" stroke="#000" stroke-width="1.2"/>
<text x="1392.0" y="1333.1" text-anchor="middle" font-size="22.5" letter-spacing="-0.5" stroke="#000" stroke-width="0.75" font-family="Liberation Sans, sans-serif">8</text>
<g fill="#000" style="mix-blend-mode:multiply"><circle cx="324.9" cy="599.4" r="1.75" fill-opacity="0.6"/><circle cx="334.3" cy="599.4" r="1.75" fill-opacity="0.45"/><circle cx="343.7" cy="599.4" r="1.75" fill-opacity="0.75"/><circle cx="353.1" cy="599.4" r="1.75" fill-opacity="0.3"/><circle cx="362.5" cy="599.4" r="1.75" fill-opacity="0.3"/><circle cx="371.9" cy="599.4" r="1.75" fill-opacity="0.9"/><circle cx="381.3" cy="599.4" r="1.75" fill-opacity="0.3"/><circle cx="390.7" cy="599.4" r="1.75" fill-opacity="0.6"/><circle cx="400.1" cy="599.4" r="1.75" fill-opacity="0.9"/><circle cx="409.5" cy="599.4" r="1.75" fill-opacity="0.3"/><circle cx="418.9" cy="599.4" r="1.75" fill-opacity="0.9"/><circle cx="428.3" cy="599.4" r="1.75" fill-opacity="0.45"/><circle cx="437.7" cy="599.4" r="1.75" fill-opacity="0.3"/><circle cx="447.1" cy="599.4" r="1.75" fill-opacity="0.3"/><circle cx="456.5" cy="599.4" r="1.75" fill-opacity="0.75"/><circle cx="465.9" cy="599.4" r="1.75" fill-opacity="0.75"/><circle cx="475.3" cy="599.4" r="1.75" fill-opacity="0.3"/><circle cx="484.7" cy="599.4" r="1.75" fill-opacity="0.45"/><circle cx="494.1" cy="599.4" r="1.75" fill-opacity="0.3"/><circle cx="503.5" cy="599.4" r="1.75" fill-opacity="0.9"/><circle cx="512.9" cy="599.4" r="1.75" fill-opacity="0.75"/><circle cx="522.3" cy="599.4" r="1.75" fill-opacity="0.3"/><circle cx="531.7" cy="599.4" r="1.75" fill-opacity="0.9"/><circle cx="541.1" cy="599.4" r="1.75" fill-opacity="0.3"/><circle cx="550.5" cy="599.4" r="1.75" fill-opacity="0.45"/><circle cx="559.9" cy="599.4" r="1.75" fill-opacity="0.9"/><circle cx="569.3" cy="599.4" r="1.75" fill-opacity="0.3"/><circle cx="578.7" cy="599.4" r="1.75" fill-opacity="0.9"/><circle cx="588.1" cy="599.4" r="1.75" fill-opacity="0.9"/><circle cx="597.5" cy="599.4" r="1.75" fill-opacity="0.75"/><circle cx="606.9" cy="599.4" r="1.75" fill-opacity="0.3"/><circle cx="616.3" cy="599.4" r="1.75" fill-opacity="0.45"/><circle cx="625.7" cy="599.4" r="1.75" fill-opacity="0.3"/><circle cx="635.1" cy="599.4" r="1.75" fill-opacity="0.9"/><circle cx="644.5" cy="599.4" r="1.75" fill-opacity="0.45"/><circle cx="653.9" cy="599.4" r="1.75" fill-opacity="0.6"/><circle cx="663.3" cy="599.4" r="1.75" fill-opacity="0.75"/><circle cx="672.7" cy="599.4" r="1.75" fill-opacity="0.45"/><circle cx="682.1" cy="599.4" r="1.75" fill-opacity="0.9"/><circle cx="691.5" cy="599.4" r="1.75" fill-opacity="0.3"/><circle cx="700.9" cy="599.4" r="1.75" fill-opacity="0.9"/><circle cx="710.3" cy="599.4" r="1.75" fill-opacity="0.6"/><circle cx="719.7" cy="599.4" r="1.75" fill-opacity="0.9"/><circle cx="729.1" cy="599.4" r="1.75" fill-opacity="0.45"/><circle cx="738.5" cy="599.4" r="1.75" fill-opacity="0.3"/><circle cx="747.9" cy="599.4" r="1.75" fill-opacity="0.9"/><circle cx="757.3" cy="599.4" r="1.75" fill-opacity="0.9"/><circle cx="823.1" cy="599.4" r="1.75" fill-opacity="0.45"/><circle cx="832.5" cy="599.4" r="1.75" fill-opacity="0.6"/><circle cx="841.9" cy="599.4" r="1.75" fill-opacity="0.3"/><circle cx="851.3" cy="599.4" r="1.75" fill-opacity="0.9"/><circle cx="860.7" cy="599.4" r="1.75" fill-opacity="0.3"/><circle cx="870.1" cy="599.4" r="1.75" fill-opacity="0.9"/><circle cx="879.5" cy="599.4" r="1.75" fill-opacity="0.3"/><circle cx="888.9" cy="599.4" r="1.75" fill-opacity="0.9"/><circle cx="898.3" cy="599.4" r="1.75" fill-opacity="0.45"/><circle cx="907.7" cy="599.4" r="1.75" fill-opacity="0.75"/><circle cx="917.1" cy="599.4" r="1.75" fill-opacity="0.9"/><circle cx="926.5" cy="599.4" r="1.75" fill-opacity="0.75"/><circle cx="935.9" cy="599.4" r="1.75" fill-opacity="0.6"/><circle cx="945.3" cy="599.4" r="1.75" fill-opacity="0.75"/><circle cx="954.7" cy="599.4" r="1.75" fill-opacity="0.9"/><circle cx="964.1" cy="599.4" r="1.75" fill-opacity="0.75"/><circle cx="973.5" cy="599.4" r="1.75" fill-opacity="0.6"/><circle cx="1001.7" cy="599.4" r="1.75" fill-opacity="0.6"/><circle cx="1011.1" cy="599.4" r="1.75" fill-opacity="0.45"/><circle cx="1020.5" cy="599.4" r="1.75" fill-opacity="0.45"/><circle cx="1029.9" cy="599.4" r="1.75" fill-opacity="0.45"/><circle cx="1039.3" cy="599.4" r="1.75" fill-opacity="0.3"/><circle cx="1048.7" cy="599.4" r="1.75" fill-opacity="0.9"/><circle cx="1058.1" cy="599.4" r="1.75" fill-opacity="0.6"/><circle cx="1067.5" cy="599.4" r="1.75" fill-opacity="0.9"/><circle cx="1076.9" cy="599.4" r="1.75" fill-opacity="0.75"/><circle cx="1086.3" cy="599.4" r="1.75" fill-opacity="0.6"/><circle cx="1095.7" cy="599.4" r="1.75" fill-opacity="0.75"/><circle cx="1105.1" cy="599.4" r="1.75" fill-opacity="0.6"/><circle cx="1114.5" cy="599.4" r="1.75" fill-opacity="0.9"/><circle cx="1123.9" cy="599.4" r="1.75" fill-opacity="0.3"/><circle cx="1133.3" cy="599.4" r="1.75" fill-opacity="0.3"/><circle cx="324.9" cy="608.8" r="1.75" fill-opacity="0.9"/><circle cx="334.3" cy="608.8" r="1.75" fill-opacity="0.75"/><circle cx="343.7" cy="608.8" r="1.75" fill-opacity="0.45"/><circle cx="353.1" cy="608.8" r="1.75" fill-opacity="0.6"/><circle cx="362.5" cy="608.8" r="1.75" fill-opacity="0.45"/><circle cx="371.9" cy="608.8" r="1.75" fill-opacity="0.75"/><circle cx="381.3" cy="608.8" r="1.75" fill-opacity="0.75"/><circle cx="390.7" cy="608.8" r="1.75" fill-opacity="0.3"/><circle cx="400.1" cy="608.8" r="1.75" fill-opacity="0.3"/><circle cx="409.5" cy="608.8" r="1.75" fill-opacity="0.9"/><circle cx="418.9" cy="608.8" r="1.75" fill-opacity="0.9"/><circle cx="428.3" cy="608.8" r="1.75" fill-opacity="0.6"/><circle cx="437.7" cy="608.8" r="1.75" fill-opacity="0.6"/><circle cx="447.1" cy="608.8" r="1.75" fill-opacity="0.6"/><circle cx="456.5" cy="608.8" r="1.75" fill-opacity="0.9"/><circle cx="465.9" cy="608.8" r="1.75" fill-opacity="0.75"/><circle cx="475.3" cy="608.8" r="1.75" fill-opacity="0.9"/><circle cx="484.7" cy="608.8" r="1.75" fill-opacity="0.75"/><circle cx="494.1" cy="608.8" r="1.75" fill-opacity="0.3"/><circle cx="503.5" cy="608.8" r="1.75" fill-opacity="0.3"/><circle cx="512.9" cy="608.8" r="1.75" fill-opacity="0.6"/><circle cx="522.3" cy="608.8" r="1.75" fill-opacity="0.75"/><circle cx="531.7" cy="608.8" r="1.75" fill-opacity="0.3"/><circle cx="541.1" cy="608.8" r="1.75" fill-opacity="0.3"/><circle cx="550.5" cy="608.8" r="1.75" fill-opacity="0.6"/><circle cx="559.9" cy="608.8" r="1.75" fill-opacity="0.9"/><circle cx="569.3" cy="608.8" r="1.75" fill-opacity="0.75"/><circle cx="578.7" cy="608.8" r="1.75" fill-opacity="0.6"/><circle cx="588.1" cy="608.8" r="1.75" fill-opacity="0.75"/><circle cx="597.5" cy="608.8" r="1.75" fill-opacity="0.6"/><circle cx="606.9" cy="608.8" r="1.75" fill-opacity="0.3"/><circle cx="616.3" cy="608.8" r="1.75" fill-opacity="0.75"/><circle cx="625.7" cy="608.8" r="1.75" fill-opacity="0.6"/><circle cx="635.1" cy="608.8" r="1.75" fill-opacity="0.45"/><circle cx="644.5" cy="608.8" r="1.75" fill-opacity="0.9"/><circle cx="653.9" cy="608.8" r="1.75" fill-opacity="0.3"/><circle cx="663.3" cy="608.8" r="1.75" fill-opacity="0.75"/><circle cx="672.7" cy="608.8" r="1.75" fill-opacity="0.3"/><circle cx="682.1" cy="608.8" r="1.75" fill-opacity="0.45"/><circle cx="691.5" cy="608.8" r="1.75" fill-opacity="0.6"/><circle cx="700.9" cy="608.8" r="1.75" fill-opacity="0.45"/><circle cx="710.3" cy="608.8" r="1.75" fill-opacity="0.45"/><circle cx="719.7" cy="608.8" r="1.75" fill-opacity="0.75"/><circle cx="729.1" cy="608.8" r="1.75" fill-opacity="0.75"/><circle cx="738.5" cy="608.8" r="1.75" fill-opacity="0.75"/><circle cx="747.9" cy="608.8" r="1.75" fill-opacity="0.3"/><circle cx="757.3" cy="608.8" r="1.75" fill-opacity="0.45"/><circle cx="823.1" cy="608.8" r="1.75" fill-opacity="0.75"/><circle cx="832.5" cy="608.8" r="1.75" fill-opacity="0.75"/><circle cx="841.9" cy="608.8" r="1.75" fill-opacity="0.9"/><circle cx="851.3" cy="608.8" r="1.75" fill-opacity="0.6"/><circle cx="860.7" cy="608.8" r="1.75" fill-opacity="0.45"/><circle cx="870.1" cy="608.8" r="1.75" fill-opacity="0.75"/><circle cx="879.5" cy="608.8" r="1.75" fill-opacity="0.9"/><circle cx="888.9" cy="608.8" r="1.75" fill-opacity="0.6"/><circle cx="898.3" cy="608.8" r="1.75" fill-opacity="0.75"/><circle cx="907.7" cy="608.8" r="1.75" fill-opacity="0.6"/><circle cx="917.1" cy="608.8" r="1.75" fill-opacity="0.75"/><circle cx="926.5" cy="608.8" r="1.75" fill-opacity="0.45"/><circle cx="935.9" cy="608.8" r="1.75" fill-opacity="0.45"/><circle cx="945.3" cy="608.8" r="1.75" fill-opacity="0.3"/><circle cx="954.7" cy="608.8" r="1.75" fill-opacity="0.45"/><circle cx="964.1" cy="608.8" r="1.75" fill-opacity="0.45"/><circle cx="973.5" cy="608.8" r="1.75" fill-opacity="0.45"/><circle cx="1001.7" cy="608.8" r="1.75" fill-opacity="0.45"/><circle cx="1011.1" cy="608.8" r="1.75" fill-opacity="0.3"/><circle cx="1020.5" cy="608.8" r="1.75" fill-opacity="0.75"/><circle cx="1029.9" cy="608.8" r="1.75" fill-opacity="0.9"/><circle cx="1039.3" cy="608.8" r="1.75" fill-opacity="0.45"/><circle cx="1048.7" cy="608.8" r="1.75" fill-opacity="0.6"/><circle cx="1058.1" cy="608.8" r="1.75" fill-opacity="0.6"/><circle cx="1067.5" cy="608.8" r="1.75" fill-opacity="0.3"/><circle cx="1076.9" cy="608.8" r="1.75" fill-opacity="0.45"/><circle cx="1086.3" cy="608.8" r="1.75" fill-opacity="0.75"/><circle cx="1095.7" cy="608.8" r="1.75" fill-opacity="0.9"/><circle cx="1105.1" cy="608.8" r="1.75" fill-opacity="0.6"/><circle cx="1114.5" cy="608.8" r="1.75" fill-opacity="0.9"/><circle cx="1123.9" cy="608.8" r="1.75" fill-opacity="0.9"/><circle cx="1133.3" cy="608.8" r="1.75" fill-opacity="0.6"/><circle cx="324.9" cy="618.2" r="1.75" fill-opacity="0.45"/><circle cx="334.3" cy="618.2" r="1.75" fill-opacity="0.9"/><circle cx="343.7" cy="618.2" r="1.75" fill-opacity="0.9"/><circle cx="353.1" cy="618.2" r="1.75" fill-opacity="0.3"/><circle cx="362.5" cy="618.2" r="1.75" fill-opacity="0.75"/><circle cx="371.9" cy="618.2" r="1.75" fill-opacity="0.9"/><circle cx="381.3" cy="618.2" r="1.75" fill-opacity="0.75"/><circle cx="390.7" cy="618.2" r="1.75" fill-opacity="0.75"/><circle cx="400.1" cy="618.2" r="1.75" fill-opacity="0.75"/><circle cx="409.5" cy="618.2" r="1.75" fill-opacity="0.75"/><circle cx="418.9" cy="618.2" r="1.75" fill-opacity="0.3"/><circle cx="428.3" cy="618.2" r="1.75" fill-opacity="0.75"/><circle cx="437.7" cy="618.2" r="1.75" fill-opacity="0.75"/><circle cx="447.1" cy="618.2" r="1.75" fill-opacity="0.3"/><circle cx="456.5" cy="618.2" r="1.75" fill-opacity="0.45"/><circle cx="465.9" cy="618.2" r="1.75" fill-opacity="0.3"/><circle cx="475.3" cy="618.2" r="1.75" fill-opacity="0.45"/><circle cx="484.7" cy="618.2" r="1.75" fill-opacity="0.75"/><circle cx="494.1" cy="618.2" r="1.75" fill-opacity="0.45"/><circle cx="503.5" cy="618.2" r="1.75" fill-opacity="0.3"/><circle cx="512.9" cy="618.2" r="1.75" fill-opacity="0.6"/><circle cx="522.3" cy="618.2" r="1.75" fill-opacity="0.9"/><circle cx="531.7" cy="618.2" r="1.75" fill-opacity="0.3"/><circle cx="541.1" cy="618.2" r="1.75" fill-opacity="0.3"/><circle cx="550.5" cy="618.2" r="1.75" fill-opacity="0.3"/><circle cx="559.9" cy="618.2" r="1.75" fill-opacity="0.9"/><circle cx="569.3" cy="618.2" r="1.75" fill-opacity="0.45"/><circle cx="578.7" cy="618.2" r="1.75" fill-opacity="0.9"/><circle cx="588.1" cy="618.2" r="1.75" fill-opacity="0.3"/><circle cx="597.5" cy="618.2" r="1.75" fill-opacity="0.6"/><circle cx="606.9" cy="618.2" r="1.75" fill-opacity="0.9"/><circle cx="616.3" cy="618.2" r="1.75" fill-opacity="0.3"/><circle cx="625.7" cy="618.2" r="1.75" fill-opacity="0.3"/><circle cx="635.1" cy="618.2" r="1.75" fill-opacity="0.45"/><circle cx="644.5" cy="618.2" r="1.75" fill-opacity="0.9"/><circle cx="653.9" cy="618.2" r="1.75" fill-opacity="0.75"/><circle cx="663.3" cy="618.2" r="1.75" fill-opacity="0.45"/><circle cx="672.7" cy="618.2" r="1.75" fill-opacity="0.6"/><circle cx="682.1" cy="618.2" r="1.75" fill-opacity="0.6"/><circle cx="691.5" cy="618.2" r="1.75" fill-opacity="0.9"/><circle cx="700.9" cy="618.2" r="1.75" fill-opacity="0.6"/><circle cx="710.3" cy="618.2" r="1.75" fill-opacity="0.75"/><circle cx="719.7" cy="618.2" r="1.75" fill-opacity="0.3"/><circle cx="729.1" cy="618.2" r="1.75" fill-opacity="0.3"/><circle cx="738.5" cy="618.2" r="1.75" fill-opacity="0.75"/><circle cx="747.9" cy="618.2" r="1.75" fill-opacity="0.75"/><circle cx="757.3" cy="618.2" r="1.75" fill-opacity="0.75"/><circle cx="823.1" cy="618.2" r="1.75" fill-opacity="0.75"/><circle cx="832.5" cy="618.2" r="1.75" fill-opacity="0.6"/><circle cx="841.9" cy="618.2" r="1.75" fill-opacity="0.3"/><circle cx="851.3" cy="618.2" r="1.75" fill-opacity="0.45"/><circle cx="860.7" cy="618.2" r="1.75" fill-opacity="0.3"/><circle cx="870.1" cy="618.2" r="1.75" fill-opacity="0.6"/><circle cx="879.5" cy="618.2" r="1.75" fill-opacity="0.6"/><circle cx="888.9" cy="618.2" r="1.75" fill-opacity="0.75"/><circle cx="898.3" cy="618.2" r="1.75" fill-opacity="0.45"/><circle cx="907.7" cy="618.2" r="1.75" fill-opacity="0.9"/><circle cx="917.1" cy="618.2" r="1.75" fill-opacity="0.3"/><circle cx="926.5" cy="618.2" r="1.75" fill-opacity="0.45"/><circle cx="935.9" cy="618.2" r="1.75" fill-opacity="0.9"/><circle cx="945.3" cy="618.2" r="1.75" fill-opacity="0.6"/><circle cx="954.7" cy="618.2" r="1.75" fill-opacity="0.45"/><circle cx="964.1" cy="618.2" r="1.75" fill-opacity="0.9"/><circle cx="973.5" cy="618.2" r="1.75" fill-opacity="0.3"/><circle cx="1001.7" cy="618.2" r="1.75" fill-opacity="0.9"/><circle cx="1011.1" cy="618.2" r="1.75" fill-opacity="0.6"/><circle cx="1020.5" cy="618.2" r="1.75" fill-opacity="0.3"/><circle cx="1029.9" cy="618.2" r="1.75" fill-opacity="0.6"/><circle cx="1039.3" cy="618.2" r="1.75" fill-opacity="0.9"/><circle cx="1048.7" cy="618.2" r="1.75" fill-opacity="0.6"/><circle cx="1058.1" cy="618.2" r="1.75" fill-opacity="0.45"/><circle cx="1067.5" cy="618.2" r="1.75" fill-opacity="0.6"/><circle cx="1076.9" cy="618.2" r="1.75" fill-opacity="0.45"/><circle cx="1086.3" cy="618.2" r="1.75" fill-opacity="0.9"/><circle cx="1095.7" cy="618.2" r="1.75" fill-opacity="0.9"/><circle cx="1105.1" cy="618.2" r="1.75" fill-opacity="0.9"/><circle cx="1114.5" cy="618.2" r="1.75" fill-opacity="0.6"/><circle cx="1123.9" cy="618.2" r="1.75" fill-opacity="0.45"/><circle cx="1133.3" cy="618.2" r="1.75" fill-opacity="0.9"/><circle cx="324.9" cy="627.6" r="1.75" fill-opacity="0.45"/><circle cx="334.3" cy="627.6" r="1.75" fill-opacity="0.45"/><circle cx="343.7" cy="627.6" r="1.75" fill-opacity="0.75"/><circle cx="353.1" cy="627.6" r="1.75" fill-opacity="0.45"/><circle cx="362.5" cy="627.6" r="1.75" fill-opacity="0.45"/><circle cx="371.9" cy="627.6" r="1.75" fill-opacity="0.9"/><circle cx="381.3" cy="627.6" r="1.75" fill-opacity="0.75"/><circle cx="390.7" cy="627.6" r="1.75" fill-opacity="0.6"/><circle cx="400.1" cy="627.6" r="1.75" fill-opacity="0.3"/><circle cx="409.5" cy="627.6" r="1.75" fill-opacity="0.3"/><circle cx="418.9" cy="627.6" r="1.75" fill-opacity="0.6"/><circle cx="428.3" cy="627.6" r="1.75" fill-opacity="0.75"/><circle cx="437.7" cy="627.6" r="1.75" fill-opacity="0.6"/><circle cx="447.1" cy="627.6" r="1.75" fill-opacity="0.45"/><circle cx="456.5" cy="627.6" r="1.75" fill-opacity="0.9"/><circle cx="465.9" cy="627.6" r="1.75" fill-opacity="0.6"/><circle cx="475.3" cy="627.6" r="1.75" fill-opacity="0.75"/><circle cx="484.7" cy="627.6" r="1.75" fill-opacity="0.6"/><circle cx="494.1" cy="627.6" r="1.75" fill-opacity="0.6"/><circle cx="503.5" cy="627.6" r="1.75" fill-opacity="0.3"/><circle cx="512.9" cy="627.6" r="1.75" fill-opacity="0.45"/><circle cx="522.3" cy="627.6" r="1.75" fill-opacity="0.3"/><circle cx="531.7" cy="627.6" r="1.75" fill-opacity="0.45"/><circle cx="541.1" cy="627.6" r="1.75" fill-opacity="0.75"/><circle cx="550.5" cy="627.6" r="1.75" fill-opacity="0.45"/><circle cx="559.9" cy="627.6" r="1.75" fill-opacity="0.6"/><circle cx="569.3" cy="627.6" r="1.75" fill-opacity="0.45"/><circle cx="578.7" cy="627.6" r="1.75" fill-opacity="0.75"/><circle cx="588.1" cy="627.6" r="1.75" fill-opacity="0.9"/><circle cx="597.5" cy="627.6" r="1.75" fill-opacity="0.9"/><circle cx="606.9" cy="627.6" r="1.75" fill-opacity="0.3"/><circle cx="616.3" cy="627.6" r="1.75" fill-opacity="0.75"/><circle cx="625.7" cy="627.6" r="1.75" fill-opacity="0.6"/><circle cx="635.1" cy="627.6" r="1.75" fill-opacity="0.3"/><circle cx="644.5" cy="627.6" r="1.75" fill-opacity="0.3"/><circle cx="653.9" cy="627.6" r="1.75" fill-opacity="0.75"/><circle cx="663.3" cy="627.6" r="1.75" fill-opacity="0.45"/><circle cx="672.7" cy="627.6" r="1.75" fill-opacity="0.75"/><circle cx="682.1" cy="627.6" r="1.75" fill-opacity="0.45"/><circle cx="691.5" cy="627.6" r="1.75" fill-opacity="0.75"/><circle cx="700.9" cy="627.6" r="1.75" fill-opacity="0.6"/><circle cx="710.3" cy="627.6" r="1.75" fill-opacity="0.3"/><circle cx="719.7" cy="627.6" r="1.75" fill-opacity="0.75"/><circle cx="729.1" cy="627.6" r="1.75" fill-opacity="0.75"/><circle cx="738.5" cy="627.6" r="1.75" fill-opacity="0.75"/><circle cx="747.9" cy="627.6" r="1.75" fill-opacity="0.3"/><circle cx="757.3" cy="627.6" r="1.75" fill-opacity="0.45"/><circle cx="823.1" cy="627.6" r="1.75" fill-opacity="0.45"/><circle cx="832.5" cy="627.6" r="1.75" fill-opacity="0.45"/><circle cx="841.9" cy="627.6" r="1.75" fill-opacity="0.3"/><circle cx="851.3" cy="627.6" r="1.75" fill-opacity="0.45"/><circle cx="860.7" cy="627.6" r="1.75" fill-opacity="0.9"/><circle cx="870.1" cy="627.6" r="1.75" fill-opacity="0.75"/><circle cx="879.5" cy="627.6" r="1.75" fill-opacity="0.45"/><circle cx="888.9" cy="627.6" r="1.75" fill-opacity="0.9"/><circle cx="898.3" cy="627.6" r="1.75" fill-opacity="0.9"/><circle cx="907.7" cy="627.6" r="1.75" fill-opacity="0.75"/><circle cx="917.1" cy="627.6" r="1.75" fill-opacity="0.6"/><circle cx="926.5" cy="627.6" r="1.75" fill-opacity="0.45"/><circle cx="935.9" cy="627.6" r="1.75" fill-opacity="0.9"/><circle cx="945.3" cy="627.6" r="1.75" fill-opacity="0.9"/><circle cx="954.7" cy="627.6" r="1.75" fill-opacity="0.45"/><circle cx="964.1" cy="627.6" r="1.75" fill-opacity="0.3"/><circle cx="973.5" cy="627.6" r="1.75" fill-opacity="0.3"/><circle cx="1001.7" cy="627.6" r="1.75" fill-opacity="0.3"/><circle cx="1011.1" cy="627.6" r="1.75" fill-opacity="0.9"/><circle cx="1020.5" cy="627.6" r="1.75" fill-opacity="0.45"/><circle cx="1029.9" cy="627.6" r="1.75" fill-opacity="0.75"/><circle cx="1039.3" cy="627.6" r="1.75" fill-opacity="0.45"/><circle cx="1048.7" cy="627.6" r="1.75" fill-opacity="0.45"/><circle cx="1058.1" cy="627.6" r="1.75" fill-opacity="0.3"/><circle cx="1067.5" cy="627.6" r="1.75" fill-opacity="0.6"/><circle cx="1076.9" cy="627.6" r="1.75" fill-opacity="0.45"/><circle cx="1086.3" cy="627.6" r="1.75" fill-opacity="0.6"/><circle cx="1095.7" cy="627.6" r="1.75" fill-opacity="0.9"/><circle cx="1105.1" cy="627.6" r="1.75" fill-opacity="0.45"/><circle cx="1114.5" cy="627.6" r="1.75" fill-opacity="0.9"/><circle cx="1123.9" cy="627.6" r="1.75" fill-opacity="0.6"/><circle cx="1133.3" cy="627.6" r="1.75" fill-opacity="0.6"/><circle cx="324.9" cy="637.0" r="1.75" fill-opacity="0.9"/><circle cx="334.3" cy="637.0" r="1.75" fill-opacity="0.75"/><circle cx="343.7" cy="637.0" r="1.75" fill-opacity="0.45"/><circle cx="353.1" cy="637.0" r="1.75" fill-opacity="0.3"/><circle cx="362.5" cy="637.0" r="1.75" fill-opacity="0.6"/><circle cx="371.9" cy="637.0" r="1.75" fill-opacity="0.75"/><circle cx="381.3" cy="637.0" r="1.75" fill-opacity="0.9"/><circle cx="390.7" cy="637.0" r="1.75" fill-opacity="0.9"/><circle cx="400.1" cy="637.0" r="1.75" fill-opacity="0.75"/><circle cx="409.5" cy="637.0" r="1.75" fill-opacity="0.9"/><circle cx="418.9" cy="637.0" r="1.75" fill-opacity="0.45"/><circle cx="428.3" cy="637.0" r="1.75" fill-opacity="0.9"/><circle cx="437.7" cy="637.0" r="1.75" fill-opacity="0.45"/><circle cx="447.1" cy="637.0" r="1.75" fill-opacity="0.9"/><circle cx="456.5" cy="637.0" r="1.75" fill-opacity="0.9"/><circle cx="465.9" cy="637.0" r="1.75" fill-opacity="0.3"/><circle cx="475.3" cy="637.0" r="1.75" fill-opacity="0.75"/><circle cx="484.7" cy="637.0" r="1.75" fill-opacity="0.45"/><circle cx="494.1" cy="637.0" r="1.75" fill-opacity="0.9"/><circle cx="503.5" cy="637.0" r="1.75" fill-opacity="0.3"/><circle cx="512.9" cy="637.0" r="1.75" fill-opacity="0.45"/><circle cx="522.3" cy="637.0" r="1.75" fill-opacity="0.45"/><circle cx="531.7" cy="637.0" r="1.75" fill-opacity="0.45"/><circle cx="541.1" cy="637.0" r="1.75" fill-opacity="0.75"/><circle cx="550.5" cy="637.0" r="1.75" fill-opacity="0.9"/><circle cx="559.9" cy="637.0" r="1.75" fill-opacity="0.3"/><circle cx="569.3" cy="637.0" r="1.75" fill-opacity="0.9"/><circle cx="578.7" cy="637.0" r="1.75" fill-opacity="0.3"/><circle cx="588.1" cy="637.0" r="1.75" fill-opacity="0.6"/><circle cx="597.5" cy="637.0" r="1.75" fill-opacity="0.9"/><circle cx="606.9" cy="637.0" r="1.75" fill-opacity="0.9"/><circle cx="616.3" cy="637.0" r="1.75" fill-opacity="0.9"/><circle cx="625.7" cy="637.0" r="1.75" fill-opacity="0.75"/><circle cx="635.1" cy="637.0" r="1.75" fill-opacity="0.3"/><circle cx="644.5" cy="637.0" r="1.75" fill-opacity="0.9"/><circle cx="653.9" cy="637.0" r="1.75" fill-opacity="0.3"/><circle cx="663.3" cy="637.0" r="1.75" fill-opacity="0.45"/><circle cx="672.7" cy="637.0" r="1.75" fill-opacity="0.45"/><circle cx="682.1" cy="637.0" r="1.75" fill-opacity="0.6"/><circle cx="691.5" cy="637.0" r="1.75" fill-opacity="0.3"/><circle cx="700.9" cy="637.0" r="1.75" fill-opacity="0.3"/><circle cx="710.3" cy="637.0" r="1.75" fill-opacity="0.9"/><circle cx="719.7" cy="637.0" r="1.75" fill-opacity="0.75"/><circle cx="729.1" cy="637.0" r="1.75" fill-opacity="0.9"/><circle cx="738.5" cy="637.0" r="1.75" fill-opacity="0.3"/><circle cx="747.9" cy="637.0" r="1.75" fill-opacity="0.3"/><circle cx="757.3" cy="637.0" r="1.75" fill-opacity="0.75"/><circle cx="823.1" cy="637.0" r="1.75" fill-opacity="0.6"/><circle cx="832.5" cy="637.0" r="1.75" fill-opacity="0.9"/><circle cx="841.9" cy="637.0" r="1.75" fill-opacity="0.9"/><circle cx="851.3" cy="637.0" r="1.75" fill-opacity="0.9"/><circle cx="860.7" cy="637.0" r="1.75" fill-opacity="0.9"/><circle cx="870.1" cy="637.0" r="1.75" fill-opacity="0.45"/><circle cx="879.5" cy="637.0" r="1.75" fill-opacity="0.6"/><circle cx="888.9" cy="637.0" r="1.75" fill-opacity="0.75"/><circle cx="898.3" cy="637.0" r="1.75" fill-opacity="0.9"/><circle cx="907.7" cy="637.0" r="1.75" fill-opacity="0.9"/><circle cx="917.1" cy="637.0" r="1.75" fill-opacity="0.75"/><circle cx="926.5" cy="637.0" r="1.75" fill-opacity="0.9"/><circle cx="935.9" cy="637.0" r="1.75" fill-opacity="0.45"/><circle cx="945.3" cy="637.0" r="1.75" fill-opacity="0.9"/><circle cx="954.7" cy="637.0" r="1.75" fill-opacity="0.6"/><circle cx="964.1" cy="637.0" r="1.75" fill-opacity="0.9"/><circle cx="973.5" cy="637.0" r="1.75" fill-opacity="0.45"/><circle cx="1001.7" cy="637.0" r="1.75" fill-opacity="0.75"/><circle cx="1011.1" cy="637.0" r="1.75" fill-opacity="0.45"/><circle cx="1020.5" cy="637.0" r="1.75" fill-opacity="0.75"/><circle cx="1029.9" cy="637.0" r="1.75" fill-opacity="0.3"/><circle cx="1039.3" cy="637.0" r="1.75" fill-opacity="0.75"/><circle cx="1048.7" cy="637.0" r="1.75" fill-opacity="0.75"/><circle cx="1058.1" cy="637.0" r="1.75" fill-opacity="0.6"/><circle cx="1067.5" cy="637.0" r="1.75" fill-opacity="0.3"/><circle cx="1076.9" cy="637.0" r="1.75" fill-opacity="0.45"/><circle cx="1086.3" cy="637.0" r="1.75" fill-opacity="0.75"/><circle cx="1095.7" cy="637.0" r="1.75" fill-opacity="0.3"/><circle cx="1105.1" cy="637.0" r="1.75" fill-opacity="0.45"/><circle cx="1114.5" cy="637.0" r="1.75" fill-opacity="0.6"/><circle cx="1123.9" cy="637.0" r="1.75" fill-opacity="0.3"/><circle cx="1133.3" cy="637.0" r="1.75" fill-opacity="0.45"/><circle cx="324.9" cy="646.4" r="1.75" fill-opacity="0.6"/><circle cx="334.3" cy="646.4" r="1.75" fill-opacity="0.45"/><circle cx="343.7" cy="646.4" r="1.75" fill-opacity="0.6"/><circle cx="353.1" cy="646.4" r="1.75" fill-opacity="0.45"/><circle cx="362.5" cy="646.4" r="1.75" fill-opacity="0.75"/><circle cx="371.9" cy="646.4" r="1.75" fill-opacity="0.45"/><circle cx="381.3" cy="646.4" r="1.75" fill-opacity="0.3"/><circle cx="390.7" cy="646.4" r="1.75" fill-opacity="0.75"/><circle cx="400.1" cy="646.4" r="1.75" fill-opacity="0.75"/><circle cx="409.5" cy="646.4" r="1.75" fill-opacity="0.45"/><circle cx="418.9" cy="646.4" r="1.75" fill-opacity="0.45"/><circle cx="428.3" cy="646.4" r="1.75" fill-opacity="0.45"/><circle cx="437.7" cy="646.4" r="1.75" fill-opacity="0.75"/><circle cx="447.1" cy="646.4" r="1.75" fill-opacity="0.9"/><circle cx="456.5" cy="646.4" r="1.75" fill-opacity="0.75"/><circle cx="465.9" cy="646.4" r="1.75" fill-opacity="0.6"/><circle cx="475.3" cy="646.4" r="1.75" fill-opacity="0.75"/><circle cx="484.7" cy="646.4" r="1.75" fill-opacity="0.45"/><circle cx="494.1" cy="646.4" r="1.75" fill-opacity="0.6"/><circle cx="503.5" cy="646.4" r="1.75" fill-opacity="0.6"/><circle cx="512.9" cy="646.4" r="1.75" fill-opacity="0.3"/><circle cx="522.3" cy="646.4" r="1.75" fill-opacity="0.6"/><circle cx="531.7" cy="646.4" r="1.75" fill-opacity="0.3"/><circle cx="541.1" cy="646.4" r="1.75" fill-opacity="0.6"/><circle cx="550.5" cy="646.4" r="1.75" fill-opacity="0.9"/><circle cx="559.9" cy="646.4" r="1.75" fill-opacity="0.75"/><circle cx="569.3" cy="646.4" r="1.75" fill-opacity="0.75"/><circle cx="578.7" cy="646.4" r="1.75" fill-opacity="0.3"/><circle cx="691.5" cy="646.4" r="1.75" fill-opacity="0.75"/><circle cx="700.9" cy="646.4" r="1.75" fill-opacity="0.6"/><circle cx="710.3" cy="646.4" r="1.75" fill-opacity="0.9"/><circle cx="719.7" cy="646.4" r="1.75" fill-opacity="0.9"/><circle cx="729.1" cy="646.4" r="1.75" fill-opacity="0.6"/><circle cx="738.5" cy="646.4" r="1.75" fill-opacity="0.9"/><circle cx="747.9" cy="646.4" r="1.75" fill-opacity="0.3"/><circle cx="757.3" cy="646.4" r="1.75" fill-opacity="0.3"/><circle cx="823.1" cy="646.4" r="1.75" fill-opacity="0.45"/><circle cx="832.5" cy="646.4" r="1.75" fill-opacity="0.3"/><circle cx="841.9" cy="646.4" r="1.75" fill-opacity="0.3"/><circle cx="851.3" cy="646.4" r="1.75" fill-opacity="0.6"/><circle cx="860.7" cy="646.4" r="1.75" fill-opacity="0.6"/><circle cx="870.1" cy="646.4" r="1.75" fill-opacity="0.3"/><circle cx="879.5" cy="646.4" r="1.75" fill-opacity="0.45"/><circle cx="888.9" cy="646.4" r="1.75" fill-opacity="0.6"/><circle cx="898.3" cy="646.4" r="1.75" fill-opacity="0.45"/><circle cx="907.7" cy="646.4" r="1.75" fill-opacity="0.75"/><circle cx="917.1" cy="646.4" r="1.75" fill-opacity="0.6"/><circle cx="926.5" cy="646.4" r="1.75" fill-opacity="0.75"/><circle cx="1001.7" cy="646.4" r="1.75" fill-opacity="0.45"/><circle cx="1011.1" cy="646.4" r="1.75" fill-opacity="0.9"/><circle cx="1020.5" cy="646.4" r="1.75" fill-opacity="0.9"/><circle cx="1029.9" cy="646.4" r="1.75" fill-opacity="0.9"/><circle cx="1039.3" cy="646.4" r="1.75" fill-opacity="0.75"/><circle cx="1048.7" cy="646.4" r="1.75" fill-opacity="0.6"/><circle cx="1058.1" cy="646.4" r="1.75" fill-opacity="0.3"/><circle cx="1067.5" cy="646.4" r="1.75" fill-opacity="0.6"/><circle cx="1076.9" cy="646.4" r="1.75" fill-opacity="0.3"/><circle cx="1086.3" cy="646.4" r="1.75" fill-opacity="0.45"/><circle cx="324.9" cy="655.8" r="1.75" fill-opacity="0.75"/><circle cx="334.3" cy="655.8" r="1.75" fill-opacity="0.3"/><circle cx="343.7" cy="655.8" r="1.75" fill-opacity="0.6"/><circle cx="353.1" cy="655.8" r="1.75" fill-opacity="0.3"/><circle cx="362.5" cy="655.8" r="1.75" fill-opacity="0.3"/><circle cx="371.9" cy="655.8" r="1.75" fill-opacity="0.6"/><circle cx="381.3" cy="655.8" r="1.75" fill-opacity="0.3"/><circle cx="390.7" cy="655.8" r="1.75" fill-opacity="0.9"/><circle cx="400.1" cy="655.8" r="1.75" fill-opacity="0.45"/><circle cx="409.5" cy="655.8" r="1.75" fill-opacity="0.3"/><circle cx="418.9" cy="655.8" r="1.75" fill-opacity="0.6"/><circle cx="428.3" cy="655.8" r="1.75" fill-opacity="0.3"/><circle cx="437.7" cy="655.8" r="1.75" fill-opacity="0.75"/><circle cx="447.1" cy="655.8" r="1.75" fill-opacity="0.3"/><circle cx="456.5" cy="655.8" r="1.75" fill-opacity="0.6"/><circle cx="465.9" cy="655.8" r="1.75" fill-opacity="0.9"/><circle cx="475.3" cy="655.8" r="1.75" fill-opacity="0.75"/><circle cx="484.7" cy="655.8" r="1.75" fill-opacity="0.6"/><circle cx="494.1" cy="655.8" r="1.75" fill-opacity="0.9"/><circle cx="503.5" cy="655.8" r="1.75" fill-opacity="0.45"/><circle cx="512.9" cy="655.8" r="1.75" fill-opacity="0.3"/><circle cx="522.3" cy="655.8" r="1.75" fill-opacity="0.9"/><circle cx="531.7" cy="655.8" r="1.75" fill-opacity="0.45"/><circle cx="541.1" cy="655.8" r="1.75" fill-opacity="0.3"/><circle cx="550.5" cy="655.8" r="1.75" fill-opacity="0.45"/><circle cx="559.9" cy="655.8" r="1.75" fill-opacity="0.6"/><circle cx="569.3" cy="655.8" r="1.75" fill-opacity="0.3"/><circle cx="578.7" cy="655.8" r="1.75" fill-opacity="0.45"/><circle cx="682.1" cy="655.8" r="1.75" fill-opacity="0.45"/><circle cx="691.5" cy="655.8" r="1.75" fill-opacity="0.6"/><circle cx="700.9" cy="655.8" r="1.75" fill-opacity="0.6"/><circle cx="710.3" cy="655.8" r="1.75" fill-opacity="0.9"/><circle cx="719.7" cy="655.8" r="1.75" fill-opacity="0.45"/><circle cx="729.1" cy="655.8" r="1.75" fill-opacity="0.6"/><circle cx="738.5" cy="655.8" r="1.75" fill-opacity="0.75"/><circle cx="747.9" cy="655.8" r="1.75" fill-opacity="0.9"/><circle cx="757.3" cy="655.8" r="1.75" fill-opacity="0.45"/><circle cx="823.1" cy="655.8" r="1.75" fill-opacity="0.6"/><circle cx="832.5" cy="655.8" r="1.75" fill-opacity="0.6"/><circle cx="841.9" cy="655.8" r="1.75" fill-opacity="0.3"/><circle cx="851.3" cy="655.8" r="1.75" fill-opacity="0.6"/><circle cx="860.7" cy="655.8" r="1.75" fill-opacity="0.3"/><circle cx="870.1" cy="655.8" r="1.75" fill-opacity="0.3"/><circle cx="879.5" cy="655.8" r="1.75" fill-opacity="0.3"/><circle cx="888.9" cy="655.8" r="1.75" fill-opacity="0.9"/><circle cx="898.3" cy="655.8" r="1.75" fill-opacity="0.9"/><circle cx="907.7" cy="655.8" r="1.75" fill-opacity="0.45"/><circle cx="917.1" cy="655.8" r="1.75" fill-opacity="0.9"/><circle cx="926.5" cy="655.8" r="1.75" fill-opacity="0.75"/><circle cx="1001.7" cy="655.8" r="1.75" fill-opacity="0.45"/><circle cx="1011.1" cy="655.8" r="1.75" fill-opacity="0.75"/><circle cx="1020.5" cy="655.8" r="1.75" fill-opacity="0.3"/><circle cx="1029.9" cy="655.8" r="1.75" fill-opacity="0.75"/><circle cx="1039.3" cy="655.8" r="1.75" fill-opacity="0.75"/><circle cx="1048.7" cy="655.8" r="1.75" fill-opacity="0.9"/><circle cx="1058.1" cy="655.8" r="1.75" fill-opacity="0.75"/><circle cx="1067.5" cy="655.8" r="1.75" fill-opacity="0.9"/><circle cx="1076.9" cy="655.8" r="1.75" fill-opacity="0.6"/><circle cx="1086.3" cy="655.8" r="1.75" fill-opacity="0.45"/><circle cx="324.9" cy="665.2" r="1.75" fill-opacity="0.45"/><circle cx="334.3" cy="665.2" r="1.75" fill-opacity="0.6"/><circle cx="343.7" cy="665.2" r="1.75" fill-opacity="0.45"/><circle cx="353.1" cy="665.2" r="1.75" fill-opacity="0.45"/><circle cx="362.5" cy="665.2" r="1.75" fill-opacity="0.75"/><circle cx="371.9" cy="665.2" r="1.75" fill-opacity="0.6"/><circle cx="381.3" cy="665.2" r="1.75" fill-opacity="0.3"/><circle cx="390.7" cy="665.2" r="1.75" fill-opacity="0.45"/><circle cx="400.1" cy="665.2" r="1.75" fill-opacity="0.3"/><circle cx="409.5" cy="665.2" r="1.75" fill-opacity="0.3"/><circle cx="418.9" cy="665.2" r="1.75" fill-opacity="0.6"/><circle cx="428.3" cy="665.2" r="1.75" fill-opacity="0.75"/><circle cx="437.7" cy="665.2" r="1.75" fill-opacity="0.45"/><circle cx="447.1" cy="665.2" r="1.75" fill-opacity="0.3"/><circle cx="456.5" cy="665.2" r="1.75" fill-opacity="0.3"/><circle cx="465.9" cy="665.2" r="1.75" fill-opacity="0.75"/><circle cx="475.3" cy="665.2" r="1.75" fill-opacity="0.9"/><circle cx="484.7" cy="665.2" r="1.75" fill-opacity="0.6"/><circle cx="494.1" cy="665.2" r="1.75" fill-opacity="0.9"/><circle cx="503.5" cy="665.2" r="1.75" fill-opacity="0.45"/><circle cx="512.9" cy="665.2" r="1.75" fill-opacity="0.6"/><circle cx="522.3" cy="665.2" r="1.75" fill-opacity="0.3"/><circle cx="531.7" cy="665.2" r="1.75" fill-opacity="0.75"/><circle cx="541.1" cy="665.2" r="1.75" fill-opacity="0.45"/><circle cx="550.5" cy="665.2" r="1.75" fill-opacity="0.45"/><circle cx="559.9" cy="665.2" r="1.75" fill-opacity="0.6"/><circle cx="569.3" cy="665.2" r="1.75" fill-opacity="0.75"/><circle cx="578.7" cy="665.2" r="1.75" fill-opacity="0.3"/><circle cx="682.1" cy="665.2" r="1.75" fill-opacity="0.6"/><circle cx="691.5" cy="665.2" r="1.75" fill-opacity="0.6"/><circle cx="700.9" cy="665.2" r="1.75" fill-opacity="0.6"/><circle cx="710.3" cy="665.2" r="1.75" fill-opacity="0.9"/><circle cx="719.7" cy="665.2" r="1.75" fill-opacity="0.6"/><circle cx="729.1" cy="665.2" r="1.75" fill-opacity="0.45"/><circle cx="738.5" cy="665.2" r="1.75" fill-opacity="0.3"/><circle cx="747.9" cy="665.2" r="1.75" fill-opacity="0.6"/><circle cx="757.3" cy="665.2" r="1.75" fill-opacity="0.45"/><circle cx="823.1" cy="665.2" r="1.75" fill-opacity="0.6"/><circle cx="832.5" cy="665.2" r="1.75" fill-opacity="0.45"/><circle cx="841.9" cy="665.2" r="1.75" fill-opacity="0.3"/><circle cx="851.3" cy="665.2" r="1.75" fill-opacity="0.6"/><circle cx="860.7" cy="665.2" r="1.75" fill-opacity="0.75"/><circle cx="870.1" cy="665.2" r="1.75" fill-opacity="0.3"/><circle cx="879.5" cy="665.2" r="1.75" fill-opacity="0.75"/><circle cx="888.9" cy="665.2" r="1.75" fill-opacity="0.6"/><circle cx="898.3" cy="665.2" r="1.75" fill-opacity="0.9"/><circle cx="907.7" cy="665.2" r="1.75" fill-opacity="0.45"/><circle cx="917.1" cy="665.2" r="1.75" fill-opacity="0.45"/><circle cx="926.5" cy="665.2" r="1.75" fill-opacity="0.9"/><circle cx="1001.7" cy="665.2" r="1.75" fill-opacity="0.3"/><circle cx="1011.1" cy="665.2" r="1.75" fill-opacity="0.3"/><circle cx="1020.5" cy="665.2" r="1.75" fill-opacity="0.6"/><circle cx="1029.9" cy="665.2" r="1.75" fill-opacity="0.3"/><circle cx="1039.3" cy="665.2" r="1.75" fill-opacity="0.45"/><circle cx="1048.7" cy="665.2" r="1.75" fill-opacity="0.75"/><circle cx="1058.1" cy="665.2" r="1.75" fill-opacity="0.9"/><circle cx="1067.5" cy="665.2" r="1.75" fill-opacity="0.3"/><circle cx="1076.9" cy="665.2" r="1.75" fill-opacity="0.75"/><circle cx="1086.3" cy="665.2" r="1.75" fill-opacity="0.3"/><circle cx="324.9" cy="674.6" r="1.75" fill-opacity="0.6"/><circle cx="334.3" cy="674.6" r="1.75" fill-opacity="0.6"/><circle cx="343.7" cy="674.6" r="1.75" fill-opacity="0.45"/><circle cx="353.1" cy="674.6" r="1.75" fill-opacity="0.3"/><circle cx="362.5" cy="674.6" r="1.75" fill-opacity="0.9"/><circle cx="371.9" cy="674.6" r="1.75" fill-opacity="0.9"/><circle cx="381.3" cy="674.6" r="1.75" fill-opacity="0.45"/><circle cx="390.7" cy="674.6" r="1.75" fill-opacity="0.9"/><circle cx="400.1" cy="674.6" r="1.75" fill-opacity="0.75"/><circle cx="409.5" cy="674.6" r="1.75" fill-opacity="0.6"/><circle cx="418.9" cy="674.6" r="1.75" fill-opacity="0.75"/><circle cx="428.3" cy="674.6" r="1.75" fill-opacity="0.45"/><circle cx="437.7" cy="674.6" r="1.75" fill-opacity="0.6"/><circle cx="447.1" cy="674.6" r="1.75" fill-opacity="0.9"/><circle cx="456.5" cy="674.6" r="1.75" fill-opacity="0.45"/><circle cx="465.9" cy="674.6" r="1.75" fill-opacity="0.3"/><circle cx="475.3" cy="674.6" r="1.75" fill-opacity="0.9"/><circle cx="484.7" cy="674.6" r="1.75" fill-opacity="0.75"/><circle cx="494.1" cy="674.6" r="1.75" fill-opacity="0.9"/><circle cx="503.5" cy="674.6" r="1.75" fill-opacity="0.45"/><circle cx="512.9" cy="674.6" r="1.75" fill-opacity="0.9"/><circle cx="522.3" cy="674.6" r="1.75" fill-opacity="0.9"/><circle cx="531.7" cy="674.6" r="1.75" fill-opacity="0.9"/><circle cx="541.1" cy="674.6" r="1.75" fill-opacity="0.3"/><circle cx="550.5" cy="674.6" r="1.75" fill-opacity="0.9"/><circle cx="559.9" cy="674.6" r="1.75" fill-opacity="0.45"/><circle cx="569.3" cy="674.6" r="1.75" fill-opacity="0.3"/><circle cx="578.7" cy="674.6" r="1.75" fill-opacity="0.3"/><circle cx="682.1" cy="674.6" r="1.75" fill-opacity="0.3"/><circle cx="691.5" cy="674.6" r="1.75" fill-opacity="0.45"/><circle cx="700.9" cy="674.6" r="1.75" fill-opacity="0.6"/><circle cx="710.3" cy="674.6" r="1.75" fill-opacity="0.3"/><circle cx="719.7" cy="674.6" r="1.75" fill-opacity="0.75"/><circle cx="729.1" cy="674.6" r="1.75" fill-opacity="0.75"/><circle cx="738.5" cy="674.6" r="1.75" fill-opacity="0.9"/><circle cx="747.9" cy="674.6" r="1.75" fill-opacity="0.3"/><circle cx="757.3" cy="674.6" r="1.75" fill-opacity="0.3"/><circle cx="823.1" cy="674.6" r="1.75" fill-opacity="0.9"/><circle cx="832.5" cy="674.6" r="1.75" fill-opacity="0.45"/><circle cx="841.9" cy="674.6" r="1.75" fill-opacity="0.75"/><circle cx="851.3" cy="674.6" r="1.75" fill-opacity="0.6"/><circle cx="860.7" cy="674.6" r="1.75" fill-opacity="0.3"/><circle cx="870.1" cy="674.6" r="1.75" fill-opacity="0.75"/><circle cx="879.5" cy="674.6" r="1.75" fill-opacity="0.3"/><circle cx="888.9" cy="674.6" r="1.75" fill-opacity="0.9"/><circle cx="898.3" cy="674.6" r="1.75" fill-opacity="0.9"/><circle cx="907.7" cy="674.6" r="1.75" fill-opacity="0.3"/><circle cx="917.1" cy="674.6" r="1.75" fill-opacity="0.9"/><circle cx="926.5" cy="674.6" r="1.75" fill-opacity="0.3"/><circle cx="1001.7" cy="674.6" r="1.75" fill-opacity="0.75"/><circle cx="1011.1" cy="674.6" r="1.75" fill-opacity="0.6"/><circle cx="1020.5" cy="674.6" r="1.75" fill-opacity="0.3"/><circle cx="1029.9" cy="674.6" r="1.75" fill-opacity="0.6"/><circle cx="1039.3" cy="674.6" r="1.75" fill-opacity="0.45"/><circle cx="1048.7" cy="674.6" r="1.75" fill-opacity="0.45"/><circle cx="1058.1" cy="674.6" r="1.75" fill-opacity="0.45"/><circle cx="1067.5" cy="674.6" r="1.75" fill-opacity="0.75"/><circle cx="1076.9" cy="674.6" r="1.75" fill-opacity="0.75"/><circle cx="1086.3" cy="674.6" r="1.75" fill-opacity="0.75"/><circle cx="324.9" cy="684.0" r="1.75" fill-opacity="0.3"/><circle cx="334.3" cy="684.0" r="1.75" fill-opacity="0.75"/><circle cx="343.7" cy="684.0" r="1.75" fill-opacity="0.6"/><circle cx="353.1" cy="684.0" r="1.75" fill-opacity="0.3"/><circle cx="362.5" cy="684.0" r="1.75" fill-opacity="0.9"/><circle cx="371.9" cy="684.0" r="1.75" fill-opacity="0.45"/><circle cx="381.3" cy="684.0" r="1.75" fill-opacity="0.3"/><circle cx="390.7" cy="684.0" r="1.75" fill-opacity="0.9"/><circle cx="400.1" cy="684.0" r="1.75" fill-opacity="0.45"/><circle cx="409.5" cy="684.0" r="1.75" fill-opacity="0.6"/><circle cx="418.9" cy="684.0" r="1.75" fill-opacity="0.6"/><circle cx="428.3" cy="684.0" r="1.75" fill-opacity="0.6"/><circle cx="437.7" cy="684.0" r="1.75" fill-opacity="0.9"/><circle cx="447.1" cy="684.0" r="1.75" fill-opacity="0.9"/><circle cx="456.5" cy="684.0" r="1.75" fill-opacity="0.45"/><circle cx="465.9" cy="684.0" r="1.75" fill-opacity="0.3"/><circle cx="475.3" cy="684.0" r="1.75" fill-opacity="0.75"/><circle cx="484.7" cy="684.0" r="1.75" fill-opacity="0.3"/><circle cx="494.1" cy="684.0" r="1.75" fill-opacity="0.75"/><circle cx="503.5" cy="684.0" r="1.75" fill-opacity="0.6"/><circle cx="512.9" cy="684.0" r="1.75" fill-opacity="0.3"/><circle cx="522.3" cy="684.0" r="1.75" fill-opacity="0.45"/><circle cx="531.7" cy="684.0" r="1.75" fill-opacity="0.75"/><circle cx="541.1" cy="684.0" r="1.75" fill-opacity="0.6"/><circle cx="550.5" cy="684.0" r="1.75" fill-opacity="0.9"/><circle cx="559.9" cy="684.0" r="1.75" fill-opacity="0.6"/><circle cx="569.3" cy="684.0" r="1.75" fill-opacity="0.75"/><circle cx="578.7" cy="684.0" r="1.75" fill-opacity="0.75"/><circle cx="672.7" cy="684.0" r="1.75" fill-opacity="0.75"/><circle cx="682.1" cy="684.0" r="1.75" fill-opacity="0.3"/><circle cx="691.5" cy="684.0" r="1.75" fill-opacity="0.9"/><circle cx="700.9" cy="684.0" r="1.75" fill-opacity="0.45"/><circle cx="710.3" cy="684.0" r="1.75" fill-opacity="0.6"/><circle cx="719.7" cy="684.0" r="1.75" fill-opacity="0.3"/><circle cx="729.1" cy="684.0" r="1.75" fill-opacity="0.75"/><circle cx="738.5" cy="684.0" r="1.75" fill-opacity="0.3"/><circle cx="747.9" cy="684.0" r="1.75" fill-opacity="0.6"/><circle cx="757.3" cy="684.0" r="1.75" fill-opacity="0.75"/><circle cx="823.1" cy="684.0" r="1.75" fill-opacity="0.3"/><circle cx="832.5" cy="684.0" r="1.75" fill-opacity="0.9"/><circle cx="841.9" cy="684.0" r="1.75" fill-opacity="0.75"/><circle cx="851.3" cy="684.0" r="1.75" fill-opacity="0.6"/><circle cx="860.7" cy="684.0" r="1.75" fill-opacity="0.75"/><circle cx="870.1" cy="684.0" r="1.75" fill-opacity="0.45"/><circle cx="879.5" cy="684.0" r="1.75" fill-opacity="0.45"/><circle cx="888.9" cy="684.0" r="1.75" fill-opacity="0.3"/><circle cx="898.3" cy="684.0" r="1.75" fill-opacity="0.9"/><circle cx="907.7" cy="684.0" r="1.75" fill-opacity="0.3"/><circle cx="917.1" cy="684.0" r="1.75" fill-opacity="0.45"/><circle cx="926.5" cy="684.0" r="1.75" fill-opacity="0.9"/><circle cx="1001.7" cy="684.0" r="1.75" fill-opacity="0.6"/><circle cx="1011.1" cy="684.0" r="1.75" fill-opacity="0.6"/><circle cx="1020.5" cy="684.0" r="1.75" fill-opacity="0.45"/><circle cx="1029.9" cy="684.0" r="1.75" fill-opacity="0.9"/><circle cx="1039.3" cy="684.0" r="1.75" fill-opacity="0.9"/><circle cx="1048.7" cy="684.0" r="1.75" fill-opacity="0.6"/><circle cx="1058.1" cy="684.0" r="1.75" fill-opacity="0.3"/><circle cx="1067.5" cy="684.0" r="1.75" fill-opacity="0.6"/><circle cx="1076.9" cy="684.0" r="1.75" fill-opacity="0.45"/><circle cx="1086.3" cy="684.0" r="1.75" fill-opacity="0.75"/><circle cx="324.9" cy="693.4" r="1.75" fill-opacity="0.75"/><circle cx="334.3" cy="693.4" r="1.75" fill-opacity="0.75"/><circle cx="343.7" cy="693.4" r="1.75" fill-opacity="0.3"/><circle cx="353.1" cy="693.4" r="1.75" fill-opacity="0.45"/><circle cx="362.5" cy="693.4" r="1.75" fill-opacity="0.3"/><circle cx="371.9" cy="693.4" r="1.75" fill-opacity="0.75"/><circle cx="381.3" cy="693.4" r="1.75" fill-opacity="0.75"/><circle cx="390.7" cy="693.4" r="1.75" fill-opacity="0.75"/><circle cx="400.1" cy="693.4" r="1.75" fill-opacity="0.6"/><circle cx="409.5" cy="693.4" r="1.75" fill-opacity="0.45"/><circle cx="418.9" cy="693.4" r="1.75" fill-opacity="0.75"/><circle cx="428.3" cy="693.4" r="1.75" fill-opacity="0.6"/><circle cx="437.7" cy="693.4" r="1.75" fill-opacity="0.75"/><circle cx="447.1" cy="693.4" r="1.75" fill-opacity="0.6"/><circle cx="456.5" cy="693.4" r="1.75" fill-opacity="0.3"/><circle cx="465.9" cy="693.4" r="1.75" fill-opacity="0.6"/><circle cx="475.3" cy="693.4" r="1.75" fill-opacity="0.3"/><circle cx="484.7" cy="693.4" r="1.75" fill-opacity="0.6"/><circle cx="494.1" cy="693.4" r="1.75" fill-opacity="0.6"/><circle cx="503.5" cy="693.4" r="1.75" fill-opacity="0.75"/><circle cx="512.9" cy="693.4" r="1.75" fill-opacity="0.3"/><circle cx="522.3" cy="693.4" r="1.75" fill-opacity="0.45"/><circle cx="531.7" cy="693.4" r="1.75" fill-opacity="0.3"/><circle cx="541.1" cy="693.4" r="1.75" fill-opacity="0.6"/><circle cx="550.5" cy="693.4" r="1.75" fill-opacity="0.6"/><circle cx="559.9" cy="693.4" r="1.75" fill-opacity="0.6"/><circle cx="569.3" cy="693.4" r="1.75" fill-opacity="0.3"/><circle cx="578.7" cy="693.4" r="1.75" fill-opacity="0.75"/><circle cx="672.7" cy="693.4" r="1.75" fill-opacity="0.75"/><circle cx="682.1" cy="693.4" r="1.75" fill-opacity="0.9"/><circle cx="691.5" cy="693.4" r="1.75" fill-opacity="0.3"/><circle cx="700.9" cy="693.4" r="1.75" fill-opacity="0.6"/><circle cx="710.3" cy="693.4" r="1.75" fill-opacity="0.75"/><circle cx="719.7" cy="693.4" r="1.75" fill-opacity="0.6"/><circle cx="729.1" cy="693.4" r="1.75" fill-opacity="0.3"/><circle cx="738.5" cy="693.4" r="1.75" fill-opacity="0.6"/><circle cx="747.9" cy="693.4" r="1.75" fill-opacity="0.3"/><circle cx="757.3" cy="693.4" r="1.75" fill-opacity="0.3"/><circle cx="823.1" cy="693.4" r="1.75" fill-opacity="0.6"/><circle cx="832.5" cy="693.4" r="1.75" fill-opacity="0.45"/><circle cx="841.9" cy="693.4" r="1.75" fill-opacity="0.45"/><circle cx="851.3" cy="693.4" r="1.75" fill-opacity="0.6"/><circle cx="860.7" cy="693.4" r="1.75" fill-opacity="0.75"/><circle cx="870.1" cy="693.4" r="1.75" fill-opacity="0.9"/><circle cx="879.5" cy="693.4" r="1.75" fill-opacity="0.6"/><circle cx="888.9" cy="693.4" r="1.75" fill-opacity="0.45"/><circle cx="898.3" cy="693.4" r="1.75" fill-opacity="0.6"/><circle cx="907.7" cy="693.4" r="1.75" fill-opacity="0.75"/><circle cx="917.1" cy="693.4" r="1.75" fill-opacity="0.3"/><circle cx="926.5" cy="693.4" r="1.75" fill-opacity="0.75"/><circle cx="1001.7" cy="693.4" r="1.75" fill-opacity="0.9"/><circle cx="1011.1" cy="693.4" r="1.75" fill-opacity="0.9"/><circle cx="1020.5" cy="693.4" r="1.75" fill-opacity="0.45"/><circle cx="1029.9" cy="693.4" r="1.75" fill-opacity="0.3"/><circle cx="1039.3" cy="693.4" r="1.75" fill-opacity="0.3"/><circle cx="1048.7" cy="693.4" r="1.75" fill-opacity="0.75"/><circle cx="1058.1" cy="693.4" r="1.75" fill-opacity="0.75"/><circle cx="1067.5" cy="693.4" r="1.75" fill-opacity="0.9"/><circle cx="1076.9" cy="693.4" r="1.75" fill-opacity="0.45"/><circle cx="1086.3" cy="693.4" r="1.75" fill-opacity="0.6"/><circle cx="324.9" cy="702.8" r="1.75" fill-opacity="0.75"/><circle cx="334.3" cy="702.8" r="1.75" fill-opacity="0.3"/><circle cx="343.7" cy="702.8" r="1.75" fill-opacity="0.9"/><circle cx="353.1" cy="702.8" r="1.75" fill-opacity="0.45"/><circle cx="362.5" cy="702.8" r="1.75" fill-opacity="0.45"/><circle cx="371.9" cy="702.8" r="1.75" fill-opacity="0.75"/><circle cx="381.3" cy="702.8" r="1.75" fill-opacity="0.75"/><circle cx="390.7" cy="702.8" r="1.75" fill-opacity="0.6"/><circle cx="400.1" cy="702.8" r="1.75" fill-opacity="0.6"/><circle cx="409.5" cy="702.8" r="1.75" fill-opacity="0.6"/><circle cx="418.9" cy="702.8" r="1.75" fill-opacity="0.6"/><circle cx="428.3" cy="702.8" r="1.75" fill-opacity="0.6"/><circle cx="437.7" cy="702.8" r="1.75" fill-opacity="0.75"/><circle cx="447.1" cy="702.8" r="1.75" fill-opacity="0.45"/><circle cx="456.5" cy="702.8" r="1.75" fill-opacity="0.6"/><circle cx="465.9" cy="702.8" r="1.75" fill-opacity="0.75"/><circle cx="475.3" cy="702.8" r="1.75" fill-opacity="0.9"/><circle cx="484.7" cy="702.8" r="1.75" fill-opacity="0.75"/><circle cx="494.1" cy="702.8" r="1.75" fill-opacity="0.3"/><circle cx="503.5" cy="702.8" r="1.75" fill-opacity="0.45"/><circle cx="512.9" cy="702.8" r="1.75" fill-opacity="0.45"/><circle cx="522.3" cy="702.8" r="1.75" fill-opacity="0.3"/><circle cx="531.7" cy="702.8" r="1.75" fill-opacity="0.45"/><circle cx="541.1" cy="702.8" r="1.75" fill-opacity="0.9"/><circle cx="550.5" cy="702.8" r="1.75" fill-opacity="0.75"/><circle cx="559.9" cy="702.8" r="1.75" fill-opacity="0.9"/><circle cx="569.3" cy="702.8" r="1.75" fill-opacity="0.45"/><circle cx="578.7" cy="702.8" r="1.75" fill-opacity="0.75"/><circle cx="663.3" cy="702.8" r="1.75" fill-opacity="0.6"/><circle cx="672.7" cy="702.8" r="1.75" fill-opacity="0.75"/><circle cx="682.1" cy="702.8" r="1.75" fill-opacity="0.75"/><circle cx="691.5" cy="702.8" r="1.75" fill-opacity="0.45"/><circle cx="700.9" cy="702.8" r="1.75" fill-opacity="0.9"/><circle cx="710.3" cy="702.8" r="1.75" fill-opacity="0.45"/><circle cx="719.7" cy="702.8" r="1.75" fill-opacity="0.45"/><circle cx="729.1" cy="702.8" r="1.75" fill-opacity="0.3"/><circle cx="738.5" cy="702.8" r="1.75" fill-opacity="0.45"/><circle cx="747.9" cy="702.8" r="1.75" fill-opacity="0.6"/><circle cx="823.1" cy="702.8" r="1.75" fill-opacity="0.9"/><circle cx="832.5" cy="702.8" r="1.75" fill-opacity="0.3"/><circle cx="841.9" cy="702.8" r="1.75" fill-opacity="0.6"/><circle cx="851.3" cy="702.8" r="1.75" fill-opacity="0.45"/><circle cx="860.7" cy="702.8" r="1.75" fill-opacity="0.6"/><circle cx="870.1" cy="702.8" r="1.75" fill-opacity="0.6"/><circle cx="879.5" cy="702.8" r="1.75" fill-opacity="0.9"/><circle cx="888.9" cy="702.8" r="1.75" fill-opacity="0.45"/><circle cx="898.3" cy="702.8" r="1.75" fill-opacity="0.3"/><circle cx="907.7" cy="702.8" r="1.75" fill-opacity="0.75"/><circle cx="917.1" cy="702.8" r="1.75" fill-opacity="0.75"/><circle cx="926.5" cy="702.8" r="1.75" fill-opacity="0.75"/><circle cx="1001.7" cy="702.8" r="1.75" fill-opacity="0.9"/><circle cx="1011.1" cy="702.8" r="1.75" fill-opacity="0.45"/><circle cx="1020.5" cy="702.8" r="1.75" fill-opacity="0.75"/><circle cx="1029.9" cy="702.8" r="1.75" fill-opacity="0.6"/><circle cx="1039.3" cy="702.8" r="1.75" fill-opacity="0.6"/><circle cx="1048.7" cy="702.8" r="1.75" fill-opacity="0.3"/><circle cx="1058.1" cy="702.8" r="1.75" fill-opacity="0.75"/><circle cx="1067.5" cy="702.8" r="1.75" fill-opacity="0.6"/><circle cx="1076.9" cy="702.8" r="1.75" fill-opacity="0.9"/><circle cx="1086.3" cy="702.8" r="1.75" fill-opacity="0.6"/><circle cx="324.9" cy="712.2" r="1.75" fill-opacity="0.45"/><circle cx="334.3" cy="712.2" r="1.75" fill-opacity="0.9"/><circle cx="343.7" cy="712.2" r="1.75" fill-opacity="0.9"/><circle cx="353.1" cy="712.2" r="1.75" fill-opacity="0.45"/><circle cx="362.5" cy="712.2" r="1.75" fill-opacity="0.3"/><circle cx="371.9" cy="712.2" r="1.75" fill-opacity="0.6"/><circle cx="381.3" cy="712.2" r="1.75" fill-opacity="0.45"/><circle cx="390.7" cy="712.2" r="1.75" fill-opacity="0.75"/><circle cx="400.1" cy="712.2" r="1.75" fill-opacity="0.75"/><circle cx="409.5" cy="712.2" r="1.75" fill-opacity="0.75"/><circle cx="418.9" cy="712.2" r="1.75" fill-opacity="0.75"/><circle cx="428.3" cy="712.2" r="1.75" fill-opacity="0.6"/><circle cx="437.7" cy="712.2" r="1.75" fill-opacity="0.3"/><circle cx="447.1" cy="712.2" r="1.75" fill-opacity="0.45"/><circle cx="456.5" cy="712.2" r="1.75" fill-opacity="0.3"/><circle cx="465.9" cy="712.2" r="1.75" fill-opacity="0.75"/><circle cx="475.3" cy="712.2" r="1.75" fill-opacity="0.75"/><circle cx="484.7" cy="712.2" r="1.75" fill-opacity="0.9"/><circle cx="494.1" cy="712.2" r="1.75" fill-opacity="0.75"/><circle cx="503.5" cy="712.2" r="1.75" fill-opacity="0.3"/><circle cx="512.9" cy="712.2" r="1.75" fill-opacity="0.3"/><circle cx="522.3" cy="712.2" r="1.75" fill-opacity="0.75"/><circle cx="531.7" cy="712.2" r="1.75" fill-opacity="0.9"/><circle cx="541.1" cy="712.2" r="1.75" fill-opacity="0.75"/><circle cx="550.5" cy="712.2" r="1.75" fill-opacity="0.75"/><circle cx="559.9" cy="712.2" r="1.75" fill-opacity="0.45"/><circle cx="569.3" cy="712.2" r="1.75" fill-opacity="0.3"/><circle cx="578.7" cy="712.2" r="1.75" fill-opacity="0.45"/><circle cx="663.3" cy="712.2" r="1.75" fill-opacity="0.45"/><circle cx="672.7" cy="712.2" r="1.75" fill-opacity="0.45"/><circle cx="682.1" cy="712.2" r="1.75" fill-opacity="0.9"/><circle cx="691.5" cy="712.2" r="1.75" fill-opacity="0.3"/><circle cx="700.9" cy="712.2" r="1.75" fill-opacity="0.75"/><circle cx="710.3" cy="712.2" r="1.75" fill-opacity="0.3"/><circle cx="719.7" cy="712.2" r="1.75" fill-opacity="0.9"/><circle cx="729.1" cy="712.2" r="1.75" fill-opacity="0.3"/><circle cx="738.5" cy="712.2" r="1.75" fill-opacity="0.3"/><circle cx="747.9" cy="712.2" r="1.75" fill-opacity="0.45"/><circle cx="823.1" cy="712.2" r="1.75" fill-opacity="0.45"/><circle cx="832.5" cy="712.2" r="1.75" fill-opacity="0.9"/><circle cx="841.9" cy="712.2" r="1.75" fill-opacity="0.3"/><circle cx="851.3" cy="712.2" r="1.75" fill-opacity="0.6"/><circle cx="860.7" cy="712.2" r="1.75" fill-opacity="0.45"/><circle cx="870.1" cy="712.2" r="1.75" fill-opacity="0.6"/><circle cx="879.5" cy="712.2" r="1.75" fill-opacity="0.9"/><circle cx="888.9" cy="712.2" r="1.75" fill-opacity="0.75"/><circle cx="898.3" cy="712.2" r="1.75" fill-opacity="0.3"/><circle cx="907.7" cy="712.2" r="1.75" fill-opacity="0.3"/><circle cx="917.1" cy="712.2" r="1.75" fill-opacity="0.3"/><circle cx="926.5" cy="712.2" r="1.75" fill-opacity="0.6"/><circle cx="1001.7" cy="712.2" r="1.75" fill-opacity="0.9"/><circle cx="1011.1" cy="712.2" r="1.75" fill-opacity="0.9"/><circle cx="1020.5" cy="712.2" r="1.75" fill-opacity="0.45"/><circle cx="1029.9" cy="712.2" r="1.75" fill-opacity="0.75"/><circle cx="1039.3" cy="712.2" r="1.75" fill-opacity="0.6"/><circle cx="1048.7" cy="712.2" r="1.75" fill-opacity="0.45"/><circle cx="1058.1" cy="712.2" r="1.75" fill-opacity="0.9"/><circle cx="1067.5" cy="712.2" r="1.75" fill-opacity="0.3"/><circle cx="1076.9" cy="712.2" r="1.75" fill-opacity="0.3"/><circle cx="1086.3" cy="712.2" r="1.75" fill-opacity="0.9"/><circle cx="324.9" cy="721.6" r="1.75" fill-opacity="0.6"/><circle cx="334.3" cy="721.6" r="1.75" fill-opacity="0.75"/><circle cx="343.7" cy="721.6" r="1.75" fill-opacity="0.6"/><circle cx="353.1" cy="721.6" r="1.75" fill-opacity="0.6"/><circle cx="362.5" cy="721.6" r="1.75" fill-opacity="0.45"/><circle cx="371.9" cy="721.6" r="1.75" fill-opacity="0.75"/><circle cx="381.3" cy="721.6" r="1.75" fill-opacity="0.9"/><circle cx="390.7" cy="721.6" r="1.75" fill-opacity="0.45"/><circle cx="400.1" cy="721.6" r="1.75" fill-opacity="0.9"/><circle cx="409.5" cy="721.6" r="1.75" fill-opacity="0.45"/><circle cx="418.9" cy="721.6" r="1.75" fill-opacity="0.3"/><circle cx="428.3" cy="721.6" r="1.75" fill-opacity="0.75"/><circle cx="437.7" cy="721.6" r="1.75" fill-opacity="0.6"/><circle cx="447.1" cy="721.6" r="1.75" fill-opacity="0.3"/><circle cx="456.5" cy="721.6" r="1.75" fill-opacity="0.3"/><circle cx="465.9" cy="721.6" r="1.75" fill-opacity="0.45"/><circle cx="475.3" cy="721.6" r="1.75" fill-opacity="0.75"/><circle cx="484.7" cy="721.6" r="1.75" fill-opacity="0.75"/><circle cx="494.1" cy="721.6" r="1.75" fill-opacity="0.3"/><circle cx="503.5" cy="721.6" r="1.75" fill-opacity="0.6"/><circle cx="512.9" cy="721.6" r="1.75" fill-opacity="0.45"/><circle cx="522.3" cy="721.6" r="1.75" fill-opacity="0.75"/><circle cx="531.7" cy="721.6" r="1.75" fill-opacity="0.6"/><circle cx="541.1" cy="721.6" r="1.75" fill-opacity="0.45"/><circle cx="550.5" cy="721.6" r="1.75" fill-opacity="0.75"/><circle cx="559.9" cy="721.6" r="1.75" fill-opacity="0.3"/><circle cx="569.3" cy="721.6" r="1.75" fill-opacity="0.6"/><circle cx="578.7" cy="721.6" r="1.75" fill-opacity="0.75"/><circle cx="653.9" cy="721.6" r="1.75" fill-opacity="0.6"/><circle cx="663.3" cy="721.6" r="1.75" fill-opacity="0.75"/><circle cx="672.7" cy="721.6" r="1.75" fill-opacity="0.45"/><circle cx="682.1" cy="721.6" r="1.75" fill-opacity="0.3"/><circle cx="691.5" cy="721.6" r="1.75" fill-opacity="0.6"/><circle cx="700.9" cy="721.6" r="1.75" fill-opacity="0.9"/><circle cx="710.3" cy="721.6" r="1.75" fill-opacity="0.3"/><circle cx="719.7" cy="721.6" r="1.75" fill-opacity="0.45"/><circle cx="729.1" cy="721.6" r="1.75" fill-opacity="0.75"/><circle cx="738.5" cy="721.6" r="1.75" fill-opacity="0.45"/><circle cx="747.9" cy="721.6" r="1.75" fill-opacity="0.6"/><circle cx="823.1" cy="721.6" r="1.75" fill-opacity="0.45"/><circle cx="832.5" cy="721.6" r="1.75" fill-opacity="0.45"/><circle cx="841.9" cy="721.6" r="1.75" fill-opacity="0.75"/><circle cx="851.3" cy="721.6" r="1.75" fill-opacity="0.45"/><circle cx="860.7" cy="721.6" r="1.75" fill-opacity="0.6"/><circle cx="870.1" cy="721.6" r="1.75" fill-opacity="0.6"/><circle cx="879.5" cy="721.6" r="1.75" fill-opacity="0.3"/><circle cx="888.9" cy="721.6" r="1.75" fill-opacity="0.9"/><circle cx="898.3" cy="721.6" r="1.75" fill-opacity="0.75"/><circle cx="907.7" cy="721.6" r="1.75" fill-opacity="0.9"/><circle cx="917.1" cy="721.6" r="1.75" fill-opacity="0.45"/><circle cx="926.5" cy="721.6" r="1.75" fill-opacity="0.45"/><circle cx="1001.7" cy="721.6" r="1.75" fill-opacity="0.75"/><circle cx="1011.1" cy="721.6" r="1.75" fill-opacity="0.75"/><circle cx="1020.5" cy="721.6" r="1.75" fill-opacity="0.3"/><circle cx="1029.9" cy="721.6" r="1.75" fill-opacity="0.9"/><circle cx="1039.3" cy="721.6" r="1.75" fill-opacity="0.45"/><circle cx="1048.7" cy="721.6" r="1.75" fill-opacity="0.75"/><circle cx="1058.1" cy="721.6" r="1.75" fill-opacity="0.3"/><circle cx="1067.5" cy="721.6" r="1.75" fill-opacity="0.45"/><circle cx="1076.9" cy="721.6" r="1.75" fill-opacity="0.3"/><circle cx="1086.3" cy="721.6" r="1.75" fill-opacity="0.9"/><circle cx="324.9" cy="731.0" r="1.75" fill-opacity="0.45"/><circle cx="334.3" cy="731.0" r="1.75" fill-opacity="0.75"/><circle cx="343.7" cy="731.0" r="1.75" fill-opacity="0.3"/><circle cx="353.1" cy="731.0" r="1.75" fill-opacity="0.3"/><circle cx="362.5" cy="731.0" r="1.75" fill-opacity="0.45"/><circle cx="371.9" cy="731.0" r="1.75" fill-opacity="0.75"/><circle cx="381.3" cy="731.0" r="1.75" fill-opacity="0.75"/><circle cx="390.7" cy="731.0" r="1.75" fill-opacity="0.6"/><circle cx="400.1" cy="731.0" r="1.75" fill-opacity="0.3"/><circle cx="409.5" cy="731.0" r="1.75" fill-opacity="0.3"/><circle cx="418.9" cy="731.0" r="1.75" fill-opacity="0.45"/><circle cx="428.3" cy="731.0" r="1.75" fill-opacity="0.6"/><circle cx="437.7" cy="731.0" r="1.75" fill-opacity="0.45"/><circle cx="447.1" cy="731.0" r="1.75" fill-opacity="0.45"/><circle cx="456.5" cy="731.0" r="1.75" fill-opacity="0.9"/><circle cx="465.9" cy="731.0" r="1.75" fill-opacity="0.75"/><circle cx="475.3" cy="731.0" r="1.75" fill-opacity="0.3"/><circle cx="484.7" cy="731.0" r="1.75" fill-opacity="0.6"/><circle cx="494.1" cy="731.0" r="1.75" fill-opacity="0.75"/><circle cx="503.5" cy="731.0" r="1.75" fill-opacity="0.6"/><circle cx="512.9" cy="731.0" r="1.75" fill-opacity="0.6"/><circle cx="522.3" cy="731.0" r="1.75" fill-opacity="0.75"/><circle cx="531.7" cy="731.0" r="1.75" fill-opacity="0.45"/><circle cx="541.1" cy="731.0" r="1.75" fill-opacity="0.3"/><circle cx="550.5" cy="731.0" r="1.75" fill-opacity="0.3"/><circle cx="559.9" cy="731.0" r="1.75" fill-opacity="0.3"/><circle cx="569.3" cy="731.0" r="1.75" fill-opacity="0.6"/><circle cx="578.7" cy="731.0" r="1.75" fill-opacity="0.3"/><circle cx="653.9" cy="731.0" r="1.75" fill-opacity="0.6"/><circle cx="663.3" cy="731.0" r="1.75" fill-opacity="0.75"/><circle cx="672.7" cy="731.0" r="1.75" fill-opacity="0.3"/><circle cx="682.1" cy="731.0" r="1.75" fill-opacity="0.9"/><circle cx="691.5" cy="731.0" r="1.75" fill-opacity="0.45"/><circle cx="700.9" cy="731.0" r="1.75" fill-opacity="0.75"/><circle cx="710.3" cy="731.0" r="1.75" fill-opacity="0.6"/><circle cx="719.7" cy="731.0" r="1.75" fill-opacity="0.6"/><circle cx="729.1" cy="731.0" r="1.75" fill-opacity="0.75"/><circle cx="738.5" cy="731.0" r="1.75" fill-opacity="0.3"/><circle cx="747.9" cy="731.0" r="1.75" fill-opacity="0.3"/><circle cx="823.1" cy="731.0" r="1.75" fill-opacity="0.75"/><circle cx="832.5" cy="731.0" r="1.75" fill-opacity="0.45"/><circle cx="841.9" cy="731.0" r="1.75" fill-opacity="0.6"/><circle cx="851.3" cy="731.0" r="1.75" fill-opacity="0.9"/><circle cx="860.7" cy="731.0" r="1.75" fill-opacity="0.75"/><circle cx="870.1" cy="731.0" r="1.75" fill-opacity="0.45"/><circle cx="879.5" cy="731.0" r="1.75" fill-opacity="0.6"/><circle cx="888.9" cy="731.0" r="1.75" fill-opacity="0.6"/><circle cx="898.3" cy="731.0" r="1.75" fill-opacity="0.75"/><circle cx="907.7" cy="731.0" r="1.75" fill-opacity="0.3"/><circle cx="917.1" cy="731.0" r="1.75" fill-opacity="0.75"/><circle cx="926.5" cy="731.0" r="1.75" fill-opacity="0.45"/><circle cx="1001.7" cy="731.0" r="1.75" fill-opacity="0.75"/><circle cx="1011.1" cy="731.0" r="1.75" fill-opacity="0.3"/><circle cx="1020.5" cy="731.0" r="1.75" fill-opacity="0.75"/><circle cx="1029.9" cy="731.0" r="1.75" fill-opacity="0.3"/><circle cx="1039.3" cy="731.0" r="1.75" fill-opacity="0.75"/><circle cx="1048.7" cy="731.0" r="1.75" fill-opacity="0.3"/><circle cx="1058.1" cy="731.0" r="1.75" fill-opacity="0.3"/><circle cx="1067.5" cy="731.0" r="1.75" fill-opacity="0.6"/><circle cx="1076.9" cy="731.0" r="1.75" fill-opacity="0.45"/><circle cx="1086.3" cy="731.0" r="1.75" fill-opacity="0.3"/><circle cx="324.9" cy="740.4" r="1.75" fill-opacity="0.9"/><circle cx="334.3" cy="740.4" r="1.75" fill-opacity="0.6"/><circle cx="343.7" cy="740.4" r="1.75" fill-opacity="0.6"/><circle cx="353.1" cy="740.4" r="1.75" fill-opacity="0.6"/><circle cx="362.5" cy="740.4" r="1.75" fill-opacity="0.6"/><circle cx="371.9" cy="740.4" r="1.75" fill-opacity="0.9"/><circle cx="381.3" cy="740.4" r="1.75" fill-opacity="0.3"/><circle cx="390.7" cy="740.4" r="1.75" fill-opacity="0.6"/><circle cx="400.1" cy="740.4" r="1.75" fill-opacity="0.6"/><circle cx="409.5" cy="740.4" r="1.75" fill-opacity="0.6"/><circle cx="418.9" cy="740.4" r="1.75" fill-opacity="0.6"/><circle cx="428.3" cy="740.4" r="1.75" fill-opacity="0.3"/><circle cx="437.7" cy="740.4" r="1.75" fill-opacity="0.9"/><circle cx="447.1" cy="740.4" r="1.75" fill-opacity="0.3"/><circle cx="456.5" cy="740.4" r="1.75" fill-opacity="0.3"/><circle cx="465.9" cy="740.4" r="1.75" fill-opacity="0.45"/><circle cx="475.3" cy="740.4" r="1.75" fill-opacity="0.3"/><circle cx="484.7" cy="740.4" r="1.75" fill-opacity="0.75"/><circle cx="494.1" cy="740.4" r="1.75" fill-opacity="0.75"/><circle cx="503.5" cy="740.4" r="1.75" fill-opacity="0.75"/><circle cx="512.9" cy="740.4" r="1.75" fill-opacity="0.6"/><circle cx="522.3" cy="740.4" r="1.75" fill-opacity="0.75"/><circle cx="531.7" cy="740.4" r="1.75" fill-opacity="0.75"/><circle cx="541.1" cy="740.4" r="1.75" fill-opacity="0.45"/><circle cx="550.5" cy="740.4" r="1.75" fill-opacity="0.75"/><circle cx="559.9" cy="740.4" r="1.75" fill-opacity="0.45"/><circle cx="569.3" cy="740.4" r="1.75" fill-opacity="0.3"/><circle cx="578.7" cy="740.4" r="1.75" fill-opacity="0.6"/><circle cx="644.5" cy="740.4" r="1.75" fill-opacity="0.45"/><circle cx="653.9" cy="740.4" r="1.75" fill-opacity="0.9"/><circle cx="663.3" cy="740.4" r="1.75" fill-opacity="0.45"/><circle cx="672.7" cy="740.4" r="1.75" fill-opacity="0.6"/><circle cx="682.1" cy="740.4" r="1.75" fill-opacity="0.6"/><circle cx="691.5" cy="740.4" r="1.75" fill-opacity="0.75"/><circle cx="700.9" cy="740.4" r="1.75" fill-opacity="0.6"/><circle cx="710.3" cy="740.4" r="1.75" fill-opacity="0.9"/><circle cx="719.7" cy="740.4" r="1.75" fill-opacity="0.3"/><circle cx="729.1" cy="740.4" r="1.75" fill-opacity="0.9"/><circle cx="738.5" cy="740.4" r="1.75" fill-opacity="0.45"/><circle cx="747.9" cy="740.4" r="1.75" fill-opacity="0.75"/><circle cx="776.1" cy="740.4" r="1.75" fill-opacity="0.45"/><circle cx="785.5" cy="740.4" r="1.75" fill-opacity="0.45"/><circle cx="794.9" cy="740.4" r="1.75" fill-opacity="0.75"/><circle cx="804.3" cy="740.4" r="1.75" fill-opacity="0.3"/><circle cx="813.7" cy="740.4" r="1.75" fill-opacity="0.3"/><circle cx="823.1" cy="740.4" r="1.75" fill-opacity="0.75"/><circle cx="832.5" cy="740.4" r="1.75" fill-opacity="0.9"/><circle cx="841.9" cy="740.4" r="1.75" fill-opacity="0.9"/><circle cx="851.3" cy="740.4" r="1.75" fill-opacity="0.6"/><circle cx="1001.7" cy="740.4" r="1.75" fill-opacity="0.45"/><circle cx="1011.1" cy="740.4" r="1.75" fill-opacity="0.75"/><circle cx="1020.5" cy="740.4" r="1.75" fill-opacity="0.3"/><circle cx="1029.9" cy="740.4" r="1.75" fill-opacity="0.3"/><circle cx="1039.3" cy="740.4" r="1.75" fill-opacity="0.6"/><circle cx="1048.7" cy="740.4" r="1.75" fill-opacity="0.9"/><circle cx="1058.1" cy="740.4" r="1.75" fill-opacity="0.3"/><circle cx="1067.5" cy="740.4" r="1.75" fill-opacity="0.45"/><circle cx="1076.9" cy="740.4" r="1.75" fill-opacity="0.3"/><circle cx="1086.3" cy="740.4" r="1.75" fill-opacity="0.75"/><circle cx="296.7" cy="749.8" r="1.75" fill-opacity="0.75"/><circle cx="306.1" cy="749.8" r="1.75" fill-opacity="0.75"/><circle cx="315.5" cy="749.8" r="1.75" fill-opacity="0.45"/><circle cx="324.9" cy="749.8" r="1.75" fill-opacity="0.45"/><circle cx="334.3" cy="749.8" r="1.75" fill-opacity="0.45"/><circle cx="343.7" cy="749.8" r="1.75" fill-opacity="0.75"/><circle cx="353.1" cy="749.8" r="1.75" fill-opacity="0.75"/><circle cx="362.5" cy="749.8" r="1.75" fill-opacity="0.9"/><circle cx="371.9" cy="749.8" r="1.75" fill-opacity="0.45"/><circle cx="381.3" cy="749.8" r="1.75" fill-opacity="0.9"/><circle cx="390.7" cy="749.8" r="1.75" fill-opacity="0.3"/><circle cx="400.1" cy="749.8" r="1.75" fill-opacity="0.6"/><circle cx="409.5" cy="749.8" r="1.75" fill-opacity="0.6"/><circle cx="418.9" cy="749.8" r="1.75" fill-opacity="0.6"/><circle cx="428.3" cy="749.8" r="1.75" fill-opacity="0.9"/><circle cx="437.7" cy="749.8" r="1.75" fill-opacity="0.6"/><circle cx="447.1" cy="749.8" r="1.75" fill-opacity="0.6"/><circle cx="456.5" cy="749.8" r="1.75" fill-opacity="0.6"/><circle cx="465.9" cy="749.8" r="1.75" fill-opacity="0.6"/><circle cx="475.3" cy="749.8" r="1.75" fill-opacity="0.45"/><circle cx="484.7" cy="749.8" r="1.75" fill-opacity="0.75"/><circle cx="494.1" cy="749.8" r="1.75" fill-opacity="0.45"/><circle cx="503.5" cy="749.8" r="1.75" fill-opacity="0.45"/><circle cx="512.9" cy="749.8" r="1.75" fill-opacity="0.45"/><circle cx="522.3" cy="749.8" r="1.75" fill-opacity="0.45"/><circle cx="531.7" cy="749.8" r="1.75" fill-opacity="0.45"/><circle cx="541.1" cy="749.8" r="1.75" fill-opacity="0.6"/><circle cx="550.5" cy="749.8" r="1.75" fill-opacity="0.9"/><circle cx="644.5" cy="749.8" r="1.75" fill-opacity="0.45"/><circle cx="653.9" cy="749.8" r="1.75" fill-opacity="0.6"/><circle cx="663.3" cy="749.8" r="1.75" fill-opacity="0.3"/><circle cx="672.7" cy="749.8" r="1.75" fill-opacity="0.75"/><circle cx="682.1" cy="749.8" r="1.75" fill-opacity="0.6"/><circle cx="691.5" cy="749.8" r="1.75" fill-opacity="0.45"/><circle cx="700.9" cy="749.8" r="1.75" fill-opacity="0.9"/><circle cx="710.3" cy="749.8" r="1.75" fill-opacity="0.9"/><circle cx="719.7" cy="749.8" r="1.75" fill-opacity="0.45"/><circle cx="729.1" cy="749.8" r="1.75" fill-opacity="0.3"/><circle cx="738.5" cy="749.8" r="1.75" fill-opacity="0.75"/><circle cx="747.9" cy="749.8" r="1.75" fill-opacity="0.3"/><circle cx="776.1" cy="749.8" r="1.75" fill-opacity="0.3"/><circle cx="785.5" cy="749.8" r="1.75" fill-opacity="0.3"/><circle cx="794.9" cy="749.8" r="1.75" fill-opacity="0.75"/><circle cx="804.3" cy="749.8" r="1.75" fill-opacity="0.45"/><circle cx="813.7" cy="749.8" r="1.75" fill-opacity="0.75"/><circle cx="823.1" cy="749.8" r="1.75" fill-opacity="0.6"/><circle cx="832.5" cy="749.8" r="1.75" fill-opacity="0.3"/><circle cx="841.9" cy="749.8" r="1.75" fill-opacity="0.6"/><circle cx="851.3" cy="749.8" r="1.75" fill-opacity="0.45"/><circle cx="1001.7" cy="749.8" r="1.75" fill-opacity="0.3"/><circle cx="1011.1" cy="749.8" r="1.75" fill-opacity="0.3"/><circle cx="1020.5" cy="749.8" r="1.75" fill-opacity="0.45"/><circle cx="1029.9" cy="749.8" r="1.75" fill-opacity="0.9"/><circle cx="1039.3" cy="749.8" r="1.75" fill-opacity="0.9"/><circle cx="1048.7" cy="749.8" r="1.75" fill-opacity="0.45"/><circle cx="1058.1" cy="749.8" r="1.75" fill-opacity="0.3"/><circle cx="1067.5" cy="749.8" r="1.75" fill-opacity="0.6"/><circle cx="1076.9" cy="749.8" r="1.75" fill-opacity="0.9"/><circle cx="1086.3" cy="749.8" r="1.75" fill-opacity="0.45"/><circle cx="296.7" cy="759.2" r="1.75" fill-opacity="0.75"/><circle cx="306.1" cy="759.2" r="1.75" fill-opacity="0.9"/><circle cx="315.5" cy="759.2" r="1.75" fill-opacity="0.6"/><circle cx="324.9" cy="759.2" r="1.75" fill-opacity="0.3"/><circle cx="334.3" cy="759.2" r="1.75" fill-opacity="0.3"/><circle cx="343.7" cy="759.2" r="1.75" fill-opacity="0.9"/><circle cx="353.1" cy="759.2" r="1.75" fill-opacity="0.9"/><circle cx="362.5" cy="759.2" r="1.75" fill-opacity="0.6"/><circle cx="371.9" cy="759.2" r="1.75" fill-opacity="0.45"/><circle cx="381.3" cy="759.2" r="1.75" fill-opacity="0.3"/><circle cx="390.7" cy="759.2" r="1.75" fill-opacity="0.6"/><circle cx="400.1" cy="759.2" r="1.75" fill-opacity="0.6"/><circle cx="409.5" cy="759.2" r="1.75" fill-opacity="0.45"/><circle cx="418.9" cy="759.2" r="1.75" fill-opacity="0.3"/><circle cx="428.3" cy="759.2" r="1.75" fill-opacity="0.45"/><circle cx="437.7" cy="759.2" r="1.75" fill-opacity="0.6"/><circle cx="447.1" cy="759.2" r="1.75" fill-opacity="0.3"/><circle cx="456.5" cy="759.2" r="1.75" fill-opacity="0.9"/><circle cx="465.9" cy="759.2" r="1.75" fill-opacity="0.45"/><circle cx="475.3" cy="759.2" r="1.75" fill-opacity="0.3"/><circle cx="484.7" cy="759.2" r="1.75" fill-opacity="0.6"/><circle cx="494.1" cy="759.2" r="1.75" fill-opacity="0.75"/><circle cx="503.5" cy="759.2" r="1.75" fill-opacity="0.6"/><circle cx="512.9" cy="759.2" r="1.75" fill-opacity="0.45"/><circle cx="522.3" cy="759.2" r="1.75" fill-opacity="0.9"/><circle cx="531.7" cy="759.2" r="1.75" fill-opacity="0.6"/><circle cx="541.1" cy="759.2" r="1.75" fill-opacity="0.3"/><circle cx="550.5" cy="759.2" r="1.75" fill-opacity="0.45"/><circle cx="635.1" cy="759.2" r="1.75" fill-opacity="0.3"/><circle cx="644.5" cy="759.2" r="1.75" fill-opacity="0.75"/><circle cx="653.9" cy="759.2" r="1.75" fill-opacity="0.9"/><circle cx="663.3" cy="759.2" r="1.75" fill-opacity="0.75"/><circle cx="672.7" cy="759.2" r="1.75" fill-opacity="0.3"/><circle cx="682.1" cy="759.2" r="1.75" fill-opacity="0.75"/><circle cx="691.5" cy="759.2" r="1.75" fill-opacity="0.3"/><circle cx="700.9" cy="759.2" r="1.75" fill-opacity="0.75"/><circle cx="710.3" cy="759.2" r="1.75" fill-opacity="0.9"/><circle cx="719.7" cy="759.2" r="1.75" fill-opacity="0.45"/><circle cx="729.1" cy="759.2" r="1.75" fill-opacity="0.9"/><circle cx="738.5" cy="759.2" r="1.75" fill-opacity="0.3"/><circle cx="776.1" cy="759.2" r="1.75" fill-opacity="0.45"/><circle cx="785.5" cy="759.2" r="1.75" fill-opacity="0.75"/><circle cx="794.9" cy="759.2" r="1.75" fill-opacity="0.6"/><circle cx="804.3" cy="759.2" r="1.75" fill-opacity="0.75"/><circle cx="813.7" cy="759.2" r="1.75" fill-opacity="0.6"/><circle cx="823.1" cy="759.2" r="1.75" fill-opacity="0.6"/><circle cx="832.5" cy="759.2" r="1.75" fill-opacity="0.75"/><circle cx="841.9" cy="759.2" r="1.75" fill-opacity="0.3"/><circle cx="851.3" cy="759.2" r="1.75" fill-opacity="0.6"/><circle cx="1001.7" cy="759.2" r="1.75" fill-opacity="0.9"/><circle cx="1011.1" cy="759.2" r="1.75" fill-opacity="0.6"/><circle cx="1020.5" cy="759.2" r="1.75" fill-opacity="0.75"/><circle cx="1029.9" cy="759.2" r="1.75" fill-opacity="0.75"/><circle cx="1039.3" cy="759.2" r="1.75" fill-opacity="0.3"/><circle cx="1048.7" cy="759.2" r="1.75" fill-opacity="0.6"/><circle cx="1058.1" cy="759.2" r="1.75" fill-opacity="0.45"/><circle cx="1067.5" cy="759.2" r="1.75" fill-opacity="0.75"/><circle cx="1076.9" cy="759.2" r="1.75" fill-opacity="0.75"/><circle cx="1086.3" cy="759.2" r="1.75" fill-opacity="0.45"/><circle cx="296.7" cy="768.6" r="1.75" fill-opacity="0.3"/><circle cx="306.1" cy="768.6" r="1.75" fill-opacity="0.75"/><circle cx="315.5" cy="768.6" r="1.75" fill-opacity="0.45"/><circle cx="324.9" cy="768.6" r="1.75" fill-opacity="0.75"/><circle cx="334.3" cy="768.6" r="1.75" fill-opacity="0.3"/><circle cx="343.7" cy="768.6" r="1.75" fill-opacity="0.3"/><circle cx="353.1" cy="768.6" r="1.75" fill-opacity="0.75"/><circle cx="362.5" cy="768.6" r="1.75" fill-opacity="0.9"/><circle cx="371.9" cy="768.6" r="1.75" fill-opacity="0.6"/><circle cx="381.3" cy="768.6" r="1.75" fill-opacity="0.75"/><circle cx="390.7" cy="768.6" r="1.75" fill-opacity="0.45"/><circle cx="400.1" cy="768.6" r="1.75" fill-opacity="0.45"/><circle cx="409.5" cy="768.6" r="1.75" fill-opacity="0.3"/><circle cx="418.9" cy="768.6" r="1.75" fill-opacity="0.3"/><circle cx="428.3" cy="768.6" r="1.75" fill-opacity="0.9"/><circle cx="437.7" cy="768.6" r="1.75" fill-opacity="0.45"/><circle cx="447.1" cy="768.6" r="1.75" fill-opacity="0.75"/><circle cx="456.5" cy="768.6" r="1.75" fill-opacity="0.3"/><circle cx="465.9" cy="768.6" r="1.75" fill-opacity="0.9"/><circle cx="475.3" cy="768.6" r="1.75" fill-opacity="0.9"/><circle cx="484.7" cy="768.6" r="1.75" fill-opacity="0.6"/><circle cx="494.1" cy="768.6" r="1.75" fill-opacity="0.9"/><circle cx="503.5" cy="768.6" r="1.75" fill-opacity="0.45"/><circle cx="512.9" cy="768.6" r="1.75" fill-opacity="0.45"/><circle cx="522.3" cy="768.6" r="1.75" fill-opacity="0.6"/><circle cx="531.7" cy="768.6" r="1.75" fill-opacity="0.6"/><circle cx="541.1" cy="768.6" r="1.75" fill-opacity="0.45"/><circle cx="550.5" cy="768.6" r="1.75" fill-opacity="0.9"/><circle cx="635.1" cy="768.6" r="1.75" fill-opacity="0.45"/><circle cx="644.5" cy="768.6" r="1.75" fill-opacity="0.3"/><circle cx="653.9" cy="768.6" r="1.75" fill-opacity="0.3"/><circle cx="663.3" cy="768.6" r="1.75" fill-opacity="0.75"/><circle cx="672.7" cy="768.6" r="1.75" fill-opacity="0.75"/><circle cx="682.1" cy="768.6" r="1.75" fill-opacity="0.45"/><circle cx="691.5" cy="768.6" r="1.75" fill-opacity="0.6"/><circle cx="700.9" cy="768.6" r="1.75" fill-opacity="0.45"/><circle cx="710.3" cy="768.6" r="1.75" fill-opacity="0.3"/><circle cx="719.7" cy="768.6" r="1.75" fill-opacity="0.75"/><circle cx="729.1" cy="768.6" r="1.75" fill-opacity="0.6"/><circle cx="738.5" cy="768.6" r="1.75" fill-opacity="0.3"/><circle cx="776.1" cy="768.6" r="1.75" fill-opacity="0.9"/><circle cx="785.5" cy="768.6" r="1.75" fill-opacity="0.75"/><circle cx="794.9" cy="768.6" r="1.75" fill-opacity="0.3"/><circle cx="804.3" cy="768.6" r="1.75" fill-opacity="0.9"/><circle cx="813.7" cy="768.6" r="1.75" fill-opacity="0.45"/><circle cx="823.1" cy="768.6" r="1.75" fill-opacity="0.45"/><circle cx="832.5" cy="768.6" r="1.75" fill-opacity="0.9"/><circle cx="841.9" cy="768.6" r="1.75" fill-opacity="0.75"/><circle cx="851.3" cy="768.6" r="1.75" fill-opacity="0.9"/><circle cx="1001.7" cy="768.6" r="1.75" fill-opacity="0.45"/><circle cx="1011.1" cy="768.6" r="1.75" fill-opacity="0.75"/><circle cx="1020.5" cy="768.6" r="1.75" fill-opacity="0.45"/><circle cx="1029.9" cy="768.6" r="1.75" fill-opacity="0.9"/><circle cx="1039.3" cy="768.6" r="1.75" fill-opacity="0.45"/><circle cx="1048.7" cy="768.6" r="1.75" fill-opacity="0.3"/><circle cx="1058.1" cy="768.6" r="1.75" fill-opacity="0.75"/><circle cx="1067.5" cy="768.6" r="1.75" fill-opacity="0.9"/><circle cx="1076.9" cy="768.6" r="1.75" fill-opacity="0.45"/><circle cx="1086.3" cy="768.6" r="1.75" fill-opacity="0.75"/><circle cx="296.7" cy="778.0" r="1.75" fill-opacity="0.6"/><circle cx="306.1" cy="778.0" r="1.75" fill-opacity="0.3"/><circle cx="315.5" cy="778.0" r="1.75" fill-opacity="0.45"/><circle cx="324.9" cy="778.0" r="1.75" fill-opacity="0.45"/><circle cx="334.3" cy="778.0" r="1.75" fill-opacity="0.45"/><circle cx="343.7" cy="778.0" r="1.75" fill-opacity="0.3"/><circle cx="353.1" cy="778.0" r="1.75" fill-opacity="0.9"/><circle cx="362.5" cy="778.0" r="1.75" fill-opacity="0.3"/><circle cx="371.9" cy="778.0" r="1.75" fill-opacity="0.6"/><circle cx="381.3" cy="778.0" r="1.75" fill-opacity="0.3"/><circle cx="390.7" cy="778.0" r="1.75" fill-opacity="0.75"/><circle cx="400.1" cy="778.0" r="1.75" fill-opacity="0.9"/><circle cx="409.5" cy="778.0" r="1.75" fill-opacity="0.75"/><circle cx="418.9" cy="778.0" r="1.75" fill-opacity="0.9"/><circle cx="428.3" cy="778.0" r="1.75" fill-opacity="0.6"/><circle cx="437.7" cy="778.0" r="1.75" fill-opacity="0.75"/><circle cx="447.1" cy="778.0" r="1.75" fill-opacity="0.6"/><circle cx="456.5" cy="778.0" r="1.75" fill-opacity="0.9"/><circle cx="465.9" cy="778.0" r="1.75" fill-opacity="0.45"/><circle cx="475.3" cy="778.0" r="1.75" fill-opacity="0.75"/><circle cx="484.7" cy="778.0" r="1.75" fill-opacity="0.75"/><circle cx="494.1" cy="778.0" r="1.75" fill-opacity="0.6"/><circle cx="503.5" cy="778.0" r="1.75" fill-opacity="0.75"/><circle cx="512.9" cy="778.0" r="1.75" fill-opacity="0.9"/><circle cx="522.3" cy="778.0" r="1.75" fill-opacity="0.75"/><circle cx="531.7" cy="778.0" r="1.75" fill-opacity="0.45"/><circle cx="541.1" cy="778.0" r="1.75" fill-opacity="0.3"/><circle cx="550.5" cy="778.0" r="1.75" fill-opacity="0.3"/><circle cx="635.1" cy="778.0" r="1.75" fill-opacity="0.9"/><circle cx="644.5" cy="778.0" r="1.75" fill-opacity="0.75"/><circle cx="653.9" cy="778.0" r="1.75" fill-opacity="0.75"/><circle cx="663.3" cy="778.0" r="1.75" fill-opacity="0.45"/><circle cx="672.7" cy="778.0" r="1.75" fill-opacity="0.75"/><circle cx="682.1" cy="778.0" r="1.75" fill-opacity="0.9"/><circle cx="691.5" cy="778.0" r="1.75" fill-opacity="0.75"/><circle cx="700.9" cy="778.0" r="1.75" fill-opacity="0.45"/><circle cx="710.3" cy="778.0" r="1.75" fill-opacity="0.75"/><circle cx="719.7" cy="778.0" r="1.75" fill-opacity="0.75"/><circle cx="729.1" cy="778.0" r="1.75" fill-opacity="0.3"/><circle cx="738.5" cy="778.0" r="1.75" fill-opacity="0.3"/><circle cx="776.1" cy="778.0" r="1.75" fill-opacity="0.45"/><circle cx="785.5" cy="778.0" r="1.75" fill-opacity="0.6"/><circle cx="794.9" cy="778.0" r="1.75" fill-opacity="0.75"/><circle cx="804.3" cy="778.0" r="1.75" fill-opacity="0.6"/><circle cx="813.7" cy="778.0" r="1.75" fill-opacity="0.3"/><circle cx="823.1" cy="778.0" r="1.75" fill-opacity="0.75"/><circle cx="832.5" cy="778.0" r="1.75" fill-opacity="0.9"/><circle cx="841.9" cy="778.0" r="1.75" fill-opacity="0.9"/><circle cx="851.3" cy="778.0" r="1.75" fill-opacity="0.3"/><circle cx="1001.7" cy="778.0" r="1.75" fill-opacity="0.3"/><circle cx="1011.1" cy="778.0" r="1.75" fill-opacity="0.45"/><circle cx="1020.5" cy="778.0" r="1.75" fill-opacity="0.3"/><circle cx="1029.9" cy="778.0" r="1.75" fill-opacity="0.6"/><circle cx="1039.3" cy="778.0" r="1.75" fill-opacity="0.9"/><circle cx="1048.7" cy="778.0" r="1.75" fill-opacity="0.3"/><circle cx="1058.1" cy="778.0" r="1.75" fill-opacity="0.3"/><circle cx="1067.5" cy="778.0" r="1.75" fill-opacity="0.9"/><circle cx="1076.9" cy="778.0" r="1.75" fill-opacity="0.75"/><circle cx="1086.3" cy="778.0" r="1.75" fill-opacity="0.45"/><circle cx="296.7" cy="787.4" r="1.75" fill-opacity="0.3"/><circle cx="306.1" cy="787.4" r="1.75" fill-opacity="0.3"/><circle cx="315.5" cy="787.4" r="1.75" fill-opacity="0.9"/><circle cx="324.9" cy="787.4" r="1.75" fill-opacity="0.3"/><circle cx="334.3" cy="787.4" r="1.75" fill-opacity="0.45"/><circle cx="343.7" cy="787.4" r="1.75" fill-opacity="0.45"/><circle cx="353.1" cy="787.4" r="1.75" fill-opacity="0.75"/><circle cx="362.5" cy="787.4" r="1.75" fill-opacity="0.6"/><circle cx="371.9" cy="787.4" r="1.75" fill-opacity="0.45"/><circle cx="381.3" cy="787.4" r="1.75" fill-opacity="0.45"/><circle cx="390.7" cy="787.4" r="1.75" fill-opacity="0.3"/><circle cx="400.1" cy="787.4" r="1.75" fill-opacity="0.6"/><circle cx="409.5" cy="787.4" r="1.75" fill-opacity="0.9"/><circle cx="418.9" cy="787.4" r="1.75" fill-opacity="0.6"/><circle cx="428.3" cy="787.4" r="1.75" fill-opacity="0.45"/><circle cx="437.7" cy="787.4" r="1.75" fill-opacity="0.6"/><circle cx="447.1" cy="787.4" r="1.75" fill-opacity="0.9"/><circle cx="456.5" cy="787.4" r="1.75" fill-opacity="0.6"/><circle cx="465.9" cy="787.4" r="1.75" fill-opacity="0.75"/><circle cx="475.3" cy="787.4" r="1.75" fill-opacity="0.45"/><circle cx="484.7" cy="787.4" r="1.75" fill-opacity="0.6"/><circle cx="494.1" cy="787.4" r="1.75" fill-opacity="0.9"/><circle cx="503.5" cy="787.4" r="1.75" fill-opacity="0.75"/><circle cx="512.9" cy="787.4" r="1.75" fill-opacity="0.45"/><circle cx="522.3" cy="787.4" r="1.75" fill-opacity="0.9"/><circle cx="531.7" cy="787.4" r="1.75" fill-opacity="0.6"/><circle cx="541.1" cy="787.4" r="1.75" fill-opacity="0.9"/><circle cx="550.5" cy="787.4" r="1.75" fill-opacity="0.9"/><circle cx="625.7" cy="787.4" r="1.75" fill-opacity="0.45"/><circle cx="635.1" cy="787.4" r="1.75" fill-opacity="0.6"/><circle cx="644.5" cy="787.4" r="1.75" fill-opacity="0.6"/><circle cx="653.9" cy="787.4" r="1.75" fill-opacity="0.3"/><circle cx="663.3" cy="787.4" r="1.75" fill-opacity="0.45"/><circle cx="672.7" cy="787.4" r="1.75" fill-opacity="0.45"/><circle cx="682.1" cy="787.4" r="1.75" fill-opacity="0.75"/><circle cx="691.5" cy="787.4" r="1.75" fill-opacity="0.45"/><circle cx="700.9" cy="787.4" r="1.75" fill-opacity="0.6"/><circle cx="710.3" cy="787.4" r="1.75" fill-opacity="0.6"/><circle cx="719.7" cy="787.4" r="1.75" fill-opacity="0.75"/><circle cx="729.1" cy="787.4" r="1.75" fill-opacity="0.45"/><circle cx="738.5" cy="787.4" r="1.75" fill-opacity="0.6"/><circle cx="776.1" cy="787.4" r="1.75" fill-opacity="0.3"/><circle cx="785.5" cy="787.4" r="1.75" fill-opacity="0.9"/><circle cx="794.9" cy="787.4" r="1.75" fill-opacity="0.3"/><circle cx="804.3" cy="787.4" r="1.75" fill-opacity="0.6"/><circle cx="813.7" cy="787.4" r="1.75" fill-opacity="0.75"/><circle cx="823.1" cy="787.4" r="1.75" fill-opacity="0.9"/><circle cx="832.5" cy="787.4" r="1.75" fill-opacity="0.9"/><circle cx="841.9" cy="787.4" r="1.75" fill-opacity="0.9"/><circle cx="851.3" cy="787.4" r="1.75" fill-opacity="0.3"/><circle cx="1001.7" cy="787.4" r="1.75" fill-opacity="0.6"/><circle cx="1011.1" cy="787.4" r="1.75" fill-opacity="0.9"/><circle cx="1020.5" cy="787.4" r="1.75" fill-opacity="0.75"/><circle cx="1029.9" cy="787.4" r="1.75" fill-opacity="0.6"/><circle cx="1039.3" cy="787.4" r="1.75" fill-opacity="0.6"/><circle cx="1048.7" cy="787.4" r="1.75" fill-opacity="0.75"/><circle cx="1058.1" cy="787.4" r="1.75" fill-opacity="0.6"/><circle cx="1067.5" cy="787.4" r="1.75" fill-opacity="0.9"/><circle cx="1076.9" cy="787.4" r="1.75" fill-opacity="0.45"/><circle cx="1086.3" cy="787.4" r="1.75" fill-opacity="0.6"/><circle cx="296.7" cy="796.8" r="1.75" fill-opacity="0.6"/><circle cx="306.1" cy="796.8" r="1.75" fill-opacity="0.3"/><circle cx="315.5" cy="796.8" r="1.75" fill-opacity="0.75"/><circle cx="324.9" cy="796.8" r="1.75" fill-opacity="0.45"/><circle cx="334.3" cy="796.8" r="1.75" fill-opacity="0.45"/><circle cx="343.7" cy="796.8" r="1.75" fill-opacity="0.9"/><circle cx="353.1" cy="796.8" r="1.75" fill-opacity="0.3"/><circle cx="362.5" cy="796.8" r="1.75" fill-opacity="0.6"/><circle cx="371.9" cy="796.8" r="1.75" fill-opacity="0.9"/><circle cx="381.3" cy="796.8" r="1.75" fill-opacity="0.6"/><circle cx="390.7" cy="796.8" r="1.75" fill-opacity="0.6"/><circle cx="400.1" cy="796.8" r="1.75" fill-opacity="0.9"/><circle cx="409.5" cy="796.8" r="1.75" fill-opacity="0.6"/><circle cx="418.9" cy="796.8" r="1.75" fill-opacity="0.3"/><circle cx="428.3" cy="796.8" r="1.75" fill-opacity="0.3"/><circle cx="437.7" cy="796.8" r="1.75" fill-opacity="0.45"/><circle cx="447.1" cy="796.8" r="1.75" fill-opacity="0.45"/><circle cx="456.5" cy="796.8" r="1.75" fill-opacity="0.6"/><circle cx="465.9" cy="796.8" r="1.75" fill-opacity="0.9"/><circle cx="475.3" cy="796.8" r="1.75" fill-opacity="0.75"/><circle cx="484.7" cy="796.8" r="1.75" fill-opacity="0.75"/><circle cx="494.1" cy="796.8" r="1.75" fill-opacity="0.9"/><circle cx="503.5" cy="796.8" r="1.75" fill-opacity="0.6"/><circle cx="512.9" cy="796.8" r="1.75" fill-opacity="0.3"/><circle cx="522.3" cy="796.8" r="1.75" fill-opacity="0.45"/><circle cx="531.7" cy="796.8" r="1.75" fill-opacity="0.75"/><circle cx="541.1" cy="796.8" r="1.75" fill-opacity="0.45"/><circle cx="550.5" cy="796.8" r="1.75" fill-opacity="0.9"/><circle cx="625.7" cy="796.8" r="1.75" fill-opacity="0.3"/><circle cx="635.1" cy="796.8" r="1.75" fill-opacity="0.3"/><circle cx="644.5" cy="796.8" r="1.75" fill-opacity="0.3"/><circle cx="653.9" cy="796.8" r="1.75" fill-opacity="0.3"/><circle cx="663.3" cy="796.8" r="1.75" fill-opacity="0.9"/><circle cx="672.7" cy="796.8" r="1.75" fill-opacity="0.6"/><circle cx="682.1" cy="796.8" r="1.75" fill-opacity="0.6"/><circle cx="691.5" cy="796.8" r="1.75" fill-opacity="0.3"/><circle cx="700.9" cy="796.8" r="1.75" fill-opacity="0.9"/><circle cx="710.3" cy="796.8" r="1.75" fill-opacity="0.6"/><circle cx="719.7" cy="796.8" r="1.75" fill-opacity="0.9"/><circle cx="729.1" cy="796.8" r="1.75" fill-opacity="0.45"/><circle cx="738.5" cy="796.8" r="1.75" fill-opacity="0.75"/><circle cx="766.7" cy="796.8" r="1.75" fill-opacity="0.9"/><circle cx="776.1" cy="796.8" r="1.75" fill-opacity="0.6"/><circle cx="785.5" cy="796.8" r="1.75" fill-opacity="0.9"/><circle cx="794.9" cy="796.8" r="1.75" fill-opacity="0.45"/><circle cx="804.3" cy="796.8" r="1.75" fill-opacity="0.45"/><circle cx="813.7" cy="796.8" r="1.75" fill-opacity="0.6"/><circle cx="823.1" cy="796.8" r="1.75" fill-opacity="0.9"/><circle cx="832.5" cy="796.8" r="1.75" fill-opacity="0.75"/><circle cx="841.9" cy="796.8" r="1.75" fill-opacity="0.45"/><circle cx="851.3" cy="796.8" r="1.75" fill-opacity="0.45"/><circle cx="1001.7" cy="796.8" r="1.75" fill-opacity="0.3"/><circle cx="1011.1" cy="796.8" r="1.75" fill-opacity="0.45"/><circle cx="1020.5" cy="796.8" r="1.75" fill-opacity="0.45"/><circle cx="1029.9" cy="796.8" r="1.75" fill-opacity="0.75"/><circle cx="1039.3" cy="796.8" r="1.75" fill-opacity="0.3"/><circle cx="1048.7" cy="796.8" r="1.75" fill-opacity="0.3"/><circle cx="1058.1" cy="796.8" r="1.75" fill-opacity="0.45"/><circle cx="1067.5" cy="796.8" r="1.75" fill-opacity="0.6"/><circle cx="1076.9" cy="796.8" r="1.75" fill-opacity="0.75"/><circle cx="1086.3" cy="796.8" r="1.75" fill-opacity="0.6"/><circle cx="296.7" cy="806.2" r="1.75" fill-opacity="0.3"/><circle cx="306.1" cy="806.2" r="1.75" fill-opacity="0.3"/><circle cx="315.5" cy="806.2" r="1.75" fill-opacity="0.9"/><circle cx="324.9" cy="806.2" r="1.75" fill-opacity="0.6"/><circle cx="334.3" cy="806.2" r="1.75" fill-opacity="0.9"/><circle cx="343.7" cy="806.2" r="1.75" fill-opacity="0.9"/><circle cx="353.1" cy="806.2" r="1.75" fill-opacity="0.75"/><circle cx="362.5" cy="806.2" r="1.75" fill-opacity="0.9"/><circle cx="371.9" cy="806.2" r="1.75" fill-opacity="0.9"/><circle cx="381.3" cy="806.2" r="1.75" fill-opacity="0.75"/><circle cx="390.7" cy="806.2" r="1.75" fill-opacity="0.45"/><circle cx="400.1" cy="806.2" r="1.75" fill-opacity="0.45"/><circle cx="409.5" cy="806.2" r="1.75" fill-opacity="0.3"/><circle cx="418.9" cy="806.2" r="1.75" fill-opacity="0.3"/><circle cx="428.3" cy="806.2" r="1.75" fill-opacity="0.3"/><circle cx="437.7" cy="806.2" r="1.75" fill-opacity="0.9"/><circle cx="447.1" cy="806.2" r="1.75" fill-opacity="0.3"/><circle cx="456.5" cy="806.2" r="1.75" fill-opacity="0.75"/><circle cx="465.9" cy="806.2" r="1.75" fill-opacity="0.45"/><circle cx="475.3" cy="806.2" r="1.75" fill-opacity="0.45"/><circle cx="484.7" cy="806.2" r="1.75" fill-opacity="0.45"/><circle cx="494.1" cy="806.2" r="1.75" fill-opacity="0.3"/><circle cx="503.5" cy="806.2" r="1.75" fill-opacity="0.3"/><circle cx="512.9" cy="806.2" r="1.75" fill-opacity="0.3"/><circle cx="522.3" cy="806.2" r="1.75" fill-opacity="0.9"/><circle cx="531.7" cy="806.2" r="1.75" fill-opacity="0.9"/><circle cx="541.1" cy="806.2" r="1.75" fill-opacity="0.45"/><circle cx="550.5" cy="806.2" r="1.75" fill-opacity="0.45"/><circle cx="616.3" cy="806.2" r="1.75" fill-opacity="0.75"/><circle cx="625.7" cy="806.2" r="1.75" fill-opacity="0.45"/><circle cx="635.1" cy="806.2" r="1.75" fill-opacity="0.9"/><circle cx="644.5" cy="806.2" r="1.75" fill-opacity="0.9"/><circle cx="653.9" cy="806.2" r="1.75" fill-opacity="0.9"/><circle cx="663.3" cy="806.2" r="1.75" fill-opacity="0.75"/><circle cx="672.7" cy="806.2" r="1.75" fill-opacity="0.9"/><circle cx="682.1" cy="806.2" r="1.75" fill-opacity="0.45"/><circle cx="691.5" cy="806.2" r="1.75" fill-opacity="0.9"/><circle cx="700.9" cy="806.2" r="1.75" fill-opacity="0.6"/><circle cx="710.3" cy="806.2" r="1.75" fill-opacity="0.3"/><circle cx="719.7" cy="806.2" r="1.75" fill-opacity="0.6"/><circle cx="729.1" cy="806.2" r="1.75" fill-opacity="0.3"/><circle cx="738.5" cy="806.2" r="1.75" fill-opacity="0.75"/><circle cx="766.7" cy="806.2" r="1.75" fill-opacity="0.9"/><circle cx="776.1" cy="806.2" r="1.75" fill-opacity="0.3"/><circle cx="785.5" cy="806.2" r="1.75" fill-opacity="0.75"/><circle cx="794.9" cy="806.2" r="1.75" fill-opacity="0.75"/><circle cx="804.3" cy="806.2" r="1.75" fill-opacity="0.75"/><circle cx="813.7" cy="806.2" r="1.75" fill-opacity="0.3"/><circle cx="823.1" cy="806.2" r="1.75" fill-opacity="0.75"/><circle cx="832.5" cy="806.2" r="1.75" fill-opacity="0.45"/><circle cx="841.9" cy="806.2" r="1.75" fill-opacity="0.45"/><circle cx="851.3" cy="806.2" r="1.75" fill-opacity="0.3"/><circle cx="1001.7" cy="806.2" r="1.75" fill-opacity="0.6"/><circle cx="1011.1" cy="806.2" r="1.75" fill-opacity="0.45"/><circle cx="1020.5" cy="806.2" r="1.75" fill-opacity="0.3"/><circle cx="1029.9" cy="806.2" r="1.75" fill-opacity="0.3"/><circle cx="1039.3" cy="806.2" r="1.75" fill-opacity="0.6"/><circle cx="1048.7" cy="806.2" r="1.75" fill-opacity="0.6"/><circle cx="1058.1" cy="806.2" r="1.75" fill-opacity="0.3"/><circle cx="1067.5" cy="806.2" r="1.75" fill-opacity="0.6"/><circle cx="296.7" cy="815.6" r="1.75" fill-opacity="0.9"/><circle cx="306.1" cy="815.6" r="1.75" fill-opacity="0.75"/><circle cx="315.5" cy="815.6" r="1.75" fill-opacity="0.9"/><circle cx="324.9" cy="815.6" r="1.75" fill-opacity="0.6"/><circle cx="334.3" cy="815.6" r="1.75" fill-opacity="0.6"/><circle cx="343.7" cy="815.6" r="1.75" fill-opacity="0.45"/><circle cx="353.1" cy="815.6" r="1.75" fill-opacity="0.3"/><circle cx="362.5" cy="815.6" r="1.75" fill-opacity="0.9"/><circle cx="371.9" cy="815.6" r="1.75" fill-opacity="0.3"/><circle cx="381.3" cy="815.6" r="1.75" fill-opacity="0.45"/><circle cx="390.7" cy="815.6" r="1.75" fill-opacity="0.6"/><circle cx="400.1" cy="815.6" r="1.75" fill-opacity="0.45"/><circle cx="409.5" cy="815.6" r="1.75" fill-opacity="0.45"/><circle cx="418.9" cy="815.6" r="1.75" fill-opacity="0.45"/><circle cx="428.3" cy="815.6" r="1.75" fill-opacity="0.6"/><circle cx="437.7" cy="815.6" r="1.75" fill-opacity="0.45"/><circle cx="447.1" cy="815.6" r="1.75" fill-opacity="0.75"/><circle cx="456.5" cy="815.6" r="1.75" fill-opacity="0.6"/><circle cx="465.9" cy="815.6" r="1.75" fill-opacity="0.9"/><circle cx="475.3" cy="815.6" r="1.75" fill-opacity="0.45"/><circle cx="484.7" cy="815.6" r="1.75" fill-opacity="0.75"/><circle cx="494.1" cy="815.6" r="1.75" fill-opacity="0.9"/><circle cx="503.5" cy="815.6" r="1.75" fill-opacity="0.75"/><circle cx="512.9" cy="815.6" r="1.75" fill-opacity="0.75"/><circle cx="522.3" cy="815.6" r="1.75" fill-opacity="0.9"/><circle cx="531.7" cy="815.6" r="1.75" fill-opacity="0.3"/><circle cx="541.1" cy="815.6" r="1.75" fill-opacity="0.3"/><circle cx="550.5" cy="815.6" r="1.75" fill-opacity="0.75"/><circle cx="616.3" cy="815.6" r="1.75" fill-opacity="0.45"/><circle cx="625.7" cy="815.6" r="1.75" fill-opacity="0.9"/><circle cx="635.1" cy="815.6" r="1.75" fill-opacity="0.6"/><circle cx="644.5" cy="815.6" r="1.75" fill-opacity="0.45"/><circle cx="653.9" cy="815.6" r="1.75" fill-opacity="0.75"/><circle cx="663.3" cy="815.6" r="1.75" fill-opacity="0.9"/><circle cx="672.7" cy="815.6" r="1.75" fill-opacity="0.9"/><circle cx="682.1" cy="815.6" r="1.75" fill-opacity="0.3"/><circle cx="691.5" cy="815.6" r="1.75" fill-opacity="0.9"/><circle cx="700.9" cy="815.6" r="1.75" fill-opacity="0.45"/><circle cx="710.3" cy="815.6" r="1.75" fill-opacity="0.45"/><circle cx="719.7" cy="815.6" r="1.75" fill-opacity="0.3"/><circle cx="729.1" cy="815.6" r="1.75" fill-opacity="0.3"/><circle cx="766.7" cy="815.6" r="1.75" fill-opacity="0.3"/><circle cx="776.1" cy="815.6" r="1.75" fill-opacity="0.3"/><circle cx="785.5" cy="815.6" r="1.75" fill-opacity="0.9"/><circle cx="794.9" cy="815.6" r="1.75" fill-opacity="0.45"/><circle cx="804.3" cy="815.6" r="1.75" fill-opacity="0.6"/><circle cx="813.7" cy="815.6" r="1.75" fill-opacity="0.45"/><circle cx="823.1" cy="815.6" r="1.75" fill-opacity="0.3"/><circle cx="832.5" cy="815.6" r="1.75" fill-opacity="0.3"/><circle cx="841.9" cy="815.6" r="1.75" fill-opacity="0.3"/><circle cx="851.3" cy="815.6" r="1.75" fill-opacity="0.45"/><circle cx="1001.7" cy="815.6" r="1.75" fill-opacity="0.3"/><circle cx="1011.1" cy="815.6" r="1.75" fill-opacity="0.3"/><circle cx="1020.5" cy="815.6" r="1.75" fill-opacity="0.3"/><circle cx="1029.9" cy="815.6" r="1.75" fill-opacity="0.3"/><circle cx="1039.3" cy="815.6" r="1.75" fill-opacity="0.9"/><circle cx="1048.7" cy="815.6" r="1.75" fill-opacity="0.6"/><circle cx="1058.1" cy="815.6" r="1.75" fill-opacity="0.45"/><circle cx="1067.5" cy="815.6" r="1.75" fill-opacity="0.9"/><circle cx="1105.1" cy="815.6" r="1.75" fill-opacity="0.3"/><circle cx="1114.5" cy="815.6" r="1.75" fill-opacity="0.75"/><circle cx="1123.9" cy="815.6" r="1.75" fill-opacity="0.3"/><circle cx="1133.3" cy="815.6" r="1.75" fill-opacity="0.45"/><circle cx="1142.7" cy="815.6" r="1.75" fill-opacity="0.45"/><circle cx="1152.1" cy="815.6" r="1.75" fill-opacity="0.45"/><circle cx="1246.1" cy="815.6" r="1.75" fill-opacity="0.3"/><circle cx="1255.5" cy="815.6" r="1.75" fill-opacity="0.3"/><circle cx="1264.9" cy="815.6" r="1.75" fill-opacity="0.3"/><circle cx="1274.3" cy="815.6" r="1.75" fill-opacity="0.3"/><circle cx="1283.7" cy="815.6" r="1.75" fill-opacity="0.6"/><circle cx="1293.1" cy="815.6" r="1.75" fill-opacity="0.75"/><circle cx="616.3" cy="825.0" r="1.75" fill-opacity="0.3"/><circle cx="625.7" cy="825.0" r="1.75" fill-opacity="0.45"/><circle cx="635.1" cy="825.0" r="1.75" fill-opacity="0.3"/><circle cx="644.5" cy="825.0" r="1.75" fill-opacity="0.45"/><circle cx="653.9" cy="825.0" r="1.75" fill-opacity="0.6"/><circle cx="663.3" cy="825.0" r="1.75" fill-opacity="0.6"/><circle cx="672.7" cy="825.0" r="1.75" fill-opacity="0.6"/><circle cx="682.1" cy="825.0" r="1.75" fill-opacity="0.75"/><circle cx="691.5" cy="825.0" r="1.75" fill-opacity="0.6"/><circle cx="700.9" cy="825.0" r="1.75" fill-opacity="0.3"/><circle cx="710.3" cy="825.0" r="1.75" fill-opacity="0.6"/><circle cx="719.7" cy="825.0" r="1.75" fill-opacity="0.6"/><circle cx="729.1" cy="825.0" r="1.75" fill-opacity="0.6"/><circle cx="766.7" cy="825.0" r="1.75" fill-opacity="0.3"/><circle cx="776.1" cy="825.0" r="1.75" fill-opacity="0.6"/><circle cx="785.5" cy="825.0" r="1.75" fill-opacity="0.6"/><circle cx="794.9" cy="825.0" r="1.75" fill-opacity="0.9"/><circle cx="804.3" cy="825.0" r="1.75" fill-opacity="0.9"/><circle cx="813.7" cy="825.0" r="1.75" fill-opacity="0.75"/><circle cx="823.1" cy="825.0" r="1.75" fill-opacity="0.6"/><circle cx="832.5" cy="825.0" r="1.75" fill-opacity="0.9"/><circle cx="841.9" cy="825.0" r="1.75" fill-opacity="0.3"/><circle cx="851.3" cy="825.0" r="1.75" fill-opacity="0.75"/><circle cx="1001.7" cy="825.0" r="1.75" fill-opacity="0.3"/><circle cx="1011.1" cy="825.0" r="1.75" fill-opacity="0.75"/><circle cx="1020.5" cy="825.0" r="1.75" fill-opacity="0.9"/><circle cx="1029.9" cy="825.0" r="1.75" fill-opacity="0.3"/><circle cx="1039.3" cy="825.0" r="1.75" fill-opacity="0.6"/><circle cx="1048.7" cy="825.0" r="1.75" fill-opacity="0.75"/><circle cx="1058.1" cy="825.0" r="1.75" fill-opacity="0.3"/><circle cx="1067.5" cy="825.0" r="1.75" fill-opacity="0.9"/><circle cx="1114.5" cy="825.0" r="1.75" fill-opacity="0.9"/><circle cx="1123.9" cy="825.0" r="1.75" fill-opacity="0.45"/><circle cx="1133.3" cy="825.0" r="1.75" fill-opacity="0.3"/><circle cx="1142.7" cy="825.0" r="1.75" fill-opacity="0.9"/><circle cx="1152.1" cy="825.0" r="1.75" fill-opacity="0.6"/><circle cx="1161.5" cy="825.0" r="1.75" fill-opacity="0.45"/><circle cx="1246.1" cy="825.0" r="1.75" fill-opacity="0.75"/><circle cx="1255.5" cy="825.0" r="1.75" fill-opacity="0.3"/><circle cx="1264.9" cy="825.0" r="1.75" fill-opacity="0.9"/><circle cx="1274.3" cy="825.0" r="1.75" fill-opacity="0.45"/><circle cx="1283.7" cy="825.0" r="1.75" fill-opacity="0.6"/><circle cx="1293.1" cy="825.0" r="1.75" fill-opacity="0.3"/><circle cx="606.9" cy="834.4" r="1.75" fill-opacity="0.3"/><circle cx="616.3" cy="834.4" r="1.75" fill-opacity="0.6"/><circle cx="625.7" cy="834.4" r="1.75" fill-opacity="0.75"/><circle cx="635.1" cy="834.4" r="1.75" fill-opacity="0.3"/><circle cx="644.5" cy="834.4" r="1.75" fill-opacity="0.75"/><circle cx="653.9" cy="834.4" r="1.75" fill-opacity="0.45"/><circle cx="663.3" cy="834.4" r="1.75" fill-opacity="0.75"/><circle cx="672.7" cy="834.4" r="1.75" fill-opacity="0.9"/><circle cx="682.1" cy="834.4" r="1.75" fill-opacity="0.6"/><circle cx="691.5" cy="834.4" r="1.75" fill-opacity="0.9"/><circle cx="700.9" cy="834.4" r="1.75" fill-opacity="0.6"/><circle cx="710.3" cy="834.4" r="1.75" fill-opacity="0.9"/><circle cx="719.7" cy="834.4" r="1.75" fill-opacity="0.45"/><circle cx="729.1" cy="834.4" r="1.75" fill-opacity="0.6"/><circle cx="766.7" cy="834.4" r="1.75" fill-opacity="0.45"/><circle cx="776.1" cy="834.4" r="1.75" fill-opacity="0.45"/><circle cx="785.5" cy="834.4" r="1.75" fill-opacity="0.75"/><circle cx="794.9" cy="834.4" r="1.75" fill-opacity="0.45"/><circle cx="804.3" cy="834.4" r="1.75" fill-opacity="0.3"/><circle cx="813.7" cy="834.4" r="1.75" fill-opacity="0.3"/><circle cx="823.1" cy="834.4" r="1.75" fill-opacity="0.75"/><circle cx="832.5" cy="834.4" r="1.75" fill-opacity="0.9"/><circle cx="841.9" cy="834.4" r="1.75" fill-opacity="0.3"/><circle cx="851.3" cy="834.4" r="1.75" fill-opacity="0.6"/><circle cx="1001.7" cy="834.4" r="1.75" fill-opacity="0.6"/><circle cx="1011.1" cy="834.4" r="1.75" fill-opacity="0.3"/><circle cx="1020.5" cy="834.4" r="1.75" fill-opacity="0.75"/><circle cx="1029.9" cy="834.4" r="1.75" fill-opacity="0.75"/><circle cx="1039.3" cy="834.4" r="1.75" fill-opacity="0.3"/><circle cx="1048.7" cy="834.4" r="1.75" fill-opacity="0.75"/><circle cx="1058.1" cy="834.4" r="1.75" fill-opacity="0.3"/><circle cx="1067.5" cy="834.4" r="1.75" fill-opacity="0.6"/><circle cx="1114.5" cy="834.4" r="1.75" fill-opacity="0.45"/><circle cx="1123.9" cy="834.4" r="1.75" fill-opacity="0.6"/><circle cx="1133.3" cy="834.4" r="1.75" fill-opacity="0.6"/><circle cx="1142.7" cy="834.4" r="1.75" fill-opacity="0.75"/><circle cx="1152.1" cy="834.4" r="1.75" fill-opacity="0.9"/><circle cx="1161.5" cy="834.4" r="1.75" fill-opacity="0.9"/><circle cx="1170.9" cy="834.4" r="1.75" fill-opacity="0.45"/><circle cx="1236.7" cy="834.4" r="1.75" fill-opacity="0.75"/><circle cx="1246.1" cy="834.4" r="1.75" fill-opacity="0.45"/><circle cx="1255.5" cy="834.4" r="1.75" fill-opacity="0.75"/><circle cx="1264.9" cy="834.4" r="1.75" fill-opacity="0.45"/><circle cx="1274.3" cy="834.4" r="1.75" fill-opacity="0.9"/><circle cx="1283.7" cy="834.4" r="1.75" fill-opacity="0.9"/><circle cx="606.9" cy="843.8" r="1.75" fill-opacity="0.9"/><circle cx="616.3" cy="843.8" r="1.75" fill-opacity="0.3"/><circle cx="625.7" cy="843.8" r="1.75" fill-opacity="0.6"/><circle cx="635.1" cy="843.8" r="1.75" fill-opacity="0.9"/><circle cx="644.5" cy="843.8" r="1.75" fill-opacity="0.6"/><circle cx="653.9" cy="843.8" r="1.75" fill-opacity="0.9"/><circle cx="663.3" cy="843.8" r="1.75" fill-opacity="0.45"/><circle cx="672.7" cy="843.8" r="1.75" fill-opacity="0.75"/><circle cx="682.1" cy="843.8" r="1.75" fill-opacity="0.9"/><circle cx="691.5" cy="843.8" r="1.75" fill-opacity="0.6"/><circle cx="700.9" cy="843.8" r="1.75" fill-opacity="0.45"/><circle cx="710.3" cy="843.8" r="1.75" fill-opacity="0.75"/><circle cx="719.7" cy="843.8" r="1.75" fill-opacity="0.75"/><circle cx="729.1" cy="843.8" r="1.75" fill-opacity="0.6"/><circle cx="766.7" cy="843.8" r="1.75" fill-opacity="0.9"/><circle cx="776.1" cy="843.8" r="1.75" fill-opacity="0.45"/><circle cx="785.5" cy="843.8" r="1.75" fill-opacity="0.45"/><circle cx="794.9" cy="843.8" r="1.75" fill-opacity="0.6"/><circle cx="804.3" cy="843.8" r="1.75" fill-opacity="0.75"/><circle cx="813.7" cy="843.8" r="1.75" fill-opacity="0.45"/><circle cx="823.1" cy="843.8" r="1.75" fill-opacity="0.9"/><circle cx="832.5" cy="843.8" r="1.75" fill-opacity="0.45"/><circle cx="841.9" cy="843.8" r="1.75" fill-opacity="0.6"/><circle cx="851.3" cy="843.8" r="1.75" fill-opacity="0.6"/><circle cx="1001.7" cy="843.8" r="1.75" fill-opacity="0.9"/><circle cx="1011.1" cy="843.8" r="1.75" fill-opacity="0.45"/><circle cx="1020.5" cy="843.8" r="1.75" fill-opacity="0.45"/><circle cx="1029.9" cy="843.8" r="1.75" fill-opacity="0.45"/><circle cx="1039.3" cy="843.8" r="1.75" fill-opacity="0.6"/><circle cx="1048.7" cy="843.8" r="1.75" fill-opacity="0.9"/><circle cx="1058.1" cy="843.8" r="1.75" fill-opacity="0.9"/><circle cx="1067.5" cy="843.8" r="1.75" fill-opacity="0.6"/><circle cx="1123.9" cy="843.8" r="1.75" fill-opacity="0.45"/><circle cx="1133.3" cy="843.8" r="1.75" fill-opacity="0.45"/><circle cx="1142.7" cy="843.8" r="1.75" fill-opacity="0.6"/><circle cx="1152.1" cy="843.8" r="1.75" fill-opacity="0.45"/><circle cx="1161.5" cy="843.8" r="1.75" fill-opacity="0.6"/><circle cx="1170.9" cy="843.8" r="1.75" fill-opacity="0.3"/><circle cx="1227.3" cy="843.8" r="1.75" fill-opacity="0.45"/><circle cx="1236.7" cy="843.8" r="1.75" fill-opacity="0.3"/><circle cx="1246.1" cy="843.8" r="1.75" fill-opacity="0.45"/><circle cx="1255.5" cy="843.8" r="1.75" fill-opacity="0.75"/><circle cx="1264.9" cy="843.8" r="1.75" fill-opacity="0.45"/><circle cx="1274.3" cy="843.8" r="1.75" fill-opacity="0.45"/><circle cx="1283.7" cy="843.8" r="1.75" fill-opacity="0.6"/><circle cx="606.9" cy="853.2" r="1.75" fill-opacity="0.6"/><circle cx="616.3" cy="853.2" r="1.75" fill-opacity="0.75"/><circle cx="625.7" cy="853.2" r="1.75" fill-opacity="0.6"/><circle cx="635.1" cy="853.2" r="1.75" fill-opacity="0.45"/><circle cx="644.5" cy="853.2" r="1.75" fill-opacity="0.3"/><circle cx="653.9" cy="853.2" r="1.75" fill-opacity="0.3"/><circle cx="663.3" cy="853.2" r="1.75" fill-opacity="0.6"/><circle cx="672.7" cy="853.2" r="1.75" fill-opacity="0.45"/><circle cx="682.1" cy="853.2" r="1.75" fill-opacity="0.75"/><circle cx="691.5" cy="853.2" r="1.75" fill-opacity="0.75"/><circle cx="700.9" cy="853.2" r="1.75" fill-opacity="0.3"/><circle cx="710.3" cy="853.2" r="1.75" fill-opacity="0.3"/><circle cx="719.7" cy="853.2" r="1.75" fill-opacity="0.75"/><circle cx="729.1" cy="853.2" r="1.75" fill-opacity="0.75"/><circle cx="766.7" cy="853.2" r="1.75" fill-opacity="0.45"/><circle cx="776.1" cy="853.2" r="1.75" fill-opacity="0.9"/><circle cx="785.5" cy="853.2" r="1.75" fill-opacity="0.6"/><circle cx="794.9" cy="853.2" r="1.75" fill-opacity="0.75"/><circle cx="804.3" cy="853.2" r="1.75" fill-opacity="0.3"/><circle cx="813.7" cy="853.2" r="1.75" fill-opacity="0.45"/><circle cx="823.1" cy="853.2" r="1.75" fill-opacity="0.6"/><circle cx="832.5" cy="853.2" r="1.75" fill-opacity="0.9"/><circle cx="841.9" cy="853.2" r="1.75" fill-opacity="0.75"/><circle cx="851.3" cy="853.2" r="1.75" fill-opacity="0.3"/><circle cx="1001.7" cy="853.2" r="1.75" fill-opacity="0.45"/><circle cx="1011.1" cy="853.2" r="1.75" fill-opacity="0.75"/><circle cx="1020.5" cy="853.2" r="1.75" fill-opacity="0.9"/><circle cx="1029.9" cy="853.2" r="1.75" fill-opacity="0.9"/><circle cx="1039.3" cy="853.2" r="1.75" fill-opacity="0.75"/><circle cx="1048.7" cy="853.2" r="1.75" fill-opacity="0.45"/><circle cx="1058.1" cy="853.2" r="1.75" fill-opacity="0.9"/><circle cx="1067.5" cy="853.2" r="1.75" fill-opacity="0.45"/><circle cx="1123.9" cy="853.2" r="1.75" fill-opacity="0.45"/><circle cx="1133.3" cy="853.2" r="1.75" fill-opacity="0.3"/><circle cx="1142.7" cy="853.2" r="1.75" fill-opacity="0.75"/><circle cx="1152.1" cy="853.2" r="1.75" fill-opacity="0.75"/><circle cx="1161.5" cy="853.2" r="1.75" fill-opacity="0.6"/><circle cx="1170.9" cy="853.2" r="1.75" fill-opacity="0.6"/><circle cx="1180.3" cy="853.2" r="1.75" fill-opacity="0.3"/><circle cx="1227.3" cy="853.2" r="1.75" fill-opacity="0.75"/><circle cx="1236.7" cy="853.2" r="1.75" fill-opacity="0.45"/><circle cx="1246.1" cy="853.2" r="1.75" fill-opacity="0.75"/><circle cx="1255.5" cy="853.2" r="1.75" fill-opacity="0.45"/><circle cx="1264.9" cy="853.2" r="1.75" fill-opacity="0.6"/><circle cx="1274.3" cy="853.2" r="1.75" fill-opacity="0.75"/><circle cx="606.9" cy="862.6" r="1.75" fill-opacity="0.75"/><circle cx="616.3" cy="862.6" r="1.75" fill-opacity="0.75"/><circle cx="625.7" cy="862.6" r="1.75" fill-opacity="0.3"/><circle cx="635.1" cy="862.6" r="1.75" fill-opacity="0.9"/><circle cx="644.5" cy="862.6" r="1.75" fill-opacity="0.75"/><circle cx="653.9" cy="862.6" r="1.75" fill-opacity="0.9"/><circle cx="663.3" cy="862.6" r="1.75" fill-opacity="0.45"/><circle cx="672.7" cy="862.6" r="1.75" fill-opacity="0.6"/><circle cx="682.1" cy="862.6" r="1.75" fill-opacity="0.3"/><circle cx="691.5" cy="862.6" r="1.75" fill-opacity="0.75"/><circle cx="700.9" cy="862.6" r="1.75" fill-opacity="0.75"/><circle cx="710.3" cy="862.6" r="1.75" fill-opacity="0.3"/><circle cx="719.7" cy="862.6" r="1.75" fill-opacity="0.3"/><circle cx="729.1" cy="862.6" r="1.75" fill-opacity="0.6"/><circle cx="766.7" cy="862.6" r="1.75" fill-opacity="0.9"/><circle cx="776.1" cy="862.6" r="1.75" fill-opacity="0.45"/><circle cx="785.5" cy="862.6" r="1.75" fill-opacity="0.45"/><circle cx="794.9" cy="862.6" r="1.75" fill-opacity="0.45"/><circle cx="804.3" cy="862.6" r="1.75" fill-opacity="0.9"/><circle cx="813.7" cy="862.6" r="1.75" fill-opacity="0.6"/><circle cx="823.1" cy="862.6" r="1.75" fill-opacity="0.3"/><circle cx="832.5" cy="862.6" r="1.75" fill-opacity="0.9"/><circle cx="841.9" cy="862.6" r="1.75" fill-opacity="0.75"/><circle cx="851.3" cy="862.6" r="1.75" fill-opacity="0.9"/><circle cx="1001.7" cy="862.6" r="1.75" fill-opacity="0.45"/><circle cx="1011.1" cy="862.6" r="1.75" fill-opacity="0.75"/><circle cx="1020.5" cy="862.6" r="1.75" fill-opacity="0.9"/><circle cx="1029.9" cy="862.6" r="1.75" fill-opacity="0.3"/><circle cx="1039.3" cy="862.6" r="1.75" fill-opacity="0.6"/><circle cx="1048.7" cy="862.6" r="1.75" fill-opacity="0.9"/><circle cx="1058.1" cy="862.6" r="1.75" fill-opacity="0.6"/><circle cx="1067.5" cy="862.6" r="1.75" fill-opacity="0.75"/><circle cx="1133.3" cy="862.6" r="1.75" fill-opacity="0.75"/><circle cx="1142.7" cy="862.6" r="1.75" fill-opacity="0.45"/><circle cx="1152.1" cy="862.6" r="1.75" fill-opacity="0.45"/><circle cx="1161.5" cy="862.6" r="1.75" fill-opacity="0.75"/><circle cx="1170.9" cy="862.6" r="1.75" fill-opacity="0.9"/><circle cx="1180.3" cy="862.6" r="1.75" fill-opacity="0.3"/><circle cx="1217.9" cy="862.6" r="1.75" fill-opacity="0.9"/><circle cx="1227.3" cy="862.6" r="1.75" fill-opacity="0.6"/><circle cx="1236.7" cy="862.6" r="1.75" fill-opacity="0.3"/><circle cx="1246.1" cy="862.6" r="1.75" fill-opacity="0.6"/><circle cx="1255.5" cy="862.6" r="1.75" fill-opacity="0.6"/><circle cx="1264.9" cy="862.6" r="1.75" fill-opacity="0.75"/><circle cx="1274.3" cy="862.6" r="1.75" fill-opacity="0.75"/><circle cx="606.9" cy="872.0" r="1.75" fill-opacity="0.3"/><circle cx="616.3" cy="872.0" r="1.75" fill-opacity="0.3"/><circle cx="625.7" cy="872.0" r="1.75" fill-opacity="0.3"/><circle cx="635.1" cy="872.0" r="1.75" fill-opacity="0.75"/><circle cx="644.5" cy="872.0" r="1.75" fill-opacity="0.75"/><circle cx="653.9" cy="872.0" r="1.75" fill-opacity="0.6"/><circle cx="663.3" cy="872.0" r="1.75" fill-opacity="0.9"/><circle cx="672.7" cy="872.0" r="1.75" fill-opacity="0.6"/><circle cx="682.1" cy="872.0" r="1.75" fill-opacity="0.3"/><circle cx="691.5" cy="872.0" r="1.75" fill-opacity="0.45"/><circle cx="700.9" cy="872.0" r="1.75" fill-opacity="0.6"/><circle cx="710.3" cy="872.0" r="1.75" fill-opacity="0.75"/><circle cx="719.7" cy="872.0" r="1.75" fill-opacity="0.9"/><circle cx="766.7" cy="872.0" r="1.75" fill-opacity="0.45"/><circle cx="776.1" cy="872.0" r="1.75" fill-opacity="0.75"/><circle cx="785.5" cy="872.0" r="1.75" fill-opacity="0.75"/><circle cx="794.9" cy="872.0" r="1.75" fill-opacity="0.45"/><circle cx="804.3" cy="872.0" r="1.75" fill-opacity="0.45"/><circle cx="813.7" cy="872.0" r="1.75" fill-opacity="0.45"/><circle cx="823.1" cy="872.0" r="1.75" fill-opacity="0.3"/><circle cx="832.5" cy="872.0" r="1.75" fill-opacity="0.45"/><circle cx="841.9" cy="872.0" r="1.75" fill-opacity="0.75"/><circle cx="851.3" cy="872.0" r="1.75" fill-opacity="0.9"/><circle cx="1001.7" cy="872.0" r="1.75" fill-opacity="0.45"/><circle cx="1011.1" cy="872.0" r="1.75" fill-opacity="0.45"/><circle cx="1020.5" cy="872.0" r="1.75" fill-opacity="0.6"/><circle cx="1029.9" cy="872.0" r="1.75" fill-opacity="0.75"/><circle cx="1039.3" cy="872.0" r="1.75" fill-opacity="0.75"/><circle cx="1048.7" cy="872.0" r="1.75" fill-opacity="0.6"/><circle cx="1058.1" cy="872.0" r="1.75" fill-opacity="0.9"/><circle cx="1067.5" cy="872.0" r="1.75" fill-opacity="0.45"/><circle cx="1142.7" cy="872.0" r="1.75" fill-opacity="0.75"/><circle cx="1152.1" cy="872.0" r="1.75" fill-opacity="0.6"/><circle cx="1161.5" cy="872.0" r="1.75" fill-opacity="0.45"/><circle cx="1170.9" cy="872.0" r="1.75" fill-opacity="0.6"/><circle cx="1180.3" cy="872.0" r="1.75" fill-opacity="0.75"/><circle cx="1189.7" cy="872.0" r="1.75" fill-opacity="0.6"/><circle cx="1208.5" cy="872.0" r="1.75" fill-opacity="0.75"/><circle cx="1217.9" cy="872.0" r="1.75" fill-opacity="0.45"/><circle cx="1227.3" cy="872.0" r="1.75" fill-opacity="0.75"/><circle cx="1236.7" cy="872.0" r="1.75" fill-opacity="0.3"/><circle cx="1246.1" cy="872.0" r="1.75" fill-opacity="0.6"/><circle cx="1255.5" cy="872.0" r="1.75" fill-opacity="0.6"/><circle cx="1264.9" cy="872.0" r="1.75" fill-opacity="0.45"/><circle cx="606.9" cy="881.4" r="1.75" fill-opacity="0.6"/><circle cx="616.3" cy="881.4" r="1.75" fill-opacity="0.6"/><circle cx="625.7" cy="881.4" r="1.75" fill-opacity="0.75"/><circle cx="635.1" cy="881.4" r="1.75" fill-opacity="0.75"/><circle cx="644.5" cy="881.4" r="1.75" fill-opacity="0.75"/><circle cx="653.9" cy="881.4" r="1.75" fill-opacity="0.9"/><circle cx="663.3" cy="881.4" r="1.75" fill-opacity="0.3"/><circle cx="672.7" cy="881.4" r="1.75" fill-opacity="0.6"/><circle cx="682.1" cy="881.4" r="1.75" fill-opacity="0.45"/><circle cx="691.5" cy="881.4" r="1.75" fill-opacity="0.6"/><circle cx="700.9" cy="881.4" r="1.75" fill-opacity="0.75"/><circle cx="710.3" cy="881.4" r="1.75" fill-opacity="0.3"/><circle cx="719.7" cy="881.4" r="1.75" fill-opacity="0.3"/><circle cx="766.7" cy="881.4" r="1.75" fill-opacity="0.9"/><circle cx="776.1" cy="881.4" r="1.75" fill-opacity="0.6"/><circle cx="785.5" cy="881.4" r="1.75" fill-opacity="0.45"/><circle cx="794.9" cy="881.4" r="1.75" fill-opacity="0.9"/><circle cx="804.3" cy="881.4" r="1.75" fill-opacity="0.6"/><circle cx="813.7" cy="881.4" r="1.75" fill-opacity="0.9"/><circle cx="823.1" cy="881.4" r="1.75" fill-opacity="0.3"/><circle cx="832.5" cy="881.4" r="1.75" fill-opacity="0.3"/><circle cx="841.9" cy="881.4" r="1.75" fill-opacity="0.45"/><circle cx="851.3" cy="881.4" r="1.75" fill-opacity="0.3"/><circle cx="1001.7" cy="881.4" r="1.75" fill-opacity="0.6"/><circle cx="1011.1" cy="881.4" r="1.75" fill-opacity="0.6"/><circle cx="1020.5" cy="881.4" r="1.75" fill-opacity="0.9"/><circle cx="1029.9" cy="881.4" r="1.75" fill-opacity="0.3"/><circle cx="1039.3" cy="881.4" r="1.75" fill-opacity="0.9"/><circle cx="1048.7" cy="881.4" r="1.75" fill-opacity="0.45"/><circle cx="1058.1" cy="881.4" r="1.75" fill-opacity="0.45"/><circle cx="1067.5" cy="881.4" r="1.75" fill-opacity="0.45"/><circle cx="1142.7" cy="881.4" r="1.75" fill-opacity="0.75"/><circle cx="1152.1" cy="881.4" r="1.75" fill-opacity="0.6"/><circle cx="1161.5" cy="881.4" r="1.75" fill-opacity="0.45"/><circle cx="1170.9" cy="881.4" r="1.75" fill-opacity="0.45"/><circle cx="1180.3" cy="881.4" r="1.75" fill-opacity="0.75"/><circle cx="1189.7" cy="881.4" r="1.75" fill-opacity="0.9"/><circle cx="1199.1" cy="881.4" r="1.75" fill-opacity="0.45"/><circle cx="1208.5" cy="881.4" r="1.75" fill-opacity="0.9"/><circle cx="1217.9" cy="881.4" r="1.75" fill-opacity="0.9"/><circle cx="1227.3" cy="881.4" r="1.75" fill-opacity="0.3"/><circle cx="1236.7" cy="881.4" r="1.75" fill-opacity="0.9"/><circle cx="1246.1" cy="881.4" r="1.75" fill-opacity="0.6"/><circle cx="1255.5" cy="881.4" r="1.75" fill-opacity="0.45"/><circle cx="606.9" cy="890.8" r="1.75" fill-opacity="0.75"/><circle cx="616.3" cy="890.8" r="1.75" fill-opacity="0.45"/><circle cx="625.7" cy="890.8" r="1.75" fill-opacity="0.9"/><circle cx="635.1" cy="890.8" r="1.75" fill-opacity="0.3"/><circle cx="644.5" cy="890.8" r="1.75" fill-opacity="0.75"/><circle cx="653.9" cy="890.8" r="1.75" fill-opacity="0.3"/><circle cx="663.3" cy="890.8" r="1.75" fill-opacity="0.9"/><circle cx="672.7" cy="890.8" r="1.75" fill-opacity="0.3"/><circle cx="682.1" cy="890.8" r="1.75" fill-opacity="0.6"/><circle cx="691.5" cy="890.8" r="1.75" fill-opacity="0.75"/><circle cx="700.9" cy="890.8" r="1.75" fill-opacity="0.45"/><circle cx="710.3" cy="890.8" r="1.75" fill-opacity="0.45"/><circle cx="719.7" cy="890.8" r="1.75" fill-opacity="0.75"/><circle cx="766.7" cy="890.8" r="1.75" fill-opacity="0.75"/><circle cx="776.1" cy="890.8" r="1.75" fill-opacity="0.9"/><circle cx="785.5" cy="890.8" r="1.75" fill-opacity="0.3"/><circle cx="794.9" cy="890.8" r="1.75" fill-opacity="0.75"/><circle cx="804.3" cy="890.8" r="1.75" fill-opacity="0.75"/><circle cx="813.7" cy="890.8" r="1.75" fill-opacity="0.45"/><circle cx="823.1" cy="890.8" r="1.75" fill-opacity="0.75"/><circle cx="832.5" cy="890.8" r="1.75" fill-opacity="0.45"/><circle cx="841.9" cy="890.8" r="1.75" fill-opacity="0.75"/><circle cx="851.3" cy="890.8" r="1.75" fill-opacity="0.45"/><circle cx="1001.7" cy="890.8" r="1.75" fill-opacity="0.9"/><circle cx="1011.1" cy="890.8" r="1.75" fill-opacity="0.9"/><circle cx="1020.5" cy="890.8" r="1.75" fill-opacity="0.3"/><circle cx="1029.9" cy="890.8" r="1.75" fill-opacity="0.45"/><circle cx="1039.3" cy="890.8" r="1.75" fill-opacity="0.6"/><circle cx="1048.7" cy="890.8" r="1.75" fill-opacity="0.75"/><circle cx="1058.1" cy="890.8" r="1.75" fill-opacity="0.9"/><circle cx="1067.5" cy="890.8" r="1.75" fill-opacity="0.75"/><circle cx="1152.1" cy="890.8" r="1.75" fill-opacity="0.6"/><circle cx="1161.5" cy="890.8" r="1.75" fill-opacity="0.75"/><circle cx="1170.9" cy="890.8" r="1.75" fill-opacity="0.6"/><circle cx="1180.3" cy="890.8" r="1.75" fill-opacity="0.75"/><circle cx="1189.7" cy="890.8" r="1.75" fill-opacity="0.75"/><circle cx="1199.1" cy="890.8" r="1.75" fill-opacity="0.3"/><circle cx="1208.5" cy="890.8" r="1.75" fill-opacity="0.45"/><circle cx="1217.9" cy="890.8" r="1.75" fill-opacity="0.6"/><circle cx="1227.3" cy="890.8" r="1.75" fill-opacity="0.3"/><circle cx="1236.7" cy="890.8" r="1.75" fill-opacity="0.3"/><circle cx="1246.1" cy="890.8" r="1.75" fill-opacity="0.9"/><circle cx="1255.5" cy="890.8" r="1.75" fill-opacity="0.3"/><circle cx="606.9" cy="900.2" r="1.75" fill-opacity="0.6"/><circle cx="616.3" cy="900.2" r="1.75" fill-opacity="0.3"/><circle cx="625.7" cy="900.2" r="1.75" fill-opacity="0.9"/><circle cx="635.1" cy="900.2" r="1.75" fill-opacity="0.75"/><circle cx="644.5" cy="900.2" r="1.75" fill-opacity="0.75"/><circle cx="653.9" cy="900.2" r="1.75" fill-opacity="0.45"/><circle cx="663.3" cy="900.2" r="1.75" fill-opacity="0.3"/><circle cx="672.7" cy="900.2" r="1.75" fill-opacity="0.45"/><circle cx="682.1" cy="900.2" r="1.75" fill-opacity="0.75"/><circle cx="691.5" cy="900.2" r="1.75" fill-opacity="0.45"/><circle cx="700.9" cy="900.2" r="1.75" fill-opacity="0.6"/><circle cx="710.3" cy="900.2" r="1.75" fill-opacity="0.3"/><circle cx="719.7" cy="900.2" r="1.75" fill-opacity="0.6"/><circle cx="757.3" cy="900.2" r="1.75" fill-opacity="0.6"/><circle cx="766.7" cy="900.2" r="1.75" fill-opacity="0.75"/><circle cx="776.1" cy="900.2" r="1.75" fill-opacity="0.9"/><circle cx="785.5" cy="900.2" r="1.75" fill-opacity="0.9"/><circle cx="794.9" cy="900.2" r="1.75" fill-opacity="0.45"/><circle cx="804.3" cy="900.2" r="1.75" fill-opacity="0.6"/><circle cx="813.7" cy="900.2" r="1.75" fill-opacity="0.75"/><circle cx="823.1" cy="900.2" r="1.75" fill-opacity="0.6"/><circle cx="832.5" cy="900.2" r="1.75" fill-opacity="0.75"/><circle cx="841.9" cy="900.2" r="1.75" fill-opacity="0.6"/><circle cx="851.3" cy="900.2" r="1.75" fill-opacity="0.9"/><circle cx="1001.7" cy="900.2" r="1.75" fill-opacity="0.3"/><circle cx="1011.1" cy="900.2" r="1.75" fill-opacity="0.6"/><circle cx="1020.5" cy="900.2" r="1.75" fill-opacity="0.6"/><circle cx="1029.9" cy="900.2" r="1.75" fill-opacity="0.6"/><circle cx="1039.3" cy="900.2" r="1.75" fill-opacity="0.75"/><circle cx="1048.7" cy="900.2" r="1.75" fill-opacity="0.75"/><circle cx="1058.1" cy="900.2" r="1.75" fill-opacity="0.6"/><circle cx="1067.5" cy="900.2" r="1.75" fill-opacity="0.9"/><circle cx="1152.1" cy="900.2" r="1.75" fill-opacity="0.6"/><circle cx="1161.5" cy="900.2" r="1.75" fill-opacity="0.9"/><circle cx="1170.9" cy="900.2" r="1.75" fill-opacity="0.6"/><circle cx="1180.3" cy="900.2" r="1.75" fill-opacity="0.45"/><circle cx="1189.7" cy="900.2" r="1.75" fill-opacity="0.75"/><circle cx="1199.1" cy="900.2" r="1.75" fill-opacity="0.3"/><circle cx="1208.5" cy="900.2" r="1.75" fill-opacity="0.6"/><circle cx="1217.9" cy="900.2" r="1.75" fill-opacity="0.45"/><circle cx="1227.3" cy="900.2" r="1.75" fill-opacity="0.6"/><circle cx="1236.7" cy="900.2" r="1.75" fill-opacity="0.6"/><circle cx="1246.1" cy="900.2" r="1.75" fill-opacity="0.45"/><circle cx="606.9" cy="909.6" r="1.75" fill-opacity="0.9"/><circle cx="616.3" cy="909.6" r="1.75" fill-opacity="0.3"/><circle cx="625.7" cy="909.6" r="1.75" fill-opacity="0.3"/><circle cx="635.1" cy="909.6" r="1.75" fill-opacity="0.75"/><circle cx="644.5" cy="909.6" r="1.75" fill-opacity="0.9"/><circle cx="653.9" cy="909.6" r="1.75" fill-opacity="0.75"/><circle cx="663.3" cy="909.6" r="1.75" fill-opacity="0.9"/><circle cx="672.7" cy="909.6" r="1.75" fill-opacity="0.9"/><circle cx="682.1" cy="909.6" r="1.75" fill-opacity="0.3"/><circle cx="691.5" cy="909.6" r="1.75" fill-opacity="0.75"/><circle cx="700.9" cy="909.6" r="1.75" fill-opacity="0.6"/><circle cx="710.3" cy="909.6" r="1.75" fill-opacity="0.3"/><circle cx="719.7" cy="909.6" r="1.75" fill-opacity="0.3"/><circle cx="757.3" cy="909.6" r="1.75" fill-opacity="0.3"/><circle cx="766.7" cy="909.6" r="1.75" fill-opacity="0.45"/><circle cx="776.1" cy="909.6" r="1.75" fill-opacity="0.75"/><circle cx="785.5" cy="909.6" r="1.75" fill-opacity="0.9"/><circle cx="794.9" cy="909.6" r="1.75" fill-opacity="0.3"/><circle cx="804.3" cy="909.6" r="1.75" fill-opacity="0.9"/><circle cx="813.7" cy="909.6" r="1.75" fill-opacity="0.9"/><circle cx="823.1" cy="909.6" r="1.75" fill-opacity="0.9"/><circle cx="832.5" cy="909.6" r="1.75" fill-opacity="0.75"/><circle cx="841.9" cy="909.6" r="1.75" fill-opacity="0.9"/><circle cx="851.3" cy="909.6" r="1.75" fill-opacity="0.45"/><circle cx="1001.7" cy="909.6" r="1.75" fill-opacity="0.9"/><circle cx="1011.1" cy="909.6" r="1.75" fill-opacity="0.3"/><circle cx="1020.5" cy="909.6" r="1.75" fill-opacity="0.45"/><circle cx="1029.9" cy="909.6" r="1.75" fill-opacity="0.3"/><circle cx="1039.3" cy="909.6" r="1.75" fill-opacity="0.75"/><circle cx="1048.7" cy="909.6" r="1.75" fill-opacity="0.45"/><circle cx="1058.1" cy="909.6" r="1.75" fill-opacity="0.3"/><circle cx="1067.5" cy="909.6" r="1.75" fill-opacity="0.45"/><circle cx="1161.5" cy="909.6" r="1.75" fill-opacity="0.3"/><circle cx="1170.9" cy="909.6" r="1.75" fill-opacity="0.75"/><circle cx="1180.3" cy="909.6" r="1.75" fill-opacity="0.3"/><circle cx="1189.7" cy="909.6" r="1.75" fill-opacity="0.3"/><circle cx="1199.1" cy="909.6" r="1.75" fill-opacity="0.6"/><circle cx="1208.5" cy="909.6" r="1.75" fill-opacity="0.45"/><circle cx="1217.9" cy="909.6" r="1.75" fill-opacity="0.6"/><circle cx="1227.3" cy="909.6" r="1.75" fill-opacity="0.9"/><circle cx="1236.7" cy="909.6" r="1.75" fill-opacity="0.6"/><circle cx="1246.1" cy="909.6" r="1.75" fill-opacity="0.6"/><circle cx="606.9" cy="919.0" r="1.75" fill-opacity="0.45"/><circle cx="616.3" cy="919.0" r="1.75" fill-opacity="0.75"/><circle cx="625.7" cy="919.0" r="1.75" fill-opacity="0.3"/><circle cx="635.1" cy="919.0" r="1.75" fill-opacity="0.6"/><circle cx="644.5" cy="919.0" r="1.75" fill-opacity="0.3"/><circle cx="653.9" cy="919.0" r="1.75" fill-opacity="0.75"/><circle cx="663.3" cy="919.0" r="1.75" fill-opacity="0.9"/><circle cx="672.7" cy="919.0" r="1.75" fill-opacity="0.9"/><circle cx="682.1" cy="919.0" r="1.75" fill-opacity="0.3"/><circle cx="691.5" cy="919.0" r="1.75" fill-opacity="0.75"/><circle cx="700.9" cy="919.0" r="1.75" fill-opacity="0.9"/><circle cx="710.3" cy="919.0" r="1.75" fill-opacity="0.9"/><circle cx="719.7" cy="919.0" r="1.75" fill-opacity="0.3"/><circle cx="757.3" cy="919.0" r="1.75" fill-opacity="0.3"/><circle cx="766.7" cy="919.0" r="1.75" fill-opacity="0.75"/><circle cx="776.1" cy="919.0" r="1.75" fill-opacity="0.9"/><circle cx="785.5" cy="919.0" r="1.75" fill-opacity="0.75"/><circle cx="794.9" cy="919.0" r="1.75" fill-opacity="0.75"/><circle cx="804.3" cy="919.0" r="1.75" fill-opacity="0.3"/><circle cx="813.7" cy="919.0" r="1.75" fill-opacity="0.3"/><circle cx="823.1" cy="919.0" r="1.75" fill-opacity="0.75"/><circle cx="832.5" cy="919.0" r="1.75" fill-opacity="0.9"/><circle cx="841.9" cy="919.0" r="1.75" fill-opacity="0.9"/><circle cx="851.3" cy="919.0" r="1.75" fill-opacity="0.45"/><circle cx="1001.7" cy="919.0" r="1.75" fill-opacity="0.75"/><circle cx="1011.1" cy="919.0" r="1.75" fill-opacity="0.75"/><circle cx="1020.5" cy="919.0" r="1.75" fill-opacity="0.9"/><circle cx="1029.9" cy="919.0" r="1.75" fill-opacity="0.3"/><circle cx="1039.3" cy="919.0" r="1.75" fill-opacity="0.3"/><circle cx="1048.7" cy="919.0" r="1.75" fill-opacity="0.75"/><circle cx="1058.1" cy="919.0" r="1.75" fill-opacity="0.45"/><circle cx="1067.5" cy="919.0" r="1.75" fill-opacity="0.45"/><circle cx="1161.5" cy="919.0" r="1.75" fill-opacity="0.3"/><circle cx="1170.9" cy="919.0" r="1.75" fill-opacity="0.75"/><circle cx="1180.3" cy="919.0" r="1.75" fill-opacity="0.3"/><circle cx="1189.7" cy="919.0" r="1.75" fill-opacity="0.3"/><circle cx="1199.1" cy="919.0" r="1.75" fill-opacity="0.3"/><circle cx="1208.5" cy="919.0" r="1.75" fill-opacity="0.3"/><circle cx="1217.9" cy="919.0" r="1.75" fill-opacity="0.45"/><circle cx="1227.3" cy="919.0" r="1.75" fill-opacity="0.3"/><circle cx="1236.7" cy="919.0" r="1.75" fill-opacity="0.45"/><circle cx="606.9" cy="928.4" r="1.75" fill-opacity="0.75"/><circle cx="616.3" cy="928.4" r="1.75" fill-opacity="0.3"/><circle cx="625.7" cy="928.4" r="1.75" fill-opacity="0.6"/><circle cx="635.1" cy="928.4" r="1.75" fill-opacity="0.9"/><circle cx="644.5" cy="928.4" r="1.75" fill-opacity="0.45"/><circle cx="653.9" cy="928.4" r="1.75" fill-opacity="0.75"/><circle cx="663.3" cy="928.4" r="1.75" fill-opacity="0.45"/><circle cx="672.7" cy="928.4" r="1.75" fill-opacity="0.3"/><circle cx="682.1" cy="928.4" r="1.75" fill-opacity="0.6"/><circle cx="691.5" cy="928.4" r="1.75" fill-opacity="0.45"/><circle cx="700.9" cy="928.4" r="1.75" fill-opacity="0.3"/><circle cx="710.3" cy="928.4" r="1.75" fill-opacity="0.6"/><circle cx="719.7" cy="928.4" r="1.75" fill-opacity="0.9"/><circle cx="757.3" cy="928.4" r="1.75" fill-opacity="0.75"/><circle cx="766.7" cy="928.4" r="1.75" fill-opacity="0.75"/><circle cx="776.1" cy="928.4" r="1.75" fill-opacity="0.6"/><circle cx="785.5" cy="928.4" r="1.75" fill-opacity="0.3"/><circle cx="794.9" cy="928.4" r="1.75" fill-opacity="0.3"/><circle cx="804.3" cy="928.4" r="1.75" fill-opacity="0.3"/><circle cx="813.7" cy="928.4" r="1.75" fill-opacity="0.3"/><circle cx="823.1" cy="928.4" r="1.75" fill-opacity="0.3"/><circle cx="832.5" cy="928.4" r="1.75" fill-opacity="0.9"/><circle cx="841.9" cy="928.4" r="1.75" fill-opacity="0.3"/><circle cx="851.3" cy="928.4" r="1.75" fill-opacity="0.75"/><circle cx="1001.7" cy="928.4" r="1.75" fill-opacity="0.6"/><circle cx="1011.1" cy="928.4" r="1.75" fill-opacity="0.6"/><circle cx="1020.5" cy="928.4" r="1.75" fill-opacity="0.9"/><circle cx="1029.9" cy="928.4" r="1.75" fill-opacity="0.45"/><circle cx="1039.3" cy="928.4" r="1.75" fill-opacity="0.75"/><circle cx="1048.7" cy="928.4" r="1.75" fill-opacity="0.9"/><circle cx="1058.1" cy="928.4" r="1.75" fill-opacity="0.3"/><circle cx="1067.5" cy="928.4" r="1.75" fill-opacity="0.6"/><circle cx="1170.9" cy="928.4" r="1.75" fill-opacity="0.6"/><circle cx="1180.3" cy="928.4" r="1.75" fill-opacity="0.9"/><circle cx="1189.7" cy="928.4" r="1.75" fill-opacity="0.75"/><circle cx="1199.1" cy="928.4" r="1.75" fill-opacity="0.75"/><circle cx="1208.5" cy="928.4" r="1.75" fill-opacity="0.45"/><circle cx="1217.9" cy="928.4" r="1.75" fill-opacity="0.45"/><circle cx="1227.3" cy="928.4" r="1.75" fill-opacity="0.3"/><circle cx="1236.7" cy="928.4" r="1.75" fill-opacity="0.6"/><circle cx="606.9" cy="937.8" r="1.75" fill-opacity="0.45"/><circle cx="616.3" cy="937.8" r="1.75" fill-opacity="0.75"/><circle cx="625.7" cy="937.8" r="1.75" fill-opacity="0.75"/><circle cx="635.1" cy="937.8" r="1.75" fill-opacity="0.75"/><circle cx="644.5" cy="937.8" r="1.75" fill-opacity="0.75"/><circle cx="653.9" cy="937.8" r="1.75" fill-opacity="0.6"/><circle cx="663.3" cy="937.8" r="1.75" fill-opacity="0.9"/><circle cx="672.7" cy="937.8" r="1.75" fill-opacity="0.6"/><circle cx="682.1" cy="937.8" r="1.75" fill-opacity="0.6"/><circle cx="691.5" cy="937.8" r="1.75" fill-opacity="0.6"/><circle cx="700.9" cy="937.8" r="1.75" fill-opacity="0.3"/><circle cx="710.3" cy="937.8" r="1.75" fill-opacity="0.9"/><circle cx="719.7" cy="937.8" r="1.75" fill-opacity="0.9"/><circle cx="757.3" cy="937.8" r="1.75" fill-opacity="0.6"/><circle cx="766.7" cy="937.8" r="1.75" fill-opacity="0.9"/><circle cx="776.1" cy="937.8" r="1.75" fill-opacity="0.3"/><circle cx="785.5" cy="937.8" r="1.75" fill-opacity="0.45"/><circle cx="794.9" cy="937.8" r="1.75" fill-opacity="0.9"/><circle cx="804.3" cy="937.8" r="1.75" fill-opacity="0.6"/><circle cx="813.7" cy="937.8" r="1.75" fill-opacity="0.9"/><circle cx="823.1" cy="937.8" r="1.75" fill-opacity="0.75"/><circle cx="832.5" cy="937.8" r="1.75" fill-opacity="0.45"/><circle cx="841.9" cy="937.8" r="1.75" fill-opacity="0.75"/><circle cx="851.3" cy="937.8" r="1.75" fill-opacity="0.75"/><circle cx="1001.7" cy="937.8" r="1.75" fill-opacity="0.75"/><circle cx="1011.1" cy="937.8" r="1.75" fill-opacity="0.9"/><circle cx="1020.5" cy="937.8" r="1.75" fill-opacity="0.45"/><circle cx="1029.9" cy="937.8" r="1.75" fill-opacity="0.75"/><circle cx="1039.3" cy="937.8" r="1.75" fill-opacity="0.6"/><circle cx="1048.7" cy="937.8" r="1.75" fill-opacity="0.3"/><circle cx="1058.1" cy="937.8" r="1.75" fill-opacity="0.6"/><circle cx="1067.5" cy="937.8" r="1.75" fill-opacity="0.6"/><circle cx="1170.9" cy="937.8" r="1.75" fill-opacity="0.6"/><circle cx="1180.3" cy="937.8" r="1.75" fill-opacity="0.75"/><circle cx="1189.7" cy="937.8" r="1.75" fill-opacity="0.45"/><circle cx="1199.1" cy="937.8" r="1.75" fill-opacity="0.9"/><circle cx="1208.5" cy="937.8" r="1.75" fill-opacity="0.3"/><circle cx="1217.9" cy="937.8" r="1.75" fill-opacity="0.6"/><circle cx="1227.3" cy="937.8" r="1.75" fill-opacity="0.45"/><circle cx="606.9" cy="947.2" r="1.75" fill-opacity="0.9"/><circle cx="616.3" cy="947.2" r="1.75" fill-opacity="0.45"/><circle cx="625.7" cy="947.2" r="1.75" fill-opacity="0.6"/><circle cx="635.1" cy="947.2" r="1.75" fill-opacity="0.9"/><circle cx="644.5" cy="947.2" r="1.75" fill-opacity="0.75"/><circle cx="653.9" cy="947.2" r="1.75" fill-opacity="0.6"/><circle cx="663.3" cy="947.2" r="1.75" fill-opacity="0.9"/><circle cx="672.7" cy="947.2" r="1.75" fill-opacity="0.3"/><circle cx="682.1" cy="947.2" r="1.75" fill-opacity="0.9"/><circle cx="691.5" cy="947.2" r="1.75" fill-opacity="0.9"/><circle cx="700.9" cy="947.2" r="1.75" fill-opacity="0.75"/><circle cx="710.3" cy="947.2" r="1.75" fill-opacity="0.75"/><circle cx="719.7" cy="947.2" r="1.75" fill-opacity="0.45"/><circle cx="757.3" cy="947.2" r="1.75" fill-opacity="0.45"/><circle cx="766.7" cy="947.2" r="1.75" fill-opacity="0.6"/><circle cx="776.1" cy="947.2" r="1.75" fill-opacity="0.9"/><circle cx="785.5" cy="947.2" r="1.75" fill-opacity="0.3"/><circle cx="794.9" cy="947.2" r="1.75" fill-opacity="0.75"/><circle cx="804.3" cy="947.2" r="1.75" fill-opacity="0.75"/><circle cx="813.7" cy="947.2" r="1.75" fill-opacity="0.45"/><circle cx="823.1" cy="947.2" r="1.75" fill-opacity="0.6"/><circle cx="832.5" cy="947.2" r="1.75" fill-opacity="0.9"/><circle cx="841.9" cy="947.2" r="1.75" fill-opacity="0.3"/><circle cx="851.3" cy="947.2" r="1.75" fill-opacity="0.75"/><circle cx="1001.7" cy="947.2" r="1.75" fill-opacity="0.75"/><circle cx="1011.1" cy="947.2" r="1.75" fill-opacity="0.9"/><circle cx="1020.5" cy="947.2" r="1.75" fill-opacity="0.3"/><circle cx="1029.9" cy="947.2" r="1.75" fill-opacity="0.9"/><circle cx="1039.3" cy="947.2" r="1.75" fill-opacity="0.6"/><circle cx="1048.7" cy="947.2" r="1.75" fill-opacity="0.3"/><circle cx="1058.1" cy="947.2" r="1.75" fill-opacity="0.45"/><circle cx="1067.5" cy="947.2" r="1.75" fill-opacity="0.75"/><circle cx="1180.3" cy="947.2" r="1.75" fill-opacity="0.9"/><circle cx="1189.7" cy="947.2" r="1.75" fill-opacity="0.9"/><circle cx="1199.1" cy="947.2" r="1.75" fill-opacity="0.6"/><circle cx="1208.5" cy="947.2" r="1.75" fill-opacity="0.9"/><circle cx="1217.9" cy="947.2" r="1.75" fill-opacity="0.6"/><circle cx="1227.3" cy="947.2" r="1.75" fill-opacity="0.75"/><circle cx="606.9" cy="956.6" r="1.75" fill-opacity="0.9"/><circle cx="616.3" cy="956.6" r="1.75" fill-opacity="0.9"/><circle cx="625.7" cy="956.6" r="1.75" fill-opacity="0.45"/><circle cx="635.1" cy="956.6" r="1.75" fill-opacity="0.45"/><circle cx="644.5" cy="956.6" r="1.75" fill-opacity="0.45"/><circle cx="653.9" cy="956.6" r="1.75" fill-opacity="0.45"/><circle cx="663.3" cy="956.6" r="1.75" fill-opacity="0.3"/><circle cx="672.7" cy="956.6" r="1.75" fill-opacity="0.45"/><circle cx="682.1" cy="956.6" r="1.75" fill-opacity="0.6"/><circle cx="691.5" cy="956.6" r="1.75" fill-opacity="0.6"/><circle cx="700.9" cy="956.6" r="1.75" fill-opacity="0.9"/><circle cx="710.3" cy="956.6" r="1.75" fill-opacity="0.9"/><circle cx="719.7" cy="956.6" r="1.75" fill-opacity="0.6"/><circle cx="757.3" cy="956.6" r="1.75" fill-opacity="0.75"/><circle cx="766.7" cy="956.6" r="1.75" fill-opacity="0.9"/><circle cx="776.1" cy="956.6" r="1.75" fill-opacity="0.45"/><circle cx="785.5" cy="956.6" r="1.75" fill-opacity="0.45"/><circle cx="794.9" cy="956.6" r="1.75" fill-opacity="0.3"/><circle cx="804.3" cy="956.6" r="1.75" fill-opacity="0.75"/><circle cx="813.7" cy="956.6" r="1.75" fill-opacity="0.6"/><circle cx="823.1" cy="956.6" r="1.75" fill-opacity="0.3"/><circle cx="832.5" cy="956.6" r="1.75" fill-opacity="0.6"/><circle cx="841.9" cy="956.6" r="1.75" fill-opacity="0.75"/><circle cx="851.3" cy="956.6" r="1.75" fill-opacity="0.3"/><circle cx="1001.7" cy="956.6" r="1.75" fill-opacity="0.45"/><circle cx="1011.1" cy="956.6" r="1.75" fill-opacity="0.6"/><circle cx="1020.5" cy="956.6" r="1.75" fill-opacity="0.9"/><circle cx="1029.9" cy="956.6" r="1.75" fill-opacity="0.3"/><circle cx="1039.3" cy="956.6" r="1.75" fill-opacity="0.6"/><circle cx="1048.7" cy="956.6" r="1.75" fill-opacity="0.6"/><circle cx="1058.1" cy="956.6" r="1.75" fill-opacity="0.9"/><circle cx="1067.5" cy="956.6" r="1.75" fill-opacity="0.9"/><circle cx="1180.3" cy="956.6" r="1.75" fill-opacity="0.3"/><circle cx="1189.7" cy="956.6" r="1.75" fill-opacity="0.3"/><circle cx="1199.1" cy="956.6" r="1.75" fill-opacity="0.3"/><circle cx="1208.5" cy="956.6" r="1.75" fill-opacity="0.45"/><circle cx="1217.9" cy="956.6" r="1.75" fill-opacity="0.9"/><circle cx="606.9" cy="966.0" r="1.75" fill-opacity="0.75"/><circle cx="616.3" cy="966.0" r="1.75" fill-opacity="0.9"/><circle cx="625.7" cy="966.0" r="1.75" fill-opacity="0.9"/><circle cx="635.1" cy="966.0" r="1.75" fill-opacity="0.45"/><circle cx="644.5" cy="966.0" r="1.75" fill-opacity="0.6"/><circle cx="653.9" cy="966.0" r="1.75" fill-opacity="0.6"/><circle cx="663.3" cy="966.0" r="1.75" fill-opacity="0.75"/><circle cx="672.7" cy="966.0" r="1.75" fill-opacity="0.3"/><circle cx="682.1" cy="966.0" r="1.75" fill-opacity="0.75"/><circle cx="691.5" cy="966.0" r="1.75" fill-opacity="0.9"/><circle cx="700.9" cy="966.0" r="1.75" fill-opacity="0.9"/><circle cx="710.3" cy="966.0" r="1.75" fill-opacity="0.45"/><circle cx="719.7" cy="966.0" r="1.75" fill-opacity="0.6"/><circle cx="757.3" cy="966.0" r="1.75" fill-opacity="0.3"/><circle cx="766.7" cy="966.0" r="1.75" fill-opacity="0.6"/><circle cx="776.1" cy="966.0" r="1.75" fill-opacity="0.45"/><circle cx="785.5" cy="966.0" r="1.75" fill-opacity="0.45"/><circle cx="794.9" cy="966.0" r="1.75" fill-opacity="0.75"/><circle cx="804.3" cy="966.0" r="1.75" fill-opacity="0.3"/><circle cx="813.7" cy="966.0" r="1.75" fill-opacity="0.3"/><circle cx="823.1" cy="966.0" r="1.75" fill-opacity="0.3"/><circle cx="832.5" cy="966.0" r="1.75" fill-opacity="0.3"/><circle cx="841.9" cy="966.0" r="1.75" fill-opacity="0.9"/><circle cx="851.3" cy="966.0" r="1.75" fill-opacity="0.6"/><circle cx="1001.7" cy="966.0" r="1.75" fill-opacity="0.75"/><circle cx="1011.1" cy="966.0" r="1.75" fill-opacity="0.75"/><circle cx="1020.5" cy="966.0" r="1.75" fill-opacity="0.3"/><circle cx="1029.9" cy="966.0" r="1.75" fill-opacity="0.9"/><circle cx="1039.3" cy="966.0" r="1.75" fill-opacity="0.75"/><circle cx="1048.7" cy="966.0" r="1.75" fill-opacity="0.3"/><circle cx="1058.1" cy="966.0" r="1.75" fill-opacity="0.3"/><circle cx="1067.5" cy="966.0" r="1.75" fill-opacity="0.6"/><circle cx="1180.3" cy="966.0" r="1.75" fill-opacity="0.6"/><circle cx="1189.7" cy="966.0" r="1.75" fill-opacity="0.9"/><circle cx="1199.1" cy="966.0" r="1.75" fill-opacity="0.45"/><circle cx="1208.5" cy="966.0" r="1.75" fill-opacity="0.3"/><circle cx="1217.9" cy="966.0" r="1.75" fill-opacity="0.9"/><circle cx="606.9" cy="975.4" r="1.75" fill-opacity="0.75"/><circle cx="616.3" cy="975.4" r="1.75" fill-opacity="0.45"/><circle cx="625.7" cy="975.4" r="1.75" fill-opacity="0.75"/><circle cx="635.1" cy="975.4" r="1.75" fill-opacity="0.45"/><circle cx="644.5" cy="975.4" r="1.75" fill-opacity="0.6"/><circle cx="653.9" cy="975.4" r="1.75" fill-opacity="0.45"/><circle cx="663.3" cy="975.4" r="1.75" fill-opacity="0.45"/><circle cx="672.7" cy="975.4" r="1.75" fill-opacity="0.45"/><circle cx="682.1" cy="975.4" r="1.75" fill-opacity="0.3"/><circle cx="691.5" cy="975.4" r="1.75" fill-opacity="0.6"/><circle cx="700.9" cy="975.4" r="1.75" fill-opacity="0.6"/><circle cx="710.3" cy="975.4" r="1.75" fill-opacity="0.3"/><circle cx="757.3" cy="975.4" r="1.75" fill-opacity="0.9"/><circle cx="766.7" cy="975.4" r="1.75" fill-opacity="0.3"/><circle cx="776.1" cy="975.4" r="1.75" fill-opacity="0.3"/><circle cx="785.5" cy="975.4" r="1.75" fill-opacity="0.6"/><circle cx="794.9" cy="975.4" r="1.75" fill-opacity="0.9"/><circle cx="804.3" cy="975.4" r="1.75" fill-opacity="0.75"/><circle cx="813.7" cy="975.4" r="1.75" fill-opacity="0.3"/><circle cx="823.1" cy="975.4" r="1.75" fill-opacity="0.3"/><circle cx="832.5" cy="975.4" r="1.75" fill-opacity="0.45"/><circle cx="841.9" cy="975.4" r="1.75" fill-opacity="0.6"/><circle cx="851.3" cy="975.4" r="1.75" fill-opacity="0.3"/><circle cx="1001.7" cy="975.4" r="1.75" fill-opacity="0.45"/><circle cx="1011.1" cy="975.4" r="1.75" fill-opacity="0.6"/><circle cx="1020.5" cy="975.4" r="1.75" fill-opacity="0.9"/><circle cx="1029.9" cy="975.4" r="1.75" fill-opacity="0.9"/><circle cx="1039.3" cy="975.4" r="1.75" fill-opacity="0.75"/><circle cx="1048.7" cy="975.4" r="1.75" fill-opacity="0.3"/><circle cx="1058.1" cy="975.4" r="1.75" fill-opacity="0.75"/><circle cx="1067.5" cy="975.4" r="1.75" fill-opacity="0.6"/><circle cx="1180.3" cy="975.4" r="1.75" fill-opacity="0.6"/><circle cx="1189.7" cy="975.4" r="1.75" fill-opacity="0.6"/><circle cx="1199.1" cy="975.4" r="1.75" fill-opacity="0.75"/><circle cx="1208.5" cy="975.4" r="1.75" fill-opacity="0.3"/><circle cx="1217.9" cy="975.4" r="1.75" fill-opacity="0.6"/><circle cx="616.3" cy="984.8" r="1.75" fill-opacity="0.75"/><circle cx="625.7" cy="984.8" r="1.75" fill-opacity="0.75"/><circle cx="635.1" cy="984.8" r="1.75" fill-opacity="0.45"/><circle cx="644.5" cy="984.8" r="1.75" fill-opacity="0.75"/><circle cx="653.9" cy="984.8" r="1.75" fill-opacity="0.45"/><circle cx="663.3" cy="984.8" r="1.75" fill-opacity="0.45"/><circle cx="672.7" cy="984.8" r="1.75" fill-opacity="0.3"/><circle cx="682.1" cy="984.8" r="1.75" fill-opacity="0.75"/><circle cx="691.5" cy="984.8" r="1.75" fill-opacity="0.45"/><circle cx="700.9" cy="984.8" r="1.75" fill-opacity="0.3"/><circle cx="710.3" cy="984.8" r="1.75" fill-opacity="0.45"/><circle cx="766.7" cy="984.8" r="1.75" fill-opacity="0.45"/><circle cx="776.1" cy="984.8" r="1.75" fill-opacity="0.3"/><circle cx="785.5" cy="984.8" r="1.75" fill-opacity="0.9"/><circle cx="794.9" cy="984.8" r="1.75" fill-opacity="0.6"/><circle cx="804.3" cy="984.8" r="1.75" fill-opacity="0.45"/><circle cx="813.7" cy="984.8" r="1.75" fill-opacity="0.75"/><circle cx="823.1" cy="984.8" r="1.75" fill-opacity="0.3"/><circle cx="832.5" cy="984.8" r="1.75" fill-opacity="0.75"/><circle cx="841.9" cy="984.8" r="1.75" fill-opacity="0.3"/><circle cx="851.3" cy="984.8" r="1.75" fill-opacity="0.3"/><circle cx="1001.7" cy="984.8" r="1.75" fill-opacity="0.75"/><circle cx="1011.1" cy="984.8" r="1.75" fill-opacity="0.6"/><circle cx="1020.5" cy="984.8" r="1.75" fill-opacity="0.6"/><circle cx="1029.9" cy="984.8" r="1.75" fill-opacity="0.45"/><circle cx="1039.3" cy="984.8" r="1.75" fill-opacity="0.75"/><circle cx="1048.7" cy="984.8" r="1.75" fill-opacity="0.3"/><circle cx="1058.1" cy="984.8" r="1.75" fill-opacity="0.6"/><circle cx="1067.5" cy="984.8" r="1.75" fill-opacity="0.45"/><circle cx="1180.3" cy="984.8" r="1.75" fill-opacity="0.6"/><circle cx="1189.7" cy="984.8" r="1.75" fill-opacity="0.45"/><circle cx="1199.1" cy="984.8" r="1.75" fill-opacity="0.3"/><circle cx="1208.5" cy="984.8" r="1.75" fill-opacity="0.45"/><circle cx="1217.9" cy="984.8" r="1.75" fill-opacity="0.75"/><circle cx="616.3" cy="994.2" r="1.75" fill-opacity="0.9"/><circle cx="625.7" cy="994.2" r="1.75" fill-opacity="0.45"/><circle cx="635.1" cy="994.2" r="1.75" fill-opacity="0.75"/><circle cx="644.5" cy="994.2" r="1.75" fill-opacity="0.45"/><circle cx="653.9" cy="994.2" r="1.75" fill-opacity="0.6"/><circle cx="663.3" cy="994.2" r="1.75" fill-opacity="0.75"/><circle cx="672.7" cy="994.2" r="1.75" fill-opacity="0.75"/><circle cx="682.1" cy="994.2" r="1.75" fill-opacity="0.45"/><circle cx="691.5" cy="994.2" r="1.75" fill-opacity="0.45"/><circle cx="700.9" cy="994.2" r="1.75" fill-opacity="0.3"/><circle cx="710.3" cy="994.2" r="1.75" fill-opacity="0.6"/><circle cx="766.7" cy="994.2" r="1.75" fill-opacity="0.9"/><circle cx="776.1" cy="994.2" r="1.75" fill-opacity="0.6"/><circle cx="785.5" cy="994.2" r="1.75" fill-opacity="0.6"/><circle cx="794.9" cy="994.2" r="1.75" fill-opacity="0.45"/><circle cx="804.3" cy="994.2" r="1.75" fill-opacity="0.6"/><circle cx="813.7" cy="994.2" r="1.75" fill-opacity="0.75"/><circle cx="823.1" cy="994.2" r="1.75" fill-opacity="0.3"/><circle cx="832.5" cy="994.2" r="1.75" fill-opacity="0.6"/><circle cx="841.9" cy="994.2" r="1.75" fill-opacity="0.75"/><circle cx="851.3" cy="994.2" r="1.75" fill-opacity="0.75"/><circle cx="1001.7" cy="994.2" r="1.75" fill-opacity="0.3"/><circle cx="1011.1" cy="994.2" r="1.75" fill-opacity="0.45"/><circle cx="1020.5" cy="994.2" r="1.75" fill-opacity="0.9"/><circle cx="1029.9" cy="994.2" r="1.75" fill-opacity="0.3"/><circle cx="1039.3" cy="994.2" r="1.75" fill-opacity="0.45"/><circle cx="1048.7" cy="994.2" r="1.75" fill-opacity="0.9"/><circle cx="1058.1" cy="994.2" r="1.75" fill-opacity="0.75"/><circle cx="1067.5" cy="994.2" r="1.75" fill-opacity="0.6"/><circle cx="1180.3" cy="994.2" r="1.75" fill-opacity="0.3"/><circle cx="1189.7" cy="994.2" r="1.75" fill-opacity="0.6"/><circle cx="1199.1" cy="994.2" r="1.75" fill-opacity="0.45"/><circle cx="1208.5" cy="994.2" r="1.75" fill-opacity="0.6"/><circle cx="1217.9" cy="994.2" r="1.75" fill-opacity="0.75"/><circle cx="616.3" cy="1003.6" r="1.75" fill-opacity="0.6"/><circle cx="625.7" cy="1003.6" r="1.75" fill-opacity="0.45"/><circle cx="635.1" cy="1003.6" r="1.75" fill-opacity="0.45"/><circle cx="644.5" cy="1003.6" r="1.75" fill-opacity="0.3"/><circle cx="653.9" cy="1003.6" r="1.75" fill-opacity="0.75"/><circle cx="663.3" cy="1003.6" r="1.75" fill-opacity="0.6"/><circle cx="672.7" cy="1003.6" r="1.75" fill-opacity="0.75"/><circle cx="682.1" cy="1003.6" r="1.75" fill-opacity="0.45"/><circle cx="691.5" cy="1003.6" r="1.75" fill-opacity="0.3"/><circle cx="700.9" cy="1003.6" r="1.75" fill-opacity="0.6"/><circle cx="710.3" cy="1003.6" r="1.75" fill-opacity="0.45"/><circle cx="766.7" cy="1003.6" r="1.75" fill-opacity="0.3"/><circle cx="776.1" cy="1003.6" r="1.75" fill-opacity="0.75"/><circle cx="785.5" cy="1003.6" r="1.75" fill-opacity="0.9"/><circle cx="794.9" cy="1003.6" r="1.75" fill-opacity="0.6"/><circle cx="804.3" cy="1003.6" r="1.75" fill-opacity="0.9"/><circle cx="813.7" cy="1003.6" r="1.75" fill-opacity="0.45"/><circle cx="823.1" cy="1003.6" r="1.75" fill-opacity="0.75"/><circle cx="832.5" cy="1003.6" r="1.75" fill-opacity="0.3"/><circle cx="841.9" cy="1003.6" r="1.75" fill-opacity="0.9"/><circle cx="851.3" cy="1003.6" r="1.75" fill-opacity="0.6"/><circle cx="1001.7" cy="1003.6" r="1.75" fill-opacity="0.45"/><circle cx="1011.1" cy="1003.6" r="1.75" fill-opacity="0.6"/><circle cx="1020.5" cy="1003.6" r="1.75" fill-opacity="0.75"/><circle cx="1029.9" cy="1003.6" r="1.75" fill-opacity="0.3"/><circle cx="1039.3" cy="1003.6" r="1.75" fill-opacity="0.75"/><circle cx="1048.7" cy="1003.6" r="1.75" fill-opacity="0.45"/><circle cx="1058.1" cy="1003.6" r="1.75" fill-opacity="0.6"/><circle cx="1067.5" cy="1003.6" r="1.75" fill-opacity="0.9"/><circle cx="1180.3" cy="1003.6" r="1.75" fill-opacity="0.45"/><circle cx="1189.7" cy="1003.6" r="1.75" fill-opacity="0.45"/><circle cx="1199.1" cy="1003.6" r="1.75" fill-opacity="0.45"/><circle cx="1208.5" cy="1003.6" r="1.75" fill-opacity="0.9"/><circle cx="1217.9" cy="1003.6" r="1.75" fill-opacity="0.45"/><circle cx="625.7" cy="1013.0" r="1.75" fill-opacity="0.45"/><circle cx="635.1" cy="1013.0" r="1.75" fill-opacity="0.45"/><circle cx="644.5" cy="1013.0" r="1.75" fill-opacity="0.9"/><circle cx="653.9" cy="1013.0" r="1.75" fill-opacity="0.3"/><circle cx="663.3" cy="1013.0" r="1.75" fill-opacity="0.3"/><circle cx="672.7" cy="1013.0" r="1.75" fill-opacity="0.9"/><circle cx="682.1" cy="1013.0" r="1.75" fill-opacity="0.75"/><circle cx="691.5" cy="1013.0" r="1.75" fill-opacity="0.6"/><circle cx="700.9" cy="1013.0" r="1.75" fill-opacity="0.45"/><circle cx="710.3" cy="1013.0" r="1.75" fill-opacity="0.45"/><circle cx="776.1" cy="1013.0" r="1.75" fill-opacity="0.45"/><circle cx="785.5" cy="1013.0" r="1.75" fill-opacity="0.9"/><circle cx="794.9" cy="1013.0" r="1.75" fill-opacity="0.45"/><circle cx="804.3" cy="1013.0" r="1.75" fill-opacity="0.9"/><circle cx="813.7" cy="1013.0" r="1.75" fill-opacity="0.6"/><circle cx="823.1" cy="1013.0" r="1.75" fill-opacity="0.45"/><circle cx="832.5" cy="1013.0" r="1.75" fill-opacity="0.3"/><circle cx="841.9" cy="1013.0" r="1.75" fill-opacity="0.3"/><circle cx="851.3" cy="1013.0" r="1.75" fill-opacity="0.9"/><circle cx="1001.7" cy="1013.0" r="1.75" fill-opacity="0.75"/><circle cx="1011.1" cy="1013.0" r="1.75" fill-opacity="0.3"/><circle cx="1020.5" cy="1013.0" r="1.75" fill-opacity="0.9"/><circle cx="1029.9" cy="1013.0" r="1.75" fill-opacity="0.6"/><circle cx="1039.3" cy="1013.0" r="1.75" fill-opacity="0.6"/><circle cx="1048.7" cy="1013.0" r="1.75" fill-opacity="0.6"/><circle cx="1058.1" cy="1013.0" r="1.75" fill-opacity="0.75"/><circle cx="1067.5" cy="1013.0" r="1.75" fill-opacity="0.3"/><circle cx="1180.3" cy="1013.0" r="1.75" fill-opacity="0.3"/><circle cx="1189.7" cy="1013.0" r="1.75" fill-opacity="0.75"/><circle cx="1199.1" cy="1013.0" r="1.75" fill-opacity="0.75"/><circle cx="1208.5" cy="1013.0" r="1.75" fill-opacity="0.45"/><circle cx="1217.9" cy="1013.0" r="1.75" fill-opacity="0.6"/><circle cx="1001.7" cy="1022.4" r="1.75" fill-opacity="0.45"/><circle cx="1011.1" cy="1022.4" r="1.75" fill-opacity="0.45"/><circle cx="1020.5" cy="1022.4" r="1.75" fill-opacity="0.9"/><circle cx="1029.9" cy="1022.4" r="1.75" fill-opacity="0.6"/><circle cx="1039.3" cy="1022.4" r="1.75" fill-opacity="0.3"/><circle cx="1048.7" cy="1022.4" r="1.75" fill-opacity="0.45"/><circle cx="1058.1" cy="1022.4" r="1.75" fill-opacity="0.6"/><circle cx="1067.5" cy="1022.4" r="1.75" fill-opacity="0.9"/><circle cx="1180.3" cy="1022.4" r="1.75" fill-opacity="0.9"/><circle cx="1189.7" cy="1022.4" r="1.75" fill-opacity="0.3"/><circle cx="1199.1" cy="1022.4" r="1.75" fill-opacity="0.6"/><circle cx="1208.5" cy="1022.4" r="1.75" fill-opacity="0.9"/><circle cx="1217.9" cy="1022.4" r="1.75" fill-opacity="0.75"/></g>
<text x="822" y="1498" text-anchor="middle" font-size="29" stroke="#000" stroke-width="0.6" font-family="Liberation Sans, sans-serif">© Copyright 2018 Betamotor S.p.A.</text>
</svg>
</body></html>
